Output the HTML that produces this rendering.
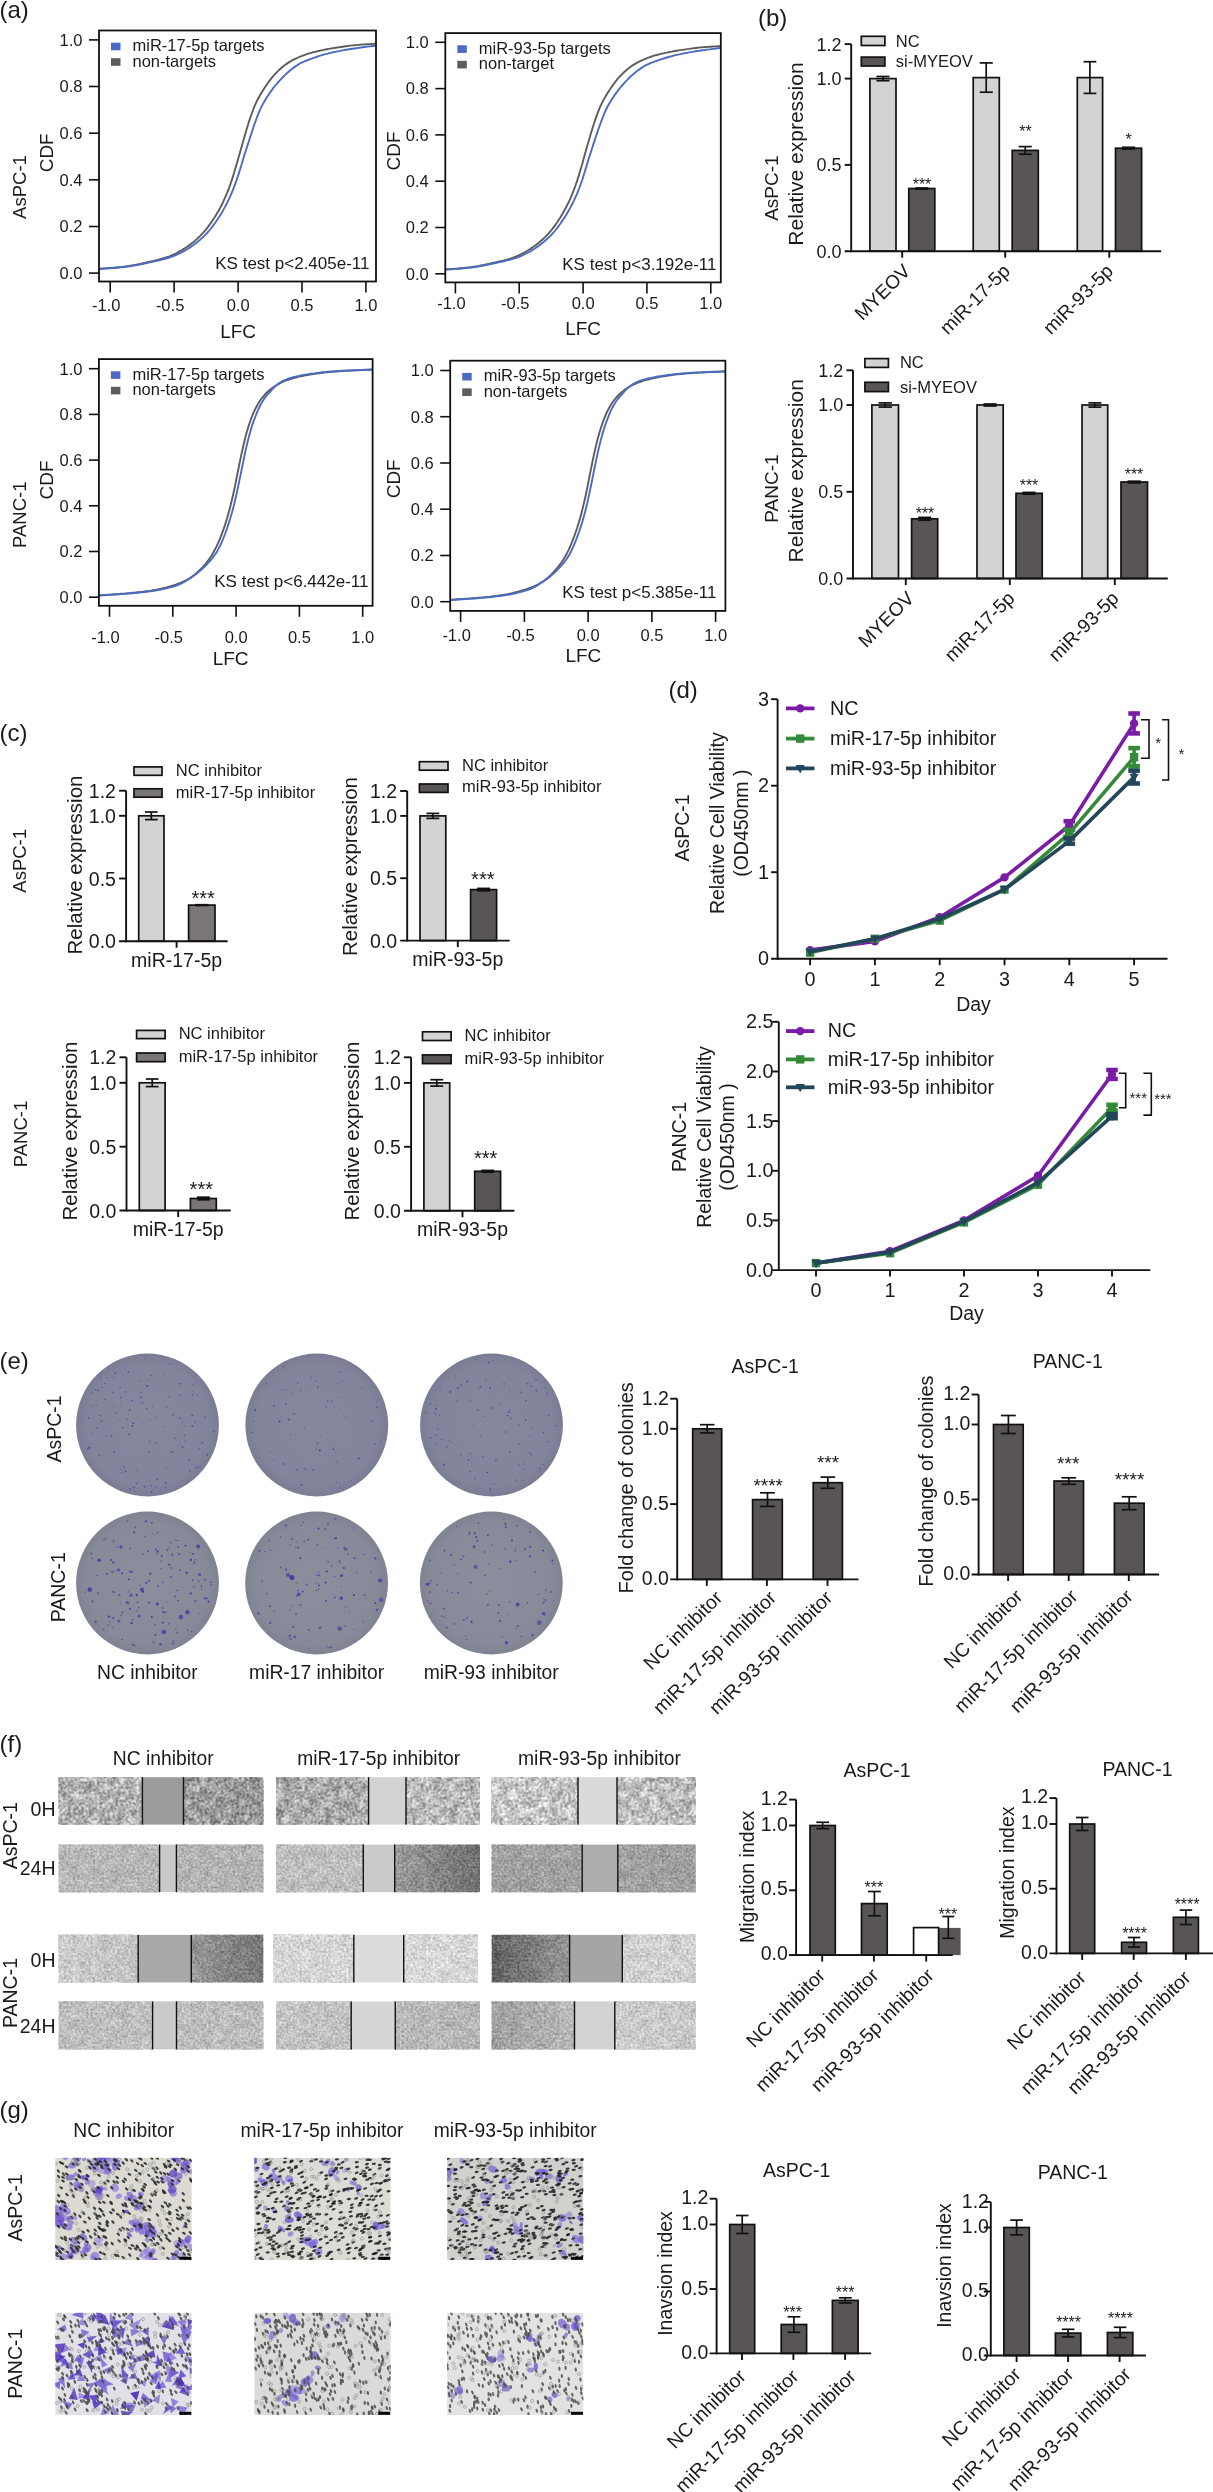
<!DOCTYPE html><html><head><meta charset="utf-8"><style>html,body{margin:0;padding:0;background:#fff;}svg{display:block;will-change:transform;}text{font-family:"Liberation Sans",sans-serif;}</style></head><body><svg width="1213" height="2492" viewBox="0 0 1213 2492" font-family='"Liberation Sans", sans-serif'><defs><clipPath id="clip0"><rect x="99" y="30.5" width="277" height="251"/></clipPath><clipPath id="clip1"><rect x="445.3" y="33.1" width="275.5" height="249.3"/></clipPath><clipPath id="clip2"><rect x="98.9" y="359.1" width="273.7" height="246.7"/></clipPath><clipPath id="clip3"><rect x="450.2" y="360.7" width="275.2" height="250.2"/></clipPath><filter id="nz1" x="0" y="0" width="1" height="1" color-interpolation-filters="sRGB"><feTurbulence type="fractalNoise" baseFrequency="0.12" numOctaves="2" seed="3" result="lo"/><feTurbulence type="fractalNoise" baseFrequency="0.38" numOctaves="1" seed="4" result="hi"/><feComposite in="lo" in2="hi" operator="arithmetic" k1="0" k2="0.4" k3="0.6" k4="0"/><feColorMatrix type="matrix" values="2.7 0 0 0 -0.8500000000000001 2.7 0 0 0 -0.8500000000000001 2.7 0 0 0 -0.8500000000000001 0 0 0 0 0.4"/></filter><filter id="nz2" x="0" y="0" width="1" height="1" color-interpolation-filters="sRGB"><feTurbulence type="fractalNoise" baseFrequency="0.12" numOctaves="2" seed="11" result="lo"/><feTurbulence type="fractalNoise" baseFrequency="0.38" numOctaves="1" seed="12" result="hi"/><feComposite in="lo" in2="hi" operator="arithmetic" k1="0" k2="0.4" k3="0.6" k4="0"/><feColorMatrix type="matrix" values="3.0 0 0 0 -1.0 3.0 0 0 0 -1.0 3.0 0 0 0 -1.0 0 0 0 0 0.4"/></filter><filter id="nz3" x="0" y="0" width="1" height="1" color-interpolation-filters="sRGB"><feTurbulence type="fractalNoise" baseFrequency="0.1" numOctaves="2" seed="5" result="lo"/><feTurbulence type="fractalNoise" baseFrequency="0.45" numOctaves="1" seed="6" result="hi"/><feComposite in="lo" in2="hi" operator="arithmetic" k1="0" k2="0.25" k3="0.75" k4="0"/><feColorMatrix type="matrix" values="2.2 0 0 0 -0.6000000000000001 2.2 0 0 0 -0.6000000000000001 2.2 0 0 0 -0.6000000000000001 0 0 0 0 0.26"/></filter><radialGradient id="plate" cx="0.5" cy="0.5" r="0.5"><stop offset="0" stop-color="#85889d"/><stop offset="0.85" stop-color="#81849a"/><stop offset="1" stop-color="#797c93"/></radialGradient><radialGradient id="plate2" cx="0.5" cy="0.5" r="0.5"><stop offset="0" stop-color="#8b8e9b"/><stop offset="0.85" stop-color="#878a98"/><stop offset="1" stop-color="#7f8291"/></radialGradient><linearGradient id="wg1"><stop offset="0" stop-color="#d0d0d0"/><stop offset="1" stop-color="#d3d3d3"/></linearGradient><linearGradient id="wg2"><stop offset="0" stop-color="#b2b2b2"/><stop offset="1" stop-color="#a8a8a8"/></linearGradient><linearGradient id="wg3"><stop offset="0" stop-color="#c6c6c6"/><stop offset="1" stop-color="#c9c9c9"/></linearGradient><linearGradient id="wg4"><stop offset="0" stop-color="#e4e4e4"/><stop offset="1" stop-color="#dddddd"/></linearGradient><linearGradient id="wg5"><stop offset="0" stop-color="#f8f8f8"/><stop offset="1" stop-color="#f1f1f1"/></linearGradient><linearGradient id="wg6"><stop offset="0" stop-color="#ebebeb"/><stop offset="1" stop-color="#e1e1e1"/></linearGradient><linearGradient id="wg7"><stop offset="0" stop-color="#cccccc"/><stop offset="1" stop-color="#c9c9c9"/></linearGradient><linearGradient id="wg8"><stop offset="0" stop-color="#c6c6c6"/><stop offset="1" stop-color="#c4c4c4"/></linearGradient><linearGradient id="wg9"><stop offset="0" stop-color="#d6d6d6"/><stop offset="1" stop-color="#d4d4d4"/></linearGradient><linearGradient id="wg10"><stop offset="0" stop-color="#a6a6a6"/><stop offset="1" stop-color="#6a6a6a"/></linearGradient><linearGradient id="wg11"><stop offset="0" stop-color="#ababab"/><stop offset="1" stop-color="#aeaeae"/></linearGradient><linearGradient id="wg12"><stop offset="0" stop-color="#aeaeae"/><stop offset="1" stop-color="#a9a9a9"/></linearGradient><linearGradient id="wg13"><stop offset="0" stop-color="#e7e7e7"/><stop offset="1" stop-color="#d9d9d9"/></linearGradient><linearGradient id="wg14"><stop offset="0" stop-color="#9e9e9e"/><stop offset="1" stop-color="#727272"/></linearGradient><linearGradient id="wg15"><stop offset="0" stop-color="#f4f4f4"/><stop offset="1" stop-color="#f2f2f2"/></linearGradient><linearGradient id="wg16"><stop offset="0" stop-color="#f7f7f7"/><stop offset="1" stop-color="#f4f4f4"/></linearGradient><linearGradient id="wg17"><stop offset="0" stop-color="#555555"/><stop offset="1" stop-color="#9e9e9e"/></linearGradient><linearGradient id="wg18"><stop offset="0" stop-color="#ececec"/><stop offset="1" stop-color="#ececec"/></linearGradient><linearGradient id="wg19"><stop offset="0" stop-color="#d4d4d4"/><stop offset="1" stop-color="#d4d4d4"/></linearGradient><linearGradient id="wg20"><stop offset="0" stop-color="#d4d4d4"/><stop offset="1" stop-color="#d1d1d1"/></linearGradient><linearGradient id="wg21"><stop offset="0" stop-color="#dcdcdc"/><stop offset="1" stop-color="#d6d6d6"/></linearGradient><linearGradient id="wg22"><stop offset="0" stop-color="#cecece"/><stop offset="1" stop-color="#c9c9c9"/></linearGradient><linearGradient id="wg23"><stop offset="0" stop-color="#ababab"/><stop offset="1" stop-color="#cccccc"/></linearGradient><linearGradient id="wg24"><stop offset="0" stop-color="#e7e7e7"/><stop offset="1" stop-color="#e1e1e1"/></linearGradient><filter id="soft" x="-20%" y="-20%" width="140%" height="140%"><feGaussianBlur stdDeviation="0.6"/></filter><clipPath id="gc25"><rect x="55.2" y="2157.7" width="136.6" height="102.3"/></clipPath><clipPath id="gc26"><rect x="254.2" y="2157.7" width="136.5" height="102.3"/></clipPath><clipPath id="gc27"><rect x="447.1" y="2157.7" width="136.3" height="102.3"/></clipPath><clipPath id="gc28"><rect x="55.2" y="2312.8" width="136.6" height="102.2"/></clipPath><clipPath id="gc29"><rect x="254.2" y="2312.8" width="136.5" height="102.2"/></clipPath><clipPath id="gc30"><rect x="447.1" y="2312.8" width="136.3" height="102.2"/></clipPath></defs><rect width="1213" height="2492" fill="#fff"/><text x="-0.5" y="17.8" font-size="24" text-anchor="start" fill="#1a1a1a">(a)</text>
<polyline points="94.9,269 96.6,269 98.2,268.9 99.9,268.7 101.6,268.6 103.3,268.5 105,268.4 106.7,268.2 108.4,268.1 110.1,268 111.8,267.9 113.5,267.7 115.2,267.6 116.9,267.4 118.6,267.3 120.3,267.1 122,266.9 123.7,266.7 125.4,266.5 127.1,266.2 128.7,266 130.4,265.7 132.1,265.4 133.8,265.1 135.5,264.8 137.2,264.4 138.9,264.1 140.6,263.7 142.3,263.4 144,263 145.7,262.6 147.4,262.2 149.1,261.9 150.8,261.5 152.5,261.1 154.2,260.7 155.9,260.3 157.6,259.9 159.3,259.5 160.9,259 162.6,258.5 164.3,258 166,257.5 167.7,256.9 169.4,256.3 171.1,255.6 172.8,254.9 174.5,254.1 176.2,253.3 177.9,252.4 179.6,251.4 181.3,250.5 183,249.4 184.7,248.4 186.4,247.3 188.1,246.1 189.8,244.9 191.4,243.6 193.1,242.3 194.8,240.9 196.5,239.4 198.2,237.8 199.9,236.2 201.6,234.4 203.3,232.6 205,230.6 206.7,228.6 208.4,226.4 210.1,224 211.8,221.6 213.5,219 215.2,216.4 216.9,213.6 218.6,210.7 220.3,207.6 222,204.3 223.6,200.9 225.3,197.1 227,193.1 228.7,188.8 230.4,184.2 232.1,179.1 233.8,173.8 235.5,168.1 237.2,162.2 238.9,156.2 240.6,150.2 242.3,144.2 244,138.2 245.7,132.4 247.4,126.8 249.1,121.3 250.8,116.2 252.5,111.5 254.1,107.2 255.8,103.3 257.5,99.8 259.2,96.7 260.9,93.7 262.6,91 264.3,88.3 266,85.8 267.7,83.3 269.4,80.9 271.1,78.7 272.8,76.6 274.5,74.7 276.2,72.8 277.9,71.1 279.6,69.5 281.3,68 283,66.6 284.7,65.3 286.3,64.1 288,62.9 289.7,61.8 291.4,60.9 293.1,59.9 294.8,59.1 296.5,58.3 298.2,57.5 299.9,56.7 301.6,56.1 303.3,55.4 305,54.8 306.7,54.2 308.4,53.6 310.1,53.1 311.8,52.7 313.5,52.2 315.2,51.8 316.8,51.4 318.5,51 320.2,50.6 321.9,50.2 323.6,49.9 325.3,49.5 327,49.2 328.7,48.9 330.4,48.6 332.1,48.3 333.8,48.1 335.5,47.8 337.2,47.5 338.9,47.3 340.6,47 342.3,46.8 344,46.5 345.7,46.3 347.4,46.1 349,45.8 350.7,45.6 352.4,45.4 354.1,45.3 355.8,45.1 357.5,44.9 359.2,44.8 360.9,44.6 362.6,44.5 364.3,44.4 366,44.3 367.7,44.2 369.4,44.1 371.1,44 372.8,43.9 374.5,43.8 376.2,43.7 377.9,43.6 379.5,43.5 381.2,43.5" fill="none" stroke="#5c5c5c" stroke-width="1.9" stroke-linejoin="round" clip-path="url(#clip0)"/>
<polyline points="94.9,269.1 96.6,269.1 98.2,269 99.9,268.9 101.6,268.8 103.3,268.7 105,268.6 106.7,268.5 108.4,268.3 110.1,268.2 111.8,268.1 113.5,267.9 115.2,267.8 116.9,267.7 118.6,267.5 120.3,267.4 122,267.2 123.7,267 125.4,266.8 127.1,266.6 128.7,266.4 130.4,266.2 132.1,265.9 133.8,265.6 135.5,265.3 137.2,265 138.9,264.7 140.6,264.4 142.3,264 144,263.7 145.7,263.3 147.4,262.9 149.1,262.6 150.8,262.2 152.5,261.8 154.2,261.4 155.9,261.1 157.6,260.7 159.3,260.3 160.9,259.9 162.6,259.4 164.3,259 166,258.5 167.7,258 169.4,257.5 171.1,256.9 172.8,256.3 174.5,255.7 176.2,255 177.9,254.2 179.6,253.4 181.3,252.5 183,251.6 184.7,250.7 186.4,249.7 188.1,248.7 189.8,247.6 191.4,246.4 193.1,245.3 194.8,244 196.5,242.7 198.2,241.3 199.9,239.9 201.6,238.4 203.3,236.8 205,235.1 206.7,233.3 208.4,231.5 210.1,229.5 211.8,227.4 213.5,225.1 215.2,222.8 216.9,220.3 218.6,217.8 220.3,215.1 222,212.4 223.6,209.4 225.3,206.4 227,203.1 228.7,199.6 230.4,195.9 232.1,192 233.8,187.7 235.5,183.2 237.2,178.3 238.9,173.1 240.6,167.7 242.3,162 244,156.3 245.7,151 247.4,145.7 249.1,140.5 250.8,135.3 252.5,130.2 254.1,125.3 255.8,120.5 257.5,115.9 259.2,111.6 260.9,107.9 262.6,104.6 264.3,101.5 266,98.7 267.7,96 269.4,93.5 271.1,91.1 272.8,88.7 274.5,86.5 276.2,84.5 277.9,82.5 279.6,80.6 281.3,78.8 283,77 284.7,75.4 286.3,73.8 288,72.3 289.7,70.8 291.4,69.5 293.1,68.1 294.8,66.9 296.5,65.7 298.2,64.6 299.9,63.5 301.6,62.6 303.3,61.9 305,61.2 306.7,60.5 308.4,59.8 310.1,59.2 311.8,58.6 313.5,57.9 315.2,57.4 316.8,56.8 318.5,56.2 320.2,55.7 321.9,55.2 323.6,54.7 325.3,54.2 327,53.8 328.7,53.3 330.4,52.9 332.1,52.5 333.8,52.1 335.5,51.8 337.2,51.4 338.9,51.1 340.6,50.7 342.3,50.4 344,50.1 345.7,49.8 347.4,49.5 349,49.3 350.7,49 352.4,48.7 354.1,48.5 355.8,48.2 357.5,48 359.2,47.7 360.9,47.5 362.6,47.2 364.3,47 366,46.8 367.7,46.6 369.4,46.4 371.1,46.2 372.8,46 374.5,45.8 376.2,45.6 377.9,45.4 379.5,45.2 381.2,45.1" fill="none" stroke="#4a6bc4" stroke-width="1.9" stroke-linejoin="round" clip-path="url(#clip0)"/>
<rect x="99" y="30.5" width="277" height="251" fill="none" stroke="#111" stroke-width="1.8"/>
<line x1="89" y1="273.1" x2="99" y2="273.1" stroke="#111" stroke-width="1.6"/>
<text x="82.5" y="278.9" font-size="16.5" text-anchor="end" fill="#1a1a1a">0.0</text>
<line x1="89" y1="226.5" x2="99" y2="226.5" stroke="#111" stroke-width="1.6"/>
<text x="82.5" y="232.3" font-size="16.5" text-anchor="end" fill="#1a1a1a">0.2</text>
<line x1="89" y1="179.8" x2="99" y2="179.8" stroke="#111" stroke-width="1.6"/>
<text x="82.5" y="185.6" font-size="16.5" text-anchor="end" fill="#1a1a1a">0.4</text>
<line x1="89" y1="133.2" x2="99" y2="133.2" stroke="#111" stroke-width="1.6"/>
<text x="82.5" y="139" font-size="16.5" text-anchor="end" fill="#1a1a1a">0.6</text>
<line x1="89" y1="86.5" x2="99" y2="86.5" stroke="#111" stroke-width="1.6"/>
<text x="82.5" y="92.3" font-size="16.5" text-anchor="end" fill="#1a1a1a">0.8</text>
<line x1="89" y1="39.9" x2="99" y2="39.9" stroke="#111" stroke-width="1.6"/>
<text x="82.5" y="45.7" font-size="16.5" text-anchor="end" fill="#1a1a1a">1.0</text>
<line x1="110.2" y1="281.5" x2="110.2" y2="292.5" stroke="#111" stroke-width="1.6"/>
<text x="106.2" y="311.4" font-size="16.5" text-anchor="middle" fill="#1a1a1a">-1.0</text>
<line x1="174.1" y1="281.5" x2="174.1" y2="292.5" stroke="#111" stroke-width="1.6"/>
<text x="170.1" y="311.4" font-size="16.5" text-anchor="middle" fill="#1a1a1a">-0.5</text>
<line x1="238.1" y1="281.5" x2="238.1" y2="292.5" stroke="#111" stroke-width="1.6"/>
<text x="238.1" y="311.4" font-size="16.5" text-anchor="middle" fill="#1a1a1a">0.0</text>
<line x1="302" y1="281.5" x2="302" y2="292.5" stroke="#111" stroke-width="1.6"/>
<text x="302" y="311.4" font-size="16.5" text-anchor="middle" fill="#1a1a1a">0.5</text>
<line x1="365.9" y1="281.5" x2="365.9" y2="292.5" stroke="#111" stroke-width="1.6"/>
<text x="365.9" y="311.4" font-size="16.5" text-anchor="middle" fill="#1a1a1a">1.0</text>
<text x="238.1" y="337.7" font-size="19" text-anchor="middle" fill="#1a1a1a">LFC</text>
<text transform="translate(53,152.8) rotate(-90)" font-size="19" text-anchor="middle" fill="#1a1a1a">CDF</text>
<text transform="translate(25.5,187) rotate(-90)" font-size="18.5" text-anchor="middle" fill="#1a1a1a">AsPC-1</text>
<rect x="111" y="42.7" width="9.5" height="7.6" fill="#4a6bc4" stroke="none" stroke-width="0"/>
<rect x="111" y="58.2" width="9.5" height="7.6" fill="#5c5c5c" stroke="none" stroke-width="0"/>
<text x="132.5" y="51" font-size="16.5" text-anchor="start" fill="#1a1a1a">miR-17-5p targets</text>
<text x="132.5" y="66.5" font-size="16.5" text-anchor="start" fill="#1a1a1a">non-targets</text>
<text x="369.5" y="268.8" font-size="17" text-anchor="end" fill="#1a1a1a">KS test p&lt;2.405e-11</text>
<polyline points="440.1,269.8 441.8,269.7 443.5,269.6 445.2,269.5 446.8,269.3 448.5,269.2 450.2,269.1 451.9,269 453.6,268.9 455.3,268.7 457,268.6 458.7,268.5 460.4,268.3 462.1,268.2 463.8,268 465.5,267.8 467.2,267.6 468.9,267.4 470.5,267.2 472.2,267 473.9,266.7 475.6,266.5 477.3,266.2 479,265.9 480.7,265.5 482.4,265.2 484.1,264.9 485.8,264.5 487.5,264.1 489.2,263.8 490.9,263.4 492.5,263 494.2,262.6 495.9,262.3 497.6,261.9 499.3,261.5 501,261.1 502.7,260.7 504.4,260.3 506.1,259.8 507.8,259.3 509.5,258.8 511.2,258.3 512.9,257.7 514.6,257.1 516.2,256.5 517.9,255.7 519.6,255 521.3,254.1 523,253.2 524.7,252.3 526.4,251.3 528.1,250.3 529.8,249.2 531.5,248.1 533.2,247 534.9,245.8 536.6,244.5 538.2,243.2 539.9,241.8 541.6,240.3 543.3,238.8 545,237.1 546.7,235.4 548.4,233.6 550.1,231.6 551.8,229.6 553.5,227.4 555.2,225.1 556.9,222.7 558.6,220.1 560.3,217.5 561.9,214.7 563.6,211.8 565.3,208.8 567,205.5 568.7,202.1 570.4,198.4 572.1,194.4 573.8,190.1 575.5,185.5 577.2,180.5 578.9,175.2 580.6,169.5 582.3,163.7 583.9,157.7 585.6,151.8 587.3,145.8 589,139.9 590.7,134.1 592.4,128.5 594.1,123.2 595.8,118.1 597.5,113.4 599.2,109.1 600.9,105.2 602.6,101.8 604.3,98.6 605.9,95.7 607.6,93 609.3,90.4 611,87.8 612.7,85.4 614.4,83 616.1,80.8 617.8,78.7 619.5,76.8 621.2,75 622.9,73.3 624.6,71.7 626.3,70.2 628,68.8 629.6,67.5 631.3,66.3 633,65.1 634.7,64.1 636.4,63.1 638.1,62.2 639.8,61.3 641.5,60.5 643.2,59.8 644.9,59 646.6,58.3 648.3,57.7 650,57.1 651.6,56.5 653.3,55.9 655,55.4 656.7,55 658.4,54.5 660.1,54.1 661.8,53.7 663.5,53.3 665.2,52.9 666.9,52.6 668.6,52.2 670.3,51.9 672,51.6 673.7,51.3 675.3,51 677,50.7 678.7,50.4 680.4,50.1 682.1,49.9 683.8,49.6 685.5,49.4 687.2,49.1 688.9,48.9 690.6,48.6 692.3,48.4 694,48.2 695.7,48 697.3,47.8 699,47.6 700.7,47.4 702.4,47.3 704.1,47.1 705.8,47 707.5,46.9 709.2,46.8 710.9,46.7 712.6,46.5 714.3,46.4 716,46.4 717.7,46.3 719.4,46.2 721,46.1 722.7,46 724.4,45.9 726.1,45.8" fill="none" stroke="#5c5c5c" stroke-width="1.9" stroke-linejoin="round" clip-path="url(#clip1)"/>
<polyline points="440.1,269.8 441.8,269.8 443.5,269.7 445.2,269.7 446.8,269.5 448.5,269.4 450.2,269.3 451.9,269.2 453.6,269.1 455.3,268.9 457,268.8 458.7,268.7 460.4,268.5 462.1,268.4 463.8,268.3 465.5,268.1 467.2,267.9 468.9,267.8 470.5,267.6 472.2,267.4 473.9,267.2 475.6,266.9 477.3,266.7 479,266.4 480.7,266.1 482.4,265.8 484.1,265.5 485.8,265.1 487.5,264.8 489.2,264.4 490.9,264.1 492.5,263.7 494.2,263.3 495.9,263 497.6,262.6 499.3,262.2 501,261.8 502.7,261.5 504.4,261.1 506.1,260.7 507.8,260.2 509.5,259.8 511.2,259.3 512.9,258.8 514.6,258.3 516.2,257.8 517.9,257.2 519.6,256.5 521.3,255.8 523,255.1 524.7,254.2 526.4,253.4 528.1,252.5 529.8,251.6 531.5,250.6 533.2,249.5 534.9,248.5 536.6,247.3 538.2,246.2 539.9,244.9 541.6,243.6 543.3,242.3 545,240.8 546.7,239.3 548.4,237.7 550.1,236.1 551.8,234.3 553.5,232.5 555.2,230.5 556.9,228.4 558.6,226.2 560.3,223.8 561.9,221.4 563.6,218.9 565.3,216.3 567,213.5 568.7,210.6 570.4,207.6 572.1,204.3 573.8,200.9 575.5,197.2 577.2,193.3 578.9,189.1 580.6,184.5 582.3,179.7 583.9,174.5 585.6,169.1 587.3,163.5 589,157.9 590.7,152.6 592.4,147.3 594.1,142.1 595.8,137 597.5,131.9 599.2,127 600.9,122.3 602.6,117.8 604.3,113.5 605.9,109.8 607.6,106.5 609.3,103.5 611,100.7 612.7,98 614.4,95.5 616.1,93.1 617.8,90.8 619.5,88.6 621.2,86.5 622.9,84.6 624.6,82.7 626.3,80.9 628,79.2 629.6,77.5 631.3,75.9 633,74.4 634.7,73 636.4,71.6 638.1,70.3 639.8,69.1 641.5,67.9 643.2,66.8 644.9,65.7 646.6,64.9 648.3,64.1 650,63.4 651.6,62.7 653.3,62.1 655,61.4 656.7,60.8 658.4,60.2 660.1,59.6 661.8,59.1 663.5,58.5 665.2,58 666.9,57.5 668.6,57 670.3,56.5 672,56.1 673.7,55.6 675.3,55.2 677,54.8 678.7,54.4 680.4,54.1 682.1,53.7 683.8,53.4 685.5,53.1 687.2,52.8 688.9,52.4 690.6,52.1 692.3,51.9 694,51.6 695.7,51.3 697.3,51 699,50.8 700.7,50.5 702.4,50.3 704.1,50.1 705.8,49.8 707.5,49.6 709.2,49.4 710.9,49.1 712.6,48.9 714.3,48.7 716,48.5 717.7,48.3 719.4,48.1 721,47.9 722.7,47.8 724.4,47.6 726.1,47.4" fill="none" stroke="#4a6bc4" stroke-width="1.9" stroke-linejoin="round" clip-path="url(#clip1)"/>
<rect x="445.3" y="33.1" width="275.5" height="249.3" fill="none" stroke="#111" stroke-width="1.8"/>
<line x1="435.3" y1="273.8" x2="445.3" y2="273.8" stroke="#111" stroke-width="1.6"/>
<text x="428.8" y="279.6" font-size="16.5" text-anchor="end" fill="#1a1a1a">0.0</text>
<line x1="435.3" y1="227.5" x2="445.3" y2="227.5" stroke="#111" stroke-width="1.6"/>
<text x="428.8" y="233.3" font-size="16.5" text-anchor="end" fill="#1a1a1a">0.2</text>
<line x1="435.3" y1="181.2" x2="445.3" y2="181.2" stroke="#111" stroke-width="1.6"/>
<text x="428.8" y="187" font-size="16.5" text-anchor="end" fill="#1a1a1a">0.4</text>
<line x1="435.3" y1="134.9" x2="445.3" y2="134.9" stroke="#111" stroke-width="1.6"/>
<text x="428.8" y="140.7" font-size="16.5" text-anchor="end" fill="#1a1a1a">0.6</text>
<line x1="435.3" y1="88.6" x2="445.3" y2="88.6" stroke="#111" stroke-width="1.6"/>
<text x="428.8" y="94.4" font-size="16.5" text-anchor="end" fill="#1a1a1a">0.8</text>
<line x1="435.3" y1="42.3" x2="445.3" y2="42.3" stroke="#111" stroke-width="1.6"/>
<text x="428.8" y="48.1" font-size="16.5" text-anchor="end" fill="#1a1a1a">1.0</text>
<line x1="455.4" y1="282.4" x2="455.4" y2="293.4" stroke="#111" stroke-width="1.6"/>
<text x="451.4" y="309.2" font-size="16.5" text-anchor="middle" fill="#1a1a1a">-1.0</text>
<line x1="519.2" y1="282.4" x2="519.2" y2="293.4" stroke="#111" stroke-width="1.6"/>
<text x="515.2" y="309.2" font-size="16.5" text-anchor="middle" fill="#1a1a1a">-0.5</text>
<line x1="583.1" y1="282.4" x2="583.1" y2="293.4" stroke="#111" stroke-width="1.6"/>
<text x="583.1" y="309.2" font-size="16.5" text-anchor="middle" fill="#1a1a1a">0.0</text>
<line x1="646.9" y1="282.4" x2="646.9" y2="293.4" stroke="#111" stroke-width="1.6"/>
<text x="646.9" y="309.2" font-size="16.5" text-anchor="middle" fill="#1a1a1a">0.5</text>
<line x1="710.8" y1="282.4" x2="710.8" y2="293.4" stroke="#111" stroke-width="1.6"/>
<text x="710.8" y="309.2" font-size="16.5" text-anchor="middle" fill="#1a1a1a">1.0</text>
<text x="583.1" y="334.8" font-size="19" text-anchor="middle" fill="#1a1a1a">LFC</text>
<text transform="translate(399.7,151) rotate(-90)" font-size="19" text-anchor="middle" fill="#1a1a1a">CDF</text>
<rect x="457.3" y="45.3" width="9.5" height="7.6" fill="#4a6bc4" stroke="none" stroke-width="0"/>
<rect x="457.3" y="60.8" width="9.5" height="7.6" fill="#5c5c5c" stroke="none" stroke-width="0"/>
<text x="478.8" y="53.6" font-size="16.5" text-anchor="start" fill="#1a1a1a">miR-93-5p targets</text>
<text x="478.8" y="69.1" font-size="16.5" text-anchor="start" fill="#1a1a1a">non-target</text>
<text x="716.5" y="269.5" font-size="17" text-anchor="end" fill="#1a1a1a">KS test p&lt;3.192e-11</text>
<polyline points="94.3,595.5 96,595.5 97.7,595.4 99.3,595.3 101,595.2 102.7,595.1 104.4,595 106.1,594.9 107.7,594.8 109.4,594.7 111.1,594.6 112.8,594.4 114.4,594.3 116.1,594.2 117.8,594.1 119.5,594 121.2,593.8 122.8,593.7 124.5,593.6 126.2,593.4 127.9,593.3 129.5,593.1 131.2,593 132.9,592.8 134.6,592.7 136.3,592.5 137.9,592.3 139.6,592.1 141.3,592 143,591.8 144.6,591.5 146.3,591.3 148,591.1 149.7,590.9 151.4,590.6 153,590.3 154.7,590 156.4,589.7 158.1,589.3 159.8,589 161.4,588.6 163.1,588.2 164.8,587.7 166.5,587.3 168.1,586.8 169.8,586.4 171.5,585.9 173.2,585.4 174.9,584.8 176.5,584.3 178.2,583.7 179.9,583.1 181.6,582.4 183.2,581.7 184.9,580.9 186.6,580.1 188.3,579.1 190,578.1 191.6,577 193.3,575.7 195,574.4 196.7,572.9 198.3,571.4 200,569.8 201.7,568.1 203.4,566.3 205.1,564.3 206.7,562.3 208.4,560.1 210.1,557.7 211.8,555.2 213.4,552.3 215.1,549.3 216.8,545.9 218.5,542.2 220.2,538.2 221.8,533.9 223.5,529.3 225.2,524.4 226.9,519 228.5,513.2 230.2,506.9 231.9,500 233.6,492.5 235.3,484.6 236.9,476.4 238.6,468 240.3,459.6 242,451.6 243.7,444.2 245.3,437.4 247,431.2 248.7,425.7 250.4,420.8 252,416.3 253.7,412.3 255.4,408.7 257.1,405.5 258.8,402.6 260.4,400.1 262.1,397.8 263.8,395.8 265.5,393.9 267.1,392.2 268.8,390.7 270.5,389.3 272.2,388 273.9,386.8 275.5,385.7 277.2,384.7 278.9,383.8 280.6,382.9 282.2,382.1 283.9,381.4 285.6,380.7 287.3,380.1 289,379.6 290.6,379 292.3,378.5 294,378 295.7,377.6 297.3,377.1 299,376.7 300.7,376.3 302.4,376 304.1,375.6 305.7,375.3 307.4,375 309.1,374.7 310.8,374.4 312.4,374.2 314.1,373.9 315.8,373.7 317.5,373.4 319.2,373.2 320.8,373 322.5,372.8 324.2,372.6 325.9,372.4 327.6,372.2 329.2,372 330.9,371.9 332.6,371.7 334.3,371.6 335.9,371.5 337.6,371.3 339.3,371.2 341,371.1 342.7,371 344.3,370.9 346,370.8 347.7,370.7 349.4,370.6 351,370.6 352.7,370.5 354.4,370.4 356.1,370.3 357.8,370.3 359.4,370.2 361.1,370.1 362.8,370 364.5,370 366.1,369.9 367.8,369.8 369.5,369.8 371.2,369.7 372.9,369.6 374.5,369.6 376.2,369.5 377.9,369.4" fill="none" stroke="#5c5c5c" stroke-width="1.9" stroke-linejoin="round" clip-path="url(#clip2)"/>
<polyline points="94.3,595.6 96,595.6 97.7,595.5 99.3,595.5 101,595.4 102.7,595.3 104.4,595.2 106.1,595.1 107.7,595 109.4,594.9 111.1,594.8 112.8,594.7 114.4,594.6 116.1,594.5 117.8,594.4 119.5,594.2 121.2,594.1 122.8,594 124.5,593.9 126.2,593.7 127.9,593.6 129.5,593.5 131.2,593.3 132.9,593.2 134.6,593 136.3,592.9 137.9,592.7 139.6,592.5 141.3,592.4 143,592.2 144.6,592 146.3,591.8 148,591.6 149.7,591.4 151.4,591.2 153,590.9 154.7,590.7 156.4,590.4 158.1,590.1 159.8,589.8 161.4,589.4 163.1,589.1 164.8,588.7 166.5,588.3 168.1,587.8 169.8,587.4 171.5,587 173.2,586.5 174.9,586 176.5,585.5 178.2,584.8 179.9,584.1 181.6,583.4 183.2,582.5 184.9,581.6 186.6,580.5 188.3,579.2 190,578.2 191.6,577.1 193.3,576 195,574.8 196.7,573.6 198.3,572.2 200,570.8 201.7,569.4 203.4,567.8 205.1,566.2 206.7,564.5 208.4,562.7 210.1,560.8 211.8,558.8 213.4,556.6 215.1,554.4 216.8,551.9 218.5,548.9 220.2,545.5 221.8,541.8 223.5,537.8 225.2,533.5 226.9,528.9 228.5,523.9 230.2,518.6 231.9,512.8 233.6,506.4 235.3,499.6 236.9,492.2 238.6,484.3 240.3,476.1 242,467.8 243.7,459.5 245.3,451.6 247,444.2 248.7,437.4 250.4,431.3 252,425.9 253.7,420.9 255.4,416.5 257.1,412.3 258.8,408.4 260.4,405 262.1,402 263.8,399.4 265.5,397 267.1,395 268.8,393.1 270.5,391.4 272.2,389.4 273.9,387.6 275.5,386.1 277.2,384.7 278.9,383.4 280.6,382.3 282.2,381.3 283.9,380.5 285.6,379.8 287.3,379.1 289,378.5 290.6,377.9 292.3,377.5 294,377 295.7,376.6 297.3,376.2 299,375.9 300.7,375.5 302.4,375.2 304.1,374.9 305.7,374.6 307.4,374.4 309.1,374.1 310.8,373.8 312.4,373.6 314.1,373.4 315.8,373.1 317.5,372.9 319.2,372.7 320.8,372.5 322.5,372.3 324.2,372.1 325.9,372 327.6,371.8 329.2,371.7 330.9,371.5 332.6,371.4 334.3,371.3 335.9,371.2 337.6,371.1 339.3,371 341,370.9 342.7,370.8 344.3,370.7 346,370.6 347.7,370.5 349.4,370.5 351,370.4 352.7,370.3 354.4,370.2 356.1,370.2 357.8,370.1 359.4,370 361.1,370 362.8,369.9 364.5,369.8 366.1,369.7 367.8,369.7 369.5,369.6 371.2,369.5 372.9,369.5 374.5,369.4 376.2,369.4 377.9,369.4" fill="none" stroke="#4a6bc4" stroke-width="1.9" stroke-linejoin="round" clip-path="url(#clip2)"/>
<rect x="98.9" y="359.1" width="273.7" height="246.7" fill="none" stroke="#111" stroke-width="1.8"/>
<line x1="88.9" y1="597.2" x2="98.9" y2="597.2" stroke="#111" stroke-width="1.6"/>
<text x="82.4" y="603" font-size="16.5" text-anchor="end" fill="#1a1a1a">0.0</text>
<line x1="88.9" y1="551.5" x2="98.9" y2="551.5" stroke="#111" stroke-width="1.6"/>
<text x="82.4" y="557.3" font-size="16.5" text-anchor="end" fill="#1a1a1a">0.2</text>
<line x1="88.9" y1="505.8" x2="98.9" y2="505.8" stroke="#111" stroke-width="1.6"/>
<text x="82.4" y="511.6" font-size="16.5" text-anchor="end" fill="#1a1a1a">0.4</text>
<line x1="88.9" y1="460.1" x2="98.9" y2="460.1" stroke="#111" stroke-width="1.6"/>
<text x="82.4" y="465.9" font-size="16.5" text-anchor="end" fill="#1a1a1a">0.6</text>
<line x1="88.9" y1="414.4" x2="98.9" y2="414.4" stroke="#111" stroke-width="1.6"/>
<text x="82.4" y="420.2" font-size="16.5" text-anchor="end" fill="#1a1a1a">0.8</text>
<line x1="88.9" y1="368.7" x2="98.9" y2="368.7" stroke="#111" stroke-width="1.6"/>
<text x="82.4" y="374.5" font-size="16.5" text-anchor="end" fill="#1a1a1a">1.0</text>
<line x1="109.5" y1="605.8" x2="109.5" y2="616.8" stroke="#111" stroke-width="1.6"/>
<text x="105.5" y="642.7" font-size="16.5" text-anchor="middle" fill="#1a1a1a">-1.0</text>
<line x1="172.8" y1="605.8" x2="172.8" y2="616.8" stroke="#111" stroke-width="1.6"/>
<text x="168.8" y="642.7" font-size="16.5" text-anchor="middle" fill="#1a1a1a">-0.5</text>
<line x1="236.1" y1="605.8" x2="236.1" y2="616.8" stroke="#111" stroke-width="1.6"/>
<text x="236.1" y="642.7" font-size="16.5" text-anchor="middle" fill="#1a1a1a">0.0</text>
<line x1="299.4" y1="605.8" x2="299.4" y2="616.8" stroke="#111" stroke-width="1.6"/>
<text x="299.4" y="642.7" font-size="16.5" text-anchor="middle" fill="#1a1a1a">0.5</text>
<line x1="362.7" y1="605.8" x2="362.7" y2="616.8" stroke="#111" stroke-width="1.6"/>
<text x="362.7" y="642.7" font-size="16.5" text-anchor="middle" fill="#1a1a1a">1.0</text>
<text x="230.6" y="664.8" font-size="19" text-anchor="middle" fill="#1a1a1a">LFC</text>
<text transform="translate(52.8,480) rotate(-90)" font-size="19" text-anchor="middle" fill="#1a1a1a">CDF</text>
<text transform="translate(25.5,514.8) rotate(-90)" font-size="18.5" text-anchor="middle" fill="#1a1a1a">PANC-1</text>
<rect x="110.9" y="371.3" width="9.5" height="7.6" fill="#4a6bc4" stroke="none" stroke-width="0"/>
<rect x="110.9" y="386.8" width="9.5" height="7.6" fill="#5c5c5c" stroke="none" stroke-width="0"/>
<text x="132.4" y="379.6" font-size="16.5" text-anchor="start" fill="#1a1a1a">miR-17-5p targets</text>
<text x="132.4" y="395.1" font-size="16.5" text-anchor="start" fill="#1a1a1a">non-targets</text>
<text x="368.5" y="586.7" font-size="17" text-anchor="end" fill="#1a1a1a">KS test p&lt;6.442e-11</text>
<polyline points="445.3,600 447,599.9 448.7,599.9 450.4,599.8 452.1,599.7 453.7,599.6 455.4,599.4 457.1,599.3 458.8,599.2 460.5,599.1 462.2,599 463.9,598.9 465.6,598.8 467.3,598.7 469,598.6 470.6,598.4 472.3,598.3 474,598.2 475.7,598 477.4,597.9 479.1,597.7 480.8,597.6 482.5,597.4 484.2,597.3 485.9,597.1 487.5,596.9 489.2,596.8 490.9,596.6 492.6,596.4 494.3,596.2 496,596 497.7,595.8 499.4,595.5 501.1,595.3 502.8,595 504.4,594.7 506.1,594.4 507.8,594.1 509.5,593.7 511.2,593.4 512.9,593 514.6,592.5 516.3,592.1 518,591.7 519.7,591.2 521.3,590.7 523,590.2 524.7,589.7 526.4,589.2 528.1,588.6 529.8,588 531.5,587.4 533.2,586.7 534.9,586 536.6,585.2 538.2,584.4 539.9,583.4 541.6,582.4 543.3,581.2 545,580 546.7,578.6 548.4,577.1 550.1,575.6 551.8,573.9 553.5,572.2 555.1,570.4 556.8,568.5 558.5,566.4 560.2,564.2 561.9,561.8 563.6,559.2 565.3,556.3 567,553.2 568.7,549.8 570.4,546 572,542 573.7,537.7 575.4,533 577.1,528 578.8,522.6 580.5,516.7 582.2,510.3 583.9,503.3 585.6,495.8 587.3,487.8 588.9,479.4 590.6,470.9 592.3,462.5 594,454.4 595.7,446.9 597.4,440 599.1,433.8 600.8,428.2 602.5,423.2 604.2,418.7 605.8,414.7 607.5,411 609.2,407.7 610.9,404.8 612.6,402.3 614.3,400 616,397.9 617.7,396 619.4,394.3 621.1,392.8 622.7,391.4 624.4,390.1 626.1,388.9 627.8,387.7 629.5,386.7 631.2,385.7 632.9,384.9 634.6,384.1 636.3,383.3 638,382.7 639.6,382.1 641.3,381.5 643,380.9 644.7,380.4 646.4,379.9 648.1,379.5 649.8,379 651.5,378.6 653.2,378.2 654.9,377.9 656.5,377.5 658.2,377.2 659.9,376.9 661.6,376.6 663.3,376.3 665,376 666.7,375.8 668.4,375.5 670.1,375.3 671.8,375 673.4,374.8 675.1,374.6 676.8,374.4 678.5,374.2 680.2,374 681.9,373.9 683.6,373.7 685.3,373.6 687,373.4 688.7,373.3 690.3,373.2 692,373 693.7,372.9 695.4,372.8 697.1,372.7 698.8,372.6 700.5,372.6 702.2,372.5 703.9,372.4 705.6,372.3 707.2,372.2 708.9,372.1 710.6,372.1 712.3,372 714,371.9 715.7,371.9 717.4,371.8 719.1,371.7 720.8,371.6 722.5,371.6 724.1,371.5 725.8,371.4 727.5,371.4 729.2,371.3 730.9,371.3" fill="none" stroke="#5c5c5c" stroke-width="1.9" stroke-linejoin="round" clip-path="url(#clip3)"/>
<polyline points="445.3,600.1 447,600.1 448.7,600 450.4,600 452.1,599.9 453.7,599.8 455.4,599.7 457.1,599.6 458.8,599.5 460.5,599.4 462.2,599.3 463.9,599.2 465.6,599.1 467.3,598.9 469,598.8 470.6,598.7 472.3,598.6 474,598.5 475.7,598.3 477.4,598.2 479.1,598.1 480.8,597.9 482.5,597.8 484.2,597.6 485.9,597.5 487.5,597.3 489.2,597.2 490.9,597 492.6,596.8 494.3,596.6 496,596.4 497.7,596.2 499.4,596 501.1,595.8 502.8,595.6 504.4,595.3 506.1,595.1 507.8,594.8 509.5,594.5 511.2,594.2 512.9,593.8 514.6,593.5 516.3,593.1 518,592.7 519.7,592.2 521.3,591.8 523,591.3 524.7,590.9 526.4,590.4 528.1,589.8 529.8,589.2 531.5,588.5 533.2,587.7 534.9,586.9 536.6,585.9 538.2,584.8 539.9,583.5 541.6,582.4 543.3,581.4 545,580.3 546.7,579.1 548.4,577.8 550.1,576.4 551.8,575 553.5,573.6 555.1,572 556.8,570.3 558.5,568.6 560.2,566.8 561.9,564.9 563.6,562.8 565.3,560.7 567,558.4 568.7,555.9 570.4,552.8 572,549.4 573.7,545.6 575.4,541.6 577.1,537.2 578.8,532.6 580.5,527.6 582.2,522.2 583.9,516.3 585.6,509.9 587.3,502.9 588.9,495.4 590.6,487.5 592.3,479.2 594,470.7 595.7,462.4 597.4,454.4 599.1,446.9 600.8,440.1 602.5,433.9 604.2,428.3 605.8,423.3 607.5,418.8 609.2,414.6 610.9,410.7 612.6,407.2 614.3,404.2 616,401.5 617.7,399.2 619.4,397.1 621.1,395.2 622.7,393.5 624.4,391.4 626.1,389.6 627.8,388.1 629.5,386.7 631.2,385.3 632.9,384.2 634.6,383.3 636.3,382.4 638,381.7 639.6,381 641.3,380.4 643,379.8 644.7,379.4 646.4,378.9 648.1,378.5 649.8,378.1 651.5,377.8 653.2,377.4 654.9,377.1 656.5,376.8 658.2,376.5 659.9,376.2 661.6,376 663.3,375.7 665,375.5 666.7,375.2 668.4,375 670.1,374.8 671.8,374.6 673.4,374.4 675.1,374.2 676.8,374 678.5,373.8 680.2,373.7 681.9,373.5 683.6,373.4 685.3,373.3 687,373.1 688.7,373 690.3,372.9 692,372.8 693.7,372.7 695.4,372.6 697.1,372.5 698.8,372.4 700.5,372.4 702.2,372.3 703.9,372.2 705.6,372.1 707.2,372.1 708.9,372 710.6,371.9 712.3,371.8 714,371.8 715.7,371.7 717.4,371.6 719.1,371.6 720.8,371.5 722.5,371.4 724.1,371.3 725.8,371.3 727.5,371.2 729.2,371.2 730.9,371.2" fill="none" stroke="#4a6bc4" stroke-width="1.9" stroke-linejoin="round" clip-path="url(#clip3)"/>
<rect x="450.2" y="360.7" width="275.2" height="250.2" fill="none" stroke="#111" stroke-width="1.8"/>
<line x1="440.2" y1="601.7" x2="450.2" y2="601.7" stroke="#111" stroke-width="1.6"/>
<text x="433.7" y="607.5" font-size="16.5" text-anchor="end" fill="#1a1a1a">0.0</text>
<line x1="440.2" y1="555.5" x2="450.2" y2="555.5" stroke="#111" stroke-width="1.6"/>
<text x="433.7" y="561.3" font-size="16.5" text-anchor="end" fill="#1a1a1a">0.2</text>
<line x1="440.2" y1="509.2" x2="450.2" y2="509.2" stroke="#111" stroke-width="1.6"/>
<text x="433.7" y="515" font-size="16.5" text-anchor="end" fill="#1a1a1a">0.4</text>
<line x1="440.2" y1="463" x2="450.2" y2="463" stroke="#111" stroke-width="1.6"/>
<text x="433.7" y="468.8" font-size="16.5" text-anchor="end" fill="#1a1a1a">0.6</text>
<line x1="440.2" y1="416.7" x2="450.2" y2="416.7" stroke="#111" stroke-width="1.6"/>
<text x="433.7" y="422.5" font-size="16.5" text-anchor="end" fill="#1a1a1a">0.8</text>
<line x1="440.2" y1="370.5" x2="450.2" y2="370.5" stroke="#111" stroke-width="1.6"/>
<text x="433.7" y="376.3" font-size="16.5" text-anchor="end" fill="#1a1a1a">1.0</text>
<line x1="460.6" y1="610.9" x2="460.6" y2="621.9" stroke="#111" stroke-width="1.6"/>
<text x="456.6" y="640.5" font-size="16.5" text-anchor="middle" fill="#1a1a1a">-1.0</text>
<line x1="524.4" y1="610.9" x2="524.4" y2="621.9" stroke="#111" stroke-width="1.6"/>
<text x="520.4" y="640.5" font-size="16.5" text-anchor="middle" fill="#1a1a1a">-0.5</text>
<line x1="588.1" y1="610.9" x2="588.1" y2="621.9" stroke="#111" stroke-width="1.6"/>
<text x="588.1" y="640.5" font-size="16.5" text-anchor="middle" fill="#1a1a1a">0.0</text>
<line x1="651.9" y1="610.9" x2="651.9" y2="621.9" stroke="#111" stroke-width="1.6"/>
<text x="651.9" y="640.5" font-size="16.5" text-anchor="middle" fill="#1a1a1a">0.5</text>
<line x1="715.6" y1="610.9" x2="715.6" y2="621.9" stroke="#111" stroke-width="1.6"/>
<text x="715.6" y="640.5" font-size="16.5" text-anchor="middle" fill="#1a1a1a">1.0</text>
<text x="583.4" y="661.8" font-size="19" text-anchor="middle" fill="#1a1a1a">LFC</text>
<text transform="translate(399.7,478.8) rotate(-90)" font-size="19" text-anchor="middle" fill="#1a1a1a">CDF</text>
<rect x="462.2" y="372.9" width="9.5" height="7.6" fill="#4a6bc4" stroke="none" stroke-width="0"/>
<rect x="462.2" y="388.4" width="9.5" height="7.6" fill="#5c5c5c" stroke="none" stroke-width="0"/>
<text x="483.7" y="381.2" font-size="16.5" text-anchor="start" fill="#1a1a1a">miR-93-5p targets</text>
<text x="483.7" y="396.7" font-size="16.5" text-anchor="start" fill="#1a1a1a">non-targets</text>
<text x="716.5" y="597.8" font-size="17" text-anchor="end" fill="#1a1a1a">KS test p&lt;5.385e-11</text>
<text x="758" y="26.3" font-size="24" text-anchor="start" fill="#1a1a1a">(b)</text>
<rect x="869.9" y="78.6" width="26.1" height="172.6" fill="#d3d3d3" stroke="#111" stroke-width="1.7"/>
<line x1="883" y1="76.5" x2="883" y2="80.7" stroke="#111" stroke-width="1.7"/>
<line x1="876.4" y1="76.5" x2="889.5" y2="76.5" stroke="#111" stroke-width="1.7"/>
<line x1="876.4" y1="80.7" x2="889.5" y2="80.7" stroke="#111" stroke-width="1.7"/>
<rect x="908.8" y="188.5" width="26" height="62.7" fill="#595556" stroke="#111" stroke-width="1.7"/>
<line x1="921.8" y1="188" x2="921.8" y2="189.1" stroke="#111" stroke-width="1.7"/>
<line x1="915.3" y1="188" x2="928.3" y2="188" stroke="#111" stroke-width="1.7"/>
<line x1="915.3" y1="189.1" x2="928.3" y2="189.1" stroke="#111" stroke-width="1.7"/>
<rect x="973.2" y="77.6" width="26.1" height="173.6" fill="#d3d3d3" stroke="#111" stroke-width="1.7"/>
<line x1="986.2" y1="62.9" x2="986.2" y2="92.2" stroke="#111" stroke-width="1.7"/>
<line x1="979.7" y1="62.9" x2="992.8" y2="62.9" stroke="#111" stroke-width="1.7"/>
<line x1="979.7" y1="92.2" x2="992.8" y2="92.2" stroke="#111" stroke-width="1.7"/>
<rect x="1012.2" y="150.4" width="26.1" height="100.8" fill="#595556" stroke="#111" stroke-width="1.7"/>
<line x1="1025.2" y1="146.6" x2="1025.2" y2="154.2" stroke="#111" stroke-width="1.7"/>
<line x1="1018.7" y1="146.6" x2="1031.8" y2="146.6" stroke="#111" stroke-width="1.7"/>
<line x1="1018.7" y1="154.2" x2="1031.8" y2="154.2" stroke="#111" stroke-width="1.7"/>
<rect x="1077.3" y="77.6" width="25.3" height="173.6" fill="#d3d3d3" stroke="#111" stroke-width="1.7"/>
<line x1="1089.9" y1="61.7" x2="1089.9" y2="93.4" stroke="#111" stroke-width="1.7"/>
<line x1="1083.6" y1="61.7" x2="1096.3" y2="61.7" stroke="#111" stroke-width="1.7"/>
<line x1="1083.6" y1="93.4" x2="1096.3" y2="93.4" stroke="#111" stroke-width="1.7"/>
<rect x="1115.5" y="148.2" width="26.1" height="103" fill="#595556" stroke="#111" stroke-width="1.7"/>
<line x1="1128.5" y1="147.3" x2="1128.5" y2="149" stroke="#111" stroke-width="1.7"/>
<line x1="1122" y1="147.3" x2="1135.1" y2="147.3" stroke="#111" stroke-width="1.7"/>
<line x1="1122" y1="149" x2="1135.1" y2="149" stroke="#111" stroke-width="1.7"/>
<line x1="851.2" y1="44.1" x2="851.2" y2="252.1" stroke="#111" stroke-width="1.9"/>
<line x1="844.7" y1="251.2" x2="1161.1" y2="251.2" stroke="#111" stroke-width="1.9"/>
<text x="841.5" y="257.6" font-size="18" text-anchor="end" fill="#1a1a1a">0.0</text>
<line x1="844.7" y1="164.9" x2="851.2" y2="164.9" stroke="#111" stroke-width="1.9"/>
<text x="841.5" y="171.3" font-size="18" text-anchor="end" fill="#1a1a1a">0.5</text>
<line x1="844.7" y1="78.6" x2="851.2" y2="78.6" stroke="#111" stroke-width="1.9"/>
<text x="841.5" y="85" font-size="18" text-anchor="end" fill="#1a1a1a">1.0</text>
<line x1="844.7" y1="44.1" x2="851.2" y2="44.1" stroke="#111" stroke-width="1.9"/>
<text x="841.5" y="50.5" font-size="18" text-anchor="end" fill="#1a1a1a">1.2</text>
<line x1="902.2" y1="251.2" x2="902.2" y2="257.7" stroke="#111" stroke-width="1.9"/>
<line x1="1005.2" y1="251.2" x2="1005.2" y2="257.7" stroke="#111" stroke-width="1.9"/>
<line x1="1109.3" y1="251.2" x2="1109.3" y2="257.7" stroke="#111" stroke-width="1.9"/>
<text transform="translate(911.6,272.2) rotate(-45)" font-size="19.2" text-anchor="end" fill="#1a1a1a">MYEOV</text>
<text transform="translate(1011.2,272.2) rotate(-45)" font-size="19.2" text-anchor="end" fill="#1a1a1a">miR-17-5p</text>
<text transform="translate(1114.3,272.2) rotate(-45)" font-size="19.2" text-anchor="end" fill="#1a1a1a">miR-93-5p</text>
<text x="922" y="190.4" font-size="16" text-anchor="middle" fill="#1a1a1a">***</text>
<text x="1025.5" y="136.9" font-size="16" text-anchor="middle" fill="#1a1a1a">**</text>
<text x="1128.5" y="144.7" font-size="16" text-anchor="middle" fill="#1a1a1a">*</text>
<rect x="861.3" y="36.3" width="23.6" height="9.2" fill="#d3d3d3" stroke="#111" stroke-width="1.7"/>
<text x="895.8" y="46.5" font-size="16.5" text-anchor="start" fill="#1a1a1a">NC</text>
<rect x="861.3" y="57.1" width="23.6" height="8.9" fill="#595556" stroke="#111" stroke-width="1.7"/>
<text x="895.8" y="67" font-size="16.5" text-anchor="start" fill="#1a1a1a">si-MYEOV</text>
<text transform="translate(802.8,154) rotate(-90)" font-size="21" text-anchor="middle" fill="#1a1a1a">Relative expression</text>
<text transform="translate(778.3,188.1) rotate(-90)" font-size="19" text-anchor="middle" fill="#1a1a1a">AsPC-1</text>
<rect x="871.9" y="405" width="26.6" height="173.5" fill="#d3d3d3" stroke="#111" stroke-width="1.7"/>
<line x1="885.2" y1="402.9" x2="885.2" y2="407.1" stroke="#111" stroke-width="1.7"/>
<line x1="878.6" y1="402.9" x2="891.9" y2="402.9" stroke="#111" stroke-width="1.7"/>
<line x1="878.6" y1="407.1" x2="891.9" y2="407.1" stroke="#111" stroke-width="1.7"/>
<rect x="911.6" y="518.8" width="26.1" height="59.7" fill="#595556" stroke="#111" stroke-width="1.7"/>
<line x1="924.7" y1="517.4" x2="924.7" y2="520.2" stroke="#111" stroke-width="1.7"/>
<line x1="918.1" y1="517.4" x2="931.2" y2="517.4" stroke="#111" stroke-width="1.7"/>
<line x1="918.1" y1="520.2" x2="931.2" y2="520.2" stroke="#111" stroke-width="1.7"/>
<rect x="977" y="405" width="26.2" height="173.5" fill="#d3d3d3" stroke="#111" stroke-width="1.7"/>
<line x1="990.1" y1="404" x2="990.1" y2="406" stroke="#111" stroke-width="1.7"/>
<line x1="983.5" y1="404" x2="996.7" y2="404" stroke="#111" stroke-width="1.7"/>
<line x1="983.5" y1="406" x2="996.7" y2="406" stroke="#111" stroke-width="1.7"/>
<rect x="1016" y="493.3" width="26.2" height="85.2" fill="#595556" stroke="#111" stroke-width="1.7"/>
<line x1="1029.1" y1="492.4" x2="1029.1" y2="494.2" stroke="#111" stroke-width="1.7"/>
<line x1="1022.5" y1="492.4" x2="1035.6" y2="492.4" stroke="#111" stroke-width="1.7"/>
<line x1="1022.5" y1="494.2" x2="1035.6" y2="494.2" stroke="#111" stroke-width="1.7"/>
<rect x="1082" y="405" width="25.7" height="173.5" fill="#d3d3d3" stroke="#111" stroke-width="1.7"/>
<line x1="1094.8" y1="402.9" x2="1094.8" y2="407.1" stroke="#111" stroke-width="1.7"/>
<line x1="1088.4" y1="402.9" x2="1101.3" y2="402.9" stroke="#111" stroke-width="1.7"/>
<line x1="1088.4" y1="407.1" x2="1101.3" y2="407.1" stroke="#111" stroke-width="1.7"/>
<rect x="1121" y="482" width="26.5" height="96.5" fill="#595556" stroke="#111" stroke-width="1.7"/>
<line x1="1134.2" y1="481.2" x2="1134.2" y2="482.9" stroke="#111" stroke-width="1.7"/>
<line x1="1127.6" y1="481.2" x2="1140.9" y2="481.2" stroke="#111" stroke-width="1.7"/>
<line x1="1127.6" y1="482.9" x2="1140.9" y2="482.9" stroke="#111" stroke-width="1.7"/>
<line x1="853" y1="370.3" x2="853" y2="579.5" stroke="#111" stroke-width="1.9"/>
<line x1="846.5" y1="578.5" x2="1167.8" y2="578.5" stroke="#111" stroke-width="1.9"/>
<text x="843.3" y="584.9" font-size="18" text-anchor="end" fill="#1a1a1a">0.0</text>
<line x1="846.5" y1="491.8" x2="853" y2="491.8" stroke="#111" stroke-width="1.9"/>
<text x="843.3" y="498.1" font-size="18" text-anchor="end" fill="#1a1a1a">0.5</text>
<line x1="846.5" y1="405" x2="853" y2="405" stroke="#111" stroke-width="1.9"/>
<text x="843.3" y="411.4" font-size="18" text-anchor="end" fill="#1a1a1a">1.0</text>
<line x1="846.5" y1="370.3" x2="853" y2="370.3" stroke="#111" stroke-width="1.9"/>
<text x="843.3" y="376.7" font-size="18" text-anchor="end" fill="#1a1a1a">1.2</text>
<line x1="905.8" y1="578.5" x2="905.8" y2="585" stroke="#111" stroke-width="1.9"/>
<line x1="1009.8" y1="578.5" x2="1009.8" y2="585" stroke="#111" stroke-width="1.9"/>
<line x1="1114.8" y1="578.5" x2="1114.8" y2="585" stroke="#111" stroke-width="1.9"/>
<text transform="translate(915.2,599.5) rotate(-45)" font-size="19.2" text-anchor="end" fill="#1a1a1a">MYEOV</text>
<text transform="translate(1015.8,599.5) rotate(-45)" font-size="19.2" text-anchor="end" fill="#1a1a1a">miR-17-5p</text>
<text transform="translate(1119.8,599.5) rotate(-45)" font-size="19.2" text-anchor="end" fill="#1a1a1a">miR-93-5p</text>
<text x="925" y="518.6" font-size="16" text-anchor="middle" fill="#1a1a1a">***</text>
<text x="1029" y="490.5" font-size="16" text-anchor="middle" fill="#1a1a1a">***</text>
<text x="1134" y="479.6" font-size="16" text-anchor="middle" fill="#1a1a1a">***</text>
<rect x="864.9" y="358.6" width="23.5" height="8.8" fill="#d3d3d3" stroke="#111" stroke-width="1.7"/>
<text x="899.9" y="368" font-size="16.5" text-anchor="start" fill="#1a1a1a">NC</text>
<rect x="864.9" y="382.3" width="23.5" height="9.3" fill="#595556" stroke="#111" stroke-width="1.7"/>
<text x="899.9" y="392.6" font-size="16.5" text-anchor="start" fill="#1a1a1a">si-MYEOV</text>
<text transform="translate(802.8,470.8) rotate(-90)" font-size="21" text-anchor="middle" fill="#1a1a1a">Relative expression</text>
<text transform="translate(778.3,488.6) rotate(-90)" font-size="19" text-anchor="middle" fill="#1a1a1a">PANC-1</text>
<text x="-0.5" y="741" font-size="24" text-anchor="start" fill="#1a1a1a">(c)</text>
<rect x="138.7" y="815.8" width="25.3" height="125.4" fill="#d3d3d3" stroke="#111" stroke-width="1.7"/>
<line x1="151.3" y1="812" x2="151.3" y2="819.6" stroke="#111" stroke-width="1.7"/>
<line x1="145" y1="812" x2="157.7" y2="812" stroke="#111" stroke-width="1.7"/>
<line x1="145" y1="819.6" x2="157.7" y2="819.6" stroke="#111" stroke-width="1.7"/>
<rect x="188.6" y="905.1" width="26.4" height="36.1" fill="#7a7579" stroke="#111" stroke-width="1.7"/>
<line x1="201.8" y1="904.7" x2="201.8" y2="905.5" stroke="#111" stroke-width="1.7"/>
<line x1="195.2" y1="904.7" x2="208.4" y2="904.7" stroke="#111" stroke-width="1.7"/>
<line x1="195.2" y1="905.5" x2="208.4" y2="905.5" stroke="#111" stroke-width="1.7"/>
<line x1="126.1" y1="790.7" x2="126.1" y2="942.2" stroke="#111" stroke-width="1.9"/>
<line x1="119.1" y1="941.2" x2="227.6" y2="941.2" stroke="#111" stroke-width="1.9"/>
<text x="115.9" y="948.2" font-size="19.5" text-anchor="end" fill="#1a1a1a">0.0</text>
<line x1="119.1" y1="878.5" x2="126.1" y2="878.5" stroke="#111" stroke-width="1.9"/>
<text x="115.9" y="885.5" font-size="19.5" text-anchor="end" fill="#1a1a1a">0.5</text>
<line x1="119.1" y1="815.8" x2="126.1" y2="815.8" stroke="#111" stroke-width="1.9"/>
<text x="115.9" y="822.8" font-size="19.5" text-anchor="end" fill="#1a1a1a">1.0</text>
<line x1="119.1" y1="790.7" x2="126.1" y2="790.7" stroke="#111" stroke-width="1.9"/>
<text x="115.9" y="797.7" font-size="19.5" text-anchor="end" fill="#1a1a1a">1.2</text>
<line x1="176.6" y1="941.2" x2="176.6" y2="947.7" stroke="#111" stroke-width="1.9"/>
<text x="203.2" y="904.7" font-size="20" text-anchor="middle" fill="#1a1a1a">***</text>
<rect x="134" y="766.9" width="28" height="8.4" fill="#d3d3d3" stroke="#111" stroke-width="1.7"/>
<text x="175.8" y="776.1" font-size="16.5" text-anchor="start" fill="#1a1a1a">NC inhibitor</text>
<rect x="134" y="788.8" width="28" height="8.4" fill="#7a7579" stroke="#111" stroke-width="1.7"/>
<text x="175.8" y="797.7" font-size="16.5" text-anchor="start" fill="#1a1a1a">miR-17-5p inhibitor</text>
<text transform="translate(81.6,865) rotate(-90)" font-size="20.5" text-anchor="middle" fill="#1a1a1a">Relative expression</text>
<text x="176.6" y="967.3" font-size="19.5" text-anchor="middle" fill="#1a1a1a">miR-17-5p</text>
<rect x="420" y="815.9" width="25.8" height="124.7" fill="#d3d3d3" stroke="#111" stroke-width="1.7"/>
<line x1="432.9" y1="813.4" x2="432.9" y2="818.4" stroke="#111" stroke-width="1.7"/>
<line x1="426.4" y1="813.4" x2="439.3" y2="813.4" stroke="#111" stroke-width="1.7"/>
<line x1="426.4" y1="818.4" x2="439.3" y2="818.4" stroke="#111" stroke-width="1.7"/>
<rect x="470.6" y="889.6" width="26" height="51" fill="#595556" stroke="#111" stroke-width="1.7"/>
<line x1="483.6" y1="888.4" x2="483.6" y2="890.8" stroke="#111" stroke-width="1.7"/>
<line x1="477.1" y1="888.4" x2="490.1" y2="888.4" stroke="#111" stroke-width="1.7"/>
<line x1="477.1" y1="890.8" x2="490.1" y2="890.8" stroke="#111" stroke-width="1.7"/>
<line x1="407.2" y1="791" x2="407.2" y2="941.6" stroke="#111" stroke-width="1.9"/>
<line x1="400.2" y1="940.6" x2="509.7" y2="940.6" stroke="#111" stroke-width="1.9"/>
<text x="397" y="947.6" font-size="19.5" text-anchor="end" fill="#1a1a1a">0.0</text>
<line x1="400.2" y1="878.2" x2="407.2" y2="878.2" stroke="#111" stroke-width="1.9"/>
<text x="397" y="885.2" font-size="19.5" text-anchor="end" fill="#1a1a1a">0.5</text>
<line x1="400.2" y1="815.9" x2="407.2" y2="815.9" stroke="#111" stroke-width="1.9"/>
<text x="397" y="822.9" font-size="19.5" text-anchor="end" fill="#1a1a1a">1.0</text>
<line x1="400.2" y1="791" x2="407.2" y2="791" stroke="#111" stroke-width="1.9"/>
<text x="397" y="798" font-size="19.5" text-anchor="end" fill="#1a1a1a">1.2</text>
<line x1="457.8" y1="940.6" x2="457.8" y2="947.1" stroke="#111" stroke-width="1.9"/>
<text x="482.8" y="885.7" font-size="20" text-anchor="middle" fill="#1a1a1a">***</text>
<rect x="419.4" y="761.7" width="28.6" height="8.5" fill="#d3d3d3" stroke="#111" stroke-width="1.7"/>
<text x="462" y="770.7" font-size="16.5" text-anchor="start" fill="#1a1a1a">NC inhibitor</text>
<rect x="419.4" y="784" width="28.6" height="8.4" fill="#595556" stroke="#111" stroke-width="1.7"/>
<text x="462" y="792.4" font-size="16.5" text-anchor="start" fill="#1a1a1a">miR-93-5p inhibitor</text>
<text transform="translate(356.5,866.5) rotate(-90)" font-size="20.5" text-anchor="middle" fill="#1a1a1a">Relative expression</text>
<text x="457.8" y="966.2" font-size="19.5" text-anchor="middle" fill="#1a1a1a">miR-93-5p</text>
<rect x="139.3" y="1082.8" width="25.8" height="127.7" fill="#d3d3d3" stroke="#111" stroke-width="1.7"/>
<line x1="152.2" y1="1079" x2="152.2" y2="1086.6" stroke="#111" stroke-width="1.7"/>
<line x1="145.8" y1="1079" x2="158.6" y2="1079" stroke="#111" stroke-width="1.7"/>
<line x1="145.8" y1="1086.6" x2="158.6" y2="1086.6" stroke="#111" stroke-width="1.7"/>
<rect x="190.4" y="1198.5" width="25.9" height="12" fill="#7a7579" stroke="#111" stroke-width="1.7"/>
<line x1="203.4" y1="1197.2" x2="203.4" y2="1199.8" stroke="#111" stroke-width="1.7"/>
<line x1="196.9" y1="1197.2" x2="209.8" y2="1197.2" stroke="#111" stroke-width="1.7"/>
<line x1="196.9" y1="1199.8" x2="209.8" y2="1199.8" stroke="#111" stroke-width="1.7"/>
<line x1="126.5" y1="1057.3" x2="126.5" y2="1211.5" stroke="#111" stroke-width="1.9"/>
<line x1="119.5" y1="1210.5" x2="230.7" y2="1210.5" stroke="#111" stroke-width="1.9"/>
<text x="116.3" y="1217.5" font-size="19.5" text-anchor="end" fill="#1a1a1a">0.0</text>
<line x1="119.5" y1="1146.7" x2="126.5" y2="1146.7" stroke="#111" stroke-width="1.9"/>
<text x="116.3" y="1153.7" font-size="19.5" text-anchor="end" fill="#1a1a1a">0.5</text>
<line x1="119.5" y1="1082.8" x2="126.5" y2="1082.8" stroke="#111" stroke-width="1.9"/>
<text x="116.3" y="1089.8" font-size="19.5" text-anchor="end" fill="#1a1a1a">1.0</text>
<line x1="119.5" y1="1057.3" x2="126.5" y2="1057.3" stroke="#111" stroke-width="1.9"/>
<text x="116.3" y="1064.3" font-size="19.5" text-anchor="end" fill="#1a1a1a">1.2</text>
<line x1="178.2" y1="1210.5" x2="178.2" y2="1217" stroke="#111" stroke-width="1.9"/>
<text x="201.3" y="1195.8" font-size="20" text-anchor="middle" fill="#1a1a1a">***</text>
<rect x="136.6" y="1030.4" width="28.5" height="8.2" fill="#d3d3d3" stroke="#111" stroke-width="1.7"/>
<text x="178.7" y="1039.4" font-size="16.5" text-anchor="start" fill="#1a1a1a">NC inhibitor</text>
<rect x="136.6" y="1053" width="28.5" height="8.7" fill="#7a7579" stroke="#111" stroke-width="1.7"/>
<text x="178.7" y="1062.2" font-size="16.5" text-anchor="start" fill="#1a1a1a">miR-17-5p inhibitor</text>
<text transform="translate(76.7,1131) rotate(-90)" font-size="20.5" text-anchor="middle" fill="#1a1a1a">Relative expression</text>
<text x="178.2" y="1236.3" font-size="19.5" text-anchor="middle" fill="#1a1a1a">miR-17-5p</text>
<rect x="423.9" y="1082.9" width="25.8" height="127.9" fill="#d3d3d3" stroke="#111" stroke-width="1.7"/>
<line x1="436.8" y1="1079.7" x2="436.8" y2="1086.1" stroke="#111" stroke-width="1.7"/>
<line x1="430.3" y1="1079.7" x2="443.2" y2="1079.7" stroke="#111" stroke-width="1.7"/>
<line x1="430.3" y1="1086.1" x2="443.2" y2="1086.1" stroke="#111" stroke-width="1.7"/>
<rect x="474.7" y="1171.3" width="25.9" height="39.5" fill="#595556" stroke="#111" stroke-width="1.7"/>
<line x1="487.6" y1="1170.4" x2="487.6" y2="1172.2" stroke="#111" stroke-width="1.7"/>
<line x1="481.2" y1="1170.4" x2="494.1" y2="1170.4" stroke="#111" stroke-width="1.7"/>
<line x1="481.2" y1="1172.2" x2="494.1" y2="1172.2" stroke="#111" stroke-width="1.7"/>
<line x1="411.1" y1="1057.3" x2="411.1" y2="1211.8" stroke="#111" stroke-width="1.9"/>
<line x1="404.1" y1="1210.8" x2="514.4" y2="1210.8" stroke="#111" stroke-width="1.9"/>
<text x="400.9" y="1217.8" font-size="19.5" text-anchor="end" fill="#1a1a1a">0.0</text>
<line x1="404.1" y1="1146.8" x2="411.1" y2="1146.8" stroke="#111" stroke-width="1.9"/>
<text x="400.9" y="1153.8" font-size="19.5" text-anchor="end" fill="#1a1a1a">0.5</text>
<line x1="404.1" y1="1082.9" x2="411.1" y2="1082.9" stroke="#111" stroke-width="1.9"/>
<text x="400.9" y="1089.9" font-size="19.5" text-anchor="end" fill="#1a1a1a">1.0</text>
<line x1="404.1" y1="1057.3" x2="411.1" y2="1057.3" stroke="#111" stroke-width="1.9"/>
<text x="400.9" y="1064.3" font-size="19.5" text-anchor="end" fill="#1a1a1a">1.2</text>
<line x1="462.5" y1="1210.8" x2="462.5" y2="1217.3" stroke="#111" stroke-width="1.9"/>
<text x="485.6" y="1164.5" font-size="20" text-anchor="middle" fill="#1a1a1a">***</text>
<rect x="422.5" y="1031.8" width="28.6" height="8.7" fill="#d3d3d3" stroke="#111" stroke-width="1.7"/>
<text x="464.6" y="1041.3" font-size="16.5" text-anchor="start" fill="#1a1a1a">NC inhibitor</text>
<rect x="422.5" y="1054.9" width="28.6" height="8.7" fill="#595556" stroke="#111" stroke-width="1.7"/>
<text x="464.6" y="1063.9" font-size="16.5" text-anchor="start" fill="#1a1a1a">miR-93-5p inhibitor</text>
<text transform="translate(359.1,1131) rotate(-90)" font-size="20.5" text-anchor="middle" fill="#1a1a1a">Relative expression</text>
<text x="462.5" y="1236.3" font-size="19.5" text-anchor="middle" fill="#1a1a1a">miR-93-5p</text>
<text transform="translate(26.3,860.8) rotate(-90)" font-size="18.5" text-anchor="middle" fill="#1a1a1a">AsPC-1</text>
<text transform="translate(26.8,1134) rotate(-90)" font-size="18.5" text-anchor="middle" fill="#1a1a1a">PANC-1</text>
<text x="668.5" y="697.5" font-size="24" text-anchor="start" fill="#1a1a1a">(d)</text>
<line x1="777.6" y1="699.2" x2="777.6" y2="959.7" stroke="#111" stroke-width="1.9"/>
<line x1="771.1" y1="958.7" x2="1167.5" y2="958.7" stroke="#111" stroke-width="1.9"/>
<text x="769.1" y="965.1" font-size="19.8" text-anchor="end" fill="#1a1a1a">0</text>
<line x1="771.1" y1="872.2" x2="777.6" y2="872.2" stroke="#111" stroke-width="1.9"/>
<text x="769.1" y="878.6" font-size="19.8" text-anchor="end" fill="#1a1a1a">1</text>
<line x1="771.1" y1="785.7" x2="777.6" y2="785.7" stroke="#111" stroke-width="1.9"/>
<text x="769.1" y="792.1" font-size="19.8" text-anchor="end" fill="#1a1a1a">2</text>
<line x1="771.1" y1="699.2" x2="777.6" y2="699.2" stroke="#111" stroke-width="1.9"/>
<text x="769.1" y="705.6" font-size="19.8" text-anchor="end" fill="#1a1a1a">3</text>
<line x1="810.1" y1="958.7" x2="810.1" y2="965.2" stroke="#111" stroke-width="1.9"/>
<text x="810.1" y="985.6" font-size="19.8" text-anchor="middle" fill="#1a1a1a">0</text>
<line x1="874.9" y1="958.7" x2="874.9" y2="965.2" stroke="#111" stroke-width="1.9"/>
<text x="874.9" y="985.6" font-size="19.8" text-anchor="middle" fill="#1a1a1a">1</text>
<line x1="939.7" y1="958.7" x2="939.7" y2="965.2" stroke="#111" stroke-width="1.9"/>
<text x="939.7" y="985.6" font-size="19.8" text-anchor="middle" fill="#1a1a1a">2</text>
<line x1="1004.5" y1="958.7" x2="1004.5" y2="965.2" stroke="#111" stroke-width="1.9"/>
<text x="1004.5" y="985.6" font-size="19.8" text-anchor="middle" fill="#1a1a1a">3</text>
<line x1="1069.3" y1="958.7" x2="1069.3" y2="965.2" stroke="#111" stroke-width="1.9"/>
<text x="1069.3" y="985.6" font-size="19.8" text-anchor="middle" fill="#1a1a1a">4</text>
<line x1="1134.1" y1="958.7" x2="1134.1" y2="965.2" stroke="#111" stroke-width="1.9"/>
<text x="1134.1" y="985.6" font-size="19.8" text-anchor="middle" fill="#1a1a1a">5</text>
<text x="973.5" y="1011.1" font-size="19.5" text-anchor="middle" fill="#1a1a1a">Day</text>
<polyline points="810.1,950.1 874.9,941.4 939.7,917.2 1004.5,877.4 1069.3,825.5 1134.1,723.4" fill="none" stroke="#7a1ca6" stroke-width="3.6" stroke-linejoin="round"/>
<circle cx="810.1" cy="950.1" r="4.2" fill="#7a1ca6"/>
<circle cx="874.9" cy="941.4" r="4.2" fill="#7a1ca6"/>
<circle cx="939.7" cy="917.2" r="4.2" fill="#7a1ca6"/>
<circle cx="1004.5" cy="877.4" r="4.2" fill="#7a1ca6"/>
<line x1="1069.3" y1="821.2" x2="1069.3" y2="829.8" stroke="#7a1ca6" stroke-width="3.6"/>
<line x1="1063.5" y1="821.2" x2="1075.1" y2="821.2" stroke="#7a1ca6" stroke-width="4.6"/>
<line x1="1063.5" y1="829.8" x2="1075.1" y2="829.8" stroke="#7a1ca6" stroke-width="4.6"/>
<circle cx="1069.3" cy="825.5" r="4.2" fill="#7a1ca6"/>
<line x1="1134.1" y1="713.5" x2="1134.1" y2="733.4" stroke="#7a1ca6" stroke-width="3.6"/>
<line x1="1128.3" y1="713.5" x2="1139.9" y2="713.5" stroke="#7a1ca6" stroke-width="4.6"/>
<line x1="1128.3" y1="733.4" x2="1139.9" y2="733.4" stroke="#7a1ca6" stroke-width="4.6"/>
<circle cx="1134.1" cy="723.4" r="4.2" fill="#7a1ca6"/>
<polyline points="810.1,952.6 874.9,938.8 939.7,920.6 1004.5,889.5 1069.3,833.3 1134.1,757.2" fill="none" stroke="#358a3a" stroke-width="3.6" stroke-linejoin="round"/>
<rect x="805.9" y="948.4" width="8.4" height="8.4" fill="#358a3a" stroke="none" stroke-width="0"/>
<rect x="870.7" y="934.6" width="8.4" height="8.4" fill="#358a3a" stroke="none" stroke-width="0"/>
<rect x="935.5" y="916.4" width="8.4" height="8.4" fill="#358a3a" stroke="none" stroke-width="0"/>
<rect x="1000.3" y="885.3" width="8.4" height="8.4" fill="#358a3a" stroke="none" stroke-width="0"/>
<line x1="1069.3" y1="829.8" x2="1069.3" y2="836.7" stroke="#358a3a" stroke-width="3.6"/>
<line x1="1063.5" y1="829.8" x2="1075.1" y2="829.8" stroke="#358a3a" stroke-width="4.6"/>
<line x1="1063.5" y1="836.7" x2="1075.1" y2="836.7" stroke="#358a3a" stroke-width="4.6"/>
<rect x="1065.1" y="829.1" width="8.4" height="8.4" fill="#358a3a" stroke="none" stroke-width="0"/>
<line x1="1134.1" y1="748.1" x2="1134.1" y2="766.2" stroke="#358a3a" stroke-width="3.6"/>
<line x1="1128.3" y1="748.1" x2="1139.9" y2="748.1" stroke="#358a3a" stroke-width="4.6"/>
<line x1="1128.3" y1="766.2" x2="1139.9" y2="766.2" stroke="#358a3a" stroke-width="4.6"/>
<rect x="1129.9" y="753" width="8.4" height="8.4" fill="#358a3a" stroke="none" stroke-width="0"/>
<polyline points="810.1,951.8 874.9,938.8 939.7,918.9 1004.5,889.5 1069.3,841.1 1134.1,777.1" fill="none" stroke="#24465a" stroke-width="3.6" stroke-linejoin="round"/>
<path d="M805.5,948.4 L814.7,948.4 L810.1,956.8 Z" fill="#24465a"/>
<path d="M870.3,935.4 L879.5,935.4 L874.9,943.8 Z" fill="#24465a"/>
<path d="M935.1,915.6 L944.3,915.6 L939.7,924 Z" fill="#24465a"/>
<path d="M999.9,886.1 L1009.1,886.1 L1004.5,894.5 Z" fill="#24465a"/>
<line x1="1069.3" y1="838.5" x2="1069.3" y2="843.7" stroke="#24465a" stroke-width="3.6"/>
<line x1="1063.5" y1="838.5" x2="1075.1" y2="838.5" stroke="#24465a" stroke-width="4.6"/>
<line x1="1063.5" y1="843.7" x2="1075.1" y2="843.7" stroke="#24465a" stroke-width="4.6"/>
<path d="M1064.7,837.7 L1073.9,837.7 L1069.3,846.1 Z" fill="#24465a"/>
<line x1="1134.1" y1="770.6" x2="1134.1" y2="783.5" stroke="#24465a" stroke-width="3.6"/>
<line x1="1128.3" y1="770.6" x2="1139.9" y2="770.6" stroke="#24465a" stroke-width="4.6"/>
<line x1="1128.3" y1="783.5" x2="1139.9" y2="783.5" stroke="#24465a" stroke-width="4.6"/>
<path d="M1129.5,773.7 L1138.7,773.7 L1134.1,782.1 Z" fill="#24465a"/>
<line x1="786" y1="768.4" x2="814.5" y2="768.4" stroke="#24465a" stroke-width="3.8"/>
<path d="M795.6,765 L804.8,765 L800.2,773.4 Z" fill="#24465a"/>
<text x="830" y="775.4" font-size="19.7" text-anchor="start" fill="#1a1a1a">miR-93-5p inhibitor</text>
<line x1="786" y1="738.6" x2="814.5" y2="738.6" stroke="#358a3a" stroke-width="3.8"/>
<rect x="796" y="734.4" width="8.4" height="8.4" fill="#358a3a" stroke="none" stroke-width="0"/>
<text x="830" y="745.4" font-size="19.7" text-anchor="start" fill="#1a1a1a">miR-17-5p inhibitor</text>
<line x1="786" y1="708.4" x2="814.5" y2="708.4" stroke="#7a1ca6" stroke-width="3.8"/>
<circle cx="800.2" cy="708.4" r="4.2" fill="#7a1ca6"/>
<text x="830" y="715.2" font-size="19.7" text-anchor="start" fill="#1a1a1a">NC</text>
<polyline points="1141,719.7 1149,719.7 1149,758.2 1141,758.2" fill="none" stroke="#111" stroke-width="1.6"/>
<text x="1158.2" y="748.2" font-size="15" text-anchor="middle" fill="#1a1a1a">*</text>
<polyline points="1162,719.7 1168.5,719.7 1168.5,780 1162,780" fill="none" stroke="#111" stroke-width="1.6"/>
<text x="1181.4" y="758.9" font-size="15" text-anchor="middle" fill="#1a1a1a">*</text>
<text transform="translate(689.3,828) rotate(-90)" font-size="19.5" text-anchor="middle" fill="#1a1a1a">AsPC-1</text>
<text transform="translate(723.7,823.2) rotate(-90)" font-size="19.5" text-anchor="middle" fill="#1a1a1a">Relative Cell Viability</text>
<text transform="translate(747.8,823.2) rotate(-90)" font-size="19.5" text-anchor="middle" fill="#1a1a1a">(OD450nm )</text>
<line x1="778.8" y1="1021.8" x2="778.8" y2="1271" stroke="#111" stroke-width="1.9"/>
<line x1="772.3" y1="1270.1" x2="1150.3" y2="1270.1" stroke="#111" stroke-width="1.9"/>
<text x="773.6" y="1276.5" font-size="19.8" text-anchor="end" fill="#1a1a1a">0.0</text>
<line x1="772.3" y1="1220.4" x2="778.8" y2="1220.4" stroke="#111" stroke-width="1.9"/>
<text x="773.6" y="1226.8" font-size="19.8" text-anchor="end" fill="#1a1a1a">0.5</text>
<line x1="772.3" y1="1170.8" x2="778.8" y2="1170.8" stroke="#111" stroke-width="1.9"/>
<text x="773.6" y="1177.2" font-size="19.8" text-anchor="end" fill="#1a1a1a">1.0</text>
<line x1="772.3" y1="1121.1" x2="778.8" y2="1121.1" stroke="#111" stroke-width="1.9"/>
<text x="773.6" y="1127.5" font-size="19.8" text-anchor="end" fill="#1a1a1a">1.5</text>
<line x1="772.3" y1="1071.5" x2="778.8" y2="1071.5" stroke="#111" stroke-width="1.9"/>
<text x="773.6" y="1077.9" font-size="19.8" text-anchor="end" fill="#1a1a1a">2.0</text>
<line x1="772.3" y1="1021.8" x2="778.8" y2="1021.8" stroke="#111" stroke-width="1.9"/>
<text x="773.6" y="1028.2" font-size="19.8" text-anchor="end" fill="#1a1a1a">2.5</text>
<line x1="816" y1="1270.1" x2="816" y2="1276.6" stroke="#111" stroke-width="1.9"/>
<text x="816" y="1297" font-size="19.8" text-anchor="middle" fill="#1a1a1a">0</text>
<line x1="890" y1="1270.1" x2="890" y2="1276.6" stroke="#111" stroke-width="1.9"/>
<text x="890" y="1297" font-size="19.8" text-anchor="middle" fill="#1a1a1a">1</text>
<line x1="964" y1="1270.1" x2="964" y2="1276.6" stroke="#111" stroke-width="1.9"/>
<text x="964" y="1297" font-size="19.8" text-anchor="middle" fill="#1a1a1a">2</text>
<line x1="1038" y1="1270.1" x2="1038" y2="1276.6" stroke="#111" stroke-width="1.9"/>
<text x="1038" y="1297" font-size="19.8" text-anchor="middle" fill="#1a1a1a">3</text>
<line x1="1112" y1="1270.1" x2="1112" y2="1276.6" stroke="#111" stroke-width="1.9"/>
<text x="1112" y="1297" font-size="19.8" text-anchor="middle" fill="#1a1a1a">4</text>
<text x="966.5" y="1320.3" font-size="19.5" text-anchor="middle" fill="#1a1a1a">Day</text>
<polyline points="816,1263.1 890,1251.2 964,1220.4 1038,1175.8 1112,1074.5" fill="none" stroke="#7a1ca6" stroke-width="3.6" stroke-linejoin="round"/>
<circle cx="816" cy="1263.1" r="4.2" fill="#7a1ca6"/>
<circle cx="890" cy="1251.2" r="4.2" fill="#7a1ca6"/>
<circle cx="964" cy="1220.4" r="4.2" fill="#7a1ca6"/>
<circle cx="1038" cy="1175.8" r="4.2" fill="#7a1ca6"/>
<line x1="1112" y1="1070" x2="1112" y2="1078.9" stroke="#7a1ca6" stroke-width="3.6"/>
<line x1="1106.2" y1="1070" x2="1117.8" y2="1070" stroke="#7a1ca6" stroke-width="4.6"/>
<line x1="1106.2" y1="1078.9" x2="1117.8" y2="1078.9" stroke="#7a1ca6" stroke-width="4.6"/>
<circle cx="1112" cy="1074.5" r="4.2" fill="#7a1ca6"/>
<polyline points="816,1263.1 890,1253.2 964,1222.4 1038,1184.7 1112,1107.7" fill="none" stroke="#358a3a" stroke-width="3.6" stroke-linejoin="round"/>
<rect x="811.8" y="1258.9" width="8.4" height="8.4" fill="#358a3a" stroke="none" stroke-width="0"/>
<rect x="885.8" y="1249" width="8.4" height="8.4" fill="#358a3a" stroke="none" stroke-width="0"/>
<rect x="959.8" y="1218.2" width="8.4" height="8.4" fill="#358a3a" stroke="none" stroke-width="0"/>
<rect x="1033.8" y="1180.5" width="8.4" height="8.4" fill="#358a3a" stroke="none" stroke-width="0"/>
<line x1="1112" y1="1104.8" x2="1112" y2="1110.7" stroke="#358a3a" stroke-width="3.6"/>
<line x1="1106.2" y1="1104.8" x2="1117.8" y2="1104.8" stroke="#358a3a" stroke-width="4.6"/>
<line x1="1106.2" y1="1110.7" x2="1117.8" y2="1110.7" stroke="#358a3a" stroke-width="4.6"/>
<rect x="1107.8" y="1103.5" width="8.4" height="8.4" fill="#358a3a" stroke="none" stroke-width="0"/>
<polyline points="816,1263.1 890,1252.2 964,1221.4 1038,1182.7 1112,1116.2" fill="none" stroke="#24465a" stroke-width="3.6" stroke-linejoin="round"/>
<path d="M811.4,1259.8 L820.6,1259.8 L816,1268.2 Z" fill="#24465a"/>
<path d="M885.4,1248.9 L894.6,1248.9 L890,1257.3 Z" fill="#24465a"/>
<path d="M959.4,1218.1 L968.6,1218.1 L964,1226.5 Z" fill="#24465a"/>
<path d="M1033.4,1179.4 L1042.6,1179.4 L1038,1187.8 Z" fill="#24465a"/>
<line x1="1112" y1="1114.2" x2="1112" y2="1118.2" stroke="#24465a" stroke-width="3.6"/>
<line x1="1106.2" y1="1114.2" x2="1117.8" y2="1114.2" stroke="#24465a" stroke-width="4.6"/>
<line x1="1106.2" y1="1118.2" x2="1117.8" y2="1118.2" stroke="#24465a" stroke-width="4.6"/>
<path d="M1107.4,1112.8 L1116.6,1112.8 L1112,1121.2 Z" fill="#24465a"/>
<line x1="786" y1="1087.3" x2="814.5" y2="1087.3" stroke="#24465a" stroke-width="3.8"/>
<path d="M795.6,1083.9 L804.8,1083.9 L800.2,1092.3 Z" fill="#24465a"/>
<text x="827.8" y="1094.2" font-size="19.7" text-anchor="start" fill="#1a1a1a">miR-93-5p inhibitor</text>
<line x1="786" y1="1059.4" x2="814.5" y2="1059.4" stroke="#358a3a" stroke-width="3.8"/>
<rect x="796" y="1055.2" width="8.4" height="8.4" fill="#358a3a" stroke="none" stroke-width="0"/>
<text x="827.8" y="1065.9" font-size="19.7" text-anchor="start" fill="#1a1a1a">miR-17-5p inhibitor</text>
<line x1="786" y1="1031.1" x2="814.5" y2="1031.1" stroke="#7a1ca6" stroke-width="3.8"/>
<circle cx="800.2" cy="1031.1" r="4.2" fill="#7a1ca6"/>
<text x="827.8" y="1037.1" font-size="19.7" text-anchor="start" fill="#1a1a1a">NC</text>
<polyline points="1118.8,1073.3 1125.7,1073.3 1125.7,1107.7 1118.8,1107.7" fill="none" stroke="#111" stroke-width="1.6"/>
<text x="1138.3" y="1102.8" font-size="15" text-anchor="middle" fill="#1a1a1a">***</text>
<polyline points="1143.4,1073.3 1151.3,1073.3 1151.3,1115.1 1143.4,1115.1" fill="none" stroke="#111" stroke-width="1.6"/>
<text x="1162.9" y="1103.7" font-size="15" text-anchor="middle" fill="#1a1a1a">***</text>
<text transform="translate(686.3,1137) rotate(-90)" font-size="19.5" text-anchor="middle" fill="#1a1a1a">PANC-1</text>
<text transform="translate(710.7,1137) rotate(-90)" font-size="19.5" text-anchor="middle" fill="#1a1a1a">Relative Cell Viability</text>
<text transform="translate(733.9,1137) rotate(-90)" font-size="19.5" text-anchor="middle" fill="#1a1a1a">(OD450nm )</text>
<rect x="692.7" y="1428.8" width="29" height="150.6" fill="#595556" stroke="#111" stroke-width="1.7"/>
<line x1="707.2" y1="1424.7" x2="707.2" y2="1432.9" stroke="#111" stroke-width="1.7"/>
<line x1="700" y1="1424.7" x2="714.5" y2="1424.7" stroke="#111" stroke-width="1.7"/>
<line x1="700" y1="1432.9" x2="714.5" y2="1432.9" stroke="#111" stroke-width="1.7"/>
<rect x="752.6" y="1499.6" width="29.7" height="79.8" fill="#595556" stroke="#111" stroke-width="1.7"/>
<line x1="767.5" y1="1492.8" x2="767.5" y2="1506.4" stroke="#111" stroke-width="1.7"/>
<line x1="760" y1="1492.8" x2="774.9" y2="1492.8" stroke="#111" stroke-width="1.7"/>
<line x1="760" y1="1506.4" x2="774.9" y2="1506.4" stroke="#111" stroke-width="1.7"/>
<rect x="813.2" y="1482.7" width="29.2" height="96.7" fill="#595556" stroke="#111" stroke-width="1.7"/>
<line x1="827.8" y1="1477.1" x2="827.8" y2="1488.3" stroke="#111" stroke-width="1.7"/>
<line x1="820.5" y1="1477.1" x2="835.1" y2="1477.1" stroke="#111" stroke-width="1.7"/>
<line x1="820.5" y1="1488.3" x2="835.1" y2="1488.3" stroke="#111" stroke-width="1.7"/>
<line x1="677.2" y1="1398.7" x2="677.2" y2="1580.4" stroke="#111" stroke-width="1.9"/>
<line x1="670.2" y1="1579.4" x2="858.5" y2="1579.4" stroke="#111" stroke-width="1.9"/>
<text x="668.9" y="1585.3" font-size="19.5" text-anchor="end" fill="#1a1a1a">0.0</text>
<line x1="670.2" y1="1504.1" x2="677.2" y2="1504.1" stroke="#111" stroke-width="1.9"/>
<text x="668.9" y="1510" font-size="19.5" text-anchor="end" fill="#1a1a1a">0.5</text>
<line x1="670.2" y1="1428.8" x2="677.2" y2="1428.8" stroke="#111" stroke-width="1.9"/>
<text x="668.9" y="1434.7" font-size="19.5" text-anchor="end" fill="#1a1a1a">1.0</text>
<line x1="670.2" y1="1398.7" x2="677.2" y2="1398.7" stroke="#111" stroke-width="1.9"/>
<text x="668.9" y="1404.6" font-size="19.5" text-anchor="end" fill="#1a1a1a">1.2</text>
<line x1="706.8" y1="1579.4" x2="706.8" y2="1585.9" stroke="#111" stroke-width="1.9"/>
<line x1="766.9" y1="1579.4" x2="766.9" y2="1585.9" stroke="#111" stroke-width="1.9"/>
<line x1="827.5" y1="1579.4" x2="827.5" y2="1585.9" stroke="#111" stroke-width="1.9"/>
<text transform="translate(723.5,1599) rotate(-45)" font-size="19.5" text-anchor="end" fill="#1a1a1a">NC inhibitor</text>
<text transform="translate(777.4,1599) rotate(-45)" font-size="19.5" text-anchor="end" fill="#1a1a1a">miR-17-5p inhibitor</text>
<text transform="translate(833.6,1599) rotate(-45)" font-size="19.5" text-anchor="end" fill="#1a1a1a">miR-93-5p inhibitor</text>
<text x="768.2" y="1492" font-size="19" text-anchor="middle" fill="#1a1a1a">****</text>
<text x="828" y="1469" font-size="19" text-anchor="middle" fill="#1a1a1a">***</text>
<text x="765.2" y="1372.6" font-size="19.5" text-anchor="middle" fill="#1a1a1a">AsPC-1</text>
<text transform="translate(632.5,1487.8) rotate(-90)" font-size="20" text-anchor="middle" fill="#1a1a1a">Fold change of colonies</text>
<rect x="993.5" y="1424.5" width="29.7" height="150" fill="#595556" stroke="#111" stroke-width="1.7"/>
<line x1="1008.4" y1="1415.5" x2="1008.4" y2="1433.5" stroke="#111" stroke-width="1.7"/>
<line x1="1000.9" y1="1415.5" x2="1015.8" y2="1415.5" stroke="#111" stroke-width="1.7"/>
<line x1="1000.9" y1="1433.5" x2="1015.8" y2="1433.5" stroke="#111" stroke-width="1.7"/>
<rect x="1054.1" y="1481" width="29.4" height="93.5" fill="#595556" stroke="#111" stroke-width="1.7"/>
<line x1="1068.8" y1="1477.8" x2="1068.8" y2="1484.3" stroke="#111" stroke-width="1.7"/>
<line x1="1061.4" y1="1477.8" x2="1076.2" y2="1477.8" stroke="#111" stroke-width="1.7"/>
<line x1="1061.4" y1="1484.3" x2="1076.2" y2="1484.3" stroke="#111" stroke-width="1.7"/>
<rect x="1114.4" y="1503.2" width="29.7" height="71.2" fill="#595556" stroke="#111" stroke-width="1.7"/>
<line x1="1129.2" y1="1496.8" x2="1129.2" y2="1509.7" stroke="#111" stroke-width="1.7"/>
<line x1="1121.8" y1="1496.8" x2="1136.7" y2="1496.8" stroke="#111" stroke-width="1.7"/>
<line x1="1121.8" y1="1509.7" x2="1136.7" y2="1509.7" stroke="#111" stroke-width="1.7"/>
<line x1="978.6" y1="1394.5" x2="978.6" y2="1575.5" stroke="#111" stroke-width="1.9"/>
<line x1="971.6" y1="1574.5" x2="1159.2" y2="1574.5" stroke="#111" stroke-width="1.9"/>
<text x="970.3" y="1580.4" font-size="19.5" text-anchor="end" fill="#1a1a1a">0.0</text>
<line x1="971.6" y1="1499.5" x2="978.6" y2="1499.5" stroke="#111" stroke-width="1.9"/>
<text x="970.3" y="1505.4" font-size="19.5" text-anchor="end" fill="#1a1a1a">0.5</text>
<line x1="971.6" y1="1424.5" x2="978.6" y2="1424.5" stroke="#111" stroke-width="1.9"/>
<text x="970.3" y="1430.4" font-size="19.5" text-anchor="end" fill="#1a1a1a">1.0</text>
<line x1="971.6" y1="1394.5" x2="978.6" y2="1394.5" stroke="#111" stroke-width="1.9"/>
<text x="970.3" y="1400.4" font-size="19.5" text-anchor="end" fill="#1a1a1a">1.2</text>
<line x1="1008.1" y1="1574.5" x2="1008.1" y2="1581" stroke="#111" stroke-width="1.9"/>
<line x1="1068.7" y1="1574.5" x2="1068.7" y2="1581" stroke="#111" stroke-width="1.9"/>
<line x1="1128.8" y1="1574.5" x2="1128.8" y2="1581" stroke="#111" stroke-width="1.9"/>
<text transform="translate(1023.8,1597.6) rotate(-45)" font-size="19.5" text-anchor="end" fill="#1a1a1a">NC inhibitor</text>
<text transform="translate(1078.8,1597.6) rotate(-45)" font-size="19.5" text-anchor="end" fill="#1a1a1a">miR-17-5p inhibitor</text>
<text transform="translate(1134.2,1597.6) rotate(-45)" font-size="19.5" text-anchor="end" fill="#1a1a1a">miR-93-5p inhibitor</text>
<text x="1068.2" y="1470.2" font-size="19" text-anchor="middle" fill="#1a1a1a">***</text>
<text x="1129.5" y="1485.8" font-size="19" text-anchor="middle" fill="#1a1a1a">****</text>
<text x="1067.7" y="1368.4" font-size="19.5" text-anchor="middle" fill="#1a1a1a">PANC-1</text>
<text transform="translate(933,1481) rotate(-90)" font-size="20" text-anchor="middle" fill="#1a1a1a">Fold change of colonies</text>
<rect x="810" y="1825.5" width="25.3" height="129.6" fill="#595556" stroke="#111" stroke-width="1.7"/>
<line x1="822.6" y1="1822.3" x2="822.6" y2="1828.7" stroke="#111" stroke-width="1.7"/>
<line x1="816.3" y1="1822.3" x2="829" y2="1822.3" stroke="#111" stroke-width="1.7"/>
<line x1="816.3" y1="1828.7" x2="829" y2="1828.7" stroke="#111" stroke-width="1.7"/>
<rect x="861.5" y="1903.6" width="25.7" height="51.5" fill="#595556" stroke="#111" stroke-width="1.7"/>
<line x1="874.4" y1="1891.5" x2="874.4" y2="1915.8" stroke="#111" stroke-width="1.7"/>
<line x1="867.9" y1="1891.5" x2="880.8" y2="1891.5" stroke="#111" stroke-width="1.7"/>
<line x1="867.9" y1="1915.8" x2="880.8" y2="1915.8" stroke="#111" stroke-width="1.7"/>
<line x1="796.1" y1="1799.6" x2="796.1" y2="1956" stroke="#111" stroke-width="1.9"/>
<line x1="789.1" y1="1955.1" x2="952.6" y2="1955.1" stroke="#111" stroke-width="1.9"/>
<text x="787.8" y="1960.2" font-size="19.5" text-anchor="end" fill="#1a1a1a">0.0</text>
<line x1="789.1" y1="1890.3" x2="796.1" y2="1890.3" stroke="#111" stroke-width="1.9"/>
<text x="787.8" y="1895.4" font-size="19.5" text-anchor="end" fill="#1a1a1a">0.5</text>
<line x1="789.1" y1="1825.5" x2="796.1" y2="1825.5" stroke="#111" stroke-width="1.9"/>
<text x="787.8" y="1830.6" font-size="19.5" text-anchor="end" fill="#1a1a1a">1.0</text>
<line x1="789.1" y1="1799.6" x2="796.1" y2="1799.6" stroke="#111" stroke-width="1.9"/>
<text x="787.8" y="1804.7" font-size="19.5" text-anchor="end" fill="#1a1a1a">1.2</text>
<line x1="822.2" y1="1955.1" x2="822.2" y2="1961.6" stroke="#111" stroke-width="1.9"/>
<line x1="873.9" y1="1955.1" x2="873.9" y2="1961.6" stroke="#111" stroke-width="1.9"/>
<line x1="926.2" y1="1955.1" x2="926.2" y2="1961.6" stroke="#111" stroke-width="1.9"/>
<text transform="translate(826.4,1976.6) rotate(-45)" font-size="19.5" text-anchor="end" fill="#1a1a1a">NC inhibitor</text>
<text transform="translate(879.8,1976.6) rotate(-45)" font-size="19.5" text-anchor="end" fill="#1a1a1a">miR-17-5p inhibitor</text>
<text transform="translate(935.2,1976.6) rotate(-45)" font-size="19.5" text-anchor="end" fill="#1a1a1a">miR-93-5p inhibitor</text>
<rect x="938.6" y="1927.9" width="22" height="27.2" fill="#595556" stroke="none" stroke-width="0"/>
<rect x="913.6" y="1927.6" width="25" height="27.5" fill="#fff" stroke="#111" stroke-width="1.7"/>
<line x1="948.3" y1="1916.5" x2="948.3" y2="1938.3" stroke="#111" stroke-width="1.7"/>
<line x1="942.3" y1="1916.5" x2="954.3" y2="1916.5" stroke="#111" stroke-width="1.7"/>
<line x1="942.3" y1="1938.3" x2="954.3" y2="1938.3" stroke="#111" stroke-width="1.7"/>
<line x1="789.1" y1="1955.1" x2="952.6" y2="1955.1" stroke="#111" stroke-width="1.9"/>
<text x="873.9" y="1893" font-size="16" text-anchor="middle" fill="#1a1a1a">***</text>
<text x="947.8" y="1920" font-size="16" text-anchor="middle" fill="#1a1a1a">***</text>
<text x="877.1" y="1776.7" font-size="19.5" text-anchor="middle" fill="#1a1a1a">AsPC-1</text>
<text transform="translate(754.1,1876.9) rotate(-90)" font-size="19.5" text-anchor="middle" fill="#1a1a1a">Migration index</text>
<rect x="1069.7" y="1824" width="25" height="129.4" fill="#595556" stroke="#111" stroke-width="1.7"/>
<line x1="1082.2" y1="1817.5" x2="1082.2" y2="1830.5" stroke="#111" stroke-width="1.7"/>
<line x1="1076" y1="1817.5" x2="1088.5" y2="1817.5" stroke="#111" stroke-width="1.7"/>
<line x1="1076" y1="1830.5" x2="1088.5" y2="1830.5" stroke="#111" stroke-width="1.7"/>
<rect x="1121.6" y="1942.3" width="24.9" height="11.1" fill="#595556" stroke="#111" stroke-width="1.7"/>
<line x1="1134" y1="1937.5" x2="1134" y2="1947.1" stroke="#111" stroke-width="1.7"/>
<line x1="1127.8" y1="1937.5" x2="1140.3" y2="1937.5" stroke="#111" stroke-width="1.7"/>
<line x1="1127.8" y1="1947.1" x2="1140.3" y2="1947.1" stroke="#111" stroke-width="1.7"/>
<rect x="1173.4" y="1917.3" width="25" height="36.1" fill="#595556" stroke="#111" stroke-width="1.7"/>
<line x1="1185.9" y1="1910.1" x2="1185.9" y2="1924.5" stroke="#111" stroke-width="1.7"/>
<line x1="1179.7" y1="1910.1" x2="1192.2" y2="1910.1" stroke="#111" stroke-width="1.7"/>
<line x1="1179.7" y1="1924.5" x2="1192.2" y2="1924.5" stroke="#111" stroke-width="1.7"/>
<line x1="1056.5" y1="1798.1" x2="1056.5" y2="1954.4" stroke="#111" stroke-width="1.9"/>
<line x1="1049.5" y1="1953.4" x2="1213" y2="1953.4" stroke="#111" stroke-width="1.9"/>
<text x="1048.2" y="1958.5" font-size="19.5" text-anchor="end" fill="#1a1a1a">0.0</text>
<line x1="1049.5" y1="1888.7" x2="1056.5" y2="1888.7" stroke="#111" stroke-width="1.9"/>
<text x="1048.2" y="1893.8" font-size="19.5" text-anchor="end" fill="#1a1a1a">0.5</text>
<line x1="1049.5" y1="1824" x2="1056.5" y2="1824" stroke="#111" stroke-width="1.9"/>
<text x="1048.2" y="1829.1" font-size="19.5" text-anchor="end" fill="#1a1a1a">1.0</text>
<line x1="1049.5" y1="1798.1" x2="1056.5" y2="1798.1" stroke="#111" stroke-width="1.9"/>
<text x="1048.2" y="1803.2" font-size="19.5" text-anchor="end" fill="#1a1a1a">1.2</text>
<line x1="1082.2" y1="1953.4" x2="1082.2" y2="1959.9" stroke="#111" stroke-width="1.9"/>
<line x1="1133.7" y1="1953.4" x2="1133.7" y2="1959.9" stroke="#111" stroke-width="1.9"/>
<line x1="1185.9" y1="1953.4" x2="1185.9" y2="1959.9" stroke="#111" stroke-width="1.9"/>
<text transform="translate(1087,1978.9) rotate(-45)" font-size="19.5" text-anchor="end" fill="#1a1a1a">NC inhibitor</text>
<text transform="translate(1144.9,1978.9) rotate(-45)" font-size="19.5" text-anchor="end" fill="#1a1a1a">miR-17-5p inhibitor</text>
<text transform="translate(1191.8,1978.9) rotate(-45)" font-size="19.5" text-anchor="end" fill="#1a1a1a">miR-93-5p inhibitor</text>
<text x="1134.6" y="1938.9" font-size="16" text-anchor="middle" fill="#1a1a1a">****</text>
<text x="1187.1" y="1909.5" font-size="16" text-anchor="middle" fill="#1a1a1a">****</text>
<text x="1137.5" y="1775.7" font-size="19.5" text-anchor="middle" fill="#1a1a1a">PANC-1</text>
<text transform="translate(1014.2,1872.6) rotate(-90)" font-size="19.5" text-anchor="middle" fill="#1a1a1a">Migration index</text>
<rect x="729.7" y="2224.5" width="25" height="128.9" fill="#595556" stroke="#111" stroke-width="1.7"/>
<line x1="742.2" y1="2215.5" x2="742.2" y2="2233.5" stroke="#111" stroke-width="1.7"/>
<line x1="736" y1="2215.5" x2="748.5" y2="2215.5" stroke="#111" stroke-width="1.7"/>
<line x1="736" y1="2233.5" x2="748.5" y2="2233.5" stroke="#111" stroke-width="1.7"/>
<rect x="781.2" y="2324.5" width="25.4" height="28.9" fill="#595556" stroke="#111" stroke-width="1.7"/>
<line x1="793.9" y1="2316.8" x2="793.9" y2="2332.3" stroke="#111" stroke-width="1.7"/>
<line x1="787.6" y1="2316.8" x2="800.3" y2="2316.8" stroke="#111" stroke-width="1.7"/>
<line x1="787.6" y1="2332.3" x2="800.3" y2="2332.3" stroke="#111" stroke-width="1.7"/>
<rect x="832.4" y="2300.4" width="25.7" height="53" fill="#595556" stroke="#111" stroke-width="1.7"/>
<line x1="845.2" y1="2297.8" x2="845.2" y2="2303" stroke="#111" stroke-width="1.7"/>
<line x1="838.8" y1="2297.8" x2="851.7" y2="2297.8" stroke="#111" stroke-width="1.7"/>
<line x1="838.8" y1="2303" x2="851.7" y2="2303" stroke="#111" stroke-width="1.7"/>
<line x1="716.6" y1="2198.7" x2="716.6" y2="2354.3" stroke="#111" stroke-width="1.9"/>
<line x1="709.6" y1="2353.4" x2="871.2" y2="2353.4" stroke="#111" stroke-width="1.9"/>
<text x="708.3" y="2359" font-size="19.5" text-anchor="end" fill="#1a1a1a">0.0</text>
<line x1="709.6" y1="2289" x2="716.6" y2="2289" stroke="#111" stroke-width="1.9"/>
<text x="708.3" y="2294.6" font-size="19.5" text-anchor="end" fill="#1a1a1a">0.5</text>
<line x1="709.6" y1="2224.5" x2="716.6" y2="2224.5" stroke="#111" stroke-width="1.9"/>
<text x="708.3" y="2230.1" font-size="19.5" text-anchor="end" fill="#1a1a1a">1.0</text>
<line x1="709.6" y1="2198.7" x2="716.6" y2="2198.7" stroke="#111" stroke-width="1.9"/>
<text x="708.3" y="2204.3" font-size="19.5" text-anchor="end" fill="#1a1a1a">1.2</text>
<line x1="742" y1="2353.4" x2="742" y2="2359.9" stroke="#111" stroke-width="1.9"/>
<line x1="793.4" y1="2353.4" x2="793.4" y2="2359.9" stroke="#111" stroke-width="1.9"/>
<line x1="845.1" y1="2353.4" x2="845.1" y2="2359.9" stroke="#111" stroke-width="1.9"/>
<text transform="translate(747,2377.6) rotate(-45)" font-size="19.5" text-anchor="end" fill="#1a1a1a">NC inhibitor</text>
<text transform="translate(799.8,2377.6) rotate(-45)" font-size="19.5" text-anchor="end" fill="#1a1a1a">miR-17-5p inhibitor</text>
<text transform="translate(857.2,2377.6) rotate(-45)" font-size="19.5" text-anchor="end" fill="#1a1a1a">miR-93-5p inhibitor</text>
<text x="792.7" y="2317.8" font-size="16" text-anchor="middle" fill="#1a1a1a">***</text>
<text x="845.1" y="2297.9" font-size="16" text-anchor="middle" fill="#1a1a1a">***</text>
<text x="796.7" y="2177.3" font-size="19.5" text-anchor="middle" fill="#1a1a1a">AsPC-1</text>
<text transform="translate(672.3,2273.5) rotate(-90)" font-size="19.5" text-anchor="middle" fill="#1a1a1a">Inavsion index</text>
<rect x="1003.9" y="2227.5" width="25.4" height="128" fill="#595556" stroke="#111" stroke-width="1.7"/>
<line x1="1016.6" y1="2220.1" x2="1016.6" y2="2234.9" stroke="#111" stroke-width="1.7"/>
<line x1="1010.2" y1="2220.1" x2="1022.9" y2="2220.1" stroke="#111" stroke-width="1.7"/>
<line x1="1010.2" y1="2234.9" x2="1022.9" y2="2234.9" stroke="#111" stroke-width="1.7"/>
<rect x="1055.4" y="2333.1" width="25.4" height="22.4" fill="#595556" stroke="#111" stroke-width="1.7"/>
<line x1="1068.1" y1="2329.3" x2="1068.1" y2="2336.9" stroke="#111" stroke-width="1.7"/>
<line x1="1061.8" y1="2329.3" x2="1074.4" y2="2329.3" stroke="#111" stroke-width="1.7"/>
<line x1="1061.8" y1="2336.9" x2="1074.4" y2="2336.9" stroke="#111" stroke-width="1.7"/>
<rect x="1107.4" y="2332.5" width="25.4" height="23" fill="#595556" stroke="#111" stroke-width="1.7"/>
<line x1="1120.1" y1="2327.3" x2="1120.1" y2="2337.6" stroke="#111" stroke-width="1.7"/>
<line x1="1113.8" y1="2327.3" x2="1126.4" y2="2327.3" stroke="#111" stroke-width="1.7"/>
<line x1="1113.8" y1="2337.6" x2="1126.4" y2="2337.6" stroke="#111" stroke-width="1.7"/>
<line x1="990.8" y1="2201.9" x2="990.8" y2="2356.4" stroke="#111" stroke-width="1.9"/>
<line x1="983.8" y1="2355.5" x2="1145.9" y2="2355.5" stroke="#111" stroke-width="1.9"/>
<text x="988.9" y="2361.1" font-size="19.5" text-anchor="end" fill="#1a1a1a">0.0</text>
<line x1="983.8" y1="2291.5" x2="990.8" y2="2291.5" stroke="#111" stroke-width="1.9"/>
<text x="988.9" y="2297.1" font-size="19.5" text-anchor="end" fill="#1a1a1a">0.5</text>
<line x1="983.8" y1="2227.5" x2="990.8" y2="2227.5" stroke="#111" stroke-width="1.9"/>
<text x="988.9" y="2233.1" font-size="19.5" text-anchor="end" fill="#1a1a1a">1.0</text>
<line x1="983.8" y1="2201.9" x2="990.8" y2="2201.9" stroke="#111" stroke-width="1.9"/>
<text x="988.9" y="2207.5" font-size="19.5" text-anchor="end" fill="#1a1a1a">1.2</text>
<line x1="1016.6" y1="2355.5" x2="1016.6" y2="2362" stroke="#111" stroke-width="1.9"/>
<line x1="1068.1" y1="2355.5" x2="1068.1" y2="2362" stroke="#111" stroke-width="1.9"/>
<line x1="1119.6" y1="2355.5" x2="1119.6" y2="2362" stroke="#111" stroke-width="1.9"/>
<text transform="translate(1022,2375.6) rotate(-45)" font-size="19.5" text-anchor="end" fill="#1a1a1a">NC inhibitor</text>
<text transform="translate(1074.8,2375.6) rotate(-45)" font-size="19.5" text-anchor="end" fill="#1a1a1a">miR-17-5p inhibitor</text>
<text transform="translate(1132.2,2375.6) rotate(-45)" font-size="19.5" text-anchor="end" fill="#1a1a1a">miR-93-5p inhibitor</text>
<text x="1068.6" y="2327.5" font-size="16" text-anchor="middle" fill="#1a1a1a">****</text>
<text x="1120.5" y="2324" font-size="16" text-anchor="middle" fill="#1a1a1a">****</text>
<text x="1072.7" y="2178.9" font-size="19.5" text-anchor="middle" fill="#1a1a1a">PANC-1</text>
<text transform="translate(950.5,2265.5) rotate(-90)" font-size="19.5" text-anchor="middle" fill="#1a1a1a">Inavsion index</text>
<text x="-0.5" y="1368.8" font-size="24" text-anchor="start" fill="#1a1a1a">(e)</text>
<circle cx="147.5" cy="1425" r="71.4" fill="url(#plate)"/>
<g fill="#4a2ea6"><circle cx="122.8" cy="1376.1" r="0.7" fill-opacity="0.58"/><circle cx="152.5" cy="1406.2" r="0.5" fill-opacity="0.75"/><circle cx="82.8" cy="1415.7" r="0.5" fill-opacity="0.59"/><circle cx="136.9" cy="1470.7" r="0.5" fill-opacity="0.64"/><circle cx="165.3" cy="1487.7" r="0.7" fill-opacity="0.71"/><circle cx="197.7" cy="1395.6" r="0.5" fill-opacity="0.60"/><circle cx="120.7" cy="1469.2" r="0.5" fill-opacity="0.78"/><circle cx="166.9" cy="1407.1" r="0.7" fill-opacity="0.58"/><circle cx="172.7" cy="1414.9" r="0.6" fill-opacity="0.78"/><circle cx="140.9" cy="1397" r="0.8" fill-opacity="0.83"/><circle cx="111.7" cy="1435.4" r="0.7" fill-opacity="0.90"/><circle cx="179.6" cy="1395.3" r="0.9" fill-opacity="0.60"/><circle cx="136" cy="1461" r="0.5" fill-opacity="0.75"/><circle cx="184.5" cy="1435.2" r="0.8" fill-opacity="0.68"/><circle cx="174.8" cy="1438.2" r="0.7" fill-opacity="0.73"/><circle cx="143.9" cy="1448" r="0.5" fill-opacity="0.83"/><circle cx="192.6" cy="1394.9" r="0.6" fill-opacity="0.82"/><circle cx="80.7" cy="1419.6" r="0.5" fill-opacity="0.60"/><circle cx="95.6" cy="1389.7" r="0.6" fill-opacity="0.90"/><circle cx="88.8" cy="1417.9" r="0.7" fill-opacity="0.90"/><circle cx="116.5" cy="1413.1" r="0.6" fill-opacity="0.90"/><circle cx="102.2" cy="1387.5" r="0.6" fill-opacity="0.74"/><circle cx="160" cy="1391.8" r="0.5" fill-opacity="0.72"/><circle cx="129.2" cy="1434.3" r="0.9" fill-opacity="0.83"/><circle cx="149.7" cy="1441.5" r="0.8" fill-opacity="0.57"/><circle cx="199.9" cy="1466.7" r="0.6" fill-opacity="0.71"/><circle cx="92" cy="1443.8" r="0.5" fill-opacity="0.58"/><circle cx="106.7" cy="1377.7" r="0.6" fill-opacity="0.57"/><circle cx="91.7" cy="1405.9" r="0.5" fill-opacity="0.90"/><circle cx="163.5" cy="1375.8" r="0.6" fill-opacity="0.69"/><circle cx="128.5" cy="1372.2" r="0.8" fill-opacity="0.95"/><circle cx="142.7" cy="1422.7" r="0.5" fill-opacity="0.59"/><circle cx="125.5" cy="1392.1" r="0.8" fill-opacity="0.61"/><circle cx="151.5" cy="1375.5" r="0.7" fill-opacity="0.56"/><circle cx="151.4" cy="1492" r="0.8" fill-opacity="0.83"/><circle cx="114.1" cy="1406.3" r="0.5" fill-opacity="0.86"/><circle cx="152.1" cy="1464.1" r="0.6" fill-opacity="0.64"/><circle cx="196.8" cy="1467.8" r="0.8" fill-opacity="0.85"/><circle cx="109.3" cy="1427.5" r="0.6" fill-opacity="0.56"/><circle cx="113.8" cy="1451.9" r="0.9" fill-opacity="0.73"/><circle cx="211.2" cy="1406.1" r="0.5" fill-opacity="0.64"/><circle cx="105.1" cy="1383.6" r="0.7" fill-opacity="0.91"/><circle cx="195.1" cy="1422.1" r="0.7" fill-opacity="0.87"/><circle cx="89.4" cy="1447.5" r="0.9" fill-opacity="0.86"/><circle cx="182.5" cy="1421.9" r="0.5" fill-opacity="0.87"/><circle cx="124.1" cy="1467.1" r="0.9" fill-opacity="0.71"/><circle cx="133.7" cy="1487.5" r="0.8" fill-opacity="0.62"/><circle cx="126.6" cy="1431.8" r="0.5" fill-opacity="0.56"/><circle cx="151.2" cy="1485.7" r="0.6" fill-opacity="0.90"/><circle cx="193.1" cy="1384.6" r="0.6" fill-opacity="0.67"/><circle cx="111.2" cy="1437.1" r="0.6" fill-opacity="0.72"/><circle cx="127" cy="1419.1" r="0.7" fill-opacity="0.91"/><circle cx="136.4" cy="1483.5" r="0.7" fill-opacity="0.76"/><circle cx="139.1" cy="1380.7" r="0.5" fill-opacity="0.87"/><circle cx="101.6" cy="1421.3" r="0.8" fill-opacity="0.77"/><circle cx="123.1" cy="1427.6" r="0.7" fill-opacity="0.86"/><circle cx="92.4" cy="1433.4" r="0.6" fill-opacity="0.66"/><circle cx="185.6" cy="1426.1" r="0.7" fill-opacity="0.85"/><circle cx="205.2" cy="1417.1" r="0.7" fill-opacity="0.75"/><circle cx="149.2" cy="1452" r="0.7" fill-opacity="0.76"/><circle cx="144.4" cy="1486.8" r="0.8" fill-opacity="0.90"/><circle cx="155.8" cy="1487" r="0.8" fill-opacity="0.60"/><circle cx="94.5" cy="1416.9" r="0.5" fill-opacity="0.65"/><circle cx="87.8" cy="1448.7" r="0.8" fill-opacity="0.91"/><circle cx="99.1" cy="1455.2" r="0.7" fill-opacity="0.61"/><circle cx="133.3" cy="1423.2" r="0.9" fill-opacity="0.88"/><circle cx="100.1" cy="1415.4" r="0.7" fill-opacity="0.69"/><circle cx="104.9" cy="1399.6" r="0.8" fill-opacity="0.56"/><circle cx="155.1" cy="1416.7" r="0.5" fill-opacity="0.68"/><circle cx="164.8" cy="1426.7" r="0.5" fill-opacity="0.94"/><circle cx="92.2" cy="1392.2" r="0.5" fill-opacity="0.86"/><circle cx="115.4" cy="1373.2" r="0.6" fill-opacity="0.91"/><circle cx="192.1" cy="1391.2" r="0.5" fill-opacity="0.92"/><circle cx="157.4" cy="1453" r="0.5" fill-opacity="0.57"/><circle cx="173.8" cy="1414.5" r="0.5" fill-opacity="0.93"/><circle cx="166.3" cy="1467.2" r="0.5" fill-opacity="0.89"/><circle cx="141" cy="1402.5" r="0.7" fill-opacity="0.92"/><circle cx="115" cy="1373.1" r="0.7" fill-opacity="0.65"/><circle cx="121.2" cy="1397.7" r="0.8" fill-opacity="0.67"/><circle cx="147.5" cy="1379.9" r="0.6" fill-opacity="0.56"/><circle cx="180.1" cy="1432.1" r="0.5" fill-opacity="0.74"/><circle cx="192.1" cy="1415.5" r="0.7" fill-opacity="0.88"/><circle cx="132.5" cy="1425.9" r="0.8" fill-opacity="0.94"/><circle cx="125.5" cy="1471.5" r="0.8" fill-opacity="0.80"/><circle cx="134.2" cy="1403.7" r="0.5" fill-opacity="0.60"/><circle cx="113.3" cy="1377.9" r="0.5" fill-opacity="0.89"/><circle cx="199.4" cy="1448.9" r="0.6" fill-opacity="0.65"/><circle cx="118.5" cy="1419.3" r="0.5" fill-opacity="0.73"/><circle cx="213.6" cy="1431.6" r="0.6" fill-opacity="0.94"/><circle cx="120.8" cy="1404.9" r="0.5" fill-opacity="0.70"/><circle cx="144" cy="1425.4" r="0.5" fill-opacity="0.75"/><circle cx="90.1" cy="1410.9" r="0.5" fill-opacity="0.56"/><circle cx="120.1" cy="1387.6" r="0.7" fill-opacity="0.76"/><circle cx="182.6" cy="1447" r="0.8" fill-opacity="0.90"/><circle cx="132" cy="1400.7" r="0.9" fill-opacity="0.61"/><circle cx="178.9" cy="1445" r="0.5" fill-opacity="0.88"/><circle cx="202.3" cy="1442.8" r="0.8" fill-opacity="0.87"/><circle cx="97" cy="1428.3" r="0.7" fill-opacity="0.88"/><circle cx="190.1" cy="1470.7" r="0.7" fill-opacity="0.91"/><circle cx="173.1" cy="1452.1" r="0.6" fill-opacity="0.56"/><circle cx="96.2" cy="1405.5" r="0.5" fill-opacity="0.88"/><circle cx="155.7" cy="1442.9" r="0.7" fill-opacity="0.82"/><circle cx="189.2" cy="1459.7" r="0.7" fill-opacity="0.76"/><circle cx="169.8" cy="1364.3" r="0.8" fill-opacity="0.65"/><circle cx="179.6" cy="1383.7" r="0.8" fill-opacity="0.94"/><circle cx="146.7" cy="1408.6" r="0.7" fill-opacity="0.82"/><circle cx="184.9" cy="1441.4" r="0.7" fill-opacity="0.58"/><circle cx="98.2" cy="1390.6" r="0.8" fill-opacity="0.67"/><circle cx="171.6" cy="1451.9" r="0.8" fill-opacity="0.67"/><circle cx="149.8" cy="1420.1" r="0.7" fill-opacity="0.60"/><circle cx="140.4" cy="1392.6" r="0.5" fill-opacity="0.93"/><circle cx="107" cy="1436.4" r="0.5" fill-opacity="0.76"/><circle cx="192.3" cy="1426.2" r="0.8" fill-opacity="0.83"/><circle cx="145.6" cy="1358.5" r="0.5" fill-opacity="0.75"/><circle cx="140.6" cy="1397.3" r="0.5" fill-opacity="0.69"/><circle cx="121.8" cy="1472.6" r="0.5" fill-opacity="0.85"/><circle cx="207.2" cy="1454.8" r="0.9" fill-opacity="0.67"/><circle cx="129.6" cy="1410" r="0.9" fill-opacity="0.79"/><circle cx="128" cy="1414.9" r="0.6" fill-opacity="0.57"/><circle cx="112.4" cy="1392.2" r="0.7" fill-opacity="0.63"/><circle cx="129.8" cy="1488.8" r="0.8" fill-opacity="0.87"/><circle cx="165.8" cy="1482.9" r="0.9" fill-opacity="0.77"/><circle cx="180" cy="1418.1" r="0.8" fill-opacity="0.81"/><circle cx="143.6" cy="1403.1" r="0.6" fill-opacity="0.85"/><circle cx="169.3" cy="1397.1" r="0.7" fill-opacity="0.71"/><circle cx="100.9" cy="1377.7" r="0.5" fill-opacity="0.91"/><circle cx="147.1" cy="1385.8" r="0.9" fill-opacity="0.95"/><circle cx="140.5" cy="1374.6" r="0.5" fill-opacity="0.59"/><circle cx="125.4" cy="1367.8" r="0.6" fill-opacity="0.65"/><circle cx="157.2" cy="1479.2" r="0.8" fill-opacity="0.72"/></g>
<circle cx="316.8" cy="1425" r="71.4" fill="url(#plate)"/>
<g fill="#4a2ea6"><circle cx="304.7" cy="1428.4" r="0.6" fill-opacity="0.69"/><circle cx="317.3" cy="1443.1" r="0.8" fill-opacity="0.64"/><circle cx="284.8" cy="1389.8" r="0.6" fill-opacity="0.73"/><circle cx="372.2" cy="1421.3" r="0.7" fill-opacity="0.55"/><circle cx="301.6" cy="1484.7" r="0.8" fill-opacity="0.89"/><circle cx="319.9" cy="1450.5" r="0.9" fill-opacity="0.84"/><circle cx="337.4" cy="1462.1" r="0.7" fill-opacity="0.77"/><circle cx="337.2" cy="1397.5" r="0.5" fill-opacity="0.65"/><circle cx="335.9" cy="1452.8" r="0.5" fill-opacity="0.58"/><circle cx="320.2" cy="1436.6" r="0.6" fill-opacity="0.64"/><circle cx="289" cy="1419.5" r="0.9" fill-opacity="0.81"/><circle cx="370.5" cy="1421.5" r="0.6" fill-opacity="0.65"/><circle cx="316.6" cy="1449.4" r="0.6" fill-opacity="0.65"/><circle cx="340.2" cy="1484.5" r="0.6" fill-opacity="0.56"/><circle cx="294.1" cy="1413.9" r="0.8" fill-opacity="0.63"/><circle cx="358.4" cy="1458.5" r="0.7" fill-opacity="0.63"/><circle cx="361.6" cy="1387.3" r="0.5" fill-opacity="0.85"/><circle cx="316.2" cy="1381.2" r="0.6" fill-opacity="0.72"/><circle cx="339.9" cy="1487.8" r="0.5" fill-opacity="0.71"/><circle cx="255.2" cy="1410.1" r="0.9" fill-opacity="0.90"/><circle cx="377.2" cy="1401.1" r="0.5" fill-opacity="0.92"/><circle cx="339.8" cy="1408" r="0.6" fill-opacity="0.68"/><circle cx="286" cy="1404.2" r="0.9" fill-opacity="0.60"/><circle cx="296.7" cy="1470" r="0.8" fill-opacity="0.72"/><circle cx="253.7" cy="1421.3" r="0.6" fill-opacity="0.92"/><circle cx="273.8" cy="1406" r="0.9" fill-opacity="0.56"/><circle cx="304.3" cy="1468.6" r="0.8" fill-opacity="0.57"/><circle cx="351.4" cy="1480.8" r="0.6" fill-opacity="0.66"/><circle cx="380.9" cy="1441.4" r="0.6" fill-opacity="0.84"/><circle cx="291.1" cy="1393.6" r="0.5" fill-opacity="0.85"/><circle cx="375.1" cy="1443.7" r="0.9" fill-opacity="0.56"/><circle cx="279.6" cy="1421.5" r="0.9" fill-opacity="0.93"/><circle cx="300.9" cy="1390.2" r="0.6" fill-opacity="0.75"/><circle cx="359.1" cy="1458.4" r="0.8" fill-opacity="0.86"/><circle cx="331.8" cy="1400.9" r="0.6" fill-opacity="0.69"/><circle cx="274.4" cy="1460.4" r="0.6" fill-opacity="0.58"/><circle cx="251.6" cy="1432.4" r="0.6" fill-opacity="0.94"/><circle cx="283.9" cy="1366.8" r="0.5" fill-opacity="0.75"/><circle cx="346.2" cy="1417.6" r="0.6" fill-opacity="0.72"/><circle cx="333.6" cy="1449.4" r="0.8" fill-opacity="0.89"/><circle cx="339.8" cy="1372" r="0.8" fill-opacity="0.67"/><circle cx="326.2" cy="1407.2" r="0.8" fill-opacity="0.63"/><circle cx="281.5" cy="1389.4" r="0.5" fill-opacity="0.90"/><circle cx="327.8" cy="1400.7" r="0.6" fill-opacity="0.95"/><circle cx="317.8" cy="1387.4" r="0.8" fill-opacity="0.81"/><circle cx="313.3" cy="1469.7" r="0.8" fill-opacity="0.92"/><circle cx="377" cy="1407.1" r="0.8" fill-opacity="0.73"/><circle cx="283.2" cy="1463.9" r="0.9" fill-opacity="0.59"/><circle cx="330.3" cy="1441.8" r="0.5" fill-opacity="0.70"/><circle cx="266.6" cy="1383.6" r="0.6" fill-opacity="0.79"/><circle cx="338" cy="1383.5" r="0.5" fill-opacity="0.68"/><circle cx="341.8" cy="1380.9" r="0.6" fill-opacity="0.63"/><circle cx="358.1" cy="1431.7" r="0.5" fill-opacity="0.59"/><circle cx="302.1" cy="1432" r="0.7" fill-opacity="0.59"/><circle cx="269.7" cy="1452.3" r="0.6" fill-opacity="0.66"/><circle cx="290.5" cy="1434.3" r="0.6" fill-opacity="0.72"/><circle cx="297.7" cy="1382.6" r="0.8" fill-opacity="0.63"/><circle cx="306.1" cy="1469.8" r="0.6" fill-opacity="0.90"/><circle cx="311.3" cy="1377.8" r="0.5" fill-opacity="0.77"/><circle cx="336.5" cy="1482.3" r="0.5" fill-opacity="0.80"/></g>
<circle cx="491.5" cy="1425" r="71.4" fill="url(#plate)"/>
<g fill="#4a2ea6"><circle cx="473.4" cy="1425.6" r="0.5" fill-opacity="0.66"/><circle cx="494.5" cy="1484.5" r="0.5" fill-opacity="0.75"/><circle cx="489.1" cy="1362.5" r="0.9" fill-opacity="0.71"/><circle cx="548.1" cy="1441.8" r="0.8" fill-opacity="0.61"/><circle cx="531.5" cy="1386.1" r="0.6" fill-opacity="0.89"/><circle cx="537.6" cy="1380.6" r="0.5" fill-opacity="0.71"/><circle cx="494" cy="1408.7" r="0.5" fill-opacity="0.65"/><circle cx="523" cy="1480.6" r="0.5" fill-opacity="0.77"/><circle cx="505.4" cy="1432" r="0.7" fill-opacity="0.67"/><circle cx="480.3" cy="1436.6" r="0.6" fill-opacity="0.81"/><circle cx="484.1" cy="1416.4" r="0.5" fill-opacity="0.80"/><circle cx="490" cy="1387.9" r="0.8" fill-opacity="0.86"/><circle cx="485.7" cy="1380.2" r="0.7" fill-opacity="0.59"/><circle cx="439.5" cy="1415.3" r="0.5" fill-opacity="0.73"/><circle cx="492.9" cy="1360.7" r="0.7" fill-opacity="0.58"/><circle cx="524.2" cy="1463.9" r="0.7" fill-opacity="0.57"/><circle cx="492" cy="1407.9" r="0.9" fill-opacity="0.60"/><circle cx="524" cy="1469.1" r="0.5" fill-opacity="0.94"/><circle cx="490.4" cy="1488.9" r="0.9" fill-opacity="0.62"/><circle cx="430.7" cy="1404.1" r="0.8" fill-opacity="0.61"/><circle cx="547" cy="1393.5" r="0.8" fill-opacity="0.61"/><circle cx="491.8" cy="1483.8" r="0.5" fill-opacity="0.66"/><circle cx="492.3" cy="1399.7" r="0.5" fill-opacity="0.62"/><circle cx="516.6" cy="1480.3" r="0.5" fill-opacity="0.86"/><circle cx="437.6" cy="1429.3" r="0.7" fill-opacity="0.69"/><circle cx="543.7" cy="1432.7" r="0.7" fill-opacity="0.90"/><circle cx="509.7" cy="1410.2" r="0.8" fill-opacity="0.66"/><circle cx="471.9" cy="1462" r="0.6" fill-opacity="0.62"/><circle cx="536.3" cy="1390.5" r="0.7" fill-opacity="0.94"/><circle cx="503.5" cy="1447.9" r="0.6" fill-opacity="0.55"/><circle cx="507.7" cy="1415.5" r="0.7" fill-opacity="0.91"/><circle cx="440" cy="1386.8" r="0.7" fill-opacity="0.56"/><circle cx="436.4" cy="1405" r="0.6" fill-opacity="0.78"/><circle cx="504" cy="1383.6" r="0.7" fill-opacity="0.74"/><circle cx="455.6" cy="1375.9" r="0.5" fill-opacity="0.81"/><circle cx="543.5" cy="1464.5" r="0.6" fill-opacity="0.66"/><circle cx="500.2" cy="1404.1" r="0.7" fill-opacity="0.73"/><circle cx="456.3" cy="1481.5" r="0.5" fill-opacity="0.76"/><circle cx="478.3" cy="1388.3" r="0.5" fill-opacity="0.86"/><circle cx="449.4" cy="1440.1" r="0.7" fill-opacity="0.81"/><circle cx="535.4" cy="1379.5" r="0.6" fill-opacity="0.67"/><circle cx="531.1" cy="1455.1" r="0.5" fill-opacity="0.89"/><circle cx="525.8" cy="1420.1" r="0.8" fill-opacity="0.73"/><circle cx="468.5" cy="1459.9" r="0.8" fill-opacity="0.89"/><circle cx="521.1" cy="1392.3" r="0.7" fill-opacity="0.72"/><circle cx="531.9" cy="1428.3" r="0.6" fill-opacity="0.81"/><circle cx="458" cy="1388.1" r="0.8" fill-opacity="0.93"/><circle cx="525.9" cy="1400.8" r="0.8" fill-opacity="0.68"/><circle cx="509.8" cy="1452" r="0.7" fill-opacity="0.94"/><circle cx="487.2" cy="1472.5" r="0.8" fill-opacity="0.89"/><circle cx="482.7" cy="1456.4" r="0.7" fill-opacity="0.67"/><circle cx="451.2" cy="1442.2" r="0.5" fill-opacity="0.91"/><circle cx="469.8" cy="1374.9" r="0.5" fill-opacity="0.57"/><circle cx="518.5" cy="1443.7" r="0.8" fill-opacity="0.84"/><circle cx="430.7" cy="1437.7" r="0.6" fill-opacity="0.88"/><circle cx="540.2" cy="1468.7" r="0.7" fill-opacity="0.88"/><circle cx="509.9" cy="1395.2" r="0.5" fill-opacity="0.59"/><circle cx="527.5" cy="1383.7" r="0.6" fill-opacity="0.72"/><circle cx="461.1" cy="1455.2" r="0.6" fill-opacity="0.68"/><circle cx="556.4" cy="1425.5" r="0.8" fill-opacity="0.80"/><circle cx="425.9" cy="1412.8" r="0.6" fill-opacity="0.86"/><circle cx="470.1" cy="1453.6" r="0.7" fill-opacity="0.64"/><circle cx="536.3" cy="1378.9" r="0.5" fill-opacity="0.63"/><circle cx="490.3" cy="1466.5" r="0.5" fill-opacity="0.75"/><circle cx="470.1" cy="1471.4" r="0.6" fill-opacity="0.93"/><circle cx="461.2" cy="1385.1" r="0.8" fill-opacity="0.75"/><circle cx="436.9" cy="1444.1" r="0.5" fill-opacity="0.87"/><circle cx="519.1" cy="1465.2" r="0.7" fill-opacity="0.69"/><circle cx="477.7" cy="1410.2" r="0.9" fill-opacity="0.58"/><circle cx="450.4" cy="1391.9" r="0.9" fill-opacity="0.75"/><circle cx="474.6" cy="1478.7" r="0.6" fill-opacity="0.73"/><circle cx="495.9" cy="1460.6" r="0.8" fill-opacity="0.81"/><circle cx="470.3" cy="1400.7" r="0.5" fill-opacity="0.89"/><circle cx="514.2" cy="1458.9" r="0.5" fill-opacity="0.73"/><circle cx="529.8" cy="1436.1" r="0.5" fill-opacity="0.73"/><circle cx="545.4" cy="1388.3" r="0.5" fill-opacity="0.67"/><circle cx="519.9" cy="1473.1" r="0.5" fill-opacity="0.61"/><circle cx="456.2" cy="1400.7" r="0.7" fill-opacity="0.61"/><circle cx="467.4" cy="1381.5" r="0.9" fill-opacity="0.84"/><circle cx="435.8" cy="1408.8" r="0.9" fill-opacity="0.87"/><circle cx="524.1" cy="1415.9" r="0.5" fill-opacity="0.81"/><circle cx="475.9" cy="1359.8" r="0.6" fill-opacity="0.87"/><circle cx="518.6" cy="1425.1" r="0.7" fill-opacity="0.74"/><circle cx="441.4" cy="1439.5" r="0.6" fill-opacity="0.85"/><circle cx="548.6" cy="1415.2" r="0.7" fill-opacity="0.85"/><circle cx="480.5" cy="1387" r="0.8" fill-opacity="0.90"/><circle cx="529.9" cy="1453" r="0.8" fill-opacity="0.82"/><circle cx="511.3" cy="1418.5" r="0.6" fill-opacity="0.80"/><circle cx="435.2" cy="1413.7" r="0.8" fill-opacity="0.84"/><circle cx="509.6" cy="1390" r="0.6" fill-opacity="0.73"/><circle cx="508.5" cy="1412.3" r="0.8" fill-opacity="0.92"/><circle cx="447.1" cy="1446.6" r="0.8" fill-opacity="0.71"/><circle cx="490.1" cy="1491.4" r="0.5" fill-opacity="0.77"/><circle cx="444" cy="1464.4" r="0.9" fill-opacity="0.76"/><circle cx="435.7" cy="1435.4" r="0.7" fill-opacity="0.84"/></g>
<circle cx="147.5" cy="1583" r="71.4" fill="url(#plate2)"/>
<g fill="#4a2ea6"><circle cx="149.2" cy="1602.5" r="1.1" fill-opacity="0.76"/><circle cx="135" cy="1645.7" r="0.7" fill-opacity="0.82"/><circle cx="132.5" cy="1619.8" r="0.7" fill-opacity="0.94"/><circle cx="127.3" cy="1521" r="0.8" fill-opacity="0.71"/><circle cx="136.4" cy="1610.7" r="0.8" fill-opacity="0.66"/><circle cx="108.9" cy="1616.8" r="1.2" fill-opacity="0.76"/><circle cx="108.2" cy="1625.2" r="0.8" fill-opacity="0.63"/><circle cx="95.6" cy="1621.7" r="1.1" fill-opacity="0.80"/><circle cx="143.2" cy="1591.7" r="0.7" fill-opacity="0.94"/><circle cx="126.9" cy="1602.4" r="1.1" fill-opacity="0.88"/><circle cx="143" cy="1554.2" r="0.9" fill-opacity="0.60"/><circle cx="194.2" cy="1562.7" r="1.1" fill-opacity="0.66"/><circle cx="130.2" cy="1548.5" r="0.9" fill-opacity="0.62"/><circle cx="116.9" cy="1547.3" r="0.8" fill-opacity="0.74"/><circle cx="137.5" cy="1602.2" r="1" fill-opacity="0.69"/><circle cx="169.3" cy="1548" r="0.7" fill-opacity="0.61"/><circle cx="110.2" cy="1621.7" r="0.8" fill-opacity="0.61"/><circle cx="162.7" cy="1622.4" r="1" fill-opacity="0.91"/><circle cx="187.8" cy="1630.4" r="0.7" fill-opacity="0.83"/><circle cx="151.8" cy="1616.9" r="0.9" fill-opacity="0.90"/><circle cx="155.2" cy="1550" r="0.7" fill-opacity="0.61"/><circle cx="146.5" cy="1521.2" r="0.9" fill-opacity="0.61"/><circle cx="146.3" cy="1582.7" r="0.9" fill-opacity="0.90"/><circle cx="143" cy="1591.8" r="1" fill-opacity="0.89"/><circle cx="130" cy="1571.6" r="1.2" fill-opacity="0.58"/><circle cx="166.7" cy="1602.1" r="0.6" fill-opacity="0.79"/><circle cx="173.1" cy="1643.4" r="0.8" fill-opacity="0.94"/><circle cx="149" cy="1580.9" r="1.1" fill-opacity="0.56"/><circle cx="178" cy="1600.5" r="0.8" fill-opacity="0.89"/><circle cx="128.8" cy="1579.4" r="0.9" fill-opacity="0.86"/><circle cx="107" cy="1573.9" r="0.9" fill-opacity="0.77"/><circle cx="193.2" cy="1554" r="1.1" fill-opacity="0.71"/><circle cx="148" cy="1551.1" r="0.9" fill-opacity="0.94"/><circle cx="169.1" cy="1623.9" r="0.8" fill-opacity="0.68"/><circle cx="119.4" cy="1595.1" r="1" fill-opacity="0.86"/><circle cx="201.5" cy="1589.4" r="0.6" fill-opacity="0.67"/><circle cx="206.5" cy="1598.2" r="1" fill-opacity="0.87"/><circle cx="204.9" cy="1598.6" r="1" fill-opacity="0.80"/><circle cx="175" cy="1596.5" r="1" fill-opacity="0.64"/><circle cx="170.9" cy="1577.1" r="1.1" fill-opacity="0.59"/><circle cx="169.3" cy="1564.6" r="1.1" fill-opacity="0.86"/><circle cx="156.2" cy="1549.1" r="0.8" fill-opacity="0.72"/><circle cx="122.1" cy="1573.3" r="1" fill-opacity="0.92"/><circle cx="85.2" cy="1592.4" r="0.6" fill-opacity="0.60"/><circle cx="190.9" cy="1593.5" r="1.2" fill-opacity="0.73"/><circle cx="160.4" cy="1644.3" r="1.2" fill-opacity="0.74"/><circle cx="135.2" cy="1527.3" r="1" fill-opacity="0.63"/><circle cx="178.2" cy="1546.9" r="1" fill-opacity="0.62"/><circle cx="177.4" cy="1632.7" r="1" fill-opacity="0.58"/><circle cx="165.5" cy="1612.3" r="0.9" fill-opacity="0.92"/><circle cx="121.1" cy="1615.1" r="0.7" fill-opacity="0.89"/><circle cx="145.6" cy="1521.4" r="0.8" fill-opacity="0.78"/><circle cx="138.9" cy="1607.8" r="0.7" fill-opacity="0.87"/><circle cx="128.4" cy="1603.3" r="1" fill-opacity="0.72"/><circle cx="131.5" cy="1623.1" r="1.2" fill-opacity="0.86"/><circle cx="156.9" cy="1553.9" r="0.6" fill-opacity="0.94"/><circle cx="175.9" cy="1628.8" r="0.8" fill-opacity="0.79"/><circle cx="161.7" cy="1556.2" r="0.9" fill-opacity="0.91"/><circle cx="130.2" cy="1608.9" r="1" fill-opacity="0.91"/><circle cx="190.5" cy="1552.7" r="0.6" fill-opacity="0.66"/><circle cx="136.7" cy="1595.1" r="1.1" fill-opacity="0.90"/><circle cx="157.6" cy="1551.4" r="1.1" fill-opacity="0.87"/><circle cx="173.3" cy="1640.9" r="0.8" fill-opacity="0.58"/><circle cx="155" cy="1624.6" r="0.7" fill-opacity="0.85"/><circle cx="162.5" cy="1607.9" r="0.9" fill-opacity="0.63"/><circle cx="113.2" cy="1618.1" r="1.1" fill-opacity="0.73"/><circle cx="185.6" cy="1545.6" r="0.9" fill-opacity="0.91"/><circle cx="201.4" cy="1586.1" r="0.9" fill-opacity="0.79"/><circle cx="104" cy="1539.9" r="0.7" fill-opacity="0.83"/><circle cx="128.3" cy="1592" r="0.8" fill-opacity="0.76"/><circle cx="92.4" cy="1601.6" r="1.1" fill-opacity="0.61"/><circle cx="161.1" cy="1561.3" r="0.9" fill-opacity="0.56"/><circle cx="198.7" cy="1581.1" r="0.9" fill-opacity="0.65"/><circle cx="186.6" cy="1572.6" r="1.2" fill-opacity="0.86"/><circle cx="105.7" cy="1538.3" r="0.7" fill-opacity="0.57"/><circle cx="155.5" cy="1634.9" r="0.9" fill-opacity="0.93"/><circle cx="161.2" cy="1568.6" r="0.7" fill-opacity="0.93"/><circle cx="113.5" cy="1592" r="1" fill-opacity="0.93"/><circle cx="171.3" cy="1568" r="0.9" fill-opacity="0.61"/><circle cx="113.3" cy="1562.3" r="1.1" fill-opacity="0.91"/><circle cx="187.6" cy="1612.3" r="1" fill-opacity="0.94"/><circle cx="172.3" cy="1554.8" r="1" fill-opacity="0.85"/><circle cx="92.3" cy="1558.4" r="0.8" fill-opacity="0.60"/><circle cx="144.9" cy="1536.6" r="0.7" fill-opacity="0.61"/><circle cx="177.9" cy="1540.3" r="0.6" fill-opacity="0.92"/><circle cx="97.1" cy="1575.6" r="0.7" fill-opacity="0.92"/><circle cx="195.4" cy="1601" r="0.9" fill-opacity="0.69"/><circle cx="192.7" cy="1579.9" r="1" fill-opacity="0.61"/><circle cx="177.4" cy="1590.5" r="0.7" fill-opacity="0.90"/><circle cx="114.8" cy="1570.7" r="0.7" fill-opacity="0.66"/><circle cx="195" cy="1559.8" r="0.7" fill-opacity="0.75"/><circle cx="122" cy="1639.4" r="0.7" fill-opacity="0.94"/><circle cx="171" cy="1542.6" r="0.9" fill-opacity="0.66"/><circle cx="113.6" cy="1541.2" r="0.8" fill-opacity="0.95"/><circle cx="91.2" cy="1553.5" r="1.1" fill-opacity="0.57"/><circle cx="179.2" cy="1554.1" r="1.2" fill-opacity="0.56"/><circle cx="190.5" cy="1560.7" r="0.7" fill-opacity="0.55"/><circle cx="194" cy="1586.7" r="0.7" fill-opacity="0.72"/><circle cx="157.5" cy="1532.4" r="0.7" fill-opacity="0.86"/><circle cx="177.1" cy="1540.6" r="0.6" fill-opacity="0.58"/><circle cx="162.7" cy="1582.4" r="0.8" fill-opacity="0.63"/><circle cx="163.2" cy="1612.1" r="1.1" fill-opacity="0.78"/><circle cx="180.1" cy="1570.1" r="1" fill-opacity="0.57"/><circle cx="191" cy="1559.9" r="1.1" fill-opacity="0.90"/><circle cx="204.9" cy="1579.7" r="1.1" fill-opacity="0.66"/><circle cx="103.6" cy="1629.4" r="0.8" fill-opacity="0.62"/><circle cx="129.5" cy="1596.3" r="0.6" fill-opacity="0.76"/><circle cx="139.9" cy="1585.2" r="0.7" fill-opacity="0.84"/><circle cx="122.4" cy="1612.6" r="0.8" fill-opacity="0.85"/><circle cx="211" cy="1582.3" r="0.9" fill-opacity="0.76"/><circle cx="112.6" cy="1627.4" r="0.6" fill-opacity="0.59"/><circle cx="175.3" cy="1540.3" r="0.6" fill-opacity="0.79"/><circle cx="158.2" cy="1586.2" r="1" fill-opacity="0.59"/><circle cx="199.2" cy="1613.4" r="0.6" fill-opacity="0.60"/><circle cx="146.6" cy="1583.1" r="0.8" fill-opacity="0.60"/><circle cx="134.3" cy="1532.2" r="1" fill-opacity="0.89"/><circle cx="98.1" cy="1593.2" r="1" fill-opacity="0.62"/><circle cx="131.9" cy="1571.9" r="1.1" fill-opacity="0.76"/><circle cx="132.9" cy="1644.8" r="1.1" fill-opacity="0.69"/><circle cx="111.2" cy="1559.9" r="0.9" fill-opacity="0.94"/><circle cx="191.6" cy="1631.6" r="0.6" fill-opacity="0.76"/><circle cx="112.4" cy="1572.1" r="1" fill-opacity="0.70"/><circle cx="151.8" cy="1522.7" r="0.9" fill-opacity="0.75"/><circle cx="208.6" cy="1601.6" r="1.1" fill-opacity="0.90"/><circle cx="167.3" cy="1550.2" r="1" fill-opacity="0.66"/><circle cx="153.4" cy="1642.4" r="1" fill-opacity="0.65"/><circle cx="150.3" cy="1573.7" r="1.2" fill-opacity="0.67"/><circle cx="120.3" cy="1603.6" r="0.7" fill-opacity="0.79"/><circle cx="211.3" cy="1584.9" r="0.8" fill-opacity="0.74"/><circle cx="152.2" cy="1533.8" r="0.7" fill-opacity="0.60"/><circle cx="118.6" cy="1569.9" r="1.7" fill-opacity="0.65"/><circle cx="89.8" cy="1589.5" r="2.3" fill-opacity="0.79"/><circle cx="157.3" cy="1604" r="1.6" fill-opacity="0.83"/><circle cx="142" cy="1589.7" r="2.1" fill-opacity="0.74"/><circle cx="121" cy="1546.9" r="1.6" fill-opacity="0.75"/><circle cx="131.2" cy="1595" r="1.4" fill-opacity="0.69"/><circle cx="198.1" cy="1546.4" r="2" fill-opacity="0.75"/><circle cx="118.9" cy="1621.1" r="1.6" fill-opacity="0.58"/><circle cx="199.5" cy="1574.6" r="1.5" fill-opacity="0.71"/><circle cx="139.1" cy="1615.9" r="1.5" fill-opacity="0.64"/><circle cx="99.2" cy="1560.2" r="1.8" fill-opacity="0.82"/><circle cx="163.8" cy="1632" r="2.3" fill-opacity="0.76"/><circle cx="180.9" cy="1617" r="2.2" fill-opacity="0.74"/><circle cx="187.4" cy="1612.2" r="2.4" fill-opacity="0.60"/></g>
<circle cx="316.6" cy="1583" r="71.4" fill="url(#plate2)"/>
<g fill="#4a2ea6"><circle cx="353.8" cy="1595" r="0.9" fill-opacity="0.94"/><circle cx="326.7" cy="1571.5" r="1" fill-opacity="0.90"/><circle cx="331.6" cy="1566.1" r="0.8" fill-opacity="0.73"/><circle cx="347.8" cy="1554" r="0.8" fill-opacity="0.77"/><circle cx="300.4" cy="1558.1" r="1" fill-opacity="0.89"/><circle cx="316.5" cy="1575.2" r="0.7" fill-opacity="0.67"/><circle cx="266.9" cy="1593.6" r="0.9" fill-opacity="0.59"/><circle cx="375.4" cy="1558.4" r="1.1" fill-opacity="0.89"/><circle cx="306.3" cy="1640.5" r="0.6" fill-opacity="0.57"/><circle cx="325.7" cy="1582.6" r="1.1" fill-opacity="0.86"/><circle cx="319" cy="1585.4" r="1" fill-opacity="0.71"/><circle cx="296.7" cy="1596.3" r="0.8" fill-opacity="0.93"/><circle cx="341.3" cy="1586.5" r="0.6" fill-opacity="0.70"/><circle cx="302.7" cy="1591.6" r="0.9" fill-opacity="0.90"/><circle cx="381.6" cy="1581.1" r="0.8" fill-opacity="0.80"/><circle cx="320.8" cy="1627.2" r="0.7" fill-opacity="0.68"/><circle cx="318.4" cy="1528.5" r="1.1" fill-opacity="0.83"/><circle cx="370.9" cy="1571.9" r="0.7" fill-opacity="0.67"/><circle cx="318.2" cy="1583.7" r="0.7" fill-opacity="0.62"/><circle cx="334.8" cy="1597.4" r="0.8" fill-opacity="0.95"/><circle cx="335.7" cy="1518.9" r="0.8" fill-opacity="0.87"/><circle cx="289.6" cy="1609.7" r="0.6" fill-opacity="0.67"/><circle cx="364.5" cy="1595.1" r="1" fill-opacity="0.63"/><circle cx="316.3" cy="1590.5" r="0.7" fill-opacity="0.81"/><circle cx="327" cy="1570.6" r="0.6" fill-opacity="0.61"/><circle cx="352.9" cy="1528" r="0.6" fill-opacity="0.62"/><circle cx="319.7" cy="1628.2" r="0.9" fill-opacity="0.87"/><circle cx="354.5" cy="1558.2" r="1" fill-opacity="0.69"/><circle cx="270.3" cy="1550.3" r="0.6" fill-opacity="0.91"/><circle cx="328.1" cy="1561.9" r="0.8" fill-opacity="0.70"/><circle cx="328.2" cy="1647.3" r="0.8" fill-opacity="0.80"/><circle cx="290.7" cy="1638.8" r="1" fill-opacity="0.67"/><circle cx="331" cy="1647.4" r="0.9" fill-opacity="0.93"/><circle cx="280.6" cy="1567.6" r="1" fill-opacity="0.64"/><circle cx="289.9" cy="1635.5" r="0.9" fill-opacity="0.87"/><circle cx="280.7" cy="1537.3" r="0.8" fill-opacity="0.62"/><circle cx="325.2" cy="1529.1" r="0.9" fill-opacity="0.70"/><circle cx="303.1" cy="1522.2" r="0.6" fill-opacity="0.88"/><circle cx="295.8" cy="1547.3" r="0.7" fill-opacity="0.66"/><circle cx="339.6" cy="1560.8" r="0.7" fill-opacity="0.83"/><circle cx="259.6" cy="1550.8" r="1.1" fill-opacity="0.60"/><circle cx="308.7" cy="1630.1" r="1" fill-opacity="0.61"/><circle cx="296" cy="1614.1" r="0.8" fill-opacity="0.93"/><circle cx="317.3" cy="1544.8" r="0.8" fill-opacity="0.60"/><circle cx="345.5" cy="1549.5" r="1.1" fill-opacity="0.79"/><circle cx="298.1" cy="1547.5" r="0.9" fill-opacity="0.64"/><circle cx="318.4" cy="1589" r="0.7" fill-opacity="0.86"/><circle cx="300.5" cy="1605" r="0.9" fill-opacity="0.67"/><circle cx="301.2" cy="1525.1" r="0.7" fill-opacity="0.89"/><circle cx="291.6" cy="1605.8" r="0.6" fill-opacity="0.77"/><circle cx="297.2" cy="1583.1" r="0.7" fill-opacity="0.58"/><circle cx="290.2" cy="1544.7" r="0.6" fill-opacity="0.84"/><circle cx="286.1" cy="1569.5" r="1.1" fill-opacity="0.86"/><circle cx="265.1" cy="1551.7" r="0.6" fill-opacity="0.82"/><circle cx="339.5" cy="1562.2" r="0.8" fill-opacity="0.81"/><circle cx="344.5" cy="1547.8" r="1.1" fill-opacity="0.69"/><circle cx="334.6" cy="1538.4" r="0.6" fill-opacity="0.92"/><circle cx="349.4" cy="1612.8" r="0.6" fill-opacity="0.57"/><circle cx="269.3" cy="1540.7" r="0.7" fill-opacity="0.70"/><circle cx="336" cy="1538.2" r="1.1" fill-opacity="0.78"/><circle cx="346.9" cy="1548.7" r="0.8" fill-opacity="0.82"/><circle cx="363.4" cy="1621.7" r="0.7" fill-opacity="0.57"/><circle cx="366.2" cy="1598" r="0.6" fill-opacity="0.65"/><circle cx="343.8" cy="1568.1" r="1" fill-opacity="0.88"/><circle cx="286" cy="1525.6" r="1.1" fill-opacity="0.72"/><circle cx="376.8" cy="1609.8" r="1" fill-opacity="0.88"/><circle cx="334.5" cy="1576.4" r="0.6" fill-opacity="0.83"/><circle cx="306.6" cy="1584.7" r="1.1" fill-opacity="0.60"/><circle cx="345" cy="1625.8" r="0.7" fill-opacity="0.77"/><circle cx="322.7" cy="1548" r="0.6" fill-opacity="0.69"/><circle cx="304.2" cy="1541.2" r="0.8" fill-opacity="0.60"/><circle cx="345.6" cy="1606.8" r="0.7" fill-opacity="0.65"/><circle cx="318.8" cy="1575.3" r="1.1" fill-opacity="0.69"/><circle cx="288.5" cy="1636.8" r="0.7" fill-opacity="0.78"/><circle cx="293.3" cy="1627.1" r="0.9" fill-opacity="0.85"/><circle cx="270.3" cy="1606.3" r="0.9" fill-opacity="0.73"/><circle cx="353.8" cy="1629.3" r="0.6" fill-opacity="0.67"/><circle cx="297.1" cy="1541.9" r="0.6" fill-opacity="0.66"/><circle cx="274.2" cy="1611.2" r="0.8" fill-opacity="0.60"/><circle cx="292" cy="1578.6" r="0.8" fill-opacity="0.62"/><circle cx="258.4" cy="1613.4" r="1.1" fill-opacity="0.78"/><circle cx="261.9" cy="1581.4" r="0.8" fill-opacity="0.63"/><circle cx="375.3" cy="1603.2" r="0.9" fill-opacity="0.92"/><circle cx="338" cy="1548.2" r="0.7" fill-opacity="0.61"/><circle cx="364.1" cy="1554.5" r="0.7" fill-opacity="0.81"/><circle cx="270.2" cy="1622.8" r="1.1" fill-opacity="0.85"/><circle cx="292.3" cy="1538.9" r="1" fill-opacity="0.68"/><circle cx="298.2" cy="1590.2" r="0.8" fill-opacity="0.88"/><circle cx="326" cy="1600.9" r="1" fill-opacity="0.83"/><circle cx="315.8" cy="1582.9" r="0.7" fill-opacity="0.67"/><circle cx="328" cy="1524.3" r="1" fill-opacity="0.62"/><circle cx="308.6" cy="1648.7" r="0.6" fill-opacity="0.57"/><circle cx="308.1" cy="1539.7" r="1" fill-opacity="0.55"/><circle cx="356.8" cy="1572.6" r="0.7" fill-opacity="0.81"/><circle cx="318.6" cy="1572" r="0.8" fill-opacity="0.73"/><circle cx="339.8" cy="1628.6" r="2.4" fill-opacity="0.62"/><circle cx="288" cy="1575" r="2" fill-opacity="0.69"/><circle cx="291.9" cy="1577.5" r="2.5" fill-opacity="0.91"/><circle cx="381.2" cy="1599.8" r="2.3" fill-opacity="0.57"/><circle cx="341.3" cy="1598.3" r="1.7" fill-opacity="0.78"/><circle cx="380" cy="1580.3" r="2.1" fill-opacity="0.67"/><circle cx="294.7" cy="1636.9" r="1.4" fill-opacity="0.63"/><circle cx="341.6" cy="1575.6" r="1.5" fill-opacity="0.81"/><circle cx="298.7" cy="1594.3" r="1.9" fill-opacity="0.76"/></g>
<circle cx="491.3" cy="1583" r="71.4" fill="url(#plate2)"/>
<g fill="#4a2ea6"><circle cx="500.4" cy="1568.5" r="0.6" fill-opacity="0.62"/><circle cx="545.9" cy="1589.7" r="0.6" fill-opacity="0.89"/><circle cx="456.8" cy="1526.3" r="0.8" fill-opacity="0.65"/><circle cx="489.8" cy="1590.6" r="0.7" fill-opacity="0.78"/><circle cx="437.1" cy="1584.8" r="0.9" fill-opacity="0.58"/><circle cx="478.4" cy="1523.3" r="0.8" fill-opacity="0.90"/><circle cx="498.4" cy="1613" r="1" fill-opacity="0.60"/><circle cx="476.2" cy="1537" r="1.1" fill-opacity="0.78"/><circle cx="529.8" cy="1532.2" r="1" fill-opacity="0.57"/><circle cx="454.5" cy="1565.1" r="0.6" fill-opacity="0.79"/><circle cx="451.2" cy="1555" r="0.9" fill-opacity="0.72"/><circle cx="545.7" cy="1600" r="1" fill-opacity="0.78"/><circle cx="444.8" cy="1617.3" r="0.7" fill-opacity="0.86"/><circle cx="516.6" cy="1628.6" r="0.6" fill-opacity="0.70"/><circle cx="505.8" cy="1527" r="0.9" fill-opacity="0.87"/><circle cx="515.8" cy="1548.7" r="0.7" fill-opacity="0.73"/><circle cx="538.6" cy="1594.4" r="0.6" fill-opacity="0.56"/><circle cx="447.3" cy="1590.6" r="0.7" fill-opacity="0.82"/><circle cx="474.6" cy="1533.2" r="1" fill-opacity="0.77"/><circle cx="517.8" cy="1626.1" r="1.1" fill-opacity="0.56"/><circle cx="469.2" cy="1534.2" r="0.8" fill-opacity="0.90"/><circle cx="446.8" cy="1627.5" r="0.9" fill-opacity="0.71"/><circle cx="487.9" cy="1535.2" r="1" fill-opacity="0.71"/><circle cx="543.5" cy="1598.5" r="0.6" fill-opacity="0.68"/><circle cx="503.8" cy="1519.1" r="0.6" fill-opacity="0.69"/><circle cx="486.8" cy="1593.8" r="0.8" fill-opacity="0.69"/><circle cx="515.2" cy="1551.2" r="0.7" fill-opacity="0.75"/><circle cx="458" cy="1592.7" r="0.8" fill-opacity="0.93"/><circle cx="499.8" cy="1620.9" r="1" fill-opacity="0.86"/><circle cx="509.9" cy="1601.8" r="0.7" fill-opacity="0.66"/><circle cx="532.6" cy="1635.2" r="1.1" fill-opacity="0.82"/><circle cx="463.9" cy="1619.9" r="1" fill-opacity="0.75"/><circle cx="510.2" cy="1562.1" r="0.9" fill-opacity="0.71"/><circle cx="429.8" cy="1560.2" r="0.7" fill-opacity="0.95"/><circle cx="488.7" cy="1564.4" r="0.7" fill-opacity="0.64"/><circle cx="470.2" cy="1532" r="0.6" fill-opacity="0.90"/><circle cx="484.7" cy="1575.4" r="0.9" fill-opacity="0.67"/><circle cx="463.5" cy="1556.2" r="0.9" fill-opacity="0.77"/><circle cx="552.5" cy="1560.7" r="1.1" fill-opacity="0.78"/><circle cx="471.3" cy="1621.4" r="0.8" fill-opacity="0.90"/><circle cx="430.8" cy="1580.8" r="1" fill-opacity="0.66"/><circle cx="444.4" cy="1550.5" r="0.9" fill-opacity="0.64"/><circle cx="477.2" cy="1541.1" r="0.9" fill-opacity="0.90"/><circle cx="512" cy="1540.6" r="1" fill-opacity="0.94"/><circle cx="505.4" cy="1524.1" r="1" fill-opacity="0.90"/><circle cx="469.1" cy="1532.2" r="0.7" fill-opacity="0.76"/><circle cx="543.8" cy="1602.6" r="1.1" fill-opacity="0.63"/><circle cx="467.1" cy="1617.9" r="0.9" fill-opacity="0.71"/><circle cx="516.3" cy="1560.3" r="0.6" fill-opacity="0.72"/><circle cx="427.7" cy="1600.7" r="0.7" fill-opacity="0.75"/><circle cx="505" cy="1549" r="0.8" fill-opacity="0.56"/><circle cx="550.8" cy="1592" r="1.1" fill-opacity="0.57"/><circle cx="507.2" cy="1614.4" r="0.7" fill-opacity="0.59"/><circle cx="535.2" cy="1572.3" r="0.8" fill-opacity="0.79"/><circle cx="499" cy="1605" r="0.9" fill-opacity="0.68"/><circle cx="525" cy="1549.1" r="0.9" fill-opacity="0.86"/><circle cx="529.9" cy="1556.3" r="1" fill-opacity="0.94"/><circle cx="484.7" cy="1552" r="0.8" fill-opacity="0.93"/><circle cx="487.9" cy="1604.7" r="1" fill-opacity="0.69"/><circle cx="429.7" cy="1583.3" r="0.9" fill-opacity="0.62"/><circle cx="552.8" cy="1564.2" r="0.6" fill-opacity="0.62"/><circle cx="530.2" cy="1547" r="1.1" fill-opacity="0.75"/><circle cx="510.3" cy="1561.2" r="1" fill-opacity="0.73"/><circle cx="466.6" cy="1639.5" r="0.6" fill-opacity="0.84"/><circle cx="430.5" cy="1603.4" r="0.8" fill-opacity="0.90"/><circle cx="429.7" cy="1592" r="0.8" fill-opacity="0.92"/><circle cx="553.6" cy="1600.8" r="0.7" fill-opacity="0.65"/><circle cx="458" cy="1573.7" r="0.7" fill-opacity="0.63"/><circle cx="527.6" cy="1603" r="0.7" fill-opacity="0.95"/><circle cx="451.6" cy="1592.7" r="0.6" fill-opacity="0.90"/><circle cx="543" cy="1550.4" r="1" fill-opacity="0.88"/><circle cx="460.9" cy="1559.4" r="0.8" fill-opacity="0.91"/><circle cx="443.9" cy="1608.6" r="0.9" fill-opacity="0.73"/><circle cx="502.4" cy="1636.6" r="0.7" fill-opacity="0.90"/><circle cx="471.8" cy="1622.2" r="1" fill-opacity="0.62"/><circle cx="442.4" cy="1616" r="0.6" fill-opacity="0.62"/><circle cx="516.9" cy="1525.7" r="0.7" fill-opacity="0.92"/><circle cx="521.6" cy="1636.5" r="1.1" fill-opacity="0.56"/><circle cx="454.2" cy="1623.9" r="0.9" fill-opacity="0.57"/><circle cx="492" cy="1545.4" r="0.8" fill-opacity="0.59"/><circle cx="465.6" cy="1636" r="0.6" fill-opacity="0.74"/><circle cx="440.3" cy="1573" r="0.6" fill-opacity="0.82"/><circle cx="442" cy="1616.3" r="0.8" fill-opacity="0.59"/><circle cx="470.8" cy="1582.5" r="1.1" fill-opacity="0.69"/><circle cx="544.9" cy="1615.4" r="0.7" fill-opacity="0.62"/><circle cx="427.4" cy="1584.2" r="1.8" fill-opacity="0.77"/><circle cx="517.6" cy="1604.4" r="2" fill-opacity="0.77"/><circle cx="543.6" cy="1613.5" r="1.8" fill-opacity="0.68"/><circle cx="475.5" cy="1567" r="1.9" fill-opacity="0.61"/><circle cx="506.4" cy="1642.7" r="1.7" fill-opacity="0.79"/><circle cx="474.1" cy="1546.7" r="1.6" fill-opacity="0.60"/><circle cx="539.3" cy="1622.7" r="2.4" fill-opacity="0.57"/></g>
<text transform="translate(61.4,1429) rotate(-90)" font-size="19.5" text-anchor="middle" fill="#1a1a1a">AsPC-1</text>
<text transform="translate(65.4,1587.3) rotate(-90)" font-size="19.5" text-anchor="middle" fill="#1a1a1a">PANC-1</text>
<text x="147.4" y="1678.8" font-size="19.3" text-anchor="middle" fill="#1a1a1a">NC inhibitor</text>
<text x="316.6" y="1678.8" font-size="19.3" text-anchor="middle" fill="#1a1a1a">miR-17 inhibitor</text>
<text x="491.2" y="1678.8" font-size="19.3" text-anchor="middle" fill="#1a1a1a">miR-93 inhibitor</text>
<text x="-0.5" y="1752" font-size="24" text-anchor="start" fill="#1a1a1a">(f)</text>
<text x="163.2" y="1764.5" font-size="19.3" text-anchor="middle" fill="#1a1a1a">NC inhibitor</text>
<text x="378.7" y="1764.5" font-size="19.3" text-anchor="middle" fill="#1a1a1a">miR-17-5p inhibitor</text>
<text x="599.5" y="1764.5" font-size="19.3" text-anchor="middle" fill="#1a1a1a">miR-93-5p inhibitor</text>
<rect x="58.9" y="1777.2" width="83.5" height="47.4" fill="url(#wg1)" stroke="none" stroke-width="0"/>
<rect x="58.9" y="1777.2" width="83.5" height="47.4" fill="#000" stroke="none" stroke-width="0" filter="url(#nz1)"/>
<rect x="183.5" y="1777.2" width="79.7" height="47.4" fill="url(#wg2)" stroke="none" stroke-width="0"/>
<rect x="183.5" y="1777.2" width="79.7" height="47.4" fill="#000" stroke="none" stroke-width="0" filter="url(#nz1)"/>
<rect x="142.4" y="1777.2" width="41.1" height="47.4" fill="#9b9b9b" stroke="none" stroke-width="0"/>
<line x1="142.4" y1="1777.2" x2="142.4" y2="1824.6" stroke="#111" stroke-width="1.4"/>
<line x1="183.5" y1="1777.2" x2="183.5" y2="1824.6" stroke="#111" stroke-width="1.4"/>
<rect x="276" y="1777.2" width="92.6" height="47.4" fill="url(#wg3)" stroke="none" stroke-width="0"/>
<rect x="276" y="1777.2" width="92.6" height="47.4" fill="#000" stroke="none" stroke-width="0" filter="url(#nz1)"/>
<rect x="406" y="1777.2" width="74" height="47.4" fill="url(#wg4)" stroke="none" stroke-width="0"/>
<rect x="406" y="1777.2" width="74" height="47.4" fill="#000" stroke="none" stroke-width="0" filter="url(#nz1)"/>
<rect x="368.6" y="1777.2" width="37.4" height="47.4" fill="#d2d2d2" stroke="none" stroke-width="0"/>
<line x1="368.6" y1="1777.2" x2="368.6" y2="1824.6" stroke="#111" stroke-width="1.4"/>
<line x1="406" y1="1777.2" x2="406" y2="1824.6" stroke="#111" stroke-width="1.4"/>
<rect x="491.8" y="1777.2" width="86.2" height="47.4" fill="url(#wg5)" stroke="none" stroke-width="0"/>
<rect x="491.8" y="1777.2" width="86.2" height="47.4" fill="#000" stroke="none" stroke-width="0" filter="url(#nz1)"/>
<rect x="617" y="1777.2" width="78.7" height="47.4" fill="url(#wg6)" stroke="none" stroke-width="0"/>
<rect x="617" y="1777.2" width="78.7" height="47.4" fill="#000" stroke="none" stroke-width="0" filter="url(#nz1)"/>
<rect x="578" y="1777.2" width="39" height="47.4" fill="#dadada" stroke="none" stroke-width="0"/>
<line x1="578" y1="1777.2" x2="578" y2="1824.6" stroke="#111" stroke-width="1.4"/>
<line x1="617" y1="1777.2" x2="617" y2="1824.6" stroke="#111" stroke-width="1.4"/>
<rect x="58.9" y="1844.6" width="100.7" height="47.5" fill="url(#wg7)" stroke="none" stroke-width="0"/>
<rect x="58.9" y="1844.6" width="100.7" height="47.5" fill="#000" stroke="none" stroke-width="0" filter="url(#nz3)"/>
<rect x="176.4" y="1844.6" width="86.8" height="47.5" fill="url(#wg8)" stroke="none" stroke-width="0"/>
<rect x="176.4" y="1844.6" width="86.8" height="47.5" fill="#000" stroke="none" stroke-width="0" filter="url(#nz3)"/>
<rect x="159.6" y="1844.6" width="16.8" height="47.5" fill="#cacaca" stroke="none" stroke-width="0"/>
<line x1="159.6" y1="1844.6" x2="159.6" y2="1892.1" stroke="#111" stroke-width="1.4"/>
<line x1="176.4" y1="1844.6" x2="176.4" y2="1892.1" stroke="#111" stroke-width="1.4"/>
<rect x="276" y="1844.6" width="87.3" height="47.5" fill="url(#wg9)" stroke="none" stroke-width="0"/>
<rect x="276" y="1844.6" width="87.3" height="47.5" fill="#000" stroke="none" stroke-width="0" filter="url(#nz3)"/>
<rect x="394.7" y="1844.6" width="85.3" height="47.5" fill="url(#wg10)" stroke="none" stroke-width="0"/>
<rect x="394.7" y="1844.6" width="85.3" height="47.5" fill="#000" stroke="none" stroke-width="0" filter="url(#nz3)"/>
<rect x="363.3" y="1844.6" width="31.4" height="47.5" fill="#cacaca" stroke="none" stroke-width="0"/>
<line x1="363.3" y1="1844.6" x2="363.3" y2="1892.1" stroke="#111" stroke-width="1.4"/>
<line x1="394.7" y1="1844.6" x2="394.7" y2="1892.1" stroke="#111" stroke-width="1.4"/>
<rect x="491.8" y="1844.6" width="90.4" height="47.5" fill="url(#wg11)" stroke="none" stroke-width="0"/>
<rect x="491.8" y="1844.6" width="90.4" height="47.5" fill="#000" stroke="none" stroke-width="0" filter="url(#nz3)"/>
<rect x="617.8" y="1844.6" width="77.9" height="47.5" fill="url(#wg12)" stroke="none" stroke-width="0"/>
<rect x="617.8" y="1844.6" width="77.9" height="47.5" fill="#000" stroke="none" stroke-width="0" filter="url(#nz3)"/>
<rect x="582.2" y="1844.6" width="35.6" height="47.5" fill="#acacac" stroke="none" stroke-width="0"/>
<line x1="582.2" y1="1844.6" x2="582.2" y2="1892.1" stroke="#111" stroke-width="1.4"/>
<line x1="617.8" y1="1844.6" x2="617.8" y2="1892.1" stroke="#111" stroke-width="1.4"/>
<rect x="58.9" y="1934.9" width="79.3" height="47.5" fill="url(#wg13)" stroke="none" stroke-width="0"/>
<rect x="58.9" y="1934.9" width="79.3" height="47.5" fill="#000" stroke="none" stroke-width="0" filter="url(#nz3)"/>
<rect x="191.3" y="1934.9" width="71.9" height="47.5" fill="url(#wg14)" stroke="none" stroke-width="0"/>
<rect x="191.3" y="1934.9" width="71.9" height="47.5" fill="#000" stroke="none" stroke-width="0" filter="url(#nz3)"/>
<rect x="138.2" y="1934.9" width="53.1" height="47.5" fill="#a8a8a8" stroke="none" stroke-width="0"/>
<line x1="138.2" y1="1934.9" x2="138.2" y2="1982.4" stroke="#111" stroke-width="1.4"/>
<line x1="191.3" y1="1934.9" x2="191.3" y2="1982.4" stroke="#111" stroke-width="1.4"/>
<rect x="273" y="1934.9" width="80.8" height="47.5" fill="url(#wg15)" stroke="none" stroke-width="0"/>
<rect x="273" y="1934.9" width="80.8" height="47.5" fill="#000" stroke="none" stroke-width="0" filter="url(#nz3)"/>
<rect x="403.7" y="1934.9" width="73.8" height="47.5" fill="url(#wg16)" stroke="none" stroke-width="0"/>
<rect x="403.7" y="1934.9" width="73.8" height="47.5" fill="#000" stroke="none" stroke-width="0" filter="url(#nz3)"/>
<rect x="353.8" y="1934.9" width="49.9" height="47.5" fill="#dcdcdc" stroke="none" stroke-width="0"/>
<line x1="353.8" y1="1934.9" x2="353.8" y2="1982.4" stroke="#111" stroke-width="1.4"/>
<line x1="403.7" y1="1934.9" x2="403.7" y2="1982.4" stroke="#111" stroke-width="1.4"/>
<rect x="491.8" y="1934.9" width="77.8" height="47.5" fill="url(#wg17)" stroke="none" stroke-width="0"/>
<rect x="491.8" y="1934.9" width="77.8" height="47.5" fill="#000" stroke="none" stroke-width="0" filter="url(#nz3)"/>
<rect x="622.3" y="1934.9" width="73.4" height="47.5" fill="url(#wg18)" stroke="none" stroke-width="0"/>
<rect x="622.3" y="1934.9" width="73.4" height="47.5" fill="#000" stroke="none" stroke-width="0" filter="url(#nz3)"/>
<rect x="569.6" y="1934.9" width="52.7" height="47.5" fill="#a5a5a5" stroke="none" stroke-width="0"/>
<line x1="569.6" y1="1934.9" x2="569.6" y2="1982.4" stroke="#111" stroke-width="1.4"/>
<line x1="622.3" y1="1934.9" x2="622.3" y2="1982.4" stroke="#111" stroke-width="1.4"/>
<rect x="58.9" y="2001.4" width="93.7" height="48" fill="url(#wg19)" stroke="none" stroke-width="0"/>
<rect x="58.9" y="2001.4" width="93.7" height="48" fill="#000" stroke="none" stroke-width="0" filter="url(#nz3)"/>
<rect x="176.5" y="2001.4" width="86.7" height="48" fill="url(#wg20)" stroke="none" stroke-width="0"/>
<rect x="176.5" y="2001.4" width="86.7" height="48" fill="#000" stroke="none" stroke-width="0" filter="url(#nz3)"/>
<rect x="152.6" y="2001.4" width="23.9" height="48" fill="#cacaca" stroke="none" stroke-width="0"/>
<line x1="152.6" y1="2001.4" x2="152.6" y2="2049.4" stroke="#111" stroke-width="1.4"/>
<line x1="176.5" y1="2001.4" x2="176.5" y2="2049.4" stroke="#111" stroke-width="1.4"/>
<rect x="276" y="2001.4" width="75.2" height="48" fill="url(#wg21)" stroke="none" stroke-width="0"/>
<rect x="276" y="2001.4" width="75.2" height="48" fill="#000" stroke="none" stroke-width="0" filter="url(#nz3)"/>
<rect x="395.3" y="2001.4" width="84.7" height="48" fill="url(#wg22)" stroke="none" stroke-width="0"/>
<rect x="395.3" y="2001.4" width="84.7" height="48" fill="#000" stroke="none" stroke-width="0" filter="url(#nz3)"/>
<rect x="351.2" y="2001.4" width="44.1" height="48" fill="#d6d6d6" stroke="none" stroke-width="0"/>
<line x1="351.2" y1="2001.4" x2="351.2" y2="2049.4" stroke="#111" stroke-width="1.4"/>
<line x1="395.3" y1="2001.4" x2="395.3" y2="2049.4" stroke="#111" stroke-width="1.4"/>
<rect x="491.8" y="2001.4" width="82.7" height="48" fill="url(#wg23)" stroke="none" stroke-width="0"/>
<rect x="491.8" y="2001.4" width="82.7" height="48" fill="#000" stroke="none" stroke-width="0" filter="url(#nz3)"/>
<rect x="614.8" y="2001.4" width="80.9" height="48" fill="url(#wg24)" stroke="none" stroke-width="0"/>
<rect x="614.8" y="2001.4" width="80.9" height="48" fill="#000" stroke="none" stroke-width="0" filter="url(#nz3)"/>
<rect x="574.5" y="2001.4" width="40.3" height="48" fill="#d2d2d2" stroke="none" stroke-width="0"/>
<line x1="574.5" y1="2001.4" x2="574.5" y2="2049.4" stroke="#111" stroke-width="1.4"/>
<line x1="614.8" y1="2001.4" x2="614.8" y2="2049.4" stroke="#111" stroke-width="1.4"/>
<text x="55.5" y="1815.8" font-size="19.5" text-anchor="end" fill="#1a1a1a">0H</text>
<text x="55.5" y="1875.2" font-size="19.5" text-anchor="end" fill="#1a1a1a">24H</text>
<text x="55.5" y="1967.2" font-size="19.5" text-anchor="end" fill="#1a1a1a">0H</text>
<text x="55.5" y="2032.5" font-size="19.5" text-anchor="end" fill="#1a1a1a">24H</text>
<text transform="translate(17,1835.7) rotate(-90)" font-size="19.5" text-anchor="middle" fill="#1a1a1a">AsPC-1</text>
<text transform="translate(17,1993) rotate(-90)" font-size="19.5" text-anchor="middle" fill="#1a1a1a">PANC-1</text>
<text x="-0.5" y="2118.4" font-size="24" text-anchor="start" fill="#1a1a1a">(g)</text>
<text x="123.7" y="2137.2" font-size="19.3" text-anchor="middle" fill="#1a1a1a">NC inhibitor</text>
<text x="322" y="2137.2" font-size="19.3" text-anchor="middle" fill="#1a1a1a">miR-17-5p inhibitor</text>
<text x="515.2" y="2137.2" font-size="19.3" text-anchor="middle" fill="#1a1a1a">miR-93-5p inhibitor</text>
<g clip-path="url(#gc25)"><rect x="55.2" y="2157.7" width="136.6" height="102.3" fill="#dcdad2"/><g filter="url(#soft)"><ellipse cx="98.8" cy="2189.6" rx="5.2" ry="2.6" transform="rotate(134 98.8 2189.6)" fill="#5a3cc8" fill-opacity="0.55"/><ellipse cx="87.5" cy="2182" rx="3" ry="2.3" transform="rotate(134 87.5 2182)" fill="#5a3cc8" fill-opacity="0.49"/><ellipse cx="118.8" cy="2196.2" rx="3.1" ry="2.5" transform="rotate(149 118.8 2196.2)" fill="#7a62d8" fill-opacity="0.60"/><ellipse cx="99.6" cy="2189.9" rx="4.1" ry="2.5" transform="rotate(164 99.6 2189.9)" fill="#5a3cc8" fill-opacity="0.69"/><ellipse cx="99.1" cy="2196.3" rx="4" ry="3.8" transform="rotate(12 99.1 2196.3)" fill="#8a74e0" fill-opacity="0.56"/><ellipse cx="92.9" cy="2189.3" rx="3" ry="1.7" transform="rotate(148 92.9 2189.3)" fill="#5a3cc8" fill-opacity="0.42"/><ellipse cx="114.9" cy="2187.7" rx="4.2" ry="3.8" transform="rotate(58 114.9 2187.7)" fill="#8a74e0" fill-opacity="0.68"/><ellipse cx="105" cy="2188.6" rx="2.8" ry="1.7" transform="rotate(19 105 2188.6)" fill="#8a74e0" fill-opacity="0.62"/><ellipse cx="98.7" cy="2190.3" rx="4.3" ry="2.7" transform="rotate(52 98.7 2190.3)" fill="#5a3cc8" fill-opacity="0.63"/><ellipse cx="97.3" cy="2192.7" rx="4.7" ry="3.9" transform="rotate(27 97.3 2192.7)" fill="#6a50d0" fill-opacity="0.50"/><ellipse cx="79.9" cy="2186.1" rx="2.4" ry="1.4" transform="rotate(103 79.9 2186.1)" fill="#7a62d8" fill-opacity="0.59"/><ellipse cx="80.4" cy="2187.9" rx="5" ry="3.1" transform="rotate(48 80.4 2187.9)" fill="#5a3cc8" fill-opacity="0.39"/><ellipse cx="75.3" cy="2174.5" rx="2.9" ry="2" transform="rotate(143 75.3 2174.5)" fill="#8a74e0" fill-opacity="0.72"/><ellipse cx="81.9" cy="2177.3" rx="2.4" ry="2" transform="rotate(175 81.9 2177.3)" fill="#5a3cc8" fill-opacity="0.61"/><ellipse cx="85.1" cy="2177.7" rx="3.4" ry="2.6" transform="rotate(166 85.1 2177.7)" fill="#6a50d0" fill-opacity="0.74"/><ellipse cx="87.8" cy="2176.7" rx="2.5" ry="1.5" transform="rotate(155 87.8 2176.7)" fill="#7a62d8" fill-opacity="0.65"/><ellipse cx="77.7" cy="2186.2" rx="3.8" ry="3.4" transform="rotate(136 77.7 2186.2)" fill="#7a62d8" fill-opacity="0.39"/><ellipse cx="70.1" cy="2177.5" rx="4.4" ry="3" transform="rotate(179 70.1 2177.5)" fill="#6a50d0" fill-opacity="0.71"/><ellipse cx="76.6" cy="2184.2" rx="3.8" ry="3.3" transform="rotate(121 76.6 2184.2)" fill="#6a50d0" fill-opacity="0.51"/><ellipse cx="91.8" cy="2183.9" rx="3.9" ry="3.3" transform="rotate(139 91.8 2183.9)" fill="#7a62d8" fill-opacity="0.39"/><ellipse cx="44.7" cy="2216.3" rx="2.9" ry="2.1" transform="rotate(148 44.7 2216.3)" fill="#6a50d0" fill-opacity="0.63"/><ellipse cx="54.4" cy="2216.3" rx="4.3" ry="3" transform="rotate(105 54.4 2216.3)" fill="#5a3cc8" fill-opacity="0.68"/><ellipse cx="58.7" cy="2214.1" rx="3.3" ry="2.4" transform="rotate(1 58.7 2214.1)" fill="#8a74e0" fill-opacity="0.56"/><ellipse cx="61.4" cy="2218.7" rx="4.3" ry="2.7" transform="rotate(71 61.4 2218.7)" fill="#5a3cc8" fill-opacity="0.62"/><ellipse cx="54.8" cy="2219.7" rx="3.4" ry="2.4" transform="rotate(97 54.8 2219.7)" fill="#8a74e0" fill-opacity="0.43"/><ellipse cx="63.4" cy="2218.1" rx="3.4" ry="2.4" transform="rotate(88 63.4 2218.1)" fill="#6a50d0" fill-opacity="0.50"/><ellipse cx="57.6" cy="2212.9" rx="5" ry="3.8" transform="rotate(9 57.6 2212.9)" fill="#8a74e0" fill-opacity="0.35"/><ellipse cx="69.8" cy="2221.2" rx="4.7" ry="2.4" transform="rotate(40 69.8 2221.2)" fill="#5a3cc8" fill-opacity="0.47"/><ellipse cx="53.7" cy="2207.4" rx="4.1" ry="2.9" transform="rotate(168 53.7 2207.4)" fill="#5a3cc8" fill-opacity="0.43"/><ellipse cx="57.5" cy="2219.1" rx="4.8" ry="2.7" transform="rotate(25 57.5 2219.1)" fill="#7a62d8" fill-opacity="0.68"/><ellipse cx="109.1" cy="2156.2" rx="3" ry="2.4" transform="rotate(135 109.1 2156.2)" fill="#6a50d0" fill-opacity="0.56"/><ellipse cx="115" cy="2166.4" rx="4.4" ry="3.2" transform="rotate(84 115 2166.4)" fill="#6a50d0" fill-opacity="0.66"/><ellipse cx="115.3" cy="2157.6" rx="4.2" ry="2.6" transform="rotate(163 115.3 2157.6)" fill="#5a3cc8" fill-opacity="0.41"/><ellipse cx="118.1" cy="2161.8" rx="2.4" ry="2.1" transform="rotate(53 118.1 2161.8)" fill="#6a50d0" fill-opacity="0.70"/><ellipse cx="112.1" cy="2151.7" rx="4.4" ry="2.8" transform="rotate(46 112.1 2151.7)" fill="#6a50d0" fill-opacity="0.41"/><ellipse cx="114.5" cy="2145.8" rx="3.5" ry="1.8" transform="rotate(68 114.5 2145.8)" fill="#8a74e0" fill-opacity="0.44"/><ellipse cx="106.8" cy="2158.5" rx="3.7" ry="3" transform="rotate(77 106.8 2158.5)" fill="#5a3cc8" fill-opacity="0.40"/><ellipse cx="110.8" cy="2156.9" rx="5" ry="4.8" transform="rotate(169 110.8 2156.9)" fill="#7a62d8" fill-opacity="0.47"/><ellipse cx="103.6" cy="2166" rx="3.8" ry="3.5" transform="rotate(17 103.6 2166)" fill="#5a3cc8" fill-opacity="0.46"/><ellipse cx="106.8" cy="2165.4" rx="4.5" ry="2.7" transform="rotate(85 106.8 2165.4)" fill="#6a50d0" fill-opacity="0.58"/><ellipse cx="66.7" cy="2217.1" rx="2.8" ry="1.8" transform="rotate(31 66.7 2217.1)" fill="#8a74e0" fill-opacity="0.53"/><ellipse cx="62.9" cy="2225.3" rx="2.8" ry="2.4" transform="rotate(54 62.9 2225.3)" fill="#7a62d8" fill-opacity="0.64"/><ellipse cx="53.2" cy="2219.4" rx="2.6" ry="1.5" transform="rotate(71 53.2 2219.4)" fill="#7a62d8" fill-opacity="0.36"/><ellipse cx="60.1" cy="2216.9" rx="4.2" ry="2.4" transform="rotate(104 60.1 2216.9)" fill="#8a74e0" fill-opacity="0.38"/><ellipse cx="61.4" cy="2209" rx="3.4" ry="2.7" transform="rotate(16 61.4 2209)" fill="#7a62d8" fill-opacity="0.69"/><ellipse cx="67.6" cy="2213" rx="2.7" ry="1.5" transform="rotate(158 67.6 2213)" fill="#7a62d8" fill-opacity="0.41"/><ellipse cx="61.8" cy="2223.2" rx="3.3" ry="2" transform="rotate(102 61.8 2223.2)" fill="#7a62d8" fill-opacity="0.55"/><ellipse cx="60.1" cy="2219.5" rx="3.5" ry="2.1" transform="rotate(23 60.1 2219.5)" fill="#6a50d0" fill-opacity="0.64"/><ellipse cx="58.4" cy="2216.2" rx="2.6" ry="1.4" transform="rotate(10 58.4 2216.2)" fill="#6a50d0" fill-opacity="0.63"/><ellipse cx="64.1" cy="2225.3" rx="2.8" ry="1.7" transform="rotate(6 64.1 2225.3)" fill="#5a3cc8" fill-opacity="0.60"/><ellipse cx="62.1" cy="2213" rx="3" ry="2.6" transform="rotate(92 62.1 2213)" fill="#7a62d8" fill-opacity="0.68"/><ellipse cx="69.2" cy="2218" rx="2.6" ry="1.6" transform="rotate(139 69.2 2218)" fill="#6a50d0" fill-opacity="0.68"/><ellipse cx="58.3" cy="2223.6" rx="3.7" ry="3.4" transform="rotate(2 58.3 2223.6)" fill="#5a3cc8" fill-opacity="0.66"/><ellipse cx="74.6" cy="2217.8" rx="2.7" ry="2" transform="rotate(30 74.6 2217.8)" fill="#8a74e0" fill-opacity="0.66"/><ellipse cx="68.2" cy="2226.9" rx="4.3" ry="3.5" transform="rotate(12 68.2 2226.9)" fill="#7a62d8" fill-opacity="0.67"/><ellipse cx="57.3" cy="2216.7" rx="4.6" ry="4.2" transform="rotate(135 57.3 2216.7)" fill="#7a62d8" fill-opacity="0.43"/><ellipse cx="56.1" cy="2209.1" rx="4.6" ry="2.5" transform="rotate(129 56.1 2209.1)" fill="#8a74e0" fill-opacity="0.58"/><ellipse cx="66.6" cy="2210.5" rx="4.6" ry="3.3" transform="rotate(47 66.6 2210.5)" fill="#8a74e0" fill-opacity="0.71"/><ellipse cx="63.9" cy="2206.5" rx="4.7" ry="3.6" transform="rotate(78 63.9 2206.5)" fill="#8a74e0" fill-opacity="0.65"/><ellipse cx="57" cy="2211.9" rx="4.2" ry="2.2" transform="rotate(141 57 2211.9)" fill="#8a74e0" fill-opacity="0.65"/><ellipse cx="164.4" cy="2178.9" rx="4.9" ry="3.7" transform="rotate(168 164.4 2178.9)" fill="#7a62d8" fill-opacity="0.51"/><ellipse cx="173.2" cy="2173.6" rx="4.3" ry="4" transform="rotate(149 173.2 2173.6)" fill="#5a3cc8" fill-opacity="0.73"/><ellipse cx="172.2" cy="2189.7" rx="4.6" ry="3.7" transform="rotate(163 172.2 2189.7)" fill="#5a3cc8" fill-opacity="0.67"/><ellipse cx="177.9" cy="2182.4" rx="2.4" ry="1.3" transform="rotate(146 177.9 2182.4)" fill="#5a3cc8" fill-opacity="0.51"/><ellipse cx="169.9" cy="2184.9" rx="3.9" ry="2.1" transform="rotate(71 169.9 2184.9)" fill="#5a3cc8" fill-opacity="0.60"/><ellipse cx="170.3" cy="2184.3" rx="3.1" ry="2.5" transform="rotate(80 170.3 2184.3)" fill="#6a50d0" fill-opacity="0.40"/><ellipse cx="170.3" cy="2180.9" rx="4.7" ry="2.8" transform="rotate(49 170.3 2180.9)" fill="#6a50d0" fill-opacity="0.49"/><ellipse cx="173" cy="2192.6" rx="4.1" ry="3.7" transform="rotate(71 173 2192.6)" fill="#5a3cc8" fill-opacity="0.48"/><ellipse cx="178.5" cy="2176.1" rx="4.1" ry="3.6" transform="rotate(174 178.5 2176.1)" fill="#5a3cc8" fill-opacity="0.56"/><ellipse cx="174.7" cy="2182.3" rx="5.1" ry="3.6" transform="rotate(146 174.7 2182.3)" fill="#8a74e0" fill-opacity="0.64"/><ellipse cx="146.6" cy="2250.1" rx="4.3" ry="2.4" transform="rotate(136 146.6 2250.1)" fill="#8a74e0" fill-opacity="0.62"/><ellipse cx="155" cy="2261.6" rx="3.6" ry="3.4" transform="rotate(65 155 2261.6)" fill="#5a3cc8" fill-opacity="0.73"/><ellipse cx="148.3" cy="2256.8" rx="4.2" ry="3.1" transform="rotate(124 148.3 2256.8)" fill="#7a62d8" fill-opacity="0.37"/><ellipse cx="152.2" cy="2251.9" rx="3.9" ry="2.8" transform="rotate(135 152.2 2251.9)" fill="#6a50d0" fill-opacity="0.64"/><ellipse cx="147.6" cy="2257.1" rx="3.3" ry="1.8" transform="rotate(172 147.6 2257.1)" fill="#8a74e0" fill-opacity="0.41"/><ellipse cx="140.9" cy="2255" rx="2.4" ry="1.7" transform="rotate(135 140.9 2255)" fill="#8a74e0" fill-opacity="0.60"/><ellipse cx="148.1" cy="2267" rx="2.4" ry="1.8" transform="rotate(73 148.1 2267)" fill="#7a62d8" fill-opacity="0.67"/><ellipse cx="145" cy="2254" rx="5.1" ry="4.2" transform="rotate(124 145 2254)" fill="#8a74e0" fill-opacity="0.48"/><ellipse cx="151.1" cy="2253.4" rx="2.5" ry="1.8" transform="rotate(161 151.1 2253.4)" fill="#6a50d0" fill-opacity="0.56"/><ellipse cx="150.1" cy="2256.3" rx="4.5" ry="2.6" transform="rotate(56 150.1 2256.3)" fill="#7a62d8" fill-opacity="0.58"/><ellipse cx="182" cy="2243.1" rx="3.1" ry="2.8" transform="rotate(85 182 2243.1)" fill="#8a74e0" fill-opacity="0.72"/><ellipse cx="180.5" cy="2241.5" rx="3.4" ry="2.2" transform="rotate(143 180.5 2241.5)" fill="#5a3cc8" fill-opacity="0.46"/><ellipse cx="191.6" cy="2247.7" rx="3.6" ry="3.2" transform="rotate(115 191.6 2247.7)" fill="#8a74e0" fill-opacity="0.37"/><ellipse cx="186.6" cy="2243.3" rx="4.3" ry="3.8" transform="rotate(74 186.6 2243.3)" fill="#7a62d8" fill-opacity="0.46"/><ellipse cx="179.2" cy="2245.7" rx="3.9" ry="2.4" transform="rotate(113 179.2 2245.7)" fill="#8a74e0" fill-opacity="0.53"/><ellipse cx="195.3" cy="2237.6" rx="4.4" ry="2.8" transform="rotate(108 195.3 2237.6)" fill="#8a74e0" fill-opacity="0.46"/><ellipse cx="188" cy="2239.1" rx="3.9" ry="3.3" transform="rotate(122 188 2239.1)" fill="#5a3cc8" fill-opacity="0.68"/><ellipse cx="184.6" cy="2226" rx="2.8" ry="1.6" transform="rotate(130 184.6 2226)" fill="#7a62d8" fill-opacity="0.66"/><ellipse cx="176.7" cy="2244.5" rx="4.5" ry="2.9" transform="rotate(71 176.7 2244.5)" fill="#8a74e0" fill-opacity="0.49"/><ellipse cx="192.7" cy="2246.5" rx="3.9" ry="2.8" transform="rotate(120 192.7 2246.5)" fill="#8a74e0" fill-opacity="0.40"/><ellipse cx="95.4" cy="2167.5" rx="4.8" ry="3.9" transform="rotate(104 95.4 2167.5)" fill="#5a3cc8" fill-opacity="0.44"/><ellipse cx="100.1" cy="2155.8" rx="4.3" ry="3.8" transform="rotate(24 100.1 2155.8)" fill="#6a50d0" fill-opacity="0.62"/><ellipse cx="101.7" cy="2158.6" rx="5" ry="4.5" transform="rotate(134 101.7 2158.6)" fill="#5a3cc8" fill-opacity="0.70"/><ellipse cx="107.8" cy="2170.2" rx="4.4" ry="3.4" transform="rotate(50 107.8 2170.2)" fill="#7a62d8" fill-opacity="0.66"/><ellipse cx="95.8" cy="2160.8" rx="4.1" ry="3.7" transform="rotate(56 95.8 2160.8)" fill="#8a74e0" fill-opacity="0.62"/><ellipse cx="112.1" cy="2163" rx="3.4" ry="2.7" transform="rotate(13 112.1 2163)" fill="#8a74e0" fill-opacity="0.44"/><ellipse cx="91.6" cy="2166.7" rx="3.6" ry="2.6" transform="rotate(176 91.6 2166.7)" fill="#7a62d8" fill-opacity="0.37"/><ellipse cx="102.8" cy="2162.3" rx="3" ry="2.3" transform="rotate(61 102.8 2162.3)" fill="#8a74e0" fill-opacity="0.56"/><ellipse cx="102.4" cy="2170.8" rx="4.7" ry="3" transform="rotate(175 102.4 2170.8)" fill="#7a62d8" fill-opacity="0.44"/><ellipse cx="106.6" cy="2172.5" rx="3.1" ry="2.1" transform="rotate(172 106.6 2172.5)" fill="#8a74e0" fill-opacity="0.64"/><ellipse cx="127.1" cy="2198.1" rx="3" ry="2.6" transform="rotate(179 127.1 2198.1)" fill="#8a74e0" fill-opacity="0.73"/><ellipse cx="126.7" cy="2211.5" rx="2.5" ry="1.8" transform="rotate(24 126.7 2211.5)" fill="#5a3cc8" fill-opacity="0.74"/><ellipse cx="141.2" cy="2193.9" rx="2.9" ry="2.2" transform="rotate(20 141.2 2193.9)" fill="#6a50d0" fill-opacity="0.46"/><ellipse cx="138.5" cy="2206.3" rx="3.8" ry="2.7" transform="rotate(36 138.5 2206.3)" fill="#6a50d0" fill-opacity="0.66"/><ellipse cx="138.1" cy="2206.6" rx="4.8" ry="3" transform="rotate(142 138.1 2206.6)" fill="#7a62d8" fill-opacity="0.72"/><ellipse cx="133.5" cy="2190.8" rx="2.5" ry="1.5" transform="rotate(2 133.5 2190.8)" fill="#8a74e0" fill-opacity="0.57"/><ellipse cx="129.7" cy="2194" rx="3.2" ry="2.1" transform="rotate(19 129.7 2194)" fill="#6a50d0" fill-opacity="0.63"/><ellipse cx="133.8" cy="2199.2" rx="4.4" ry="3.7" transform="rotate(62 133.8 2199.2)" fill="#6a50d0" fill-opacity="0.50"/><ellipse cx="140.3" cy="2194.8" rx="2.6" ry="1.7" transform="rotate(57 140.3 2194.8)" fill="#6a50d0" fill-opacity="0.69"/><ellipse cx="130.6" cy="2198" rx="3.5" ry="2.3" transform="rotate(118 130.6 2198)" fill="#6a50d0" fill-opacity="0.63"/><ellipse cx="175.3" cy="2261.2" rx="3.4" ry="3" transform="rotate(151 175.3 2261.2)" fill="#6a50d0" fill-opacity="0.41"/><ellipse cx="191.7" cy="2263.2" rx="3.9" ry="2" transform="rotate(146 191.7 2263.2)" fill="#7a62d8" fill-opacity="0.54"/><ellipse cx="196.4" cy="2260.8" rx="3.9" ry="2.1" transform="rotate(58 196.4 2260.8)" fill="#5a3cc8" fill-opacity="0.54"/><ellipse cx="181.7" cy="2255.4" rx="3" ry="2.7" transform="rotate(69 181.7 2255.4)" fill="#7a62d8" fill-opacity="0.39"/><ellipse cx="194.7" cy="2249.6" rx="3.6" ry="2.7" transform="rotate(166 194.7 2249.6)" fill="#5a3cc8" fill-opacity="0.65"/><ellipse cx="175.7" cy="2254.6" rx="4.8" ry="2.8" transform="rotate(117 175.7 2254.6)" fill="#6a50d0" fill-opacity="0.64"/><ellipse cx="172.2" cy="2260" rx="4.1" ry="2.3" transform="rotate(90 172.2 2260)" fill="#5a3cc8" fill-opacity="0.38"/><ellipse cx="185.6" cy="2272.7" rx="3" ry="2" transform="rotate(142 185.6 2272.7)" fill="#6a50d0" fill-opacity="0.60"/><ellipse cx="184.2" cy="2256.6" rx="2.6" ry="2.4" transform="rotate(144 184.2 2256.6)" fill="#7a62d8" fill-opacity="0.54"/><ellipse cx="172.7" cy="2264.9" rx="5.1" ry="4.4" transform="rotate(8 172.7 2264.9)" fill="#5a3cc8" fill-opacity="0.46"/><ellipse cx="76.3" cy="2157.2" rx="5.2" ry="4.2" transform="rotate(34 76.3 2157.2)" fill="#6a50d0" fill-opacity="0.60"/><ellipse cx="73" cy="2164.9" rx="5.1" ry="3.4" transform="rotate(158 73 2164.9)" fill="#7a62d8" fill-opacity="0.69"/><ellipse cx="65.7" cy="2156.4" rx="3.8" ry="3" transform="rotate(107 65.7 2156.4)" fill="#7a62d8" fill-opacity="0.63"/><ellipse cx="71.8" cy="2153.7" rx="3.7" ry="2.9" transform="rotate(101 71.8 2153.7)" fill="#6a50d0" fill-opacity="0.36"/><ellipse cx="81.4" cy="2151.5" rx="3.7" ry="2" transform="rotate(117 81.4 2151.5)" fill="#6a50d0" fill-opacity="0.62"/><ellipse cx="84.4" cy="2158.8" rx="2.6" ry="1.9" transform="rotate(122 84.4 2158.8)" fill="#7a62d8" fill-opacity="0.64"/><ellipse cx="83" cy="2151.7" rx="2.6" ry="1.7" transform="rotate(54 83 2151.7)" fill="#8a74e0" fill-opacity="0.41"/><ellipse cx="63.1" cy="2151" rx="4.6" ry="2.3" transform="rotate(13 63.1 2151)" fill="#7a62d8" fill-opacity="0.62"/><ellipse cx="76.6" cy="2156.1" rx="3.4" ry="3.2" transform="rotate(166 76.6 2156.1)" fill="#6a50d0" fill-opacity="0.72"/><ellipse cx="75" cy="2150.7" rx="5" ry="4.4" transform="rotate(129 75 2150.7)" fill="#7a62d8" fill-opacity="0.62"/><ellipse cx="74.3" cy="2249.3" rx="4.1" ry="2.6" transform="rotate(46 74.3 2249.3)" fill="#6a50d0" fill-opacity="0.45"/><ellipse cx="71.9" cy="2255.3" rx="3.3" ry="1.8" transform="rotate(80 71.9 2255.3)" fill="#5a3cc8" fill-opacity="0.65"/><ellipse cx="83.6" cy="2237.2" rx="4.5" ry="2.8" transform="rotate(45 83.6 2237.2)" fill="#5a3cc8" fill-opacity="0.57"/><ellipse cx="69.6" cy="2256.2" rx="3.4" ry="2.9" transform="rotate(0 69.6 2256.2)" fill="#6a50d0" fill-opacity="0.71"/><ellipse cx="75.7" cy="2245" rx="2.6" ry="2.3" transform="rotate(56 75.7 2245)" fill="#8a74e0" fill-opacity="0.50"/><ellipse cx="58.5" cy="2247.9" rx="2.8" ry="2.1" transform="rotate(117 58.5 2247.9)" fill="#6a50d0" fill-opacity="0.73"/><ellipse cx="62.5" cy="2257" rx="4.3" ry="4.1" transform="rotate(16 62.5 2257)" fill="#6a50d0" fill-opacity="0.44"/><ellipse cx="74" cy="2240.5" rx="4.4" ry="3.1" transform="rotate(21 74 2240.5)" fill="#6a50d0" fill-opacity="0.59"/><ellipse cx="70.9" cy="2248.9" rx="5.1" ry="3.2" transform="rotate(70 70.9 2248.9)" fill="#8a74e0" fill-opacity="0.45"/><ellipse cx="82.7" cy="2252.2" rx="2.9" ry="1.8" transform="rotate(174 82.7 2252.2)" fill="#6a50d0" fill-opacity="0.61"/><ellipse cx="136.1" cy="2230.5" rx="2.5" ry="1.3" transform="rotate(65 136.1 2230.5)" fill="#6a50d0" fill-opacity="0.57"/><ellipse cx="135.4" cy="2221.7" rx="3.8" ry="3.4" transform="rotate(166 135.4 2221.7)" fill="#5a3cc8" fill-opacity="0.42"/><ellipse cx="141" cy="2231.3" rx="3.5" ry="2.8" transform="rotate(80 141 2231.3)" fill="#7a62d8" fill-opacity="0.69"/><ellipse cx="131.7" cy="2229.9" rx="2.9" ry="2" transform="rotate(141 131.7 2229.9)" fill="#7a62d8" fill-opacity="0.69"/><ellipse cx="139.8" cy="2221.7" rx="3.1" ry="1.6" transform="rotate(34 139.8 2221.7)" fill="#7a62d8" fill-opacity="0.41"/><ellipse cx="132.6" cy="2223.2" rx="4.3" ry="2.5" transform="rotate(26 132.6 2223.2)" fill="#7a62d8" fill-opacity="0.68"/><ellipse cx="141.2" cy="2230.1" rx="2.6" ry="2" transform="rotate(11 141.2 2230.1)" fill="#8a74e0" fill-opacity="0.36"/><ellipse cx="138.8" cy="2226.7" rx="5.1" ry="3.4" transform="rotate(130 138.8 2226.7)" fill="#6a50d0" fill-opacity="0.50"/><ellipse cx="136.4" cy="2224" rx="2.8" ry="2.2" transform="rotate(157 136.4 2224)" fill="#6a50d0" fill-opacity="0.46"/><ellipse cx="129.4" cy="2234.6" rx="3" ry="1.7" transform="rotate(39 129.4 2234.6)" fill="#5a3cc8" fill-opacity="0.69"/><ellipse cx="88" cy="2249.7" rx="2.6" ry="1.7" transform="rotate(66 88 2249.7)" fill="#8a74e0" fill-opacity="0.36"/><ellipse cx="85.3" cy="2250" rx="3.7" ry="3" transform="rotate(17 85.3 2250)" fill="#7a62d8" fill-opacity="0.54"/><ellipse cx="99.8" cy="2243.9" rx="3.6" ry="1.9" transform="rotate(34 99.8 2243.9)" fill="#8a74e0" fill-opacity="0.49"/><ellipse cx="74.3" cy="2251.3" rx="3.9" ry="2.1" transform="rotate(40 74.3 2251.3)" fill="#6a50d0" fill-opacity="0.58"/><ellipse cx="98.6" cy="2239.7" rx="4.8" ry="2.7" transform="rotate(170 98.6 2239.7)" fill="#7a62d8" fill-opacity="0.45"/><ellipse cx="93.8" cy="2257.8" rx="2.9" ry="1.6" transform="rotate(48 93.8 2257.8)" fill="#5a3cc8" fill-opacity="0.66"/><ellipse cx="95.5" cy="2255.7" rx="4.2" ry="2.3" transform="rotate(51 95.5 2255.7)" fill="#8a74e0" fill-opacity="0.38"/><ellipse cx="86.1" cy="2243.6" rx="3.1" ry="2.2" transform="rotate(113 86.1 2243.6)" fill="#7a62d8" fill-opacity="0.61"/><ellipse cx="87.5" cy="2247.9" rx="4.2" ry="3.6" transform="rotate(120 87.5 2247.9)" fill="#6a50d0" fill-opacity="0.61"/><ellipse cx="94.7" cy="2256.2" rx="5.1" ry="4.2" transform="rotate(154 94.7 2256.2)" fill="#8a74e0" fill-opacity="0.61"/><ellipse cx="150.7" cy="2229.8" rx="4.4" ry="3.1" transform="rotate(153 150.7 2229.8)" fill="#8a74e0" fill-opacity="0.53"/><ellipse cx="146.6" cy="2231.8" rx="4.5" ry="3.4" transform="rotate(169 146.6 2231.8)" fill="#5a3cc8" fill-opacity="0.36"/><ellipse cx="147" cy="2233.4" rx="3.7" ry="2" transform="rotate(67 147 2233.4)" fill="#5a3cc8" fill-opacity="0.62"/><ellipse cx="147.2" cy="2239.9" rx="2.9" ry="2" transform="rotate(56 147.2 2239.9)" fill="#5a3cc8" fill-opacity="0.46"/><ellipse cx="154.1" cy="2228" rx="2.4" ry="1.4" transform="rotate(74 154.1 2228)" fill="#7a62d8" fill-opacity="0.58"/><ellipse cx="144.7" cy="2225.6" rx="4.8" ry="2.7" transform="rotate(146 144.7 2225.6)" fill="#5a3cc8" fill-opacity="0.54"/><ellipse cx="138.4" cy="2227.8" rx="3.1" ry="2.3" transform="rotate(49 138.4 2227.8)" fill="#5a3cc8" fill-opacity="0.41"/><ellipse cx="148.9" cy="2233.9" rx="4" ry="3.6" transform="rotate(10 148.9 2233.9)" fill="#6a50d0" fill-opacity="0.52"/><ellipse cx="153.8" cy="2233.8" rx="4.6" ry="2.8" transform="rotate(103 153.8 2233.8)" fill="#6a50d0" fill-opacity="0.69"/><ellipse cx="148.7" cy="2228.2" rx="5.1" ry="3.5" transform="rotate(9 148.7 2228.2)" fill="#7a62d8" fill-opacity="0.74"/><ellipse cx="178.8" cy="2161.8" rx="2.7" ry="1.4" transform="rotate(68 178.8 2161.8)" fill="#8a74e0" fill-opacity="0.67"/><ellipse cx="174.6" cy="2160" rx="2.7" ry="1.6" transform="rotate(118 174.6 2160)" fill="#8a74e0" fill-opacity="0.71"/><ellipse cx="182.5" cy="2164.1" rx="2.5" ry="2.3" transform="rotate(103 182.5 2164.1)" fill="#6a50d0" fill-opacity="0.69"/><ellipse cx="187" cy="2163" rx="3.5" ry="3.3" transform="rotate(46 187 2163)" fill="#7a62d8" fill-opacity="0.63"/><ellipse cx="187.2" cy="2167.6" rx="2.9" ry="1.9" transform="rotate(166 187.2 2167.6)" fill="#5a3cc8" fill-opacity="0.54"/><ellipse cx="174.6" cy="2157.8" rx="4.2" ry="2.4" transform="rotate(173 174.6 2157.8)" fill="#6a50d0" fill-opacity="0.74"/><ellipse cx="192.2" cy="2172" rx="3.9" ry="2.7" transform="rotate(24 192.2 2172)" fill="#6a50d0" fill-opacity="0.50"/><ellipse cx="177.2" cy="2160.2" rx="3.8" ry="2.5" transform="rotate(180 177.2 2160.2)" fill="#6a50d0" fill-opacity="0.70"/><ellipse cx="184.1" cy="2168.8" rx="4.9" ry="3.8" transform="rotate(116 184.1 2168.8)" fill="#5a3cc8" fill-opacity="0.58"/><ellipse cx="186" cy="2162.6" rx="3.4" ry="2.7" transform="rotate(79 186 2162.6)" fill="#6a50d0" fill-opacity="0.67"/></g><g fill="#2a2a2a" fill-opacity="0.88"><ellipse cx="149.9" cy="2226.9" rx="2.1" ry="1.15" transform="rotate(47 149.9 2226.9)"/><ellipse cx="109" cy="2169.7" rx="2.1" ry="1.15" transform="rotate(43 109 2169.7)"/><ellipse cx="95.1" cy="2214" rx="2.1" ry="1.15" transform="rotate(33 95.1 2214)"/><ellipse cx="89.2" cy="2218.3" rx="2.1" ry="1.15" transform="rotate(46 89.2 2218.3)"/><ellipse cx="105.6" cy="2244.7" rx="2.1" ry="1.15" transform="rotate(44 105.6 2244.7)"/><ellipse cx="77.5" cy="2164.3" rx="2.1" ry="1.15" transform="rotate(39 77.5 2164.3)"/><ellipse cx="146.2" cy="2236.1" rx="2.1" ry="1.15" transform="rotate(29 146.2 2236.1)"/><ellipse cx="177.7" cy="2218.6" rx="2.1" ry="1.15" transform="rotate(38 177.7 2218.6)"/><ellipse cx="131.8" cy="2160.7" rx="2.1" ry="1.15" transform="rotate(47 131.8 2160.7)"/><ellipse cx="169.5" cy="2166.5" rx="2.1" ry="1.15" transform="rotate(34 169.5 2166.5)"/><ellipse cx="78.9" cy="2175.6" rx="2.1" ry="1.15" transform="rotate(50 78.9 2175.6)"/><ellipse cx="162.5" cy="2181.9" rx="2.1" ry="1.15" transform="rotate(29 162.5 2181.9)"/><ellipse cx="66.5" cy="2166.8" rx="2.1" ry="1.15" transform="rotate(33 66.5 2166.8)"/><ellipse cx="119.4" cy="2165.2" rx="2.1" ry="1.15" transform="rotate(36 119.4 2165.2)"/><ellipse cx="95.1" cy="2234.2" rx="2.1" ry="1.15" transform="rotate(49 95.1 2234.2)"/><ellipse cx="100.7" cy="2252.6" rx="2.1" ry="1.15" transform="rotate(34 100.7 2252.6)"/><ellipse cx="91.5" cy="2164.2" rx="2.1" ry="1.15" transform="rotate(29 91.5 2164.2)"/><ellipse cx="188.2" cy="2171.2" rx="2.1" ry="1.15" transform="rotate(49 188.2 2171.2)"/><ellipse cx="100.1" cy="2209" rx="2.1" ry="1.15" transform="rotate(31 100.1 2209)"/><ellipse cx="137.9" cy="2258.9" rx="2.1" ry="1.15" transform="rotate(47 137.9 2258.9)"/><ellipse cx="157.8" cy="2243.5" rx="2.1" ry="1.15" transform="rotate(38 157.8 2243.5)"/><ellipse cx="95.5" cy="2159.4" rx="2.1" ry="1.15" transform="rotate(35 95.5 2159.4)"/><ellipse cx="65.1" cy="2206" rx="2.1" ry="1.15" transform="rotate(30 65.1 2206)"/><ellipse cx="76" cy="2238.9" rx="2.1" ry="1.15" transform="rotate(39 76 2238.9)"/><ellipse cx="119.2" cy="2241" rx="2.1" ry="1.15" transform="rotate(43 119.2 2241)"/><ellipse cx="167.9" cy="2206" rx="2.1" ry="1.15" transform="rotate(38 167.9 2206)"/><ellipse cx="57" cy="2253.2" rx="2.1" ry="1.15" transform="rotate(33 57 2253.2)"/><ellipse cx="169.9" cy="2204.5" rx="2.1" ry="1.15" transform="rotate(46 169.9 2204.5)"/><ellipse cx="123.7" cy="2211.1" rx="2.1" ry="1.15" transform="rotate(36 123.7 2211.1)"/><ellipse cx="63" cy="2181.1" rx="2.1" ry="1.15" transform="rotate(29 63 2181.1)"/><ellipse cx="125.2" cy="2179.3" rx="2.1" ry="1.15" transform="rotate(45 125.2 2179.3)"/><ellipse cx="117.2" cy="2177.4" rx="2.1" ry="1.15" transform="rotate(32 117.2 2177.4)"/><ellipse cx="189.9" cy="2259.5" rx="2.1" ry="1.15" transform="rotate(50 189.9 2259.5)"/><ellipse cx="73.1" cy="2164" rx="2.1" ry="1.15" transform="rotate(39 73.1 2164)"/><ellipse cx="101.5" cy="2229.7" rx="2.1" ry="1.15" transform="rotate(44 101.5 2229.7)"/><ellipse cx="151.1" cy="2240.1" rx="2.1" ry="1.15" transform="rotate(38 151.1 2240.1)"/><ellipse cx="126.6" cy="2189" rx="2.1" ry="1.15" transform="rotate(47 126.6 2189)"/><ellipse cx="98.3" cy="2187.7" rx="2.1" ry="1.15" transform="rotate(36 98.3 2187.7)"/><ellipse cx="87.5" cy="2175.6" rx="2.1" ry="1.15" transform="rotate(43 87.5 2175.6)"/><ellipse cx="88.7" cy="2160.8" rx="2.1" ry="1.15" transform="rotate(36 88.7 2160.8)"/><ellipse cx="162.4" cy="2231.2" rx="2.1" ry="1.15" transform="rotate(49 162.4 2231.2)"/><ellipse cx="148.9" cy="2206.4" rx="2.1" ry="1.15" transform="rotate(35 148.9 2206.4)"/><ellipse cx="65.4" cy="2225.1" rx="2.1" ry="1.15" transform="rotate(43 65.4 2225.1)"/><ellipse cx="114.9" cy="2164.5" rx="2.1" ry="1.15" transform="rotate(47 114.9 2164.5)"/><ellipse cx="125.4" cy="2203.7" rx="2.1" ry="1.15" transform="rotate(48 125.4 2203.7)"/><ellipse cx="183.3" cy="2200.5" rx="2.1" ry="1.15" transform="rotate(45 183.3 2200.5)"/><ellipse cx="128.3" cy="2237.5" rx="2.1" ry="1.15" transform="rotate(45 128.3 2237.5)"/><ellipse cx="98.2" cy="2162.9" rx="2.1" ry="1.15" transform="rotate(46 98.2 2162.9)"/><ellipse cx="67.2" cy="2252.1" rx="2.1" ry="1.15" transform="rotate(31 67.2 2252.1)"/><ellipse cx="172.4" cy="2254.2" rx="2.1" ry="1.15" transform="rotate(41 172.4 2254.2)"/><ellipse cx="63.8" cy="2227.7" rx="2.1" ry="1.15" transform="rotate(29 63.8 2227.7)"/><ellipse cx="145" cy="2244.9" rx="2.1" ry="1.15" transform="rotate(44 145 2244.9)"/><ellipse cx="101.8" cy="2210.9" rx="2.1" ry="1.15" transform="rotate(31 101.8 2210.9)"/><ellipse cx="150.5" cy="2230.9" rx="2.1" ry="1.15" transform="rotate(46 150.5 2230.9)"/><ellipse cx="59.6" cy="2250.8" rx="2.1" ry="1.15" transform="rotate(44 59.6 2250.8)"/><ellipse cx="127.6" cy="2229.3" rx="2.1" ry="1.15" transform="rotate(36 127.6 2229.3)"/><ellipse cx="167" cy="2219.5" rx="2.1" ry="1.15" transform="rotate(38 167 2219.5)"/><ellipse cx="87.9" cy="2197.3" rx="2.1" ry="1.15" transform="rotate(47 87.9 2197.3)"/><ellipse cx="151.9" cy="2194.8" rx="2.1" ry="1.15" transform="rotate(49 151.9 2194.8)"/><ellipse cx="117.8" cy="2214.2" rx="2.1" ry="1.15" transform="rotate(30 117.8 2214.2)"/><ellipse cx="184" cy="2253.8" rx="2.1" ry="1.15" transform="rotate(45 184 2253.8)"/><ellipse cx="108" cy="2180.9" rx="2.1" ry="1.15" transform="rotate(32 108 2180.9)"/><ellipse cx="166" cy="2235.3" rx="2.1" ry="1.15" transform="rotate(37 166 2235.3)"/><ellipse cx="82.8" cy="2238.3" rx="2.1" ry="1.15" transform="rotate(46 82.8 2238.3)"/><ellipse cx="180.3" cy="2207.9" rx="2.1" ry="1.15" transform="rotate(49 180.3 2207.9)"/><ellipse cx="125.3" cy="2239.8" rx="2.1" ry="1.15" transform="rotate(29 125.3 2239.8)"/><ellipse cx="125.3" cy="2241" rx="2.1" ry="1.15" transform="rotate(45 125.3 2241)"/><ellipse cx="188.6" cy="2220.7" rx="2.1" ry="1.15" transform="rotate(36 188.6 2220.7)"/><ellipse cx="154.8" cy="2244.5" rx="2.1" ry="1.15" transform="rotate(44 154.8 2244.5)"/><ellipse cx="145.3" cy="2163.5" rx="2.1" ry="1.15" transform="rotate(28 145.3 2163.5)"/><ellipse cx="86.9" cy="2192.9" rx="2.1" ry="1.15" transform="rotate(47 86.9 2192.9)"/><ellipse cx="89.9" cy="2161.7" rx="2.1" ry="1.15" transform="rotate(29 89.9 2161.7)"/><ellipse cx="191.5" cy="2181" rx="2.1" ry="1.15" transform="rotate(36 191.5 2181)"/><ellipse cx="175.6" cy="2254.8" rx="2.1" ry="1.15" transform="rotate(35 175.6 2254.8)"/><ellipse cx="139.6" cy="2198" rx="2.1" ry="1.15" transform="rotate(35 139.6 2198)"/><ellipse cx="184" cy="2159" rx="2.1" ry="1.15" transform="rotate(44 184 2159)"/><ellipse cx="158.5" cy="2236.4" rx="2.1" ry="1.15" transform="rotate(42 158.5 2236.4)"/><ellipse cx="179.8" cy="2241.3" rx="2.1" ry="1.15" transform="rotate(43 179.8 2241.3)"/><ellipse cx="62.3" cy="2248.7" rx="2.1" ry="1.15" transform="rotate(32 62.3 2248.7)"/><ellipse cx="75.8" cy="2189.1" rx="2.1" ry="1.15" transform="rotate(40 75.8 2189.1)"/><ellipse cx="99.7" cy="2202.4" rx="2.1" ry="1.15" transform="rotate(35 99.7 2202.4)"/><ellipse cx="88" cy="2230.7" rx="2.1" ry="1.15" transform="rotate(44 88 2230.7)"/><ellipse cx="62.7" cy="2249.3" rx="2.1" ry="1.15" transform="rotate(32 62.7 2249.3)"/><ellipse cx="98.9" cy="2236.9" rx="2.1" ry="1.15" transform="rotate(49 98.9 2236.9)"/><ellipse cx="185.6" cy="2247" rx="2.1" ry="1.15" transform="rotate(41 185.6 2247)"/><ellipse cx="179.7" cy="2238.9" rx="2.1" ry="1.15" transform="rotate(48 179.7 2238.9)"/><ellipse cx="189" cy="2254.5" rx="2.1" ry="1.15" transform="rotate(39 189 2254.5)"/><ellipse cx="118.3" cy="2234.3" rx="2.1" ry="1.15" transform="rotate(48 118.3 2234.3)"/><ellipse cx="154.8" cy="2194.6" rx="2.1" ry="1.15" transform="rotate(30 154.8 2194.6)"/><ellipse cx="71.4" cy="2248.4" rx="2.1" ry="1.15" transform="rotate(50 71.4 2248.4)"/><ellipse cx="58.7" cy="2195.6" rx="2.1" ry="1.15" transform="rotate(43 58.7 2195.6)"/><ellipse cx="123.2" cy="2163.1" rx="2.1" ry="1.15" transform="rotate(49 123.2 2163.1)"/><ellipse cx="142.6" cy="2189.5" rx="2.1" ry="1.15" transform="rotate(39 142.6 2189.5)"/><ellipse cx="106.9" cy="2223" rx="2.1" ry="1.15" transform="rotate(49 106.9 2223)"/><ellipse cx="134" cy="2190.3" rx="2.1" ry="1.15" transform="rotate(36 134 2190.3)"/><ellipse cx="169.8" cy="2233.3" rx="2.1" ry="1.15" transform="rotate(36 169.8 2233.3)"/><ellipse cx="180.1" cy="2219.1" rx="2.1" ry="1.15" transform="rotate(52 180.1 2219.1)"/><ellipse cx="177.6" cy="2164.7" rx="2.1" ry="1.15" transform="rotate(39 177.6 2164.7)"/><ellipse cx="56.8" cy="2255.5" rx="2.1" ry="1.15" transform="rotate(33 56.8 2255.5)"/><ellipse cx="83.7" cy="2213.2" rx="2.1" ry="1.15" transform="rotate(50 83.7 2213.2)"/><ellipse cx="145.2" cy="2246" rx="2.1" ry="1.15" transform="rotate(44 145.2 2246)"/><ellipse cx="132.8" cy="2204.9" rx="2.1" ry="1.15" transform="rotate(42 132.8 2204.9)"/><ellipse cx="58.4" cy="2171.1" rx="2.1" ry="1.15" transform="rotate(52 58.4 2171.1)"/><ellipse cx="80.3" cy="2187.5" rx="2.1" ry="1.15" transform="rotate(40 80.3 2187.5)"/><ellipse cx="157" cy="2168.1" rx="2.1" ry="1.15" transform="rotate(47 157 2168.1)"/><ellipse cx="137.7" cy="2163.6" rx="2.1" ry="1.15" transform="rotate(37 137.7 2163.6)"/><ellipse cx="183.9" cy="2233.2" rx="2.1" ry="1.15" transform="rotate(32 183.9 2233.2)"/><ellipse cx="142.2" cy="2165.6" rx="2.1" ry="1.15" transform="rotate(38 142.2 2165.6)"/><ellipse cx="99.9" cy="2259.1" rx="2.1" ry="1.15" transform="rotate(40 99.9 2259.1)"/><ellipse cx="188" cy="2208" rx="2.1" ry="1.15" transform="rotate(46 188 2208)"/><ellipse cx="56.7" cy="2246.8" rx="2.1" ry="1.15" transform="rotate(43 56.7 2246.8)"/><ellipse cx="106.8" cy="2242.8" rx="2.1" ry="1.15" transform="rotate(50 106.8 2242.8)"/><ellipse cx="77.6" cy="2159.5" rx="2.1" ry="1.15" transform="rotate(44 77.6 2159.5)"/><ellipse cx="175.3" cy="2169.2" rx="2.1" ry="1.15" transform="rotate(42 175.3 2169.2)"/><ellipse cx="62.5" cy="2163.4" rx="2.1" ry="1.15" transform="rotate(40 62.5 2163.4)"/><ellipse cx="178.3" cy="2244.8" rx="2.1" ry="1.15" transform="rotate(45 178.3 2244.8)"/><ellipse cx="152.5" cy="2179.7" rx="2.1" ry="1.15" transform="rotate(39 152.5 2179.7)"/><ellipse cx="76.3" cy="2179.5" rx="2.1" ry="1.15" transform="rotate(32 76.3 2179.5)"/><ellipse cx="115.1" cy="2160.8" rx="2.1" ry="1.15" transform="rotate(31 115.1 2160.8)"/><ellipse cx="149.1" cy="2219.5" rx="2.1" ry="1.15" transform="rotate(34 149.1 2219.5)"/><ellipse cx="84.8" cy="2222" rx="2.1" ry="1.15" transform="rotate(29 84.8 2222)"/><ellipse cx="160.9" cy="2239.8" rx="2.1" ry="1.15" transform="rotate(50 160.9 2239.8)"/><ellipse cx="77.8" cy="2237.8" rx="2.1" ry="1.15" transform="rotate(41 77.8 2237.8)"/><ellipse cx="86.9" cy="2241.8" rx="2.1" ry="1.15" transform="rotate(34 86.9 2241.8)"/><ellipse cx="79.1" cy="2246.9" rx="2.1" ry="1.15" transform="rotate(51 79.1 2246.9)"/><ellipse cx="153.8" cy="2168.9" rx="2.1" ry="1.15" transform="rotate(39 153.8 2168.9)"/><ellipse cx="136.4" cy="2179.8" rx="2.1" ry="1.15" transform="rotate(48 136.4 2179.8)"/><ellipse cx="113.2" cy="2210" rx="2.1" ry="1.15" transform="rotate(40 113.2 2210)"/><ellipse cx="55.4" cy="2246.6" rx="2.1" ry="1.15" transform="rotate(49 55.4 2246.6)"/><ellipse cx="177.8" cy="2214.9" rx="2.1" ry="1.15" transform="rotate(38 177.8 2214.9)"/><ellipse cx="98.9" cy="2175.3" rx="2.1" ry="1.15" transform="rotate(33 98.9 2175.3)"/><ellipse cx="129.4" cy="2199.5" rx="2.1" ry="1.15" transform="rotate(45 129.4 2199.5)"/><ellipse cx="191.3" cy="2181" rx="2.1" ry="1.15" transform="rotate(49 191.3 2181)"/><ellipse cx="103.9" cy="2202.3" rx="2.1" ry="1.15" transform="rotate(35 103.9 2202.3)"/><ellipse cx="141.9" cy="2203.3" rx="2.1" ry="1.15" transform="rotate(31 141.9 2203.3)"/><ellipse cx="135.8" cy="2170.4" rx="2.1" ry="1.15" transform="rotate(35 135.8 2170.4)"/><ellipse cx="112.2" cy="2243.6" rx="2.1" ry="1.15" transform="rotate(46 112.2 2243.6)"/><ellipse cx="136.1" cy="2206.1" rx="2.1" ry="1.15" transform="rotate(35 136.1 2206.1)"/><ellipse cx="126" cy="2206" rx="2.1" ry="1.15" transform="rotate(40 126 2206)"/><ellipse cx="123.5" cy="2181.5" rx="2.1" ry="1.15" transform="rotate(36 123.5 2181.5)"/><ellipse cx="107.6" cy="2164.8" rx="2.1" ry="1.15" transform="rotate(30 107.6 2164.8)"/><ellipse cx="155.5" cy="2192" rx="2.1" ry="1.15" transform="rotate(45 155.5 2192)"/><ellipse cx="170" cy="2223.7" rx="2.1" ry="1.15" transform="rotate(39 170 2223.7)"/><ellipse cx="169.2" cy="2213.8" rx="2.1" ry="1.15" transform="rotate(29 169.2 2213.8)"/><ellipse cx="162.4" cy="2206.5" rx="2.1" ry="1.15" transform="rotate(40 162.4 2206.5)"/><ellipse cx="152.5" cy="2227.1" rx="2.1" ry="1.15" transform="rotate(51 152.5 2227.1)"/><ellipse cx="139.9" cy="2173.7" rx="2.1" ry="1.15" transform="rotate(44 139.9 2173.7)"/><ellipse cx="157.2" cy="2158.1" rx="2.1" ry="1.15" transform="rotate(44 157.2 2158.1)"/><ellipse cx="140.8" cy="2227" rx="2.1" ry="1.15" transform="rotate(38 140.8 2227)"/><ellipse cx="99.8" cy="2216.2" rx="2.1" ry="1.15" transform="rotate(33 99.8 2216.2)"/><ellipse cx="164.6" cy="2173.7" rx="2.1" ry="1.15" transform="rotate(41 164.6 2173.7)"/><ellipse cx="144.1" cy="2186.9" rx="2.1" ry="1.15" transform="rotate(31 144.1 2186.9)"/><ellipse cx="178.7" cy="2257.5" rx="2.1" ry="1.15" transform="rotate(43 178.7 2257.5)"/><ellipse cx="165.4" cy="2202.8" rx="2.1" ry="1.15" transform="rotate(35 165.4 2202.8)"/><ellipse cx="126.4" cy="2159.7" rx="2.1" ry="1.15" transform="rotate(41 126.4 2159.7)"/><ellipse cx="163.4" cy="2191" rx="2.1" ry="1.15" transform="rotate(51 163.4 2191)"/><ellipse cx="71.1" cy="2183.7" rx="2.1" ry="1.15" transform="rotate(43 71.1 2183.7)"/><ellipse cx="132.4" cy="2245.4" rx="2.1" ry="1.15" transform="rotate(28 132.4 2245.4)"/><ellipse cx="164.5" cy="2164.6" rx="2.1" ry="1.15" transform="rotate(47 164.5 2164.6)"/><ellipse cx="141" cy="2158.9" rx="2.1" ry="1.15" transform="rotate(49 141 2158.9)"/><ellipse cx="94.5" cy="2208.3" rx="2.1" ry="1.15" transform="rotate(51 94.5 2208.3)"/><ellipse cx="106.7" cy="2165.4" rx="2.1" ry="1.15" transform="rotate(33 106.7 2165.4)"/><ellipse cx="155.8" cy="2172.1" rx="2.1" ry="1.15" transform="rotate(35 155.8 2172.1)"/><ellipse cx="85.2" cy="2202.4" rx="2.1" ry="1.15" transform="rotate(31 85.2 2202.4)"/><ellipse cx="187.9" cy="2250.5" rx="2.1" ry="1.15" transform="rotate(31 187.9 2250.5)"/><ellipse cx="74.9" cy="2214.1" rx="2.1" ry="1.15" transform="rotate(51 74.9 2214.1)"/><ellipse cx="160.8" cy="2172.9" rx="2.1" ry="1.15" transform="rotate(48 160.8 2172.9)"/><ellipse cx="60.6" cy="2208.5" rx="2.1" ry="1.15" transform="rotate(46 60.6 2208.5)"/><ellipse cx="112.9" cy="2222.1" rx="2.1" ry="1.15" transform="rotate(45 112.9 2222.1)"/><ellipse cx="79.7" cy="2170.6" rx="2.1" ry="1.15" transform="rotate(35 79.7 2170.6)"/><ellipse cx="66.7" cy="2174.1" rx="2.1" ry="1.15" transform="rotate(29 66.7 2174.1)"/><ellipse cx="100" cy="2228.7" rx="2.1" ry="1.15" transform="rotate(32 100 2228.7)"/><ellipse cx="118.5" cy="2168.7" rx="2.1" ry="1.15" transform="rotate(33 118.5 2168.7)"/><ellipse cx="104.1" cy="2254" rx="2.1" ry="1.15" transform="rotate(33 104.1 2254)"/><ellipse cx="71.7" cy="2245.4" rx="2.1" ry="1.15" transform="rotate(36 71.7 2245.4)"/><ellipse cx="111.1" cy="2203.3" rx="2.1" ry="1.15" transform="rotate(40 111.1 2203.3)"/><ellipse cx="58.5" cy="2226.6" rx="2.1" ry="1.15" transform="rotate(50 58.5 2226.6)"/><ellipse cx="77.8" cy="2249" rx="2.1" ry="1.15" transform="rotate(47 77.8 2249)"/><ellipse cx="140.7" cy="2224.7" rx="2.1" ry="1.15" transform="rotate(39 140.7 2224.7)"/><ellipse cx="140.2" cy="2250.3" rx="2.1" ry="1.15" transform="rotate(47 140.2 2250.3)"/><ellipse cx="130" cy="2248.2" rx="2.1" ry="1.15" transform="rotate(28 130 2248.2)"/><ellipse cx="115.2" cy="2160.1" rx="2.1" ry="1.15" transform="rotate(43 115.2 2160.1)"/><ellipse cx="145.4" cy="2210" rx="2.1" ry="1.15" transform="rotate(32 145.4 2210)"/><ellipse cx="61.8" cy="2238.2" rx="2.1" ry="1.15" transform="rotate(40 61.8 2238.2)"/><ellipse cx="123.1" cy="2228.1" rx="2.1" ry="1.15" transform="rotate(32 123.1 2228.1)"/><ellipse cx="143.5" cy="2208.9" rx="2.1" ry="1.15" transform="rotate(50 143.5 2208.9)"/><ellipse cx="151.1" cy="2253.7" rx="2.1" ry="1.15" transform="rotate(48 151.1 2253.7)"/><ellipse cx="104.6" cy="2229.9" rx="2.1" ry="1.15" transform="rotate(33 104.6 2229.9)"/><ellipse cx="107.2" cy="2225.5" rx="2.1" ry="1.15" transform="rotate(36 107.2 2225.5)"/><ellipse cx="120.7" cy="2217" rx="2.1" ry="1.15" transform="rotate(51 120.7 2217)"/><ellipse cx="77.2" cy="2249.3" rx="2.1" ry="1.15" transform="rotate(33 77.2 2249.3)"/><ellipse cx="190.9" cy="2179.3" rx="2.1" ry="1.15" transform="rotate(44 190.9 2179.3)"/><ellipse cx="139.2" cy="2158.1" rx="2.1" ry="1.15" transform="rotate(42 139.2 2158.1)"/><ellipse cx="99.8" cy="2223.4" rx="2.1" ry="1.15" transform="rotate(41 99.8 2223.4)"/><ellipse cx="164.6" cy="2192.2" rx="2.1" ry="1.15" transform="rotate(42 164.6 2192.2)"/><ellipse cx="129.8" cy="2255.1" rx="2.1" ry="1.15" transform="rotate(49 129.8 2255.1)"/><ellipse cx="190.3" cy="2208" rx="2.1" ry="1.15" transform="rotate(48 190.3 2208)"/><ellipse cx="61.5" cy="2201.5" rx="2.1" ry="1.15" transform="rotate(30 61.5 2201.5)"/><ellipse cx="111.8" cy="2187.8" rx="2.1" ry="1.15" transform="rotate(40 111.8 2187.8)"/><ellipse cx="151.5" cy="2158.1" rx="2.1" ry="1.15" transform="rotate(42 151.5 2158.1)"/><ellipse cx="73.5" cy="2196.2" rx="2.1" ry="1.15" transform="rotate(49 73.5 2196.2)"/><ellipse cx="138" cy="2202.2" rx="2.1" ry="1.15" transform="rotate(49 138 2202.2)"/><ellipse cx="165.8" cy="2166" rx="2.1" ry="1.15" transform="rotate(39 165.8 2166)"/><ellipse cx="105.5" cy="2161.4" rx="2.1" ry="1.15" transform="rotate(48 105.5 2161.4)"/><ellipse cx="96.1" cy="2164.4" rx="2.1" ry="1.15" transform="rotate(34 96.1 2164.4)"/><ellipse cx="162" cy="2178.7" rx="2.1" ry="1.15" transform="rotate(40 162 2178.7)"/><ellipse cx="123.6" cy="2211.6" rx="2.1" ry="1.15" transform="rotate(46 123.6 2211.6)"/><ellipse cx="149.8" cy="2223.9" rx="2.1" ry="1.15" transform="rotate(35 149.8 2223.9)"/><ellipse cx="143" cy="2190.2" rx="2.1" ry="1.15" transform="rotate(44 143 2190.2)"/><ellipse cx="150.5" cy="2255.7" rx="2.1" ry="1.15" transform="rotate(29 150.5 2255.7)"/><ellipse cx="169.4" cy="2240.7" rx="2.1" ry="1.15" transform="rotate(35 169.4 2240.7)"/><ellipse cx="137.4" cy="2246.2" rx="2.1" ry="1.15" transform="rotate(46 137.4 2246.2)"/><ellipse cx="183.3" cy="2193.7" rx="2.1" ry="1.15" transform="rotate(48 183.3 2193.7)"/><ellipse cx="172.4" cy="2184.3" rx="2.1" ry="1.15" transform="rotate(40 172.4 2184.3)"/><ellipse cx="116" cy="2160.3" rx="2.1" ry="1.15" transform="rotate(30 116 2160.3)"/><ellipse cx="163.3" cy="2248.1" rx="2.1" ry="1.15" transform="rotate(33 163.3 2248.1)"/><ellipse cx="137.3" cy="2247.3" rx="2.1" ry="1.15" transform="rotate(30 137.3 2247.3)"/><ellipse cx="95" cy="2243.6" rx="2.1" ry="1.15" transform="rotate(43 95 2243.6)"/><ellipse cx="185.9" cy="2223.7" rx="2.1" ry="1.15" transform="rotate(46 185.9 2223.7)"/><ellipse cx="143.3" cy="2243.5" rx="2.1" ry="1.15" transform="rotate(34 143.3 2243.5)"/><ellipse cx="77.6" cy="2250.4" rx="2.1" ry="1.15" transform="rotate(33 77.6 2250.4)"/><ellipse cx="172.3" cy="2180.6" rx="2.1" ry="1.15" transform="rotate(34 172.3 2180.6)"/><ellipse cx="63.5" cy="2174.2" rx="2.1" ry="1.15" transform="rotate(52 63.5 2174.2)"/><ellipse cx="96.4" cy="2259.3" rx="2.1" ry="1.15" transform="rotate(30 96.4 2259.3)"/><ellipse cx="107.5" cy="2221.6" rx="2.1" ry="1.15" transform="rotate(51 107.5 2221.6)"/><ellipse cx="84.2" cy="2200.3" rx="2.1" ry="1.15" transform="rotate(39 84.2 2200.3)"/><ellipse cx="97.9" cy="2163.9" rx="2.1" ry="1.15" transform="rotate(37 97.9 2163.9)"/><ellipse cx="144.3" cy="2206.9" rx="2.1" ry="1.15" transform="rotate(41 144.3 2206.9)"/><ellipse cx="82" cy="2184.2" rx="2.1" ry="1.15" transform="rotate(40 82 2184.2)"/><ellipse cx="71.6" cy="2190.3" rx="2.1" ry="1.15" transform="rotate(49 71.6 2190.3)"/><ellipse cx="180.2" cy="2249.7" rx="2.1" ry="1.15" transform="rotate(39 180.2 2249.7)"/><ellipse cx="182.7" cy="2215.3" rx="2.1" ry="1.15" transform="rotate(30 182.7 2215.3)"/><ellipse cx="123.2" cy="2257.4" rx="2.1" ry="1.15" transform="rotate(36 123.2 2257.4)"/><ellipse cx="102" cy="2167.5" rx="2.1" ry="1.15" transform="rotate(37 102 2167.5)"/><ellipse cx="70.5" cy="2256.9" rx="2.1" ry="1.15" transform="rotate(40 70.5 2256.9)"/><ellipse cx="93.8" cy="2191.5" rx="2.1" ry="1.15" transform="rotate(42 93.8 2191.5)"/><ellipse cx="79.5" cy="2236.5" rx="2.1" ry="1.15" transform="rotate(36 79.5 2236.5)"/><ellipse cx="117.8" cy="2255.6" rx="2.1" ry="1.15" transform="rotate(39 117.8 2255.6)"/><ellipse cx="105.7" cy="2237.3" rx="2.1" ry="1.15" transform="rotate(51 105.7 2237.3)"/><ellipse cx="150.2" cy="2206.9" rx="2.1" ry="1.15" transform="rotate(50 150.2 2206.9)"/><ellipse cx="82.2" cy="2255.7" rx="2.1" ry="1.15" transform="rotate(44 82.2 2255.7)"/><ellipse cx="79.1" cy="2177" rx="2.1" ry="1.15" transform="rotate(33 79.1 2177)"/><ellipse cx="95.2" cy="2230.3" rx="2.1" ry="1.15" transform="rotate(45 95.2 2230.3)"/><ellipse cx="135.3" cy="2200.7" rx="2.1" ry="1.15" transform="rotate(33 135.3 2200.7)"/><ellipse cx="64.9" cy="2210.4" rx="2.1" ry="1.15" transform="rotate(44 64.9 2210.4)"/><ellipse cx="158.1" cy="2182" rx="2.1" ry="1.15" transform="rotate(31 158.1 2182)"/><ellipse cx="94.4" cy="2168" rx="2.1" ry="1.15" transform="rotate(33 94.4 2168)"/><ellipse cx="134.5" cy="2226" rx="2.1" ry="1.15" transform="rotate(34 134.5 2226)"/><ellipse cx="188.4" cy="2166.7" rx="2.1" ry="1.15" transform="rotate(35 188.4 2166.7)"/><ellipse cx="177.5" cy="2228.6" rx="2.1" ry="1.15" transform="rotate(40 177.5 2228.6)"/><ellipse cx="103" cy="2230.3" rx="2.1" ry="1.15" transform="rotate(41 103 2230.3)"/><ellipse cx="79.9" cy="2216.3" rx="2.1" ry="1.15" transform="rotate(52 79.9 2216.3)"/><ellipse cx="179" cy="2180.6" rx="2.1" ry="1.15" transform="rotate(33 179 2180.6)"/><ellipse cx="71.8" cy="2217.6" rx="2.1" ry="1.15" transform="rotate(46 71.8 2217.6)"/><ellipse cx="185.8" cy="2226.7" rx="2.1" ry="1.15" transform="rotate(37 185.8 2226.7)"/><ellipse cx="190.8" cy="2160.5" rx="2.1" ry="1.15" transform="rotate(42 190.8 2160.5)"/><ellipse cx="150.5" cy="2201.1" rx="2.1" ry="1.15" transform="rotate(48 150.5 2201.1)"/><ellipse cx="177.1" cy="2210.3" rx="2.1" ry="1.15" transform="rotate(38 177.1 2210.3)"/><ellipse cx="174.2" cy="2160" rx="2.1" ry="1.15" transform="rotate(29 174.2 2160)"/><ellipse cx="62.6" cy="2201.4" rx="2.1" ry="1.15" transform="rotate(41 62.6 2201.4)"/><ellipse cx="107.8" cy="2195.7" rx="2.1" ry="1.15" transform="rotate(37 107.8 2195.7)"/><ellipse cx="73.4" cy="2251.7" rx="2.1" ry="1.15" transform="rotate(37 73.4 2251.7)"/><ellipse cx="129.4" cy="2174.3" rx="2.1" ry="1.15" transform="rotate(32 129.4 2174.3)"/><ellipse cx="70.3" cy="2239.2" rx="2.1" ry="1.15" transform="rotate(31 70.3 2239.2)"/><ellipse cx="97.4" cy="2215.7" rx="2.1" ry="1.15" transform="rotate(30 97.4 2215.7)"/><ellipse cx="123" cy="2205.1" rx="2.1" ry="1.15" transform="rotate(46 123 2205.1)"/><ellipse cx="154.6" cy="2181.9" rx="2.1" ry="1.15" transform="rotate(31 154.6 2181.9)"/><ellipse cx="181.7" cy="2158.3" rx="2.1" ry="1.15" transform="rotate(49 181.7 2158.3)"/><ellipse cx="104" cy="2236.8" rx="2.1" ry="1.15" transform="rotate(48 104 2236.8)"/><ellipse cx="135.7" cy="2201.6" rx="2.1" ry="1.15" transform="rotate(39 135.7 2201.6)"/><ellipse cx="60.9" cy="2257.5" rx="2.1" ry="1.15" transform="rotate(52 60.9 2257.5)"/><ellipse cx="61.9" cy="2258.8" rx="2.1" ry="1.15" transform="rotate(34 61.9 2258.8)"/><ellipse cx="60.3" cy="2252.3" rx="2.1" ry="1.15" transform="rotate(33 60.3 2252.3)"/><ellipse cx="90.7" cy="2236.9" rx="2.1" ry="1.15" transform="rotate(46 90.7 2236.9)"/><ellipse cx="101.5" cy="2165.8" rx="2.1" ry="1.15" transform="rotate(46 101.5 2165.8)"/><ellipse cx="65.3" cy="2237.4" rx="2.1" ry="1.15" transform="rotate(39 65.3 2237.4)"/><ellipse cx="148.9" cy="2175.3" rx="2.1" ry="1.15" transform="rotate(38 148.9 2175.3)"/><ellipse cx="182.4" cy="2168.6" rx="2.1" ry="1.15" transform="rotate(40 182.4 2168.6)"/><ellipse cx="182" cy="2217.8" rx="2.1" ry="1.15" transform="rotate(40 182 2217.8)"/><ellipse cx="190.4" cy="2232.9" rx="2.1" ry="1.15" transform="rotate(46 190.4 2232.9)"/><ellipse cx="167" cy="2238.5" rx="2.1" ry="1.15" transform="rotate(35 167 2238.5)"/><ellipse cx="60.6" cy="2162.6" rx="2.1" ry="1.15" transform="rotate(41 60.6 2162.6)"/><ellipse cx="157.4" cy="2177.3" rx="2.1" ry="1.15" transform="rotate(38 157.4 2177.3)"/><ellipse cx="86.5" cy="2179.1" rx="2.1" ry="1.15" transform="rotate(34 86.5 2179.1)"/><ellipse cx="117.2" cy="2182.3" rx="2.1" ry="1.15" transform="rotate(39 117.2 2182.3)"/><ellipse cx="151" cy="2225.4" rx="2.1" ry="1.15" transform="rotate(30 151 2225.4)"/><ellipse cx="110.9" cy="2212.6" rx="2.1" ry="1.15" transform="rotate(35 110.9 2212.6)"/><ellipse cx="105" cy="2183.1" rx="2.1" ry="1.15" transform="rotate(44 105 2183.1)"/><ellipse cx="100.3" cy="2161.6" rx="2.1" ry="1.15" transform="rotate(38 100.3 2161.6)"/><ellipse cx="170.6" cy="2164.8" rx="2.1" ry="1.15" transform="rotate(30 170.6 2164.8)"/><ellipse cx="63" cy="2177.3" rx="2.1" ry="1.15" transform="rotate(34 63 2177.3)"/><ellipse cx="141" cy="2196.8" rx="2.1" ry="1.15" transform="rotate(44 141 2196.8)"/><ellipse cx="89.8" cy="2167.8" rx="2.1" ry="1.15" transform="rotate(50 89.8 2167.8)"/><ellipse cx="132.1" cy="2203.5" rx="2.1" ry="1.15" transform="rotate(30 132.1 2203.5)"/><ellipse cx="135.7" cy="2248.9" rx="2.1" ry="1.15" transform="rotate(31 135.7 2248.9)"/><ellipse cx="64.4" cy="2202.4" rx="2.1" ry="1.15" transform="rotate(44 64.4 2202.4)"/><ellipse cx="58.6" cy="2176.6" rx="2.1" ry="1.15" transform="rotate(52 58.6 2176.6)"/><ellipse cx="153.5" cy="2238.5" rx="2.1" ry="1.15" transform="rotate(47 153.5 2238.5)"/><ellipse cx="65.4" cy="2239.7" rx="2.1" ry="1.15" transform="rotate(34 65.4 2239.7)"/><ellipse cx="85.4" cy="2254.7" rx="2.1" ry="1.15" transform="rotate(34 85.4 2254.7)"/><ellipse cx="78.5" cy="2242.6" rx="2.1" ry="1.15" transform="rotate(38 78.5 2242.6)"/><ellipse cx="168.2" cy="2174.3" rx="2.1" ry="1.15" transform="rotate(39 168.2 2174.3)"/><ellipse cx="79.7" cy="2171.2" rx="2.1" ry="1.15" transform="rotate(41 79.7 2171.2)"/><ellipse cx="114" cy="2181.8" rx="2.1" ry="1.15" transform="rotate(50 114 2181.8)"/><ellipse cx="145.2" cy="2184.4" rx="2.1" ry="1.15" transform="rotate(31 145.2 2184.4)"/><ellipse cx="165.5" cy="2167.1" rx="2.1" ry="1.15" transform="rotate(33 165.5 2167.1)"/><ellipse cx="76.1" cy="2247.1" rx="2.1" ry="1.15" transform="rotate(30 76.1 2247.1)"/><ellipse cx="97" cy="2218.1" rx="2.1" ry="1.15" transform="rotate(48 97 2218.1)"/><ellipse cx="157.5" cy="2214.9" rx="2.1" ry="1.15" transform="rotate(50 157.5 2214.9)"/><ellipse cx="115.6" cy="2255.3" rx="2.1" ry="1.15" transform="rotate(47 115.6 2255.3)"/><ellipse cx="169.9" cy="2212.2" rx="2.1" ry="1.15" transform="rotate(35 169.9 2212.2)"/><ellipse cx="83.1" cy="2232.1" rx="2.1" ry="1.15" transform="rotate(31 83.1 2232.1)"/><ellipse cx="103.7" cy="2214.9" rx="2.1" ry="1.15" transform="rotate(52 103.7 2214.9)"/><ellipse cx="139.8" cy="2225.2" rx="2.1" ry="1.15" transform="rotate(31 139.8 2225.2)"/><ellipse cx="58.3" cy="2201.7" rx="2.1" ry="1.15" transform="rotate(42 58.3 2201.7)"/><ellipse cx="61.2" cy="2187.7" rx="2.1" ry="1.15" transform="rotate(31 61.2 2187.7)"/><ellipse cx="141" cy="2203.3" rx="2.1" ry="1.15" transform="rotate(37 141 2203.3)"/><ellipse cx="120.3" cy="2229.8" rx="2.1" ry="1.15" transform="rotate(49 120.3 2229.8)"/><ellipse cx="129.3" cy="2213.4" rx="2.1" ry="1.15" transform="rotate(35 129.3 2213.4)"/><ellipse cx="168.6" cy="2161" rx="2.1" ry="1.15" transform="rotate(34 168.6 2161)"/><ellipse cx="99" cy="2227.4" rx="2.1" ry="1.15" transform="rotate(46 99 2227.4)"/><ellipse cx="173" cy="2230.3" rx="2.1" ry="1.15" transform="rotate(39 173 2230.3)"/><ellipse cx="67" cy="2194.6" rx="2.1" ry="1.15" transform="rotate(44 67 2194.6)"/><ellipse cx="168" cy="2258.3" rx="2.1" ry="1.15" transform="rotate(38 168 2258.3)"/><ellipse cx="155.6" cy="2183.9" rx="2.1" ry="1.15" transform="rotate(37 155.6 2183.9)"/><ellipse cx="57.5" cy="2213.8" rx="2.1" ry="1.15" transform="rotate(36 57.5 2213.8)"/><ellipse cx="111.2" cy="2202.5" rx="2.1" ry="1.15" transform="rotate(43 111.2 2202.5)"/><ellipse cx="176.8" cy="2246.5" rx="2.1" ry="1.15" transform="rotate(35 176.8 2246.5)"/><ellipse cx="163.8" cy="2192.5" rx="2.1" ry="1.15" transform="rotate(39 163.8 2192.5)"/><ellipse cx="153.5" cy="2233.1" rx="2.1" ry="1.15" transform="rotate(32 153.5 2233.1)"/></g><g fill="none" stroke="#8a8a8a" stroke-width="0.6"><circle cx="69.1" cy="2177.9" r="1.5"/><circle cx="177.6" cy="2162.1" r="1.5"/><circle cx="73.1" cy="2192.4" r="1.5"/><circle cx="112.6" cy="2255.7" r="1.5"/><circle cx="94.6" cy="2173.6" r="1.5"/><circle cx="76.2" cy="2223.3" r="1.5"/><circle cx="152.6" cy="2193.7" r="1.5"/><circle cx="63.5" cy="2226.7" r="1.5"/><circle cx="88.7" cy="2161.5" r="1.5"/><circle cx="78.8" cy="2163.2" r="1.5"/><circle cx="113.1" cy="2173.3" r="1.5"/><circle cx="162.3" cy="2209.8" r="1.5"/><circle cx="70.4" cy="2185.5" r="1.5"/><circle cx="124.9" cy="2259.5" r="1.5"/><circle cx="190.2" cy="2258.6" r="1.5"/><circle cx="108.7" cy="2176.7" r="1.5"/><circle cx="162" cy="2233" r="1.5"/><circle cx="70.8" cy="2190.5" r="1.5"/><circle cx="72.5" cy="2161.3" r="1.5"/><circle cx="153.1" cy="2178.9" r="1.5"/><circle cx="134.3" cy="2216.3" r="1.5"/><circle cx="86.9" cy="2167.8" r="1.5"/><circle cx="151.9" cy="2244.5" r="1.5"/><circle cx="88.1" cy="2205.9" r="1.5"/><circle cx="160.7" cy="2247.9" r="1.5"/><circle cx="71.8" cy="2216.2" r="1.5"/><circle cx="125.7" cy="2244.7" r="1.5"/><circle cx="67.5" cy="2204.8" r="1.5"/><circle cx="87.6" cy="2202.8" r="1.5"/><circle cx="190.9" cy="2251.3" r="1.5"/><circle cx="57.3" cy="2181" r="1.5"/><circle cx="100.5" cy="2198.6" r="1.5"/><circle cx="144.5" cy="2200.9" r="1.5"/><circle cx="100.8" cy="2182.3" r="1.5"/><circle cx="141.8" cy="2210.9" r="1.5"/><circle cx="130.3" cy="2188.8" r="1.5"/><circle cx="119.3" cy="2230.7" r="1.5"/><circle cx="119.1" cy="2159.1" r="1.5"/><circle cx="145.8" cy="2205" r="1.5"/><circle cx="137" cy="2175.6" r="1.5"/><circle cx="137" cy="2205.7" r="1.5"/><circle cx="185.8" cy="2174" r="1.5"/><circle cx="185.8" cy="2257.8" r="1.5"/><circle cx="158.8" cy="2234.2" r="1.5"/><circle cx="183.4" cy="2247.5" r="1.5"/><circle cx="97.6" cy="2246.8" r="1.5"/><circle cx="149.9" cy="2164.6" r="1.5"/><circle cx="178.8" cy="2176.5" r="1.5"/><circle cx="55.9" cy="2199.7" r="1.5"/><circle cx="117.4" cy="2251.7" r="1.5"/><circle cx="102.7" cy="2195.4" r="1.5"/><circle cx="152.6" cy="2168" r="1.5"/><circle cx="127.3" cy="2169.4" r="1.5"/><circle cx="94.8" cy="2213.1" r="1.5"/><circle cx="85.3" cy="2197.3" r="1.5"/><circle cx="171" cy="2219.3" r="1.5"/><circle cx="131.6" cy="2185.7" r="1.5"/><circle cx="159.2" cy="2220.9" r="1.5"/><circle cx="153.1" cy="2244" r="1.5"/><circle cx="105.2" cy="2258.4" r="1.5"/><circle cx="142.9" cy="2171.8" r="1.5"/><circle cx="147.3" cy="2169.4" r="1.5"/><circle cx="77.2" cy="2160" r="1.5"/><circle cx="177.9" cy="2180.4" r="1.5"/><circle cx="55.7" cy="2259.8" r="1.5"/><circle cx="82.2" cy="2212.1" r="1.5"/><circle cx="104.5" cy="2184.1" r="1.5"/><circle cx="78.7" cy="2229.8" r="1.5"/><circle cx="77.7" cy="2251.5" r="1.5"/><circle cx="166.5" cy="2163.7" r="1.5"/><circle cx="106.6" cy="2248.5" r="1.5"/><circle cx="99" cy="2198.8" r="1.5"/><circle cx="61" cy="2213.5" r="1.5"/><circle cx="164.6" cy="2213.1" r="1.5"/><circle cx="64.4" cy="2175.6" r="1.5"/><circle cx="80.6" cy="2240.7" r="1.5"/><circle cx="123.7" cy="2229.5" r="1.5"/><circle cx="160.4" cy="2225.1" r="1.5"/><circle cx="174" cy="2187.4" r="1.5"/><circle cx="128.2" cy="2231" r="1.5"/><circle cx="155.3" cy="2169.1" r="1.5"/><circle cx="92.6" cy="2188.5" r="1.5"/><circle cx="82.7" cy="2257.3" r="1.5"/><circle cx="162.8" cy="2253.9" r="1.5"/><circle cx="169.1" cy="2226.4" r="1.5"/><circle cx="156.7" cy="2190.4" r="1.5"/><circle cx="72.4" cy="2244.9" r="1.5"/><circle cx="122.6" cy="2213.9" r="1.5"/><circle cx="77.6" cy="2163.8" r="1.5"/><circle cx="183" cy="2166" r="1.5"/><circle cx="140.5" cy="2218.3" r="1.5"/><circle cx="149.3" cy="2210.1" r="1.5"/><circle cx="75.4" cy="2240.2" r="1.5"/><circle cx="64.8" cy="2250.4" r="1.5"/><circle cx="184.9" cy="2160.1" r="1.5"/><circle cx="139.7" cy="2181.2" r="1.5"/><circle cx="67.1" cy="2242.2" r="1.5"/><circle cx="117.2" cy="2182.1" r="1.5"/><circle cx="80.1" cy="2189.8" r="1.5"/><circle cx="141.8" cy="2219.4" r="1.5"/><circle cx="73.2" cy="2195.8" r="1.5"/><circle cx="179.5" cy="2160" r="1.5"/><circle cx="153.5" cy="2162.9" r="1.5"/><circle cx="151" cy="2226.4" r="1.5"/><circle cx="96.3" cy="2232.8" r="1.5"/><circle cx="67.1" cy="2178.7" r="1.5"/><circle cx="186.6" cy="2219.4" r="1.5"/><circle cx="187.8" cy="2214.3" r="1.5"/><circle cx="56" cy="2163.7" r="1.5"/><circle cx="94.3" cy="2189.2" r="1.5"/></g></g>
<rect x="179.3" y="2256.8" width="12" height="3" fill="#000" stroke="none" stroke-width="0"/>
<g clip-path="url(#gc26)"><rect x="254.2" y="2157.7" width="136.5" height="102.3" fill="#dadcd6"/><g filter="url(#soft)"><ellipse cx="375.6" cy="2226" rx="4.4" ry="3" transform="rotate(98 375.6 2226)" fill="#5a3cc8" fill-opacity="0.71"/><ellipse cx="379.9" cy="2226.3" rx="4.6" ry="2.9" transform="rotate(134 379.9 2226.3)" fill="#6a50d0" fill-opacity="0.45"/><ellipse cx="383.1" cy="2226.8" rx="2.3" ry="1.6" transform="rotate(142 383.1 2226.8)" fill="#5a3cc8" fill-opacity="0.60"/><ellipse cx="382.3" cy="2225.3" rx="4.1" ry="3.4" transform="rotate(158 382.3 2225.3)" fill="#8a74e0" fill-opacity="0.56"/><ellipse cx="287.9" cy="2202.4" rx="2.5" ry="2.1" transform="rotate(77 287.9 2202.4)" fill="#6a50d0" fill-opacity="0.59"/><ellipse cx="265.5" cy="2208.1" rx="2.6" ry="2.2" transform="rotate(64 265.5 2208.1)" fill="#7a62d8" fill-opacity="0.51"/><ellipse cx="274.3" cy="2210.5" rx="2.8" ry="2.2" transform="rotate(152 274.3 2210.5)" fill="#8a74e0" fill-opacity="0.57"/><ellipse cx="286.8" cy="2208.6" rx="2.8" ry="2.4" transform="rotate(99 286.8 2208.6)" fill="#6a50d0" fill-opacity="0.68"/><ellipse cx="290.6" cy="2234" rx="3.2" ry="2.3" transform="rotate(150 290.6 2234)" fill="#5a3cc8" fill-opacity="0.48"/><ellipse cx="282.4" cy="2229.5" rx="3.4" ry="2" transform="rotate(40 282.4 2229.5)" fill="#5a3cc8" fill-opacity="0.56"/><ellipse cx="279.7" cy="2229" rx="3.6" ry="2.1" transform="rotate(86 279.7 2229)" fill="#6a50d0" fill-opacity="0.58"/><ellipse cx="266" cy="2226.2" rx="2.1" ry="2" transform="rotate(36 266 2226.2)" fill="#7a62d8" fill-opacity="0.76"/><ellipse cx="331.6" cy="2172" rx="4.7" ry="3.7" transform="rotate(107 331.6 2172)" fill="#6a50d0" fill-opacity="0.66"/><ellipse cx="337.6" cy="2172.3" rx="2.3" ry="1.8" transform="rotate(124 337.6 2172.3)" fill="#6a50d0" fill-opacity="0.50"/><ellipse cx="346.5" cy="2159.8" rx="2.2" ry="1.7" transform="rotate(162 346.5 2159.8)" fill="#6a50d0" fill-opacity="0.50"/><ellipse cx="346.3" cy="2170" rx="2.3" ry="1.7" transform="rotate(45 346.3 2170)" fill="#8a74e0" fill-opacity="0.77"/><ellipse cx="289.1" cy="2178.9" rx="4.1" ry="3.6" transform="rotate(21 289.1 2178.9)" fill="#7a62d8" fill-opacity="0.58"/><ellipse cx="283.4" cy="2182.6" rx="2.7" ry="1.8" transform="rotate(56 283.4 2182.6)" fill="#5a3cc8" fill-opacity="0.56"/><ellipse cx="290.1" cy="2180.4" rx="2.9" ry="1.6" transform="rotate(171 290.1 2180.4)" fill="#5a3cc8" fill-opacity="0.67"/><ellipse cx="278.3" cy="2179.4" rx="4.1" ry="2.6" transform="rotate(149 278.3 2179.4)" fill="#5a3cc8" fill-opacity="0.48"/><ellipse cx="273.3" cy="2176.6" rx="4.7" ry="3.5" transform="rotate(21 273.3 2176.6)" fill="#8a74e0" fill-opacity="0.76"/><ellipse cx="260.2" cy="2180" rx="2.8" ry="2" transform="rotate(28 260.2 2180)" fill="#6a50d0" fill-opacity="0.59"/><ellipse cx="264.4" cy="2182.9" rx="4" ry="3.3" transform="rotate(37 264.4 2182.9)" fill="#5a3cc8" fill-opacity="0.66"/><ellipse cx="260.2" cy="2178.9" rx="3.3" ry="2.1" transform="rotate(107 260.2 2178.9)" fill="#8a74e0" fill-opacity="0.43"/><ellipse cx="265.7" cy="2166.9" rx="4.2" ry="3.4" transform="rotate(29 265.7 2166.9)" fill="#7a62d8" fill-opacity="0.69"/><ellipse cx="273.6" cy="2170.7" rx="2.2" ry="1.8" transform="rotate(66 273.6 2170.7)" fill="#6a50d0" fill-opacity="0.65"/><ellipse cx="254.4" cy="2159.6" rx="4.5" ry="2.5" transform="rotate(84 254.4 2159.6)" fill="#5a3cc8" fill-opacity="0.79"/><ellipse cx="256.1" cy="2169.4" rx="2.7" ry="2.5" transform="rotate(58 256.1 2169.4)" fill="#5a3cc8" fill-opacity="0.56"/><ellipse cx="358.7" cy="2187.2" rx="3.3" ry="2.9" transform="rotate(37 358.7 2187.2)" fill="#5a3cc8" fill-opacity="0.56"/><ellipse cx="352.9" cy="2183.2" rx="3.7" ry="2.1" transform="rotate(27 352.9 2183.2)" fill="#8a74e0" fill-opacity="0.76"/><ellipse cx="357.9" cy="2192.6" rx="3.2" ry="1.6" transform="rotate(80 357.9 2192.6)" fill="#8a74e0" fill-opacity="0.76"/><ellipse cx="347.8" cy="2189.3" rx="2.4" ry="2" transform="rotate(73 347.8 2189.3)" fill="#7a62d8" fill-opacity="0.72"/><ellipse cx="305.1" cy="2240" rx="3.4" ry="2.7" transform="rotate(147 305.1 2240)" fill="#6a50d0" fill-opacity="0.64"/><ellipse cx="308.4" cy="2241.2" rx="4.7" ry="3.3" transform="rotate(105 308.4 2241.2)" fill="#8a74e0" fill-opacity="0.74"/><ellipse cx="313.4" cy="2241.8" rx="2.3" ry="2.2" transform="rotate(73 313.4 2241.8)" fill="#7a62d8" fill-opacity="0.75"/><ellipse cx="305.7" cy="2240.5" rx="3.9" ry="3" transform="rotate(130 305.7 2240.5)" fill="#8a74e0" fill-opacity="0.67"/><ellipse cx="300.3" cy="2217.2" rx="3" ry="2.2" transform="rotate(115 300.3 2217.2)" fill="#7a62d8" fill-opacity="0.44"/><ellipse cx="288.3" cy="2216" rx="3.1" ry="2" transform="rotate(150 288.3 2216)" fill="#8a74e0" fill-opacity="0.69"/><ellipse cx="289.4" cy="2220.1" rx="4.5" ry="2.8" transform="rotate(177 289.4 2220.1)" fill="#6a50d0" fill-opacity="0.80"/><ellipse cx="298" cy="2215.1" rx="4.3" ry="3.3" transform="rotate(37 298 2215.1)" fill="#6a50d0" fill-opacity="0.72"/><ellipse cx="332.8" cy="2163.5" rx="2.8" ry="2.2" transform="rotate(35 332.8 2163.5)" fill="#5a3cc8" fill-opacity="0.47"/><ellipse cx="327.4" cy="2162.4" rx="4.2" ry="2.5" transform="rotate(116 327.4 2162.4)" fill="#5a3cc8" fill-opacity="0.42"/><ellipse cx="335.9" cy="2177.7" rx="3.1" ry="2.2" transform="rotate(67 335.9 2177.7)" fill="#8a74e0" fill-opacity="0.56"/><ellipse cx="323.8" cy="2163.3" rx="2.6" ry="2.4" transform="rotate(174 323.8 2163.3)" fill="#8a74e0" fill-opacity="0.80"/><ellipse cx="318.3" cy="2251.8" rx="4" ry="3.7" transform="rotate(150 318.3 2251.8)" fill="#8a74e0" fill-opacity="0.76"/><ellipse cx="312.5" cy="2244.7" rx="3.7" ry="3.5" transform="rotate(160 312.5 2244.7)" fill="#6a50d0" fill-opacity="0.74"/><ellipse cx="316" cy="2240.9" rx="2.5" ry="1.9" transform="rotate(38 316 2240.9)" fill="#8a74e0" fill-opacity="0.75"/><ellipse cx="314.5" cy="2243.1" rx="3.6" ry="3.3" transform="rotate(146 314.5 2243.1)" fill="#8a74e0" fill-opacity="0.52"/></g><g fill="#222222" fill-opacity="0.88"><ellipse cx="290.7" cy="2198.1" rx="2.1" ry="1.15" transform="rotate(-27 290.7 2198.1)"/><ellipse cx="313.7" cy="2196.6" rx="2.1" ry="1.15" transform="rotate(-27 313.7 2196.6)"/><ellipse cx="371.8" cy="2196.1" rx="2.1" ry="1.15" transform="rotate(-27 371.8 2196.1)"/><ellipse cx="385.3" cy="2181.1" rx="2.1" ry="1.15" transform="rotate(-21 385.3 2181.1)"/><ellipse cx="257.5" cy="2167.9" rx="2.1" ry="1.15" transform="rotate(-10 257.5 2167.9)"/><ellipse cx="333.6" cy="2209.3" rx="2.1" ry="1.15" transform="rotate(-21 333.6 2209.3)"/><ellipse cx="293.3" cy="2256.9" rx="2.1" ry="1.15" transform="rotate(-18 293.3 2256.9)"/><ellipse cx="389.3" cy="2248.4" rx="2.1" ry="1.15" transform="rotate(-24 389.3 2248.4)"/><ellipse cx="370" cy="2159.9" rx="2.1" ry="1.15" transform="rotate(-10 370 2159.9)"/><ellipse cx="364.7" cy="2228.8" rx="2.1" ry="1.15" transform="rotate(-14 364.7 2228.8)"/><ellipse cx="365.2" cy="2173.5" rx="2.1" ry="1.15" transform="rotate(-14 365.2 2173.5)"/><ellipse cx="290.5" cy="2198.5" rx="2.1" ry="1.15" transform="rotate(-22 290.5 2198.5)"/><ellipse cx="350.9" cy="2216.3" rx="2.1" ry="1.15" transform="rotate(-8 350.9 2216.3)"/><ellipse cx="340" cy="2219" rx="2.1" ry="1.15" transform="rotate(-5 340 2219)"/><ellipse cx="365.1" cy="2215.7" rx="2.1" ry="1.15" transform="rotate(-19 365.1 2215.7)"/><ellipse cx="380.9" cy="2195.7" rx="2.1" ry="1.15" transform="rotate(-25 380.9 2195.7)"/><ellipse cx="299.7" cy="2230" rx="2.1" ry="1.15" transform="rotate(-5 299.7 2230)"/><ellipse cx="342.3" cy="2225.5" rx="2.1" ry="1.15" transform="rotate(-5 342.3 2225.5)"/><ellipse cx="360.4" cy="2203.3" rx="2.1" ry="1.15" transform="rotate(-16 360.4 2203.3)"/><ellipse cx="357.9" cy="2190.2" rx="2.1" ry="1.15" transform="rotate(-24 357.9 2190.2)"/><ellipse cx="338.8" cy="2240.5" rx="2.1" ry="1.15" transform="rotate(-21 338.8 2240.5)"/><ellipse cx="347.5" cy="2249" rx="2.1" ry="1.15" transform="rotate(-24 347.5 2249)"/><ellipse cx="272.7" cy="2208.1" rx="2.1" ry="1.15" transform="rotate(-19 272.7 2208.1)"/><ellipse cx="383.8" cy="2259.7" rx="2.1" ry="1.15" transform="rotate(-16 383.8 2259.7)"/><ellipse cx="362.5" cy="2222.3" rx="2.1" ry="1.15" transform="rotate(-23 362.5 2222.3)"/><ellipse cx="386.9" cy="2175.6" rx="2.1" ry="1.15" transform="rotate(-25 386.9 2175.6)"/><ellipse cx="316" cy="2159.5" rx="2.1" ry="1.15" transform="rotate(-15 316 2159.5)"/><ellipse cx="310.4" cy="2255.3" rx="2.1" ry="1.15" transform="rotate(-17 310.4 2255.3)"/><ellipse cx="370.2" cy="2237.5" rx="2.1" ry="1.15" transform="rotate(-13 370.2 2237.5)"/><ellipse cx="286.7" cy="2188.9" rx="2.1" ry="1.15" transform="rotate(-15 286.7 2188.9)"/><ellipse cx="308.1" cy="2223.7" rx="2.1" ry="1.15" transform="rotate(-15 308.1 2223.7)"/><ellipse cx="298.3" cy="2219.8" rx="2.1" ry="1.15" transform="rotate(-3 298.3 2219.8)"/><ellipse cx="281.9" cy="2192" rx="2.1" ry="1.15" transform="rotate(-27 281.9 2192)"/><ellipse cx="267" cy="2163.4" rx="2.1" ry="1.15" transform="rotate(-17 267 2163.4)"/><ellipse cx="368.4" cy="2229.1" rx="2.1" ry="1.15" transform="rotate(-4 368.4 2229.1)"/><ellipse cx="368.4" cy="2217.6" rx="2.1" ry="1.15" transform="rotate(-13 368.4 2217.6)"/><ellipse cx="255.9" cy="2196.9" rx="2.1" ry="1.15" transform="rotate(-21 255.9 2196.9)"/><ellipse cx="338.9" cy="2164.4" rx="2.1" ry="1.15" transform="rotate(-14 338.9 2164.4)"/><ellipse cx="305.5" cy="2208" rx="2.1" ry="1.15" transform="rotate(-17 305.5 2208)"/><ellipse cx="268.1" cy="2232.5" rx="2.1" ry="1.15" transform="rotate(-8 268.1 2232.5)"/><ellipse cx="335.9" cy="2169.5" rx="2.1" ry="1.15" transform="rotate(-13 335.9 2169.5)"/><ellipse cx="373.1" cy="2258.6" rx="2.1" ry="1.15" transform="rotate(-9 373.1 2258.6)"/><ellipse cx="260.4" cy="2247.6" rx="2.1" ry="1.15" transform="rotate(-11 260.4 2247.6)"/><ellipse cx="291.9" cy="2251.8" rx="2.1" ry="1.15" transform="rotate(-7 291.9 2251.8)"/><ellipse cx="376.4" cy="2183" rx="2.1" ry="1.15" transform="rotate(-13 376.4 2183)"/><ellipse cx="305.9" cy="2188" rx="2.1" ry="1.15" transform="rotate(-9 305.9 2188)"/><ellipse cx="338.4" cy="2191.6" rx="2.1" ry="1.15" transform="rotate(-14 338.4 2191.6)"/><ellipse cx="380.9" cy="2215.7" rx="2.1" ry="1.15" transform="rotate(-5 380.9 2215.7)"/><ellipse cx="331.5" cy="2259.2" rx="2.1" ry="1.15" transform="rotate(-26 331.5 2259.2)"/><ellipse cx="317" cy="2214.2" rx="2.1" ry="1.15" transform="rotate(-10 317 2214.2)"/><ellipse cx="386.4" cy="2221.5" rx="2.1" ry="1.15" transform="rotate(-16 386.4 2221.5)"/><ellipse cx="340.8" cy="2212.3" rx="2.1" ry="1.15" transform="rotate(-10 340.8 2212.3)"/><ellipse cx="383.5" cy="2159.1" rx="2.1" ry="1.15" transform="rotate(-19 383.5 2159.1)"/><ellipse cx="373.8" cy="2163.8" rx="2.1" ry="1.15" transform="rotate(-8 373.8 2163.8)"/><ellipse cx="258.4" cy="2224" rx="2.1" ry="1.15" transform="rotate(-8 258.4 2224)"/><ellipse cx="286.7" cy="2196.7" rx="2.1" ry="1.15" transform="rotate(-22 286.7 2196.7)"/><ellipse cx="350.4" cy="2211.8" rx="2.1" ry="1.15" transform="rotate(-12 350.4 2211.8)"/><ellipse cx="298.6" cy="2217.7" rx="2.1" ry="1.15" transform="rotate(-4 298.6 2217.7)"/><ellipse cx="360.6" cy="2255.1" rx="2.1" ry="1.15" transform="rotate(-21 360.6 2255.1)"/><ellipse cx="324.6" cy="2197.2" rx="2.1" ry="1.15" transform="rotate(-19 324.6 2197.2)"/><ellipse cx="363.9" cy="2175.6" rx="2.1" ry="1.15" transform="rotate(-14 363.9 2175.6)"/><ellipse cx="359.9" cy="2253.4" rx="2.1" ry="1.15" transform="rotate(-27 359.9 2253.4)"/><ellipse cx="291.2" cy="2208.1" rx="2.1" ry="1.15" transform="rotate(-5 291.2 2208.1)"/><ellipse cx="276.5" cy="2243.7" rx="2.1" ry="1.15" transform="rotate(-17 276.5 2243.7)"/><ellipse cx="329" cy="2252.6" rx="2.1" ry="1.15" transform="rotate(-25 329 2252.6)"/><ellipse cx="299.2" cy="2173.6" rx="2.1" ry="1.15" transform="rotate(-24 299.2 2173.6)"/><ellipse cx="295.6" cy="2229.4" rx="2.1" ry="1.15" transform="rotate(-13 295.6 2229.4)"/><ellipse cx="270.8" cy="2239.7" rx="2.1" ry="1.15" transform="rotate(-15 270.8 2239.7)"/><ellipse cx="273.7" cy="2241.6" rx="2.1" ry="1.15" transform="rotate(-7 273.7 2241.6)"/><ellipse cx="283.8" cy="2253.8" rx="2.1" ry="1.15" transform="rotate(-8 283.8 2253.8)"/><ellipse cx="285.5" cy="2157.8" rx="2.1" ry="1.15" transform="rotate(-6 285.5 2157.8)"/><ellipse cx="367" cy="2167.7" rx="2.1" ry="1.15" transform="rotate(-9 367 2167.7)"/><ellipse cx="359.7" cy="2222.5" rx="2.1" ry="1.15" transform="rotate(-7 359.7 2222.5)"/><ellipse cx="388.6" cy="2191.2" rx="2.1" ry="1.15" transform="rotate(-7 388.6 2191.2)"/><ellipse cx="379.9" cy="2189.8" rx="2.1" ry="1.15" transform="rotate(-11 379.9 2189.8)"/><ellipse cx="347.6" cy="2244.5" rx="2.1" ry="1.15" transform="rotate(-13 347.6 2244.5)"/><ellipse cx="291.8" cy="2183.4" rx="2.1" ry="1.15" transform="rotate(-14 291.8 2183.4)"/><ellipse cx="272.7" cy="2245.6" rx="2.1" ry="1.15" transform="rotate(-6 272.7 2245.6)"/><ellipse cx="287.3" cy="2229" rx="2.1" ry="1.15" transform="rotate(-11 287.3 2229)"/><ellipse cx="270.8" cy="2237.3" rx="2.1" ry="1.15" transform="rotate(-9 270.8 2237.3)"/><ellipse cx="296" cy="2167.7" rx="2.1" ry="1.15" transform="rotate(-20 296 2167.7)"/><ellipse cx="359.5" cy="2205.4" rx="2.1" ry="1.15" transform="rotate(-7 359.5 2205.4)"/><ellipse cx="276" cy="2168.6" rx="2.1" ry="1.15" transform="rotate(-19 276 2168.6)"/><ellipse cx="374.3" cy="2174.3" rx="2.1" ry="1.15" transform="rotate(-25 374.3 2174.3)"/><ellipse cx="357" cy="2167" rx="2.1" ry="1.15" transform="rotate(-11 357 2167)"/><ellipse cx="265.6" cy="2183" rx="2.1" ry="1.15" transform="rotate(-11 265.6 2183)"/><ellipse cx="373.4" cy="2199.6" rx="2.1" ry="1.15" transform="rotate(-16 373.4 2199.6)"/><ellipse cx="258.4" cy="2192.5" rx="2.1" ry="1.15" transform="rotate(-21 258.4 2192.5)"/><ellipse cx="361.9" cy="2230.8" rx="2.1" ry="1.15" transform="rotate(-8 361.9 2230.8)"/><ellipse cx="326.8" cy="2229.2" rx="2.1" ry="1.15" transform="rotate(-24 326.8 2229.2)"/><ellipse cx="306.8" cy="2187.7" rx="2.1" ry="1.15" transform="rotate(-20 306.8 2187.7)"/><ellipse cx="355.1" cy="2179.6" rx="2.1" ry="1.15" transform="rotate(-19 355.1 2179.6)"/><ellipse cx="292.7" cy="2246.1" rx="2.1" ry="1.15" transform="rotate(-12 292.7 2246.1)"/><ellipse cx="319.8" cy="2196.6" rx="2.1" ry="1.15" transform="rotate(-5 319.8 2196.6)"/><ellipse cx="382.4" cy="2203.7" rx="2.1" ry="1.15" transform="rotate(-13 382.4 2203.7)"/><ellipse cx="371.9" cy="2183.9" rx="2.1" ry="1.15" transform="rotate(-21 371.9 2183.9)"/><ellipse cx="268.3" cy="2209.1" rx="2.1" ry="1.15" transform="rotate(-9 268.3 2209.1)"/><ellipse cx="275.6" cy="2201.9" rx="2.1" ry="1.15" transform="rotate(-3 275.6 2201.9)"/><ellipse cx="319.9" cy="2196.8" rx="2.1" ry="1.15" transform="rotate(-7 319.9 2196.8)"/><ellipse cx="376" cy="2196.2" rx="2.1" ry="1.15" transform="rotate(-24 376 2196.2)"/><ellipse cx="341.1" cy="2233.4" rx="2.1" ry="1.15" transform="rotate(-5 341.1 2233.4)"/><ellipse cx="344.3" cy="2189.2" rx="2.1" ry="1.15" transform="rotate(-15 344.3 2189.2)"/><ellipse cx="293.5" cy="2203.3" rx="2.1" ry="1.15" transform="rotate(-16 293.5 2203.3)"/><ellipse cx="378.7" cy="2250.4" rx="2.1" ry="1.15" transform="rotate(-5 378.7 2250.4)"/><ellipse cx="319.5" cy="2256.4" rx="2.1" ry="1.15" transform="rotate(-24 319.5 2256.4)"/><ellipse cx="379.9" cy="2223.2" rx="2.1" ry="1.15" transform="rotate(-6 379.9 2223.2)"/><ellipse cx="310.6" cy="2259.1" rx="2.1" ry="1.15" transform="rotate(-26 310.6 2259.1)"/><ellipse cx="369.9" cy="2241.5" rx="2.1" ry="1.15" transform="rotate(-18 369.9 2241.5)"/><ellipse cx="367.3" cy="2179.6" rx="2.1" ry="1.15" transform="rotate(-9 367.3 2179.6)"/><ellipse cx="318.1" cy="2199.8" rx="2.1" ry="1.15" transform="rotate(-22 318.1 2199.8)"/><ellipse cx="363.4" cy="2232.5" rx="2.1" ry="1.15" transform="rotate(-25 363.4 2232.5)"/><ellipse cx="387.7" cy="2180.3" rx="2.1" ry="1.15" transform="rotate(-18 387.7 2180.3)"/><ellipse cx="310.8" cy="2216.7" rx="2.1" ry="1.15" transform="rotate(-6 310.8 2216.7)"/><ellipse cx="383.2" cy="2222.5" rx="2.1" ry="1.15" transform="rotate(-18 383.2 2222.5)"/><ellipse cx="268.9" cy="2164.7" rx="2.1" ry="1.15" transform="rotate(-15 268.9 2164.7)"/><ellipse cx="333.8" cy="2203.5" rx="2.1" ry="1.15" transform="rotate(-3 333.8 2203.5)"/><ellipse cx="310.7" cy="2193.6" rx="2.1" ry="1.15" transform="rotate(-17 310.7 2193.6)"/><ellipse cx="277.6" cy="2253.8" rx="2.1" ry="1.15" transform="rotate(-13 277.6 2253.8)"/><ellipse cx="328.3" cy="2201.3" rx="2.1" ry="1.15" transform="rotate(-21 328.3 2201.3)"/><ellipse cx="297.3" cy="2208.2" rx="2.1" ry="1.15" transform="rotate(-16 297.3 2208.2)"/><ellipse cx="387.9" cy="2215.3" rx="2.1" ry="1.15" transform="rotate(-22 387.9 2215.3)"/><ellipse cx="261.5" cy="2174" rx="2.1" ry="1.15" transform="rotate(-19 261.5 2174)"/><ellipse cx="361" cy="2248.7" rx="2.1" ry="1.15" transform="rotate(-21 361 2248.7)"/><ellipse cx="360.7" cy="2202.9" rx="2.1" ry="1.15" transform="rotate(-14 360.7 2202.9)"/><ellipse cx="326.9" cy="2162.1" rx="2.1" ry="1.15" transform="rotate(-25 326.9 2162.1)"/><ellipse cx="345.3" cy="2228.2" rx="2.1" ry="1.15" transform="rotate(-18 345.3 2228.2)"/><ellipse cx="379.7" cy="2241.6" rx="2.1" ry="1.15" transform="rotate(-20 379.7 2241.6)"/><ellipse cx="263.3" cy="2214.3" rx="2.1" ry="1.15" transform="rotate(-11 263.3 2214.3)"/><ellipse cx="284.8" cy="2162.2" rx="2.1" ry="1.15" transform="rotate(-15 284.8 2162.2)"/><ellipse cx="258.9" cy="2233.1" rx="2.1" ry="1.15" transform="rotate(-12 258.9 2233.1)"/><ellipse cx="292.3" cy="2203.3" rx="2.1" ry="1.15" transform="rotate(-21 292.3 2203.3)"/><ellipse cx="279.6" cy="2176.3" rx="2.1" ry="1.15" transform="rotate(-7 279.6 2176.3)"/><ellipse cx="316.1" cy="2230.9" rx="2.1" ry="1.15" transform="rotate(-19 316.1 2230.9)"/><ellipse cx="364.3" cy="2218.7" rx="2.1" ry="1.15" transform="rotate(-11 364.3 2218.7)"/><ellipse cx="307.8" cy="2215.2" rx="2.1" ry="1.15" transform="rotate(-22 307.8 2215.2)"/><ellipse cx="387.1" cy="2226.5" rx="2.1" ry="1.15" transform="rotate(-14 387.1 2226.5)"/><ellipse cx="341.4" cy="2167.9" rx="2.1" ry="1.15" transform="rotate(-19 341.4 2167.9)"/><ellipse cx="285.7" cy="2243.9" rx="2.1" ry="1.15" transform="rotate(-27 285.7 2243.9)"/><ellipse cx="314.9" cy="2246.6" rx="2.1" ry="1.15" transform="rotate(-8 314.9 2246.6)"/><ellipse cx="352.3" cy="2188.5" rx="2.1" ry="1.15" transform="rotate(-21 352.3 2188.5)"/><ellipse cx="350.3" cy="2188.3" rx="2.1" ry="1.15" transform="rotate(-10 350.3 2188.3)"/><ellipse cx="302" cy="2235.5" rx="2.1" ry="1.15" transform="rotate(-13 302 2235.5)"/><ellipse cx="365.5" cy="2258.5" rx="2.1" ry="1.15" transform="rotate(-18 365.5 2258.5)"/><ellipse cx="388.9" cy="2158.7" rx="2.1" ry="1.15" transform="rotate(-6 388.9 2158.7)"/><ellipse cx="258.3" cy="2213.5" rx="2.1" ry="1.15" transform="rotate(-18 258.3 2213.5)"/><ellipse cx="359.3" cy="2189.9" rx="2.1" ry="1.15" transform="rotate(-22 359.3 2189.9)"/><ellipse cx="361.2" cy="2214" rx="2.1" ry="1.15" transform="rotate(-9 361.2 2214)"/><ellipse cx="321" cy="2161.4" rx="2.1" ry="1.15" transform="rotate(-8 321 2161.4)"/><ellipse cx="284" cy="2206" rx="2.1" ry="1.15" transform="rotate(-27 284 2206)"/><ellipse cx="289.6" cy="2225.8" rx="2.1" ry="1.15" transform="rotate(-9 289.6 2225.8)"/><ellipse cx="341.1" cy="2203" rx="2.1" ry="1.15" transform="rotate(-9 341.1 2203)"/><ellipse cx="345.5" cy="2178.8" rx="2.1" ry="1.15" transform="rotate(-14 345.5 2178.8)"/><ellipse cx="335.8" cy="2232.3" rx="2.1" ry="1.15" transform="rotate(-22 335.8 2232.3)"/><ellipse cx="296.6" cy="2192.8" rx="2.1" ry="1.15" transform="rotate(-25 296.6 2192.8)"/><ellipse cx="301.8" cy="2232.3" rx="2.1" ry="1.15" transform="rotate(-13 301.8 2232.3)"/><ellipse cx="277.8" cy="2232.5" rx="2.1" ry="1.15" transform="rotate(-24 277.8 2232.5)"/><ellipse cx="356.7" cy="2172.8" rx="2.1" ry="1.15" transform="rotate(-25 356.7 2172.8)"/><ellipse cx="288.6" cy="2210.4" rx="2.1" ry="1.15" transform="rotate(-21 288.6 2210.4)"/><ellipse cx="374.9" cy="2253.7" rx="2.1" ry="1.15" transform="rotate(-20 374.9 2253.7)"/><ellipse cx="356.6" cy="2228.9" rx="2.1" ry="1.15" transform="rotate(-14 356.6 2228.9)"/><ellipse cx="289" cy="2254.8" rx="2.1" ry="1.15" transform="rotate(-4 289 2254.8)"/><ellipse cx="256" cy="2191.5" rx="2.1" ry="1.15" transform="rotate(-19 256 2191.5)"/><ellipse cx="281.3" cy="2201.7" rx="2.1" ry="1.15" transform="rotate(-5 281.3 2201.7)"/><ellipse cx="257.5" cy="2243.2" rx="2.1" ry="1.15" transform="rotate(-20 257.5 2243.2)"/><ellipse cx="256.1" cy="2249.7" rx="2.1" ry="1.15" transform="rotate(-20 256.1 2249.7)"/><ellipse cx="283.2" cy="2169.6" rx="2.1" ry="1.15" transform="rotate(-18 283.2 2169.6)"/><ellipse cx="270.5" cy="2176.1" rx="2.1" ry="1.15" transform="rotate(-21 270.5 2176.1)"/><ellipse cx="333.1" cy="2203.3" rx="2.1" ry="1.15" transform="rotate(-20 333.1 2203.3)"/><ellipse cx="326" cy="2236.9" rx="2.1" ry="1.15" transform="rotate(-10 326 2236.9)"/><ellipse cx="301.1" cy="2251.6" rx="2.1" ry="1.15" transform="rotate(-8 301.1 2251.6)"/><ellipse cx="330.9" cy="2206.3" rx="2.1" ry="1.15" transform="rotate(-19 330.9 2206.3)"/><ellipse cx="272.5" cy="2248.3" rx="2.1" ry="1.15" transform="rotate(-12 272.5 2248.3)"/><ellipse cx="267.7" cy="2252.4" rx="2.1" ry="1.15" transform="rotate(-6 267.7 2252.4)"/><ellipse cx="258.8" cy="2229.4" rx="2.1" ry="1.15" transform="rotate(-21 258.8 2229.4)"/><ellipse cx="327.3" cy="2243" rx="2.1" ry="1.15" transform="rotate(-19 327.3 2243)"/><ellipse cx="322.2" cy="2225.8" rx="2.1" ry="1.15" transform="rotate(-22 322.2 2225.8)"/><ellipse cx="339.7" cy="2201.2" rx="2.1" ry="1.15" transform="rotate(-3 339.7 2201.2)"/><ellipse cx="279.8" cy="2230.4" rx="2.1" ry="1.15" transform="rotate(-26 279.8 2230.4)"/><ellipse cx="291.6" cy="2169.7" rx="2.1" ry="1.15" transform="rotate(-23 291.6 2169.7)"/><ellipse cx="326.3" cy="2175.5" rx="2.1" ry="1.15" transform="rotate(-8 326.3 2175.5)"/><ellipse cx="267.3" cy="2221.4" rx="2.1" ry="1.15" transform="rotate(-6 267.3 2221.4)"/><ellipse cx="271.5" cy="2179.9" rx="2.1" ry="1.15" transform="rotate(-9 271.5 2179.9)"/><ellipse cx="318.4" cy="2253.1" rx="2.1" ry="1.15" transform="rotate(-19 318.4 2253.1)"/><ellipse cx="308.5" cy="2255.7" rx="2.1" ry="1.15" transform="rotate(-19 308.5 2255.7)"/><ellipse cx="386.1" cy="2248.9" rx="2.1" ry="1.15" transform="rotate(-22 386.1 2248.9)"/><ellipse cx="328.7" cy="2254" rx="2.1" ry="1.15" transform="rotate(-24 328.7 2254)"/><ellipse cx="370.1" cy="2236.9" rx="2.1" ry="1.15" transform="rotate(-9 370.1 2236.9)"/><ellipse cx="336.2" cy="2167.9" rx="2.1" ry="1.15" transform="rotate(-4 336.2 2167.9)"/><ellipse cx="268.2" cy="2237.9" rx="2.1" ry="1.15" transform="rotate(-10 268.2 2237.9)"/><ellipse cx="297.5" cy="2227.7" rx="2.1" ry="1.15" transform="rotate(-17 297.5 2227.7)"/><ellipse cx="356.7" cy="2162.1" rx="2.1" ry="1.15" transform="rotate(-5 356.7 2162.1)"/><ellipse cx="306.7" cy="2239.9" rx="2.1" ry="1.15" transform="rotate(-16 306.7 2239.9)"/><ellipse cx="365.1" cy="2188.5" rx="2.1" ry="1.15" transform="rotate(-14 365.1 2188.5)"/><ellipse cx="257.6" cy="2207.8" rx="2.1" ry="1.15" transform="rotate(-25 257.6 2207.8)"/><ellipse cx="371.5" cy="2227" rx="2.1" ry="1.15" transform="rotate(-17 371.5 2227)"/><ellipse cx="387.2" cy="2254.6" rx="2.1" ry="1.15" transform="rotate(-4 387.2 2254.6)"/><ellipse cx="265.5" cy="2229.7" rx="2.1" ry="1.15" transform="rotate(-10 265.5 2229.7)"/><ellipse cx="336.9" cy="2159.3" rx="2.1" ry="1.15" transform="rotate(-5 336.9 2159.3)"/><ellipse cx="314.1" cy="2218.6" rx="2.1" ry="1.15" transform="rotate(-7 314.1 2218.6)"/><ellipse cx="291.8" cy="2160.7" rx="2.1" ry="1.15" transform="rotate(-5 291.8 2160.7)"/><ellipse cx="291.1" cy="2161.9" rx="2.1" ry="1.15" transform="rotate(-24 291.1 2161.9)"/><ellipse cx="390" cy="2233.4" rx="2.1" ry="1.15" transform="rotate(-22 390 2233.4)"/><ellipse cx="274.2" cy="2249.5" rx="2.1" ry="1.15" transform="rotate(-11 274.2 2249.5)"/><ellipse cx="333.8" cy="2171.1" rx="2.1" ry="1.15" transform="rotate(-17 333.8 2171.1)"/><ellipse cx="383.4" cy="2158" rx="2.1" ry="1.15" transform="rotate(-17 383.4 2158)"/><ellipse cx="262" cy="2259.8" rx="2.1" ry="1.15" transform="rotate(-24 262 2259.8)"/><ellipse cx="384.4" cy="2243.8" rx="2.1" ry="1.15" transform="rotate(-9 384.4 2243.8)"/><ellipse cx="260" cy="2228.8" rx="2.1" ry="1.15" transform="rotate(-15 260 2228.8)"/><ellipse cx="321.3" cy="2172.6" rx="2.1" ry="1.15" transform="rotate(-15 321.3 2172.6)"/><ellipse cx="363.7" cy="2171.1" rx="2.1" ry="1.15" transform="rotate(-6 363.7 2171.1)"/><ellipse cx="311.5" cy="2184.9" rx="2.1" ry="1.15" transform="rotate(-21 311.5 2184.9)"/><ellipse cx="317" cy="2223.9" rx="2.1" ry="1.15" transform="rotate(-13 317 2223.9)"/><ellipse cx="375.7" cy="2210" rx="2.1" ry="1.15" transform="rotate(-15 375.7 2210)"/><ellipse cx="389.2" cy="2179.7" rx="2.1" ry="1.15" transform="rotate(-27 389.2 2179.7)"/><ellipse cx="299" cy="2189.7" rx="2.1" ry="1.15" transform="rotate(-24 299 2189.7)"/><ellipse cx="311.3" cy="2161.2" rx="2.1" ry="1.15" transform="rotate(-5 311.3 2161.2)"/><ellipse cx="320.3" cy="2247.6" rx="2.1" ry="1.15" transform="rotate(-10 320.3 2247.6)"/><ellipse cx="353.8" cy="2235.3" rx="2.1" ry="1.15" transform="rotate(-20 353.8 2235.3)"/><ellipse cx="353.7" cy="2178.8" rx="2.1" ry="1.15" transform="rotate(-14 353.7 2178.8)"/><ellipse cx="335.5" cy="2237" rx="2.1" ry="1.15" transform="rotate(-23 335.5 2237)"/><ellipse cx="301.2" cy="2242" rx="2.1" ry="1.15" transform="rotate(-8 301.2 2242)"/><ellipse cx="387.7" cy="2169.8" rx="2.1" ry="1.15" transform="rotate(-22 387.7 2169.8)"/><ellipse cx="268.8" cy="2231.7" rx="2.1" ry="1.15" transform="rotate(-9 268.8 2231.7)"/><ellipse cx="342.7" cy="2237.4" rx="2.1" ry="1.15" transform="rotate(-15 342.7 2237.4)"/><ellipse cx="331" cy="2251.9" rx="2.1" ry="1.15" transform="rotate(-11 331 2251.9)"/><ellipse cx="343.7" cy="2217.9" rx="2.1" ry="1.15" transform="rotate(-15 343.7 2217.9)"/><ellipse cx="357.5" cy="2216.3" rx="2.1" ry="1.15" transform="rotate(-24 357.5 2216.3)"/><ellipse cx="312.3" cy="2200.8" rx="2.1" ry="1.15" transform="rotate(-17 312.3 2200.8)"/><ellipse cx="330.8" cy="2194.7" rx="2.1" ry="1.15" transform="rotate(-18 330.8 2194.7)"/><ellipse cx="312.5" cy="2195.7" rx="2.1" ry="1.15" transform="rotate(-4 312.5 2195.7)"/><ellipse cx="266.5" cy="2159.4" rx="2.1" ry="1.15" transform="rotate(-10 266.5 2159.4)"/><ellipse cx="308.1" cy="2203.6" rx="2.1" ry="1.15" transform="rotate(-13 308.1 2203.6)"/><ellipse cx="304.3" cy="2182.2" rx="2.1" ry="1.15" transform="rotate(-27 304.3 2182.2)"/><ellipse cx="373.5" cy="2253.8" rx="2.1" ry="1.15" transform="rotate(-20 373.5 2253.8)"/><ellipse cx="317.7" cy="2190.8" rx="2.1" ry="1.15" transform="rotate(-26 317.7 2190.8)"/><ellipse cx="376" cy="2243.3" rx="2.1" ry="1.15" transform="rotate(-21 376 2243.3)"/><ellipse cx="289" cy="2229.1" rx="2.1" ry="1.15" transform="rotate(-8 289 2229.1)"/><ellipse cx="318.3" cy="2197.3" rx="2.1" ry="1.15" transform="rotate(-21 318.3 2197.3)"/><ellipse cx="363.2" cy="2246" rx="2.1" ry="1.15" transform="rotate(-6 363.2 2246)"/><ellipse cx="269.8" cy="2218.4" rx="2.1" ry="1.15" transform="rotate(-3 269.8 2218.4)"/><ellipse cx="351.8" cy="2204.7" rx="2.1" ry="1.15" transform="rotate(-24 351.8 2204.7)"/><ellipse cx="262.5" cy="2232.6" rx="2.1" ry="1.15" transform="rotate(-25 262.5 2232.6)"/><ellipse cx="364.6" cy="2225.8" rx="2.1" ry="1.15" transform="rotate(-16 364.6 2225.8)"/><ellipse cx="375.9" cy="2253.1" rx="2.1" ry="1.15" transform="rotate(-12 375.9 2253.1)"/><ellipse cx="267.8" cy="2217.9" rx="2.1" ry="1.15" transform="rotate(-17 267.8 2217.9)"/><ellipse cx="288.3" cy="2252.7" rx="2.1" ry="1.15" transform="rotate(-9 288.3 2252.7)"/><ellipse cx="270.8" cy="2181.1" rx="2.1" ry="1.15" transform="rotate(-19 270.8 2181.1)"/><ellipse cx="332.4" cy="2190.9" rx="2.1" ry="1.15" transform="rotate(-16 332.4 2190.9)"/><ellipse cx="365.2" cy="2176.3" rx="2.1" ry="1.15" transform="rotate(-10 365.2 2176.3)"/><ellipse cx="299.3" cy="2254.3" rx="2.1" ry="1.15" transform="rotate(-4 299.3 2254.3)"/><ellipse cx="298.9" cy="2219.7" rx="2.1" ry="1.15" transform="rotate(-24 298.9 2219.7)"/><ellipse cx="310.2" cy="2221.5" rx="2.1" ry="1.15" transform="rotate(-12 310.2 2221.5)"/><ellipse cx="301" cy="2161.2" rx="2.1" ry="1.15" transform="rotate(-24 301 2161.2)"/><ellipse cx="330.7" cy="2175.2" rx="2.1" ry="1.15" transform="rotate(-20 330.7 2175.2)"/><ellipse cx="338.6" cy="2249.8" rx="2.1" ry="1.15" transform="rotate(-15 338.6 2249.8)"/><ellipse cx="289" cy="2217.6" rx="2.1" ry="1.15" transform="rotate(-20 289 2217.6)"/><ellipse cx="361" cy="2173.7" rx="2.1" ry="1.15" transform="rotate(-21 361 2173.7)"/><ellipse cx="314.1" cy="2250.6" rx="2.1" ry="1.15" transform="rotate(-23 314.1 2250.6)"/><ellipse cx="280.5" cy="2171.2" rx="2.1" ry="1.15" transform="rotate(-22 280.5 2171.2)"/><ellipse cx="299.6" cy="2198.1" rx="2.1" ry="1.15" transform="rotate(-9 299.6 2198.1)"/><ellipse cx="309.3" cy="2206.3" rx="2.1" ry="1.15" transform="rotate(-17 309.3 2206.3)"/><ellipse cx="359.9" cy="2250.1" rx="2.1" ry="1.15" transform="rotate(-17 359.9 2250.1)"/><ellipse cx="380" cy="2183.3" rx="2.1" ry="1.15" transform="rotate(-4 380 2183.3)"/><ellipse cx="325.9" cy="2227.5" rx="2.1" ry="1.15" transform="rotate(-18 325.9 2227.5)"/><ellipse cx="291.3" cy="2171.5" rx="2.1" ry="1.15" transform="rotate(-6 291.3 2171.5)"/><ellipse cx="303.3" cy="2229.2" rx="2.1" ry="1.15" transform="rotate(-16 303.3 2229.2)"/><ellipse cx="326.1" cy="2178.9" rx="2.1" ry="1.15" transform="rotate(-23 326.1 2178.9)"/><ellipse cx="300.1" cy="2227.4" rx="2.1" ry="1.15" transform="rotate(-14 300.1 2227.4)"/><ellipse cx="254.5" cy="2230.4" rx="2.1" ry="1.15" transform="rotate(-17 254.5 2230.4)"/><ellipse cx="263.6" cy="2184.3" rx="2.1" ry="1.15" transform="rotate(-22 263.6 2184.3)"/><ellipse cx="366.5" cy="2214" rx="2.1" ry="1.15" transform="rotate(-19 366.5 2214)"/><ellipse cx="288.1" cy="2187.5" rx="2.1" ry="1.15" transform="rotate(-20 288.1 2187.5)"/><ellipse cx="301.5" cy="2238.6" rx="2.1" ry="1.15" transform="rotate(-8 301.5 2238.6)"/><ellipse cx="349.5" cy="2248.2" rx="2.1" ry="1.15" transform="rotate(-11 349.5 2248.2)"/><ellipse cx="269.7" cy="2162.3" rx="2.1" ry="1.15" transform="rotate(-23 269.7 2162.3)"/><ellipse cx="289.4" cy="2211.7" rx="2.1" ry="1.15" transform="rotate(-7 289.4 2211.7)"/><ellipse cx="334.2" cy="2201.7" rx="2.1" ry="1.15" transform="rotate(-21 334.2 2201.7)"/><ellipse cx="388.2" cy="2234.8" rx="2.1" ry="1.15" transform="rotate(-19 388.2 2234.8)"/><ellipse cx="260.5" cy="2258.1" rx="2.1" ry="1.15" transform="rotate(-21 260.5 2258.1)"/><ellipse cx="369.9" cy="2169.7" rx="2.1" ry="1.15" transform="rotate(-11 369.9 2169.7)"/><ellipse cx="302.9" cy="2248.6" rx="2.1" ry="1.15" transform="rotate(-20 302.9 2248.6)"/><ellipse cx="268" cy="2178" rx="2.1" ry="1.15" transform="rotate(-8 268 2178)"/><ellipse cx="387.8" cy="2223.5" rx="2.1" ry="1.15" transform="rotate(-11 387.8 2223.5)"/><ellipse cx="292.7" cy="2185.6" rx="2.1" ry="1.15" transform="rotate(-25 292.7 2185.6)"/><ellipse cx="388.6" cy="2162.1" rx="2.1" ry="1.15" transform="rotate(-12 388.6 2162.1)"/><ellipse cx="302" cy="2176.8" rx="2.1" ry="1.15" transform="rotate(-17 302 2176.8)"/><ellipse cx="381.2" cy="2183" rx="2.1" ry="1.15" transform="rotate(-23 381.2 2183)"/><ellipse cx="340.1" cy="2224.9" rx="2.1" ry="1.15" transform="rotate(-15 340.1 2224.9)"/><ellipse cx="278.7" cy="2247.1" rx="2.1" ry="1.15" transform="rotate(-24 278.7 2247.1)"/><ellipse cx="278" cy="2182.4" rx="2.1" ry="1.15" transform="rotate(-15 278 2182.4)"/><ellipse cx="319.2" cy="2214.3" rx="2.1" ry="1.15" transform="rotate(-10 319.2 2214.3)"/><ellipse cx="376.2" cy="2205.6" rx="2.1" ry="1.15" transform="rotate(-26 376.2 2205.6)"/><ellipse cx="367.6" cy="2159.6" rx="2.1" ry="1.15" transform="rotate(-19 367.6 2159.6)"/><ellipse cx="273.7" cy="2219.3" rx="2.1" ry="1.15" transform="rotate(-8 273.7 2219.3)"/><ellipse cx="271.8" cy="2187.8" rx="2.1" ry="1.15" transform="rotate(-7 271.8 2187.8)"/><ellipse cx="348.3" cy="2168.8" rx="2.1" ry="1.15" transform="rotate(-11 348.3 2168.8)"/><ellipse cx="362.6" cy="2199.5" rx="2.1" ry="1.15" transform="rotate(-23 362.6 2199.5)"/><ellipse cx="344.2" cy="2190.4" rx="2.1" ry="1.15" transform="rotate(-24 344.2 2190.4)"/><ellipse cx="276.7" cy="2198.9" rx="2.1" ry="1.15" transform="rotate(-24 276.7 2198.9)"/><ellipse cx="306.8" cy="2214.1" rx="2.1" ry="1.15" transform="rotate(-14 306.8 2214.1)"/><ellipse cx="309.3" cy="2239.6" rx="2.1" ry="1.15" transform="rotate(-25 309.3 2239.6)"/><ellipse cx="299.2" cy="2253.2" rx="2.1" ry="1.15" transform="rotate(-6 299.2 2253.2)"/><ellipse cx="379.9" cy="2236" rx="2.1" ry="1.15" transform="rotate(-14 379.9 2236)"/><ellipse cx="361.7" cy="2216.3" rx="2.1" ry="1.15" transform="rotate(-24 361.7 2216.3)"/><ellipse cx="289.1" cy="2167.7" rx="2.1" ry="1.15" transform="rotate(-6 289.1 2167.7)"/><ellipse cx="298.2" cy="2199.4" rx="2.1" ry="1.15" transform="rotate(-14 298.2 2199.4)"/><ellipse cx="268" cy="2229.9" rx="2.1" ry="1.15" transform="rotate(-8 268 2229.9)"/><ellipse cx="362.9" cy="2247.8" rx="2.1" ry="1.15" transform="rotate(-19 362.9 2247.8)"/><ellipse cx="274.1" cy="2235.6" rx="2.1" ry="1.15" transform="rotate(-10 274.1 2235.6)"/><ellipse cx="304.9" cy="2192.8" rx="2.1" ry="1.15" transform="rotate(-23 304.9 2192.8)"/><ellipse cx="367.8" cy="2204.8" rx="2.1" ry="1.15" transform="rotate(-8 367.8 2204.8)"/><ellipse cx="300.6" cy="2190.6" rx="2.1" ry="1.15" transform="rotate(-15 300.6 2190.6)"/><ellipse cx="356" cy="2248" rx="2.1" ry="1.15" transform="rotate(-19 356 2248)"/><ellipse cx="348.9" cy="2199" rx="2.1" ry="1.15" transform="rotate(-6 348.9 2199)"/><ellipse cx="358" cy="2214.5" rx="2.1" ry="1.15" transform="rotate(-18 358 2214.5)"/><ellipse cx="291.6" cy="2248.2" rx="2.1" ry="1.15" transform="rotate(-8 291.6 2248.2)"/><ellipse cx="295.9" cy="2166.4" rx="2.1" ry="1.15" transform="rotate(-22 295.9 2166.4)"/><ellipse cx="385.8" cy="2161.7" rx="2.1" ry="1.15" transform="rotate(-8 385.8 2161.7)"/><ellipse cx="326.4" cy="2214.4" rx="2.1" ry="1.15" transform="rotate(-14 326.4 2214.4)"/><ellipse cx="310.2" cy="2214.7" rx="2.1" ry="1.15" transform="rotate(-25 310.2 2214.7)"/><ellipse cx="379.8" cy="2168.2" rx="2.1" ry="1.15" transform="rotate(-24 379.8 2168.2)"/><ellipse cx="346" cy="2223.3" rx="2.1" ry="1.15" transform="rotate(-8 346 2223.3)"/><ellipse cx="348.7" cy="2252.9" rx="2.1" ry="1.15" transform="rotate(-26 348.7 2252.9)"/><ellipse cx="255.7" cy="2181.9" rx="2.1" ry="1.15" transform="rotate(-8 255.7 2181.9)"/><ellipse cx="275" cy="2212" rx="2.1" ry="1.15" transform="rotate(-9 275 2212)"/><ellipse cx="275.5" cy="2211.7" rx="2.1" ry="1.15" transform="rotate(-5 275.5 2211.7)"/><ellipse cx="356.2" cy="2198.4" rx="2.1" ry="1.15" transform="rotate(-16 356.2 2198.4)"/><ellipse cx="292.1" cy="2256" rx="2.1" ry="1.15" transform="rotate(-8 292.1 2256)"/><ellipse cx="347.1" cy="2188.8" rx="2.1" ry="1.15" transform="rotate(-9 347.1 2188.8)"/><ellipse cx="320.6" cy="2239.4" rx="2.1" ry="1.15" transform="rotate(-18 320.6 2239.4)"/><ellipse cx="374.5" cy="2227.7" rx="2.1" ry="1.15" transform="rotate(-16 374.5 2227.7)"/><ellipse cx="331" cy="2240" rx="2.1" ry="1.15" transform="rotate(-14 331 2240)"/><ellipse cx="385.3" cy="2158.4" rx="2.1" ry="1.15" transform="rotate(-5 385.3 2158.4)"/><ellipse cx="351.7" cy="2207.8" rx="2.1" ry="1.15" transform="rotate(-7 351.7 2207.8)"/><ellipse cx="274.5" cy="2192.2" rx="2.1" ry="1.15" transform="rotate(-10 274.5 2192.2)"/><ellipse cx="366.6" cy="2195.8" rx="2.1" ry="1.15" transform="rotate(-3 366.6 2195.8)"/><ellipse cx="342.7" cy="2162.3" rx="2.1" ry="1.15" transform="rotate(-24 342.7 2162.3)"/><ellipse cx="264.6" cy="2216" rx="2.1" ry="1.15" transform="rotate(-19 264.6 2216)"/><ellipse cx="289.8" cy="2203.5" rx="2.1" ry="1.15" transform="rotate(-25 289.8 2203.5)"/><ellipse cx="378.3" cy="2243.5" rx="2.1" ry="1.15" transform="rotate(-14 378.3 2243.5)"/><ellipse cx="314.9" cy="2189.3" rx="2.1" ry="1.15" transform="rotate(-13 314.9 2189.3)"/><ellipse cx="301.5" cy="2257.5" rx="2.1" ry="1.15" transform="rotate(-4 301.5 2257.5)"/><ellipse cx="353.4" cy="2242.2" rx="2.1" ry="1.15" transform="rotate(-25 353.4 2242.2)"/><ellipse cx="271.1" cy="2193.1" rx="2.1" ry="1.15" transform="rotate(-24 271.1 2193.1)"/><ellipse cx="311.9" cy="2258.6" rx="2.1" ry="1.15" transform="rotate(-7 311.9 2258.6)"/><ellipse cx="385.1" cy="2180.4" rx="2.1" ry="1.15" transform="rotate(-22 385.1 2180.4)"/><ellipse cx="257.4" cy="2185.7" rx="2.1" ry="1.15" transform="rotate(-26 257.4 2185.7)"/><ellipse cx="326.3" cy="2188.5" rx="2.1" ry="1.15" transform="rotate(-11 326.3 2188.5)"/><ellipse cx="330.8" cy="2218.8" rx="2.1" ry="1.15" transform="rotate(-20 330.8 2218.8)"/><ellipse cx="354.5" cy="2228.2" rx="2.1" ry="1.15" transform="rotate(-10 354.5 2228.2)"/><ellipse cx="318.5" cy="2205.2" rx="2.1" ry="1.15" transform="rotate(-20 318.5 2205.2)"/><ellipse cx="259.7" cy="2205.4" rx="2.1" ry="1.15" transform="rotate(-12 259.7 2205.4)"/><ellipse cx="279.6" cy="2245.7" rx="2.1" ry="1.15" transform="rotate(-6 279.6 2245.7)"/><ellipse cx="370.7" cy="2241.2" rx="2.1" ry="1.15" transform="rotate(-15 370.7 2241.2)"/><ellipse cx="278.2" cy="2185.4" rx="2.1" ry="1.15" transform="rotate(-9 278.2 2185.4)"/><ellipse cx="388.6" cy="2169.1" rx="2.1" ry="1.15" transform="rotate(-27 388.6 2169.1)"/><ellipse cx="302.4" cy="2193.4" rx="2.1" ry="1.15" transform="rotate(-13 302.4 2193.4)"/><ellipse cx="269.5" cy="2244" rx="2.1" ry="1.15" transform="rotate(-19 269.5 2244)"/><ellipse cx="378.2" cy="2191.4" rx="2.1" ry="1.15" transform="rotate(-20 378.2 2191.4)"/><ellipse cx="278.2" cy="2256.5" rx="2.1" ry="1.15" transform="rotate(-13 278.2 2256.5)"/><ellipse cx="366.9" cy="2164.1" rx="2.1" ry="1.15" transform="rotate(-14 366.9 2164.1)"/><ellipse cx="354.3" cy="2258.3" rx="2.1" ry="1.15" transform="rotate(-5 354.3 2258.3)"/><ellipse cx="268.4" cy="2195.9" rx="2.1" ry="1.15" transform="rotate(-3 268.4 2195.9)"/><ellipse cx="327.2" cy="2255.6" rx="2.1" ry="1.15" transform="rotate(-21 327.2 2255.6)"/><ellipse cx="257.7" cy="2254.5" rx="2.1" ry="1.15" transform="rotate(-21 257.7 2254.5)"/><ellipse cx="330.7" cy="2194.6" rx="2.1" ry="1.15" transform="rotate(-13 330.7 2194.6)"/><ellipse cx="381.7" cy="2254.6" rx="2.1" ry="1.15" transform="rotate(-6 381.7 2254.6)"/><ellipse cx="289.2" cy="2241.7" rx="2.1" ry="1.15" transform="rotate(-27 289.2 2241.7)"/><ellipse cx="311" cy="2254.3" rx="2.1" ry="1.15" transform="rotate(-21 311 2254.3)"/><ellipse cx="304.3" cy="2217.2" rx="2.1" ry="1.15" transform="rotate(-21 304.3 2217.2)"/><ellipse cx="350.9" cy="2224.5" rx="2.1" ry="1.15" transform="rotate(-25 350.9 2224.5)"/><ellipse cx="379.8" cy="2165" rx="2.1" ry="1.15" transform="rotate(-10 379.8 2165)"/><ellipse cx="301.8" cy="2172.4" rx="2.1" ry="1.15" transform="rotate(-25 301.8 2172.4)"/><ellipse cx="390.4" cy="2239.5" rx="2.1" ry="1.15" transform="rotate(-16 390.4 2239.5)"/><ellipse cx="362.7" cy="2256.9" rx="2.1" ry="1.15" transform="rotate(-5 362.7 2256.9)"/><ellipse cx="326.9" cy="2185.8" rx="2.1" ry="1.15" transform="rotate(-15 326.9 2185.8)"/><ellipse cx="388.2" cy="2232.4" rx="2.1" ry="1.15" transform="rotate(-11 388.2 2232.4)"/><ellipse cx="369.3" cy="2199.5" rx="2.1" ry="1.15" transform="rotate(-14 369.3 2199.5)"/><ellipse cx="370.1" cy="2178.1" rx="2.1" ry="1.15" transform="rotate(-6 370.1 2178.1)"/><ellipse cx="257.6" cy="2212.6" rx="2.1" ry="1.15" transform="rotate(-13 257.6 2212.6)"/></g><g fill="none" stroke="#8a8a8a" stroke-width="0.6"><circle cx="274.2" cy="2252" r="1.5"/><circle cx="314.2" cy="2176.6" r="1.5"/><circle cx="310.4" cy="2218.2" r="1.5"/><circle cx="312.8" cy="2158" r="1.5"/><circle cx="266.8" cy="2230.7" r="1.5"/><circle cx="272.2" cy="2183.8" r="1.5"/><circle cx="364.4" cy="2245.8" r="1.5"/><circle cx="374.5" cy="2175.6" r="1.5"/><circle cx="254.9" cy="2234.9" r="1.5"/><circle cx="336" cy="2195" r="1.5"/><circle cx="256.7" cy="2201.8" r="1.5"/><circle cx="286.6" cy="2217.8" r="1.5"/><circle cx="388.1" cy="2179.1" r="1.5"/><circle cx="264.4" cy="2228.8" r="1.5"/><circle cx="268.9" cy="2180.5" r="1.5"/><circle cx="314.1" cy="2258.6" r="1.5"/><circle cx="298.5" cy="2190" r="1.5"/><circle cx="319.1" cy="2174.3" r="1.5"/><circle cx="309.1" cy="2229.3" r="1.5"/><circle cx="298.4" cy="2239.2" r="1.5"/><circle cx="279.4" cy="2168.1" r="1.5"/><circle cx="339.8" cy="2204" r="1.5"/><circle cx="379.5" cy="2168.5" r="1.5"/><circle cx="356.1" cy="2226.2" r="1.5"/><circle cx="304.8" cy="2170.8" r="1.5"/><circle cx="337.7" cy="2235.3" r="1.5"/><circle cx="318.7" cy="2206" r="1.5"/><circle cx="347.8" cy="2220" r="1.5"/><circle cx="312" cy="2176.7" r="1.5"/><circle cx="317.5" cy="2213.9" r="1.5"/><circle cx="376.6" cy="2259.5" r="1.5"/><circle cx="330.2" cy="2191.3" r="1.5"/><circle cx="284.6" cy="2222.2" r="1.5"/><circle cx="355" cy="2183" r="1.5"/><circle cx="348.4" cy="2259.9" r="1.5"/><circle cx="307.6" cy="2253.7" r="1.5"/><circle cx="313.8" cy="2224.4" r="1.5"/><circle cx="372.5" cy="2178.5" r="1.5"/><circle cx="301.4" cy="2258.4" r="1.5"/><circle cx="263.1" cy="2189" r="1.5"/><circle cx="319.2" cy="2233.9" r="1.5"/><circle cx="340.3" cy="2252.8" r="1.5"/><circle cx="345.6" cy="2157.9" r="1.5"/><circle cx="263.9" cy="2161.4" r="1.5"/><circle cx="313.1" cy="2160.5" r="1.5"/><circle cx="326" cy="2222.4" r="1.5"/><circle cx="281.8" cy="2245.3" r="1.5"/><circle cx="310.7" cy="2255.9" r="1.5"/><circle cx="303" cy="2221.1" r="1.5"/><circle cx="328.2" cy="2184.6" r="1.5"/><circle cx="360.6" cy="2158.1" r="1.5"/><circle cx="288.3" cy="2190.5" r="1.5"/><circle cx="374.6" cy="2208.9" r="1.5"/><circle cx="259.2" cy="2188.3" r="1.5"/><circle cx="337.4" cy="2240.4" r="1.5"/><circle cx="269.1" cy="2237.4" r="1.5"/><circle cx="307.5" cy="2211.3" r="1.5"/><circle cx="311.7" cy="2202.5" r="1.5"/><circle cx="389.4" cy="2251.7" r="1.5"/><circle cx="379.5" cy="2233" r="1.5"/><circle cx="349.8" cy="2172.2" r="1.5"/><circle cx="259" cy="2242.7" r="1.5"/><circle cx="346.1" cy="2222.2" r="1.5"/><circle cx="296.9" cy="2185" r="1.5"/><circle cx="379.9" cy="2212.1" r="1.5"/><circle cx="256.9" cy="2192.5" r="1.5"/><circle cx="301.8" cy="2164.6" r="1.5"/><circle cx="387.7" cy="2250.1" r="1.5"/><circle cx="365.4" cy="2158.1" r="1.5"/><circle cx="311.2" cy="2169.1" r="1.5"/><circle cx="353.3" cy="2240.5" r="1.5"/><circle cx="361.9" cy="2238.7" r="1.5"/><circle cx="270.7" cy="2159.1" r="1.5"/><circle cx="266.9" cy="2243.9" r="1.5"/><circle cx="367.4" cy="2210.5" r="1.5"/><circle cx="286.2" cy="2245.4" r="1.5"/><circle cx="270.6" cy="2190.9" r="1.5"/><circle cx="254.5" cy="2258.2" r="1.5"/><circle cx="310.8" cy="2236.6" r="1.5"/><circle cx="363.6" cy="2217.1" r="1.5"/><circle cx="388.9" cy="2236.9" r="1.5"/><circle cx="380.7" cy="2256.3" r="1.5"/><circle cx="265.4" cy="2234.5" r="1.5"/><circle cx="285.1" cy="2190.9" r="1.5"/><circle cx="300.8" cy="2258.8" r="1.5"/><circle cx="262.4" cy="2202.2" r="1.5"/><circle cx="271.7" cy="2259.7" r="1.5"/><circle cx="321.9" cy="2229.5" r="1.5"/><circle cx="325.2" cy="2236.2" r="1.5"/><circle cx="300.1" cy="2200" r="1.5"/><circle cx="355.8" cy="2229.6" r="1.5"/><circle cx="375.4" cy="2189.3" r="1.5"/><circle cx="370" cy="2233.1" r="1.5"/><circle cx="332.4" cy="2199.5" r="1.5"/><circle cx="331.6" cy="2165.6" r="1.5"/><circle cx="267.5" cy="2189.5" r="1.5"/><circle cx="271" cy="2162.7" r="1.5"/><circle cx="352" cy="2232.5" r="1.5"/><circle cx="338.3" cy="2178.8" r="1.5"/><circle cx="352.8" cy="2242.2" r="1.5"/><circle cx="338.7" cy="2181" r="1.5"/><circle cx="331.3" cy="2198.1" r="1.5"/><circle cx="290.9" cy="2172.9" r="1.5"/><circle cx="372.2" cy="2222.4" r="1.5"/><circle cx="381.5" cy="2175.3" r="1.5"/><circle cx="290.3" cy="2209.8" r="1.5"/><circle cx="262.3" cy="2188.6" r="1.5"/><circle cx="327.9" cy="2207" r="1.5"/><circle cx="378.4" cy="2216.8" r="1.5"/><circle cx="341.2" cy="2217.6" r="1.5"/><circle cx="361.4" cy="2195.2" r="1.5"/><circle cx="254.3" cy="2258" r="1.5"/><circle cx="362.4" cy="2170.7" r="1.5"/><circle cx="269.5" cy="2180.4" r="1.5"/><circle cx="344" cy="2171.1" r="1.5"/><circle cx="256.9" cy="2208.3" r="1.5"/><circle cx="255" cy="2184.2" r="1.5"/><circle cx="306.4" cy="2178.7" r="1.5"/><circle cx="254.5" cy="2184.3" r="1.5"/><circle cx="287.5" cy="2190.9" r="1.5"/><circle cx="310.8" cy="2194.5" r="1.5"/><circle cx="298.4" cy="2159.7" r="1.5"/><circle cx="368.5" cy="2233.2" r="1.5"/><circle cx="321.5" cy="2158" r="1.5"/><circle cx="286" cy="2249.8" r="1.5"/><circle cx="316.6" cy="2178.7" r="1.5"/></g></g>
<rect x="378.2" y="2256.8" width="12" height="3" fill="#000" stroke="none" stroke-width="0"/>
<g clip-path="url(#gc27)"><rect x="447.1" y="2157.7" width="136.3" height="102.3" fill="#cfd1cd"/><g filter="url(#soft)"><ellipse cx="563.9" cy="2253" rx="3.6" ry="2" transform="rotate(57 563.9 2253)" fill="#6a50d0" fill-opacity="0.65"/><ellipse cx="554.6" cy="2245.6" rx="2.3" ry="1.2" transform="rotate(151 554.6 2245.6)" fill="#8a74e0" fill-opacity="0.43"/><ellipse cx="559.3" cy="2245.8" rx="3" ry="1.8" transform="rotate(155 559.3 2245.8)" fill="#5a3cc8" fill-opacity="0.51"/><ellipse cx="560.8" cy="2253.7" rx="2.4" ry="1.6" transform="rotate(46 560.8 2253.7)" fill="#5a3cc8" fill-opacity="0.44"/><ellipse cx="558.9" cy="2179.6" rx="3.8" ry="3" transform="rotate(94 558.9 2179.6)" fill="#6a50d0" fill-opacity="0.60"/><ellipse cx="559.6" cy="2175.6" rx="2.6" ry="1.7" transform="rotate(84 559.6 2175.6)" fill="#8a74e0" fill-opacity="0.66"/><ellipse cx="559.3" cy="2178.4" rx="3.7" ry="2.7" transform="rotate(5 559.3 2178.4)" fill="#7a62d8" fill-opacity="0.63"/><ellipse cx="565.4" cy="2174.4" rx="2.4" ry="1.6" transform="rotate(168 565.4 2174.4)" fill="#5a3cc8" fill-opacity="0.61"/><ellipse cx="488.5" cy="2257.7" rx="3.5" ry="3.1" transform="rotate(178 488.5 2257.7)" fill="#7a62d8" fill-opacity="0.79"/><ellipse cx="493.7" cy="2251" rx="3.6" ry="2.5" transform="rotate(42 493.7 2251)" fill="#5a3cc8" fill-opacity="0.49"/><ellipse cx="491.7" cy="2248.9" rx="3.2" ry="2.6" transform="rotate(130 491.7 2248.9)" fill="#5a3cc8" fill-opacity="0.72"/><ellipse cx="492.7" cy="2261.9" rx="3.4" ry="3.1" transform="rotate(80 492.7 2261.9)" fill="#8a74e0" fill-opacity="0.60"/><ellipse cx="538.7" cy="2170.8" rx="3.4" ry="1.8" transform="rotate(159 538.7 2170.8)" fill="#5a3cc8" fill-opacity="0.58"/><ellipse cx="532.1" cy="2179.3" rx="3.5" ry="2.4" transform="rotate(24 532.1 2179.3)" fill="#7a62d8" fill-opacity="0.65"/><ellipse cx="541.1" cy="2176.9" rx="2.5" ry="2.1" transform="rotate(58 541.1 2176.9)" fill="#5a3cc8" fill-opacity="0.60"/><ellipse cx="536.4" cy="2174" rx="2.4" ry="1.4" transform="rotate(66 536.4 2174)" fill="#5a3cc8" fill-opacity="0.53"/><ellipse cx="458.6" cy="2212.4" rx="2.2" ry="1.7" transform="rotate(150 458.6 2212.4)" fill="#6a50d0" fill-opacity="0.53"/><ellipse cx="479.6" cy="2218.2" rx="3.5" ry="2.7" transform="rotate(12 479.6 2218.2)" fill="#8a74e0" fill-opacity="0.55"/><ellipse cx="461.9" cy="2212.2" rx="4.5" ry="3" transform="rotate(50 461.9 2212.2)" fill="#6a50d0" fill-opacity="0.49"/><ellipse cx="464" cy="2221.1" rx="4.7" ry="2.6" transform="rotate(38 464 2221.1)" fill="#7a62d8" fill-opacity="0.80"/><ellipse cx="515.9" cy="2230.2" rx="4.1" ry="2.3" transform="rotate(89 515.9 2230.2)" fill="#6a50d0" fill-opacity="0.59"/><ellipse cx="521.3" cy="2224.7" rx="2.8" ry="1.6" transform="rotate(89 521.3 2224.7)" fill="#7a62d8" fill-opacity="0.73"/><ellipse cx="514.7" cy="2225.1" rx="3.4" ry="2.6" transform="rotate(40 514.7 2225.1)" fill="#8a74e0" fill-opacity="0.59"/><ellipse cx="519.7" cy="2230.7" rx="4.5" ry="3.7" transform="rotate(92 519.7 2230.7)" fill="#8a74e0" fill-opacity="0.74"/><ellipse cx="588.7" cy="2221.7" rx="2.5" ry="1.5" transform="rotate(25 588.7 2221.7)" fill="#5a3cc8" fill-opacity="0.45"/><ellipse cx="581.2" cy="2218.7" rx="4.2" ry="2.7" transform="rotate(51 581.2 2218.7)" fill="#7a62d8" fill-opacity="0.77"/><ellipse cx="579.4" cy="2218.3" rx="3.1" ry="2.2" transform="rotate(46 579.4 2218.3)" fill="#7a62d8" fill-opacity="0.46"/><ellipse cx="561.4" cy="2218" rx="4.5" ry="3.1" transform="rotate(19 561.4 2218)" fill="#5a3cc8" fill-opacity="0.53"/><ellipse cx="507.3" cy="2186.5" rx="3.2" ry="2.7" transform="rotate(87 507.3 2186.5)" fill="#7a62d8" fill-opacity="0.70"/><ellipse cx="486.6" cy="2181.5" rx="2.7" ry="2.4" transform="rotate(41 486.6 2181.5)" fill="#7a62d8" fill-opacity="0.53"/><ellipse cx="492.8" cy="2169.2" rx="4.7" ry="3.4" transform="rotate(18 492.8 2169.2)" fill="#7a62d8" fill-opacity="0.73"/><ellipse cx="503.8" cy="2180.5" rx="3.4" ry="2.8" transform="rotate(151 503.8 2180.5)" fill="#7a62d8" fill-opacity="0.73"/><ellipse cx="542.9" cy="2171" rx="2.8" ry="2.2" transform="rotate(174 542.9 2171)" fill="#8a74e0" fill-opacity="0.75"/><ellipse cx="548.9" cy="2176.3" rx="4.1" ry="2.9" transform="rotate(179 548.9 2176.3)" fill="#5a3cc8" fill-opacity="0.45"/><ellipse cx="542" cy="2172.6" rx="3.7" ry="2.9" transform="rotate(154 542 2172.6)" fill="#7a62d8" fill-opacity="0.78"/><ellipse cx="544.6" cy="2171.5" rx="3.6" ry="2.1" transform="rotate(165 544.6 2171.5)" fill="#7a62d8" fill-opacity="0.72"/><ellipse cx="568.8" cy="2214.9" rx="3.7" ry="2.9" transform="rotate(139 568.8 2214.9)" fill="#7a62d8" fill-opacity="0.45"/><ellipse cx="570.8" cy="2222.4" rx="2.3" ry="1.3" transform="rotate(45 570.8 2222.4)" fill="#5a3cc8" fill-opacity="0.62"/><ellipse cx="559.7" cy="2225.3" rx="3.6" ry="2.2" transform="rotate(102 559.7 2225.3)" fill="#7a62d8" fill-opacity="0.55"/><ellipse cx="562.1" cy="2217.8" rx="4.7" ry="3.7" transform="rotate(33 562.1 2217.8)" fill="#8a74e0" fill-opacity="0.63"/><ellipse cx="452" cy="2170.2" rx="3.5" ry="2.5" transform="rotate(156 452 2170.2)" fill="#7a62d8" fill-opacity="0.52"/><ellipse cx="448.5" cy="2179.1" rx="3.5" ry="2.1" transform="rotate(138 448.5 2179.1)" fill="#5a3cc8" fill-opacity="0.50"/><ellipse cx="447.3" cy="2175.5" rx="2.9" ry="2.3" transform="rotate(67 447.3 2175.5)" fill="#8a74e0" fill-opacity="0.43"/><ellipse cx="447.9" cy="2172.3" rx="4.4" ry="3.5" transform="rotate(61 447.9 2172.3)" fill="#5a3cc8" fill-opacity="0.51"/><ellipse cx="488.1" cy="2198.5" rx="3.3" ry="2.8" transform="rotate(21 488.1 2198.5)" fill="#8a74e0" fill-opacity="0.74"/><ellipse cx="484.9" cy="2203.2" rx="3.4" ry="2.4" transform="rotate(126 484.9 2203.2)" fill="#5a3cc8" fill-opacity="0.59"/><ellipse cx="482.9" cy="2195.9" rx="3.3" ry="3.1" transform="rotate(88 482.9 2195.9)" fill="#7a62d8" fill-opacity="0.53"/><ellipse cx="490.2" cy="2195.8" rx="2.1" ry="1.6" transform="rotate(64 490.2 2195.8)" fill="#6a50d0" fill-opacity="0.70"/><ellipse cx="456.5" cy="2154.4" rx="3.8" ry="2.8" transform="rotate(6 456.5 2154.4)" fill="#5a3cc8" fill-opacity="0.61"/><ellipse cx="462.4" cy="2161.2" rx="3" ry="2.4" transform="rotate(16 462.4 2161.2)" fill="#6a50d0" fill-opacity="0.48"/><ellipse cx="471.3" cy="2144.6" rx="4.5" ry="4.2" transform="rotate(175 471.3 2144.6)" fill="#8a74e0" fill-opacity="0.59"/><ellipse cx="461" cy="2156.6" rx="2.5" ry="2.2" transform="rotate(127 461 2156.6)" fill="#7a62d8" fill-opacity="0.45"/><ellipse cx="575.7" cy="2239" rx="4.6" ry="3.6" transform="rotate(59 575.7 2239)" fill="#8a74e0" fill-opacity="0.77"/><ellipse cx="582.3" cy="2239.6" rx="4.5" ry="3.9" transform="rotate(39 582.3 2239.6)" fill="#6a50d0" fill-opacity="0.71"/><ellipse cx="585.4" cy="2248.9" rx="3.5" ry="3.3" transform="rotate(89 585.4 2248.9)" fill="#7a62d8" fill-opacity="0.53"/><ellipse cx="583.4" cy="2239.4" rx="4.3" ry="3.6" transform="rotate(26 583.4 2239.4)" fill="#8a74e0" fill-opacity="0.50"/></g><g fill="#222222" fill-opacity="0.88"><ellipse cx="487.9" cy="2180.4" rx="2.1" ry="1.15" transform="rotate(-10 487.9 2180.4)"/><ellipse cx="572.3" cy="2189.1" rx="2.1" ry="1.15" transform="rotate(-11 572.3 2189.1)"/><ellipse cx="468.9" cy="2188" rx="2.1" ry="1.15" transform="rotate(-15 468.9 2188)"/><ellipse cx="498.7" cy="2235.7" rx="2.1" ry="1.15" transform="rotate(-13 498.7 2235.7)"/><ellipse cx="455.2" cy="2247.2" rx="2.1" ry="1.15" transform="rotate(-9 455.2 2247.2)"/><ellipse cx="461.6" cy="2167.4" rx="2.1" ry="1.15" transform="rotate(-20 461.6 2167.4)"/><ellipse cx="583.1" cy="2190.5" rx="2.1" ry="1.15" transform="rotate(-0 583.1 2190.5)"/><ellipse cx="576.6" cy="2201.5" rx="2.1" ry="1.15" transform="rotate(-5 576.6 2201.5)"/><ellipse cx="475.5" cy="2217.4" rx="2.1" ry="1.15" transform="rotate(-22 475.5 2217.4)"/><ellipse cx="511.3" cy="2225.5" rx="2.1" ry="1.15" transform="rotate(-17 511.3 2225.5)"/><ellipse cx="462.7" cy="2241.4" rx="2.1" ry="1.15" transform="rotate(-4 462.7 2241.4)"/><ellipse cx="510.5" cy="2170.8" rx="2.1" ry="1.15" transform="rotate(-1 510.5 2170.8)"/><ellipse cx="536.5" cy="2226.8" rx="2.1" ry="1.15" transform="rotate(-15 536.5 2226.8)"/><ellipse cx="482.1" cy="2209.8" rx="2.1" ry="1.15" transform="rotate(-22 482.1 2209.8)"/><ellipse cx="497.5" cy="2207.7" rx="2.1" ry="1.15" transform="rotate(-18 497.5 2207.7)"/><ellipse cx="506.9" cy="2169.3" rx="2.1" ry="1.15" transform="rotate(-20 506.9 2169.3)"/><ellipse cx="581.3" cy="2224.6" rx="2.1" ry="1.15" transform="rotate(-17 581.3 2224.6)"/><ellipse cx="557.8" cy="2243" rx="2.1" ry="1.15" transform="rotate(-4 557.8 2243)"/><ellipse cx="477.5" cy="2158.9" rx="2.1" ry="1.15" transform="rotate(-15 477.5 2158.9)"/><ellipse cx="522.7" cy="2235.8" rx="2.1" ry="1.15" transform="rotate(-10 522.7 2235.8)"/><ellipse cx="483.4" cy="2202.2" rx="2.1" ry="1.15" transform="rotate(-12 483.4 2202.2)"/><ellipse cx="508.3" cy="2163.1" rx="2.1" ry="1.15" transform="rotate(-22 508.3 2163.1)"/><ellipse cx="467" cy="2164" rx="2.1" ry="1.15" transform="rotate(-8 467 2164)"/><ellipse cx="561.7" cy="2239.8" rx="2.1" ry="1.15" transform="rotate(-23 561.7 2239.8)"/><ellipse cx="450.2" cy="2221.6" rx="2.1" ry="1.15" transform="rotate(-7 450.2 2221.6)"/><ellipse cx="493.4" cy="2219.5" rx="2.1" ry="1.15" transform="rotate(-19 493.4 2219.5)"/><ellipse cx="460.6" cy="2187.4" rx="2.1" ry="1.15" transform="rotate(-11 460.6 2187.4)"/><ellipse cx="463.7" cy="2205.1" rx="2.1" ry="1.15" transform="rotate(-18 463.7 2205.1)"/><ellipse cx="577.2" cy="2245.1" rx="2.1" ry="1.15" transform="rotate(-3 577.2 2245.1)"/><ellipse cx="545.2" cy="2219.2" rx="2.1" ry="1.15" transform="rotate(-18 545.2 2219.2)"/><ellipse cx="540" cy="2228.5" rx="2.1" ry="1.15" transform="rotate(-19 540 2228.5)"/><ellipse cx="581.6" cy="2189.5" rx="2.1" ry="1.15" transform="rotate(-15 581.6 2189.5)"/><ellipse cx="554.4" cy="2195" rx="2.1" ry="1.15" transform="rotate(-11 554.4 2195)"/><ellipse cx="475.9" cy="2238.2" rx="2.1" ry="1.15" transform="rotate(-11 475.9 2238.2)"/><ellipse cx="546.4" cy="2217.2" rx="2.1" ry="1.15" transform="rotate(-12 546.4 2217.2)"/><ellipse cx="472.8" cy="2231.4" rx="2.1" ry="1.15" transform="rotate(-12 472.8 2231.4)"/><ellipse cx="583" cy="2159.1" rx="2.1" ry="1.15" transform="rotate(-10 583 2159.1)"/><ellipse cx="475.4" cy="2190.3" rx="2.1" ry="1.15" transform="rotate(-12 475.4 2190.3)"/><ellipse cx="517.8" cy="2171.1" rx="2.1" ry="1.15" transform="rotate(-3 517.8 2171.1)"/><ellipse cx="497.5" cy="2252.6" rx="2.1" ry="1.15" transform="rotate(-21 497.5 2252.6)"/><ellipse cx="495.3" cy="2176.9" rx="2.1" ry="1.15" transform="rotate(-13 495.3 2176.9)"/><ellipse cx="566" cy="2256.8" rx="2.1" ry="1.15" transform="rotate(-5 566 2256.8)"/><ellipse cx="523.1" cy="2246.4" rx="2.1" ry="1.15" transform="rotate(-22 523.1 2246.4)"/><ellipse cx="512.7" cy="2233.7" rx="2.1" ry="1.15" transform="rotate(-19 512.7 2233.7)"/><ellipse cx="512.7" cy="2212.8" rx="2.1" ry="1.15" transform="rotate(-23 512.7 2212.8)"/><ellipse cx="510.2" cy="2232.2" rx="2.1" ry="1.15" transform="rotate(-10 510.2 2232.2)"/><ellipse cx="471" cy="2259.2" rx="2.1" ry="1.15" transform="rotate(-15 471 2259.2)"/><ellipse cx="456.5" cy="2179.2" rx="2.1" ry="1.15" transform="rotate(-3 456.5 2179.2)"/><ellipse cx="521.7" cy="2241.5" rx="2.1" ry="1.15" transform="rotate(-11 521.7 2241.5)"/><ellipse cx="536.2" cy="2228.3" rx="2.1" ry="1.15" transform="rotate(-0 536.2 2228.3)"/><ellipse cx="475.2" cy="2211.9" rx="2.1" ry="1.15" transform="rotate(-22 475.2 2211.9)"/><ellipse cx="502.5" cy="2162.1" rx="2.1" ry="1.15" transform="rotate(-14 502.5 2162.1)"/><ellipse cx="570.5" cy="2245.4" rx="2.1" ry="1.15" transform="rotate(-7 570.5 2245.4)"/><ellipse cx="580.3" cy="2214" rx="2.1" ry="1.15" transform="rotate(-3 580.3 2214)"/><ellipse cx="515.6" cy="2168.8" rx="2.1" ry="1.15" transform="rotate(-13 515.6 2168.8)"/><ellipse cx="544.2" cy="2191.1" rx="2.1" ry="1.15" transform="rotate(-5 544.2 2191.1)"/><ellipse cx="563.4" cy="2164" rx="2.1" ry="1.15" transform="rotate(-12 563.4 2164)"/><ellipse cx="543" cy="2237.6" rx="2.1" ry="1.15" transform="rotate(-2 543 2237.6)"/><ellipse cx="473.5" cy="2193.2" rx="2.1" ry="1.15" transform="rotate(-16 473.5 2193.2)"/><ellipse cx="559.8" cy="2176.3" rx="2.1" ry="1.15" transform="rotate(-1 559.8 2176.3)"/><ellipse cx="572.3" cy="2179.7" rx="2.1" ry="1.15" transform="rotate(-11 572.3 2179.7)"/><ellipse cx="463.5" cy="2249.3" rx="2.1" ry="1.15" transform="rotate(-12 463.5 2249.3)"/><ellipse cx="533.7" cy="2191.5" rx="2.1" ry="1.15" transform="rotate(-19 533.7 2191.5)"/><ellipse cx="526.7" cy="2193.9" rx="2.1" ry="1.15" transform="rotate(-9 526.7 2193.9)"/><ellipse cx="579.9" cy="2200.9" rx="2.1" ry="1.15" transform="rotate(-17 579.9 2200.9)"/><ellipse cx="512.8" cy="2193.4" rx="2.1" ry="1.15" transform="rotate(-9 512.8 2193.4)"/><ellipse cx="567.9" cy="2234.8" rx="2.1" ry="1.15" transform="rotate(-18 567.9 2234.8)"/><ellipse cx="561.8" cy="2239.5" rx="2.1" ry="1.15" transform="rotate(-4 561.8 2239.5)"/><ellipse cx="510.2" cy="2229.4" rx="2.1" ry="1.15" transform="rotate(-6 510.2 2229.4)"/><ellipse cx="550.1" cy="2166.3" rx="2.1" ry="1.15" transform="rotate(-22 550.1 2166.3)"/><ellipse cx="514.3" cy="2246.4" rx="2.1" ry="1.15" transform="rotate(-6 514.3 2246.4)"/><ellipse cx="521.2" cy="2233.4" rx="2.1" ry="1.15" transform="rotate(-4 521.2 2233.4)"/><ellipse cx="511.9" cy="2253.2" rx="2.1" ry="1.15" transform="rotate(-21 511.9 2253.2)"/><ellipse cx="457.2" cy="2198.6" rx="2.1" ry="1.15" transform="rotate(-22 457.2 2198.6)"/><ellipse cx="570.4" cy="2189.5" rx="2.1" ry="1.15" transform="rotate(-0 570.4 2189.5)"/><ellipse cx="582.1" cy="2159.8" rx="2.1" ry="1.15" transform="rotate(-3 582.1 2159.8)"/><ellipse cx="455.9" cy="2248.1" rx="2.1" ry="1.15" transform="rotate(-18 455.9 2248.1)"/><ellipse cx="498.2" cy="2256.7" rx="2.1" ry="1.15" transform="rotate(-13 498.2 2256.7)"/><ellipse cx="469.8" cy="2202" rx="2.1" ry="1.15" transform="rotate(-3 469.8 2202)"/><ellipse cx="473.3" cy="2196" rx="2.1" ry="1.15" transform="rotate(-17 473.3 2196)"/><ellipse cx="483.8" cy="2189.8" rx="2.1" ry="1.15" transform="rotate(-21 483.8 2189.8)"/><ellipse cx="526.3" cy="2226" rx="2.1" ry="1.15" transform="rotate(-12 526.3 2226)"/><ellipse cx="474.7" cy="2186.5" rx="2.1" ry="1.15" transform="rotate(-14 474.7 2186.5)"/><ellipse cx="526.4" cy="2236.2" rx="2.1" ry="1.15" transform="rotate(-4 526.4 2236.2)"/><ellipse cx="535.9" cy="2162" rx="2.1" ry="1.15" transform="rotate(-22 535.9 2162)"/><ellipse cx="560.7" cy="2173.7" rx="2.1" ry="1.15" transform="rotate(-6 560.7 2173.7)"/><ellipse cx="454.8" cy="2173.7" rx="2.1" ry="1.15" transform="rotate(-2 454.8 2173.7)"/><ellipse cx="550.5" cy="2224.4" rx="2.1" ry="1.15" transform="rotate(-15 550.5 2224.4)"/><ellipse cx="517" cy="2177.5" rx="2.1" ry="1.15" transform="rotate(-23 517 2177.5)"/><ellipse cx="476.7" cy="2171.9" rx="2.1" ry="1.15" transform="rotate(-12 476.7 2171.9)"/><ellipse cx="580.7" cy="2213.2" rx="2.1" ry="1.15" transform="rotate(-15 580.7 2213.2)"/><ellipse cx="517.2" cy="2190.4" rx="2.1" ry="1.15" transform="rotate(-0 517.2 2190.4)"/><ellipse cx="543" cy="2161.5" rx="2.1" ry="1.15" transform="rotate(-7 543 2161.5)"/><ellipse cx="522.2" cy="2197.2" rx="2.1" ry="1.15" transform="rotate(-7 522.2 2197.2)"/><ellipse cx="566.5" cy="2162.3" rx="2.1" ry="1.15" transform="rotate(-1 566.5 2162.3)"/><ellipse cx="552.4" cy="2225" rx="2.1" ry="1.15" transform="rotate(-6 552.4 2225)"/><ellipse cx="573.9" cy="2163.2" rx="2.1" ry="1.15" transform="rotate(-8 573.9 2163.2)"/><ellipse cx="520.7" cy="2171.4" rx="2.1" ry="1.15" transform="rotate(-3 520.7 2171.4)"/><ellipse cx="581.9" cy="2209.4" rx="2.1" ry="1.15" transform="rotate(-15 581.9 2209.4)"/><ellipse cx="560.7" cy="2180.5" rx="2.1" ry="1.15" transform="rotate(-1 560.7 2180.5)"/><ellipse cx="462.4" cy="2215" rx="2.1" ry="1.15" transform="rotate(-14 462.4 2215)"/><ellipse cx="471.2" cy="2199.6" rx="2.1" ry="1.15" transform="rotate(-5 471.2 2199.6)"/><ellipse cx="565.6" cy="2258.2" rx="2.1" ry="1.15" transform="rotate(-19 565.6 2258.2)"/><ellipse cx="576.1" cy="2166.2" rx="2.1" ry="1.15" transform="rotate(-21 576.1 2166.2)"/><ellipse cx="555.2" cy="2217.7" rx="2.1" ry="1.15" transform="rotate(-13 555.2 2217.7)"/><ellipse cx="452.9" cy="2204.3" rx="2.1" ry="1.15" transform="rotate(-15 452.9 2204.3)"/><ellipse cx="512.7" cy="2166.2" rx="2.1" ry="1.15" transform="rotate(-14 512.7 2166.2)"/><ellipse cx="525.5" cy="2205.6" rx="2.1" ry="1.15" transform="rotate(-23 525.5 2205.6)"/><ellipse cx="497.4" cy="2208.9" rx="2.1" ry="1.15" transform="rotate(-10 497.4 2208.9)"/><ellipse cx="522.8" cy="2182.1" rx="2.1" ry="1.15" transform="rotate(-12 522.8 2182.1)"/><ellipse cx="455.6" cy="2169.7" rx="2.1" ry="1.15" transform="rotate(-20 455.6 2169.7)"/><ellipse cx="519.5" cy="2159.3" rx="2.1" ry="1.15" transform="rotate(-12 519.5 2159.3)"/><ellipse cx="531.9" cy="2217.4" rx="2.1" ry="1.15" transform="rotate(-2 531.9 2217.4)"/><ellipse cx="486.8" cy="2201.9" rx="2.1" ry="1.15" transform="rotate(-4 486.8 2201.9)"/><ellipse cx="531.8" cy="2179.8" rx="2.1" ry="1.15" transform="rotate(-1 531.8 2179.8)"/><ellipse cx="479.9" cy="2219.6" rx="2.1" ry="1.15" transform="rotate(-11 479.9 2219.6)"/><ellipse cx="464.5" cy="2161.5" rx="2.1" ry="1.15" transform="rotate(-10 464.5 2161.5)"/><ellipse cx="459.7" cy="2196" rx="2.1" ry="1.15" transform="rotate(-6 459.7 2196)"/><ellipse cx="573.3" cy="2238.5" rx="2.1" ry="1.15" transform="rotate(-23 573.3 2238.5)"/><ellipse cx="496.2" cy="2232.8" rx="2.1" ry="1.15" transform="rotate(-21 496.2 2232.8)"/><ellipse cx="503.9" cy="2176.8" rx="2.1" ry="1.15" transform="rotate(-20 503.9 2176.8)"/><ellipse cx="544.1" cy="2237.4" rx="2.1" ry="1.15" transform="rotate(-13 544.1 2237.4)"/><ellipse cx="532.6" cy="2167.3" rx="2.1" ry="1.15" transform="rotate(-12 532.6 2167.3)"/><ellipse cx="497.9" cy="2220.1" rx="2.1" ry="1.15" transform="rotate(-11 497.9 2220.1)"/><ellipse cx="549.9" cy="2228.6" rx="2.1" ry="1.15" transform="rotate(-10 549.9 2228.6)"/><ellipse cx="496.5" cy="2205.5" rx="2.1" ry="1.15" transform="rotate(-19 496.5 2205.5)"/><ellipse cx="466.8" cy="2205.7" rx="2.1" ry="1.15" transform="rotate(-19 466.8 2205.7)"/><ellipse cx="530.3" cy="2257.9" rx="2.1" ry="1.15" transform="rotate(-18 530.3 2257.9)"/><ellipse cx="503.7" cy="2242.5" rx="2.1" ry="1.15" transform="rotate(-12 503.7 2242.5)"/><ellipse cx="449" cy="2198.5" rx="2.1" ry="1.15" transform="rotate(-3 449 2198.5)"/><ellipse cx="506.4" cy="2205.8" rx="2.1" ry="1.15" transform="rotate(-3 506.4 2205.8)"/><ellipse cx="549.2" cy="2236.6" rx="2.1" ry="1.15" transform="rotate(-19 549.2 2236.6)"/><ellipse cx="494.6" cy="2238.2" rx="2.1" ry="1.15" transform="rotate(-17 494.6 2238.2)"/><ellipse cx="469.7" cy="2252.9" rx="2.1" ry="1.15" transform="rotate(-22 469.7 2252.9)"/><ellipse cx="495.6" cy="2252.4" rx="2.1" ry="1.15" transform="rotate(-22 495.6 2252.4)"/><ellipse cx="466.7" cy="2225.8" rx="2.1" ry="1.15" transform="rotate(-2 466.7 2225.8)"/><ellipse cx="491.3" cy="2225.6" rx="2.1" ry="1.15" transform="rotate(-19 491.3 2225.6)"/><ellipse cx="583.2" cy="2214.9" rx="2.1" ry="1.15" transform="rotate(-4 583.2 2214.9)"/><ellipse cx="462.2" cy="2225.3" rx="2.1" ry="1.15" transform="rotate(-24 462.2 2225.3)"/><ellipse cx="528.7" cy="2240" rx="2.1" ry="1.15" transform="rotate(-13 528.7 2240)"/><ellipse cx="522.1" cy="2248.9" rx="2.1" ry="1.15" transform="rotate(-20 522.1 2248.9)"/><ellipse cx="553.1" cy="2211.8" rx="2.1" ry="1.15" transform="rotate(-14 553.1 2211.8)"/><ellipse cx="458.7" cy="2233.8" rx="2.1" ry="1.15" transform="rotate(-20 458.7 2233.8)"/><ellipse cx="519.3" cy="2161.6" rx="2.1" ry="1.15" transform="rotate(-1 519.3 2161.6)"/><ellipse cx="551.3" cy="2210" rx="2.1" ry="1.15" transform="rotate(-2 551.3 2210)"/><ellipse cx="450" cy="2211.7" rx="2.1" ry="1.15" transform="rotate(-22 450 2211.7)"/><ellipse cx="557.1" cy="2184.7" rx="2.1" ry="1.15" transform="rotate(-22 557.1 2184.7)"/><ellipse cx="543.6" cy="2173.2" rx="2.1" ry="1.15" transform="rotate(-13 543.6 2173.2)"/><ellipse cx="556.2" cy="2158.8" rx="2.1" ry="1.15" transform="rotate(-6 556.2 2158.8)"/><ellipse cx="545.6" cy="2222.6" rx="2.1" ry="1.15" transform="rotate(-2 545.6 2222.6)"/><ellipse cx="523.5" cy="2240.2" rx="2.1" ry="1.15" transform="rotate(-21 523.5 2240.2)"/><ellipse cx="457.1" cy="2229" rx="2.1" ry="1.15" transform="rotate(-23 457.1 2229)"/><ellipse cx="473.5" cy="2184.7" rx="2.1" ry="1.15" transform="rotate(-7 473.5 2184.7)"/><ellipse cx="476.1" cy="2189.8" rx="2.1" ry="1.15" transform="rotate(-12 476.1 2189.8)"/><ellipse cx="464.8" cy="2203.1" rx="2.1" ry="1.15" transform="rotate(-21 464.8 2203.1)"/><ellipse cx="553.4" cy="2210" rx="2.1" ry="1.15" transform="rotate(-22 553.4 2210)"/><ellipse cx="514.5" cy="2164.3" rx="2.1" ry="1.15" transform="rotate(-18 514.5 2164.3)"/><ellipse cx="537.9" cy="2173.8" rx="2.1" ry="1.15" transform="rotate(-19 537.9 2173.8)"/><ellipse cx="463.9" cy="2231.5" rx="2.1" ry="1.15" transform="rotate(-16 463.9 2231.5)"/><ellipse cx="450.4" cy="2164.6" rx="2.1" ry="1.15" transform="rotate(-15 450.4 2164.6)"/><ellipse cx="574.7" cy="2194.7" rx="2.1" ry="1.15" transform="rotate(-15 574.7 2194.7)"/><ellipse cx="486.1" cy="2193.7" rx="2.1" ry="1.15" transform="rotate(-0 486.1 2193.7)"/><ellipse cx="573" cy="2253.9" rx="2.1" ry="1.15" transform="rotate(-10 573 2253.9)"/><ellipse cx="577.4" cy="2184.5" rx="2.1" ry="1.15" transform="rotate(-19 577.4 2184.5)"/><ellipse cx="558.2" cy="2242.6" rx="2.1" ry="1.15" transform="rotate(-20 558.2 2242.6)"/><ellipse cx="558.2" cy="2185" rx="2.1" ry="1.15" transform="rotate(-22 558.2 2185)"/><ellipse cx="448" cy="2210.3" rx="2.1" ry="1.15" transform="rotate(-11 448 2210.3)"/><ellipse cx="552.6" cy="2259.5" rx="2.1" ry="1.15" transform="rotate(-20 552.6 2259.5)"/><ellipse cx="571.2" cy="2229.3" rx="2.1" ry="1.15" transform="rotate(-12 571.2 2229.3)"/><ellipse cx="469.1" cy="2205.4" rx="2.1" ry="1.15" transform="rotate(-9 469.1 2205.4)"/><ellipse cx="549" cy="2158.1" rx="2.1" ry="1.15" transform="rotate(-1 549 2158.1)"/><ellipse cx="483.4" cy="2234.8" rx="2.1" ry="1.15" transform="rotate(-1 483.4 2234.8)"/><ellipse cx="546.6" cy="2243.4" rx="2.1" ry="1.15" transform="rotate(-7 546.6 2243.4)"/><ellipse cx="578.1" cy="2205.8" rx="2.1" ry="1.15" transform="rotate(-6 578.1 2205.8)"/><ellipse cx="516.4" cy="2214.6" rx="2.1" ry="1.15" transform="rotate(-13 516.4 2214.6)"/><ellipse cx="470.3" cy="2208.6" rx="2.1" ry="1.15" transform="rotate(-21 470.3 2208.6)"/><ellipse cx="483.1" cy="2169.1" rx="2.1" ry="1.15" transform="rotate(-14 483.1 2169.1)"/><ellipse cx="450" cy="2240" rx="2.1" ry="1.15" transform="rotate(-18 450 2240)"/><ellipse cx="451.4" cy="2212.9" rx="2.1" ry="1.15" transform="rotate(-19 451.4 2212.9)"/><ellipse cx="500.9" cy="2254.4" rx="2.1" ry="1.15" transform="rotate(-2 500.9 2254.4)"/><ellipse cx="578.2" cy="2190.8" rx="2.1" ry="1.15" transform="rotate(-20 578.2 2190.8)"/><ellipse cx="518.8" cy="2256.7" rx="2.1" ry="1.15" transform="rotate(-9 518.8 2256.7)"/><ellipse cx="517.7" cy="2212.8" rx="2.1" ry="1.15" transform="rotate(-1 517.7 2212.8)"/><ellipse cx="514.6" cy="2173.9" rx="2.1" ry="1.15" transform="rotate(-16 514.6 2173.9)"/><ellipse cx="484.7" cy="2165.6" rx="2.1" ry="1.15" transform="rotate(-9 484.7 2165.6)"/><ellipse cx="471.7" cy="2210.7" rx="2.1" ry="1.15" transform="rotate(-2 471.7 2210.7)"/><ellipse cx="487.5" cy="2202.4" rx="2.1" ry="1.15" transform="rotate(-16 487.5 2202.4)"/><ellipse cx="455.4" cy="2186.9" rx="2.1" ry="1.15" transform="rotate(-13 455.4 2186.9)"/><ellipse cx="467.5" cy="2188.2" rx="2.1" ry="1.15" transform="rotate(-10 467.5 2188.2)"/><ellipse cx="503.2" cy="2170.8" rx="2.1" ry="1.15" transform="rotate(-12 503.2 2170.8)"/><ellipse cx="506.4" cy="2211.9" rx="2.1" ry="1.15" transform="rotate(-8 506.4 2211.9)"/><ellipse cx="581" cy="2193.1" rx="2.1" ry="1.15" transform="rotate(-24 581 2193.1)"/><ellipse cx="459" cy="2231.8" rx="2.1" ry="1.15" transform="rotate(-14 459 2231.8)"/><ellipse cx="457.7" cy="2240.4" rx="2.1" ry="1.15" transform="rotate(-11 457.7 2240.4)"/><ellipse cx="534.5" cy="2238.2" rx="2.1" ry="1.15" transform="rotate(-6 534.5 2238.2)"/><ellipse cx="544.1" cy="2243.1" rx="2.1" ry="1.15" transform="rotate(-2 544.1 2243.1)"/><ellipse cx="546.1" cy="2162" rx="2.1" ry="1.15" transform="rotate(-22 546.1 2162)"/><ellipse cx="480.4" cy="2245.3" rx="2.1" ry="1.15" transform="rotate(-19 480.4 2245.3)"/><ellipse cx="564.9" cy="2240" rx="2.1" ry="1.15" transform="rotate(-13 564.9 2240)"/><ellipse cx="471.3" cy="2167.1" rx="2.1" ry="1.15" transform="rotate(-2 471.3 2167.1)"/><ellipse cx="458" cy="2214.7" rx="2.1" ry="1.15" transform="rotate(-21 458 2214.7)"/><ellipse cx="538" cy="2184.9" rx="2.1" ry="1.15" transform="rotate(-6 538 2184.9)"/><ellipse cx="494" cy="2233.6" rx="2.1" ry="1.15" transform="rotate(-3 494 2233.6)"/><ellipse cx="549.6" cy="2216.6" rx="2.1" ry="1.15" transform="rotate(-23 549.6 2216.6)"/><ellipse cx="520.1" cy="2210" rx="2.1" ry="1.15" transform="rotate(-10 520.1 2210)"/><ellipse cx="487" cy="2259.9" rx="2.1" ry="1.15" transform="rotate(-8 487 2259.9)"/><ellipse cx="563.4" cy="2257.1" rx="2.1" ry="1.15" transform="rotate(-3 563.4 2257.1)"/><ellipse cx="550.6" cy="2170" rx="2.1" ry="1.15" transform="rotate(-8 550.6 2170)"/><ellipse cx="573.3" cy="2218" rx="2.1" ry="1.15" transform="rotate(-1 573.3 2218)"/><ellipse cx="563.6" cy="2187.2" rx="2.1" ry="1.15" transform="rotate(-15 563.6 2187.2)"/><ellipse cx="545.9" cy="2194.2" rx="2.1" ry="1.15" transform="rotate(-6 545.9 2194.2)"/><ellipse cx="461.5" cy="2247.7" rx="2.1" ry="1.15" transform="rotate(-10 461.5 2247.7)"/><ellipse cx="577.6" cy="2191.1" rx="2.1" ry="1.15" transform="rotate(-21 577.6 2191.1)"/><ellipse cx="557.7" cy="2227.7" rx="2.1" ry="1.15" transform="rotate(-13 557.7 2227.7)"/><ellipse cx="485.6" cy="2249.7" rx="2.1" ry="1.15" transform="rotate(-9 485.6 2249.7)"/><ellipse cx="520.6" cy="2160.5" rx="2.1" ry="1.15" transform="rotate(-18 520.6 2160.5)"/><ellipse cx="543.1" cy="2159.4" rx="2.1" ry="1.15" transform="rotate(-4 543.1 2159.4)"/><ellipse cx="520.1" cy="2190.4" rx="2.1" ry="1.15" transform="rotate(-17 520.1 2190.4)"/><ellipse cx="515.2" cy="2244" rx="2.1" ry="1.15" transform="rotate(-19 515.2 2244)"/><ellipse cx="581.7" cy="2219.1" rx="2.1" ry="1.15" transform="rotate(-4 581.7 2219.1)"/><ellipse cx="524" cy="2235.7" rx="2.1" ry="1.15" transform="rotate(-4 524 2235.7)"/><ellipse cx="516.4" cy="2252.1" rx="2.1" ry="1.15" transform="rotate(-21 516.4 2252.1)"/><ellipse cx="542.4" cy="2246.8" rx="2.1" ry="1.15" transform="rotate(-3 542.4 2246.8)"/><ellipse cx="528.3" cy="2218.8" rx="2.1" ry="1.15" transform="rotate(-12 528.3 2218.8)"/><ellipse cx="479.4" cy="2220.2" rx="2.1" ry="1.15" transform="rotate(-21 479.4 2220.2)"/><ellipse cx="501.8" cy="2206" rx="2.1" ry="1.15" transform="rotate(-21 501.8 2206)"/><ellipse cx="496.8" cy="2170.6" rx="2.1" ry="1.15" transform="rotate(-5 496.8 2170.6)"/><ellipse cx="542.9" cy="2217.5" rx="2.1" ry="1.15" transform="rotate(-14 542.9 2217.5)"/><ellipse cx="555.3" cy="2234.5" rx="2.1" ry="1.15" transform="rotate(-17 555.3 2234.5)"/><ellipse cx="513.2" cy="2198.6" rx="2.1" ry="1.15" transform="rotate(-1 513.2 2198.6)"/><ellipse cx="499.8" cy="2259" rx="2.1" ry="1.15" transform="rotate(-8 499.8 2259)"/><ellipse cx="558.6" cy="2175.3" rx="2.1" ry="1.15" transform="rotate(-16 558.6 2175.3)"/><ellipse cx="531.6" cy="2257.3" rx="2.1" ry="1.15" transform="rotate(-19 531.6 2257.3)"/><ellipse cx="528.3" cy="2233.6" rx="2.1" ry="1.15" transform="rotate(-11 528.3 2233.6)"/><ellipse cx="483.2" cy="2179.9" rx="2.1" ry="1.15" transform="rotate(-5 483.2 2179.9)"/><ellipse cx="509.5" cy="2197.7" rx="2.1" ry="1.15" transform="rotate(-8 509.5 2197.7)"/><ellipse cx="558.8" cy="2173.1" rx="2.1" ry="1.15" transform="rotate(-11 558.8 2173.1)"/><ellipse cx="543" cy="2230.2" rx="2.1" ry="1.15" transform="rotate(-23 543 2230.2)"/><ellipse cx="570.4" cy="2255.5" rx="2.1" ry="1.15" transform="rotate(-13 570.4 2255.5)"/><ellipse cx="448" cy="2158.6" rx="2.1" ry="1.15" transform="rotate(-23 448 2158.6)"/><ellipse cx="505.5" cy="2233.8" rx="2.1" ry="1.15" transform="rotate(-14 505.5 2233.8)"/><ellipse cx="486.1" cy="2179.7" rx="2.1" ry="1.15" transform="rotate(-1 486.1 2179.7)"/><ellipse cx="510.3" cy="2182.8" rx="2.1" ry="1.15" transform="rotate(-17 510.3 2182.8)"/><ellipse cx="520" cy="2208.9" rx="2.1" ry="1.15" transform="rotate(-16 520 2208.9)"/><ellipse cx="552.1" cy="2187.6" rx="2.1" ry="1.15" transform="rotate(-4 552.1 2187.6)"/><ellipse cx="518.3" cy="2168.9" rx="2.1" ry="1.15" transform="rotate(-4 518.3 2168.9)"/><ellipse cx="541.8" cy="2206.2" rx="2.1" ry="1.15" transform="rotate(-10 541.8 2206.2)"/><ellipse cx="506.9" cy="2194.8" rx="2.1" ry="1.15" transform="rotate(-6 506.9 2194.8)"/><ellipse cx="503.6" cy="2197.7" rx="2.1" ry="1.15" transform="rotate(-12 503.6 2197.7)"/><ellipse cx="496.2" cy="2249.7" rx="2.1" ry="1.15" transform="rotate(-21 496.2 2249.7)"/><ellipse cx="454.8" cy="2190.1" rx="2.1" ry="1.15" transform="rotate(-2 454.8 2190.1)"/><ellipse cx="537.8" cy="2208.1" rx="2.1" ry="1.15" transform="rotate(-7 537.8 2208.1)"/><ellipse cx="536.8" cy="2180.8" rx="2.1" ry="1.15" transform="rotate(-16 536.8 2180.8)"/><ellipse cx="448.1" cy="2186" rx="2.1" ry="1.15" transform="rotate(-4 448.1 2186)"/><ellipse cx="475.6" cy="2231" rx="2.1" ry="1.15" transform="rotate(-6 475.6 2231)"/><ellipse cx="569.7" cy="2183.3" rx="2.1" ry="1.15" transform="rotate(-14 569.7 2183.3)"/><ellipse cx="447.3" cy="2248.4" rx="2.1" ry="1.15" transform="rotate(-24 447.3 2248.4)"/><ellipse cx="478.4" cy="2166" rx="2.1" ry="1.15" transform="rotate(-3 478.4 2166)"/><ellipse cx="533.4" cy="2233" rx="2.1" ry="1.15" transform="rotate(-9 533.4 2233)"/><ellipse cx="534.9" cy="2236.5" rx="2.1" ry="1.15" transform="rotate(-19 534.9 2236.5)"/><ellipse cx="554.4" cy="2258.5" rx="2.1" ry="1.15" transform="rotate(-20 554.4 2258.5)"/><ellipse cx="481.1" cy="2165.3" rx="2.1" ry="1.15" transform="rotate(-4 481.1 2165.3)"/><ellipse cx="545.8" cy="2179.4" rx="2.1" ry="1.15" transform="rotate(-4 545.8 2179.4)"/><ellipse cx="452.3" cy="2259.1" rx="2.1" ry="1.15" transform="rotate(-22 452.3 2259.1)"/><ellipse cx="467.9" cy="2164.6" rx="2.1" ry="1.15" transform="rotate(-8 467.9 2164.6)"/><ellipse cx="458.9" cy="2221.3" rx="2.1" ry="1.15" transform="rotate(-17 458.9 2221.3)"/><ellipse cx="562.3" cy="2157.9" rx="2.1" ry="1.15" transform="rotate(-17 562.3 2157.9)"/><ellipse cx="568.2" cy="2234.3" rx="2.1" ry="1.15" transform="rotate(-23 568.2 2234.3)"/><ellipse cx="522.1" cy="2170.6" rx="2.1" ry="1.15" transform="rotate(-6 522.1 2170.6)"/><ellipse cx="579.3" cy="2196.2" rx="2.1" ry="1.15" transform="rotate(-7 579.3 2196.2)"/><ellipse cx="556.5" cy="2229.6" rx="2.1" ry="1.15" transform="rotate(-21 556.5 2229.6)"/><ellipse cx="464.2" cy="2237" rx="2.1" ry="1.15" transform="rotate(-10 464.2 2237)"/><ellipse cx="546.6" cy="2173.9" rx="2.1" ry="1.15" transform="rotate(-11 546.6 2173.9)"/><ellipse cx="573.5" cy="2160.2" rx="2.1" ry="1.15" transform="rotate(-18 573.5 2160.2)"/><ellipse cx="511.8" cy="2194.7" rx="2.1" ry="1.15" transform="rotate(-13 511.8 2194.7)"/><ellipse cx="469.4" cy="2239.4" rx="2.1" ry="1.15" transform="rotate(-10 469.4 2239.4)"/><ellipse cx="567" cy="2170.9" rx="2.1" ry="1.15" transform="rotate(-14 567 2170.9)"/><ellipse cx="580.7" cy="2233.7" rx="2.1" ry="1.15" transform="rotate(-13 580.7 2233.7)"/><ellipse cx="582.4" cy="2256.3" rx="2.1" ry="1.15" transform="rotate(-19 582.4 2256.3)"/><ellipse cx="514.7" cy="2178.9" rx="2.1" ry="1.15" transform="rotate(-5 514.7 2178.9)"/><ellipse cx="451.1" cy="2245.5" rx="2.1" ry="1.15" transform="rotate(-5 451.1 2245.5)"/><ellipse cx="476.5" cy="2227.1" rx="2.1" ry="1.15" transform="rotate(-19 476.5 2227.1)"/><ellipse cx="517.1" cy="2166.5" rx="2.1" ry="1.15" transform="rotate(-19 517.1 2166.5)"/><ellipse cx="460.5" cy="2249.8" rx="2.1" ry="1.15" transform="rotate(-13 460.5 2249.8)"/><ellipse cx="572.1" cy="2229.8" rx="2.1" ry="1.15" transform="rotate(-12 572.1 2229.8)"/><ellipse cx="459.7" cy="2244" rx="2.1" ry="1.15" transform="rotate(-23 459.7 2244)"/><ellipse cx="472" cy="2244.2" rx="2.1" ry="1.15" transform="rotate(-17 472 2244.2)"/><ellipse cx="467" cy="2214.2" rx="2.1" ry="1.15" transform="rotate(-10 467 2214.2)"/><ellipse cx="528.5" cy="2240.7" rx="2.1" ry="1.15" transform="rotate(-21 528.5 2240.7)"/><ellipse cx="525" cy="2171.3" rx="2.1" ry="1.15" transform="rotate(-2 525 2171.3)"/><ellipse cx="483.3" cy="2237.2" rx="2.1" ry="1.15" transform="rotate(-6 483.3 2237.2)"/><ellipse cx="528.7" cy="2253.1" rx="2.1" ry="1.15" transform="rotate(-0 528.7 2253.1)"/><ellipse cx="488.6" cy="2198.7" rx="2.1" ry="1.15" transform="rotate(-1 488.6 2198.7)"/><ellipse cx="487.8" cy="2163.4" rx="2.1" ry="1.15" transform="rotate(-1 487.8 2163.4)"/><ellipse cx="490.3" cy="2250.1" rx="2.1" ry="1.15" transform="rotate(-17 490.3 2250.1)"/><ellipse cx="545.6" cy="2166.2" rx="2.1" ry="1.15" transform="rotate(-4 545.6 2166.2)"/><ellipse cx="569.5" cy="2218.3" rx="2.1" ry="1.15" transform="rotate(-2 569.5 2218.3)"/><ellipse cx="533.7" cy="2234.9" rx="2.1" ry="1.15" transform="rotate(-11 533.7 2234.9)"/><ellipse cx="518.9" cy="2240.1" rx="2.1" ry="1.15" transform="rotate(-20 518.9 2240.1)"/><ellipse cx="566.1" cy="2172.3" rx="2.1" ry="1.15" transform="rotate(-16 566.1 2172.3)"/><ellipse cx="580.4" cy="2176.2" rx="2.1" ry="1.15" transform="rotate(-15 580.4 2176.2)"/><ellipse cx="547.4" cy="2237.9" rx="2.1" ry="1.15" transform="rotate(-22 547.4 2237.9)"/><ellipse cx="455.4" cy="2169.5" rx="2.1" ry="1.15" transform="rotate(-2 455.4 2169.5)"/><ellipse cx="472.6" cy="2259.1" rx="2.1" ry="1.15" transform="rotate(-10 472.6 2259.1)"/><ellipse cx="491.2" cy="2182.2" rx="2.1" ry="1.15" transform="rotate(-12 491.2 2182.2)"/><ellipse cx="473.2" cy="2177.5" rx="2.1" ry="1.15" transform="rotate(-23 473.2 2177.5)"/><ellipse cx="526" cy="2230.7" rx="2.1" ry="1.15" transform="rotate(-5 526 2230.7)"/><ellipse cx="555.3" cy="2219.4" rx="2.1" ry="1.15" transform="rotate(-22 555.3 2219.4)"/><ellipse cx="527.4" cy="2214.1" rx="2.1" ry="1.15" transform="rotate(-23 527.4 2214.1)"/><ellipse cx="500.6" cy="2182.3" rx="2.1" ry="1.15" transform="rotate(-12 500.6 2182.3)"/><ellipse cx="574.3" cy="2183.5" rx="2.1" ry="1.15" transform="rotate(-23 574.3 2183.5)"/><ellipse cx="510.9" cy="2230" rx="2.1" ry="1.15" transform="rotate(-17 510.9 2230)"/><ellipse cx="522.4" cy="2163.4" rx="2.1" ry="1.15" transform="rotate(-15 522.4 2163.4)"/><ellipse cx="559.7" cy="2171.1" rx="2.1" ry="1.15" transform="rotate(-21 559.7 2171.1)"/><ellipse cx="558.6" cy="2216.6" rx="2.1" ry="1.15" transform="rotate(-17 558.6 2216.6)"/><ellipse cx="501.2" cy="2158.9" rx="2.1" ry="1.15" transform="rotate(-23 501.2 2158.9)"/><ellipse cx="546.7" cy="2182.6" rx="2.1" ry="1.15" transform="rotate(-18 546.7 2182.6)"/><ellipse cx="524.4" cy="2256.1" rx="2.1" ry="1.15" transform="rotate(-17 524.4 2256.1)"/><ellipse cx="573.7" cy="2169.9" rx="2.1" ry="1.15" transform="rotate(-3 573.7 2169.9)"/><ellipse cx="580" cy="2167.9" rx="2.1" ry="1.15" transform="rotate(-16 580 2167.9)"/><ellipse cx="576.9" cy="2257" rx="2.1" ry="1.15" transform="rotate(-22 576.9 2257)"/><ellipse cx="529.6" cy="2243.8" rx="2.1" ry="1.15" transform="rotate(-23 529.6 2243.8)"/><ellipse cx="472.8" cy="2224.3" rx="2.1" ry="1.15" transform="rotate(-16 472.8 2224.3)"/><ellipse cx="490.6" cy="2158.7" rx="2.1" ry="1.15" transform="rotate(-24 490.6 2158.7)"/><ellipse cx="501.1" cy="2211.3" rx="2.1" ry="1.15" transform="rotate(-14 501.1 2211.3)"/><ellipse cx="581.1" cy="2193.4" rx="2.1" ry="1.15" transform="rotate(-19 581.1 2193.4)"/><ellipse cx="472.5" cy="2191.8" rx="2.1" ry="1.15" transform="rotate(-6 472.5 2191.8)"/><ellipse cx="569.9" cy="2254.6" rx="2.1" ry="1.15" transform="rotate(-1 569.9 2254.6)"/><ellipse cx="532" cy="2181.7" rx="2.1" ry="1.15" transform="rotate(-10 532 2181.7)"/><ellipse cx="553.6" cy="2252.5" rx="2.1" ry="1.15" transform="rotate(-13 553.6 2252.5)"/><ellipse cx="522" cy="2207.2" rx="2.1" ry="1.15" transform="rotate(-7 522 2207.2)"/><ellipse cx="560.2" cy="2250.9" rx="2.1" ry="1.15" transform="rotate(-3 560.2 2250.9)"/><ellipse cx="514.2" cy="2158.2" rx="2.1" ry="1.15" transform="rotate(-3 514.2 2158.2)"/><ellipse cx="475.1" cy="2245.3" rx="2.1" ry="1.15" transform="rotate(-14 475.1 2245.3)"/><ellipse cx="576.8" cy="2184.5" rx="2.1" ry="1.15" transform="rotate(-6 576.8 2184.5)"/><ellipse cx="467.2" cy="2246.9" rx="2.1" ry="1.15" transform="rotate(-11 467.2 2246.9)"/><ellipse cx="504.3" cy="2211.8" rx="2.1" ry="1.15" transform="rotate(-20 504.3 2211.8)"/><ellipse cx="561.5" cy="2194.4" rx="2.1" ry="1.15" transform="rotate(-1 561.5 2194.4)"/><ellipse cx="553.8" cy="2191.9" rx="2.1" ry="1.15" transform="rotate(-6 553.8 2191.9)"/><ellipse cx="503.4" cy="2192.4" rx="2.1" ry="1.15" transform="rotate(-23 503.4 2192.4)"/><ellipse cx="476" cy="2217.9" rx="2.1" ry="1.15" transform="rotate(-8 476 2217.9)"/><ellipse cx="459.5" cy="2252.5" rx="2.1" ry="1.15" transform="rotate(-2 459.5 2252.5)"/><ellipse cx="544.5" cy="2245" rx="2.1" ry="1.15" transform="rotate(-15 544.5 2245)"/><ellipse cx="558.9" cy="2184" rx="2.1" ry="1.15" transform="rotate(-10 558.9 2184)"/><ellipse cx="479.1" cy="2190.9" rx="2.1" ry="1.15" transform="rotate(-5 479.1 2190.9)"/><ellipse cx="521.4" cy="2239.5" rx="2.1" ry="1.15" transform="rotate(-21 521.4 2239.5)"/><ellipse cx="550.5" cy="2191.8" rx="2.1" ry="1.15" transform="rotate(-7 550.5 2191.8)"/><ellipse cx="502.6" cy="2207.8" rx="2.1" ry="1.15" transform="rotate(-19 502.6 2207.8)"/><ellipse cx="566.9" cy="2228.5" rx="2.1" ry="1.15" transform="rotate(-20 566.9 2228.5)"/><ellipse cx="478.4" cy="2190.5" rx="2.1" ry="1.15" transform="rotate(-15 478.4 2190.5)"/><ellipse cx="580.2" cy="2249.2" rx="2.1" ry="1.15" transform="rotate(-14 580.2 2249.2)"/><ellipse cx="559" cy="2227.2" rx="2.1" ry="1.15" transform="rotate(-21 559 2227.2)"/><ellipse cx="533.9" cy="2218.9" rx="2.1" ry="1.15" transform="rotate(-6 533.9 2218.9)"/><ellipse cx="522.9" cy="2165.1" rx="2.1" ry="1.15" transform="rotate(-7 522.9 2165.1)"/><ellipse cx="495.8" cy="2220" rx="2.1" ry="1.15" transform="rotate(-9 495.8 2220)"/><ellipse cx="574.4" cy="2202.3" rx="2.1" ry="1.15" transform="rotate(-17 574.4 2202.3)"/><ellipse cx="497.1" cy="2175.8" rx="2.1" ry="1.15" transform="rotate(-5 497.1 2175.8)"/><ellipse cx="553.5" cy="2190.1" rx="2.1" ry="1.15" transform="rotate(-10 553.5 2190.1)"/><ellipse cx="491.9" cy="2258.4" rx="2.1" ry="1.15" transform="rotate(-22 491.9 2258.4)"/><ellipse cx="539.6" cy="2191.1" rx="2.1" ry="1.15" transform="rotate(-19 539.6 2191.1)"/><ellipse cx="525.1" cy="2236.2" rx="2.1" ry="1.15" transform="rotate(-18 525.1 2236.2)"/><ellipse cx="556.4" cy="2235.5" rx="2.1" ry="1.15" transform="rotate(-14 556.4 2235.5)"/><ellipse cx="471.8" cy="2203.1" rx="2.1" ry="1.15" transform="rotate(-14 471.8 2203.1)"/><ellipse cx="562.6" cy="2217.4" rx="2.1" ry="1.15" transform="rotate(-22 562.6 2217.4)"/><ellipse cx="465.4" cy="2231.6" rx="2.1" ry="1.15" transform="rotate(-1 465.4 2231.6)"/><ellipse cx="557.2" cy="2160.2" rx="2.1" ry="1.15" transform="rotate(-20 557.2 2160.2)"/><ellipse cx="508.2" cy="2228.9" rx="2.1" ry="1.15" transform="rotate(-1 508.2 2228.9)"/><ellipse cx="488.4" cy="2205.4" rx="2.1" ry="1.15" transform="rotate(-1 488.4 2205.4)"/><ellipse cx="563.1" cy="2178" rx="2.1" ry="1.15" transform="rotate(-23 563.1 2178)"/><ellipse cx="574.7" cy="2254.5" rx="2.1" ry="1.15" transform="rotate(-24 574.7 2254.5)"/><ellipse cx="567.6" cy="2168.6" rx="2.1" ry="1.15" transform="rotate(-9 567.6 2168.6)"/><ellipse cx="471.3" cy="2160.2" rx="2.1" ry="1.15" transform="rotate(-23 471.3 2160.2)"/><ellipse cx="481.5" cy="2177.7" rx="2.1" ry="1.15" transform="rotate(-2 481.5 2177.7)"/><ellipse cx="514.4" cy="2259.9" rx="2.1" ry="1.15" transform="rotate(-2 514.4 2259.9)"/><ellipse cx="494.2" cy="2185.8" rx="2.1" ry="1.15" transform="rotate(-16 494.2 2185.8)"/><ellipse cx="520.4" cy="2230.2" rx="2.1" ry="1.15" transform="rotate(-23 520.4 2230.2)"/><ellipse cx="543.6" cy="2210.1" rx="2.1" ry="1.15" transform="rotate(-18 543.6 2210.1)"/><ellipse cx="455.3" cy="2194.3" rx="2.1" ry="1.15" transform="rotate(-20 455.3 2194.3)"/><ellipse cx="524.2" cy="2187.4" rx="2.1" ry="1.15" transform="rotate(-13 524.2 2187.4)"/><ellipse cx="448.4" cy="2169.2" rx="2.1" ry="1.15" transform="rotate(-13 448.4 2169.2)"/><ellipse cx="493.5" cy="2194.3" rx="2.1" ry="1.15" transform="rotate(-8 493.5 2194.3)"/><ellipse cx="549.9" cy="2213.9" rx="2.1" ry="1.15" transform="rotate(-18 549.9 2213.9)"/><ellipse cx="543.9" cy="2181.2" rx="2.1" ry="1.15" transform="rotate(-16 543.9 2181.2)"/><ellipse cx="455.5" cy="2197.3" rx="2.1" ry="1.15" transform="rotate(-6 455.5 2197.3)"/><ellipse cx="538.3" cy="2178.3" rx="2.1" ry="1.15" transform="rotate(-20 538.3 2178.3)"/><ellipse cx="484.6" cy="2173.5" rx="2.1" ry="1.15" transform="rotate(-13 484.6 2173.5)"/><ellipse cx="455.6" cy="2230.1" rx="2.1" ry="1.15" transform="rotate(-8 455.6 2230.1)"/><ellipse cx="545.5" cy="2255.4" rx="2.1" ry="1.15" transform="rotate(-12 545.5 2255.4)"/><ellipse cx="464.8" cy="2257.8" rx="2.1" ry="1.15" transform="rotate(-8 464.8 2257.8)"/><ellipse cx="536.7" cy="2173.2" rx="2.1" ry="1.15" transform="rotate(-12 536.7 2173.2)"/></g><g fill="none" stroke="#8a8a8a" stroke-width="0.6"><circle cx="461" cy="2235.4" r="1.5"/><circle cx="523.2" cy="2251.2" r="1.5"/><circle cx="459.8" cy="2248.4" r="1.5"/><circle cx="508.2" cy="2172.1" r="1.5"/><circle cx="575.8" cy="2183.3" r="1.5"/><circle cx="484" cy="2175" r="1.5"/><circle cx="579.1" cy="2206.2" r="1.5"/><circle cx="513.5" cy="2207.4" r="1.5"/><circle cx="530" cy="2238.2" r="1.5"/><circle cx="501.6" cy="2214.4" r="1.5"/><circle cx="492.6" cy="2181.3" r="1.5"/><circle cx="556" cy="2238.2" r="1.5"/><circle cx="466.7" cy="2238.4" r="1.5"/><circle cx="506.1" cy="2173.4" r="1.5"/><circle cx="463.2" cy="2185.1" r="1.5"/><circle cx="503.7" cy="2258.5" r="1.5"/><circle cx="542.1" cy="2231.7" r="1.5"/><circle cx="454.6" cy="2180.4" r="1.5"/><circle cx="533.4" cy="2190.5" r="1.5"/><circle cx="546.3" cy="2161.1" r="1.5"/><circle cx="564.4" cy="2216.2" r="1.5"/><circle cx="543.3" cy="2190.2" r="1.5"/><circle cx="488" cy="2228.2" r="1.5"/><circle cx="449.2" cy="2174.4" r="1.5"/><circle cx="534.1" cy="2196.7" r="1.5"/><circle cx="552.1" cy="2234.7" r="1.5"/><circle cx="500.9" cy="2220.8" r="1.5"/><circle cx="511.3" cy="2192.8" r="1.5"/><circle cx="478.5" cy="2167.3" r="1.5"/><circle cx="467.8" cy="2253.9" r="1.5"/><circle cx="483.5" cy="2222.8" r="1.5"/><circle cx="558.6" cy="2187.5" r="1.5"/><circle cx="475.1" cy="2247.6" r="1.5"/><circle cx="490.3" cy="2164.8" r="1.5"/><circle cx="540.9" cy="2254.1" r="1.5"/><circle cx="467.3" cy="2181" r="1.5"/><circle cx="465.7" cy="2251.7" r="1.5"/><circle cx="491" cy="2190.4" r="1.5"/><circle cx="466.3" cy="2186" r="1.5"/><circle cx="538.4" cy="2200.4" r="1.5"/><circle cx="543.4" cy="2212.7" r="1.5"/><circle cx="489.4" cy="2197.1" r="1.5"/><circle cx="534.7" cy="2159.8" r="1.5"/><circle cx="514.1" cy="2220.5" r="1.5"/><circle cx="514.7" cy="2174.5" r="1.5"/><circle cx="527.2" cy="2231.6" r="1.5"/><circle cx="582.4" cy="2169" r="1.5"/><circle cx="510.2" cy="2179.5" r="1.5"/><circle cx="492.2" cy="2187.7" r="1.5"/><circle cx="500.4" cy="2221.2" r="1.5"/><circle cx="511.8" cy="2164.9" r="1.5"/><circle cx="453.3" cy="2218" r="1.5"/><circle cx="468.6" cy="2198.1" r="1.5"/><circle cx="496.9" cy="2196.4" r="1.5"/><circle cx="515.7" cy="2243.6" r="1.5"/><circle cx="526.8" cy="2211.7" r="1.5"/><circle cx="582.8" cy="2227" r="1.5"/><circle cx="449.7" cy="2202.3" r="1.5"/><circle cx="513" cy="2172.2" r="1.5"/><circle cx="478.7" cy="2205.1" r="1.5"/><circle cx="543.6" cy="2227.5" r="1.5"/><circle cx="456.7" cy="2229.3" r="1.5"/><circle cx="574.8" cy="2206" r="1.5"/><circle cx="467.8" cy="2159.8" r="1.5"/><circle cx="485.4" cy="2251.5" r="1.5"/><circle cx="467.8" cy="2259.8" r="1.5"/><circle cx="452.8" cy="2246" r="1.5"/><circle cx="548" cy="2187.9" r="1.5"/><circle cx="461.8" cy="2188.4" r="1.5"/><circle cx="580" cy="2190.1" r="1.5"/><circle cx="487" cy="2167.3" r="1.5"/><circle cx="542.6" cy="2187.9" r="1.5"/><circle cx="527.2" cy="2180.5" r="1.5"/><circle cx="557.3" cy="2197.9" r="1.5"/><circle cx="555" cy="2178.1" r="1.5"/><circle cx="544.7" cy="2218.3" r="1.5"/><circle cx="511.2" cy="2240.3" r="1.5"/><circle cx="467.6" cy="2243.6" r="1.5"/><circle cx="477.2" cy="2167.4" r="1.5"/><circle cx="483" cy="2231.3" r="1.5"/><circle cx="561.3" cy="2194.5" r="1.5"/><circle cx="498.1" cy="2242.6" r="1.5"/><circle cx="466.4" cy="2256.3" r="1.5"/><circle cx="546.4" cy="2255.8" r="1.5"/><circle cx="471.7" cy="2192.7" r="1.5"/><circle cx="489.4" cy="2237.2" r="1.5"/><circle cx="468.3" cy="2161.5" r="1.5"/><circle cx="509.4" cy="2187.4" r="1.5"/><circle cx="543.4" cy="2238.6" r="1.5"/><circle cx="448.3" cy="2238.9" r="1.5"/><circle cx="493.4" cy="2239.8" r="1.5"/><circle cx="468.3" cy="2215.8" r="1.5"/><circle cx="541" cy="2234.9" r="1.5"/><circle cx="469" cy="2201.1" r="1.5"/><circle cx="489.9" cy="2216" r="1.5"/><circle cx="539.7" cy="2249.2" r="1.5"/><circle cx="512.3" cy="2217.5" r="1.5"/><circle cx="475.8" cy="2227.4" r="1.5"/><circle cx="559.6" cy="2158.3" r="1.5"/><circle cx="541.9" cy="2233.8" r="1.5"/><circle cx="461.7" cy="2255" r="1.5"/><circle cx="564.2" cy="2249.1" r="1.5"/><circle cx="524.9" cy="2235" r="1.5"/><circle cx="485.8" cy="2210.7" r="1.5"/><circle cx="573.3" cy="2239" r="1.5"/><circle cx="476.3" cy="2194.7" r="1.5"/><circle cx="502.2" cy="2162.2" r="1.5"/><circle cx="508.2" cy="2221" r="1.5"/><circle cx="473.6" cy="2213.4" r="1.5"/><circle cx="468.3" cy="2246.2" r="1.5"/><circle cx="529.9" cy="2205" r="1.5"/><circle cx="580" cy="2238.3" r="1.5"/><circle cx="556.8" cy="2201.6" r="1.5"/><circle cx="513.4" cy="2182" r="1.5"/><circle cx="545.2" cy="2246.4" r="1.5"/><circle cx="479.6" cy="2161.9" r="1.5"/><circle cx="531" cy="2235.9" r="1.5"/><circle cx="535.7" cy="2191.1" r="1.5"/><circle cx="528.7" cy="2177.7" r="1.5"/><circle cx="561.2" cy="2244.2" r="1.5"/><circle cx="526.9" cy="2233.8" r="1.5"/><circle cx="461.4" cy="2181.2" r="1.5"/><circle cx="489.4" cy="2159.9" r="1.5"/><circle cx="457.5" cy="2180.5" r="1.5"/><circle cx="551.6" cy="2225.6" r="1.5"/><circle cx="513.6" cy="2197.6" r="1.5"/><circle cx="508" cy="2253.8" r="1.5"/><circle cx="480.5" cy="2240.2" r="1.5"/><circle cx="486.5" cy="2252" r="1.5"/><circle cx="468.1" cy="2178.6" r="1.5"/></g></g>
<rect x="570.9" y="2256.8" width="12" height="3" fill="#000" stroke="none" stroke-width="0"/>
<g clip-path="url(#gc28)"><rect x="55.2" y="2312.8" width="136.6" height="102.2" fill="#e0e0e6"/><g filter="url(#soft)"><path d="M141.5,2331.2L148.9,2327.1L148.5,2336.1Z" fill="#6a50d0" fill-opacity="0.88"/><path d="M74.3,2387.4L77.8,2399.9L68.7,2399.1Z" fill="#5a3cc8" fill-opacity="0.85"/><path d="M150,2358.7L139.3,2361.6L139.5,2355.2Z" fill="#6a50d0" fill-opacity="0.80"/><path d="M89.8,2314.9L98.1,2315.6L92.9,2322.6Z" fill="#6a50d0" fill-opacity="0.88"/><path d="M85.9,2381L76.9,2381L80.7,2373.7Z" fill="#7a62d8" fill-opacity="0.79"/><path d="M126.8,2402.5L135.1,2403.3L128.5,2410.7Z" fill="#7a62d8" fill-opacity="0.67"/><path d="M90.4,2358.9L82.3,2354.8L90,2349.9Z" fill="#4a2cb8" fill-opacity="0.72"/><path d="M82.8,2337.4L80.9,2328.9L89.5,2331.9Z" fill="#6a50d0" fill-opacity="0.74"/><path d="M180,2326L188.2,2330.2L182.6,2334.9Z" fill="#6a50d0" fill-opacity="0.83"/><path d="M133.2,2346.4L123.4,2343.7L128.2,2337.6Z" fill="#5a3cc8" fill-opacity="0.66"/><path d="M96.8,2343.8L101.4,2336.9L104.9,2341.8Z" fill="#5a3cc8" fill-opacity="0.88"/><path d="M178.6,2401.6L172.6,2407.7L170.9,2398.1Z" fill="#7a62d8" fill-opacity="0.75"/><path d="M128.4,2374.3L126.4,2384.5L120.2,2380.7Z" fill="#6a50d0" fill-opacity="0.86"/><path d="M136.2,2363.2L132.7,2372L127.5,2367.2Z" fill="#4a2cb8" fill-opacity="0.58"/><path d="M185.7,2391.4L175.4,2387.2L179.6,2382.1Z" fill="#4a2cb8" fill-opacity="0.59"/><path d="M122.9,2338.9L116.8,2329.3L125.2,2327.7Z" fill="#4a2cb8" fill-opacity="0.75"/><path d="M180.7,2418.3L178.1,2405.8L187.7,2407.6Z" fill="#7a62d8" fill-opacity="0.80"/><path d="M148.3,2375.6L158.6,2372.8L157,2381.7Z" fill="#6a50d0" fill-opacity="0.73"/><path d="M141.3,2331.1L131.3,2336.2L130.3,2328.9Z" fill="#7a62d8" fill-opacity="0.81"/><path d="M97.4,2335.8L89,2342.5L86.8,2337.1Z" fill="#4a2cb8" fill-opacity="0.72"/><path d="M109.5,2325.2L99,2321.8L105.1,2315.1Z" fill="#5a3cc8" fill-opacity="0.89"/><path d="M190.8,2393.4L180.2,2391.7L186.1,2383.7Z" fill="#6a50d0" fill-opacity="0.62"/><path d="M179.1,2326.6L166.6,2323.3L172.4,2315.5Z" fill="#6a50d0" fill-opacity="0.71"/><path d="M65.3,2388.7L57.8,2378.9L63.9,2376.4Z" fill="#4a2cb8" fill-opacity="0.58"/><path d="M71.2,2369.4L75.9,2376L69.5,2377.4Z" fill="#5a3cc8" fill-opacity="0.58"/><path d="M185.6,2386.5L175.7,2384.8L181,2377.6Z" fill="#4a2cb8" fill-opacity="0.89"/><path d="M98.5,2341.1L102.9,2351L93.5,2350.7Z" fill="#6a50d0" fill-opacity="0.58"/><path d="M57,2329.6L65.2,2324.4L66.6,2330.6Z" fill="#4a2cb8" fill-opacity="0.59"/><path d="M132.2,2412.3L123.5,2420L120.8,2410.7Z" fill="#4a2cb8" fill-opacity="0.78"/><path d="M157.1,2354.2L162.4,2365.5L156.2,2366.7Z" fill="#5a3cc8" fill-opacity="0.86"/><path d="M166.4,2361.9L170.4,2351.8L176.8,2358.6Z" fill="#6a50d0" fill-opacity="0.58"/><path d="M92.2,2373.3L86,2362.1L92.1,2360.5Z" fill="#4a2cb8" fill-opacity="0.79"/><path d="M120.1,2321.7L112.7,2327.8L110.6,2321.3Z" fill="#7a62d8" fill-opacity="0.87"/><path d="M121.3,2367.2L128.5,2375.6L122.1,2378.3Z" fill="#4a2cb8" fill-opacity="0.76"/><path d="M88.2,2395.8L98.6,2394.5L95.1,2403.8Z" fill="#5a3cc8" fill-opacity="0.88"/><path d="M113.9,2384.5L102.3,2387.1L103.5,2378.7Z" fill="#7a62d8" fill-opacity="0.82"/><path d="M85.4,2325.5L77.3,2324.2L82.3,2317.9Z" fill="#7a62d8" fill-opacity="0.70"/><path d="M185.6,2390.6L192.5,2383.6L195.4,2389.3Z" fill="#6a50d0" fill-opacity="0.86"/><path d="M95.2,2309.5L105.1,2315.5L98.2,2320.6Z" fill="#4a2cb8" fill-opacity="0.77"/><path d="M174.3,2330.2L161.6,2326.8L166.4,2319.7Z" fill="#4a2cb8" fill-opacity="0.85"/><path d="M61.9,2400.8L72.6,2403.6L68.5,2409.8Z" fill="#7a62d8" fill-opacity="0.88"/><path d="M103.7,2401.5L94.6,2409L91.9,2401.4Z" fill="#4a2cb8" fill-opacity="0.81"/><path d="M133.7,2320.9L124.9,2318.6L130.6,2312.3Z" fill="#6a50d0" fill-opacity="0.61"/><path d="M49.1,2353.3L61,2350.7L60.8,2356.7Z" fill="#5a3cc8" fill-opacity="0.89"/><path d="M186.3,2376.3L178,2378.8L180.7,2369.6Z" fill="#5a3cc8" fill-opacity="0.80"/><path d="M108.6,2394.8L100.2,2389.4L104.9,2385.5Z" fill="#6a50d0" fill-opacity="0.72"/><path d="M162.8,2413.9L168.2,2404L172.5,2408.2Z" fill="#4a2cb8" fill-opacity="0.68"/><path d="M82.1,2362.4L73.7,2361.1L78.1,2354.8Z" fill="#5a3cc8" fill-opacity="0.62"/><path d="M185.2,2330.4L177.9,2321.8L185.9,2319.1Z" fill="#7a62d8" fill-opacity="0.77"/><path d="M80.8,2369.4L76.2,2357.8L84.5,2357.4Z" fill="#6a50d0" fill-opacity="0.69"/><path d="M179.4,2372.6L169.8,2378L169.2,2368.5Z" fill="#5a3cc8" fill-opacity="0.77"/><path d="M156.4,2388.5L162.7,2380.8L166.3,2387.7Z" fill="#7a62d8" fill-opacity="0.82"/><path d="M77.3,2344.6L85,2342.1L84,2349Z" fill="#4a2cb8" fill-opacity="0.85"/><path d="M189.4,2366.7L195.4,2371.4L189.9,2374.3Z" fill="#4a2cb8" fill-opacity="0.69"/><path d="M161.2,2382L153.7,2372.9L160,2370.3Z" fill="#6a50d0" fill-opacity="0.59"/><path d="M98.5,2343.5L106.6,2352.5L98.1,2355.5Z" fill="#4a2cb8" fill-opacity="0.87"/><path d="M168.2,2336.5L164,2344.5L159.2,2335.9Z" fill="#5a3cc8" fill-opacity="0.68"/><path d="M141.1,2319.3L136.1,2331.6L129,2324.7Z" fill="#7a62d8" fill-opacity="0.66"/><path d="M159,2379.7L161.2,2389.2L155,2388.6Z" fill="#4a2cb8" fill-opacity="0.81"/><path d="M184.1,2345L180.6,2333.7L189.7,2334.6Z" fill="#6a50d0" fill-opacity="0.79"/><path d="M168.7,2315.2L177.9,2322.7L170.7,2326.9Z" fill="#6a50d0" fill-opacity="0.71"/><path d="M136.7,2401.1L130.1,2393.1L139.4,2391.1Z" fill="#4a2cb8" fill-opacity="0.90"/><path d="M71.6,2314.9L82.7,2309.2L83.5,2318.5Z" fill="#5a3cc8" fill-opacity="0.72"/><path d="M189,2396.1L178.9,2392.6L183.4,2387Z" fill="#4a2cb8" fill-opacity="0.68"/><path d="M154.7,2400.2L144.3,2407.5L142.2,2397.9Z" fill="#7a62d8" fill-opacity="0.67"/><path d="M114.4,2349.7L126.6,2347.6L124.3,2357.2Z" fill="#6a50d0" fill-opacity="0.58"/><path d="M171.9,2386L177,2376.3L182,2381.7Z" fill="#7a62d8" fill-opacity="0.89"/><path d="M123.4,2320.5L113.5,2328L111,2320.2Z" fill="#6a50d0" fill-opacity="0.88"/><path d="M87.7,2396.5L78.3,2399.1L78.8,2392.5Z" fill="#7a62d8" fill-opacity="0.63"/><path d="M195,2324.2L188.7,2332.8L184.8,2327.6Z" fill="#6a50d0" fill-opacity="0.71"/><path d="M74,2375L79.6,2368.1L82.8,2375.9Z" fill="#4a2cb8" fill-opacity="0.82"/><path d="M95.6,2382.5L90.5,2389.2L87.3,2383.7Z" fill="#5a3cc8" fill-opacity="0.63"/><path d="M112.4,2365.8L108.3,2374.4L103.8,2369.8Z" fill="#5a3cc8" fill-opacity="0.64"/><path d="M90.4,2387.6L88.6,2400.4L82.6,2397.9Z" fill="#4a2cb8" fill-opacity="0.86"/><path d="M94.5,2315.9L103.7,2316.6L98.2,2324.3Z" fill="#6a50d0" fill-opacity="0.69"/><path d="M103,2389.1L93.6,2383L101.7,2377.9Z" fill="#6a50d0" fill-opacity="0.79"/><path d="M157.5,2374L156.4,2384.4L149.7,2380.9Z" fill="#6a50d0" fill-opacity="0.72"/><path d="M59.9,2366.7L65,2358.1L69.7,2364.5Z" fill="#7a62d8" fill-opacity="0.87"/><path d="M110.2,2311.9L115.8,2322.6L109.2,2323.9Z" fill="#7a62d8" fill-opacity="0.71"/><path d="M170.8,2413.2L169.9,2405.5L176.7,2408.2Z" fill="#5a3cc8" fill-opacity="0.66"/><path d="M136.4,2360.5L129,2358.7L132.8,2353.8Z" fill="#6a50d0" fill-opacity="0.73"/><path d="M160.2,2393.9L159,2403.9L152.4,2400.3Z" fill="#5a3cc8" fill-opacity="0.55"/><path d="M112.8,2404.3L115.9,2411L110.3,2411.3Z" fill="#6a50d0" fill-opacity="0.59"/><path d="M128.4,2378.5L135,2372.3L137.5,2379Z" fill="#5a3cc8" fill-opacity="0.72"/><path d="M58.6,2354.3L65.2,2344L70,2349.8Z" fill="#5a3cc8" fill-opacity="0.56"/><path d="M146.8,2379L145.1,2387.1L139.3,2382.5Z" fill="#6a50d0" fill-opacity="0.56"/><path d="M102.9,2388.2L98.4,2379.4L105.6,2378.7Z" fill="#7a62d8" fill-opacity="0.67"/><path d="M115.5,2342.9L123.9,2352.2L117.4,2355.3Z" fill="#4a2cb8" fill-opacity="0.70"/><path d="M119.9,2420.9L110.7,2413.1L117.5,2409.1Z" fill="#7a62d8" fill-opacity="0.67"/><path d="M123.8,2405L135.7,2405.2L131.9,2413.6Z" fill="#4a2cb8" fill-opacity="0.60"/><path d="M169.4,2371.2L172,2382L165.1,2381.5Z" fill="#6a50d0" fill-opacity="0.68"/><path d="M128.9,2407.3L120.4,2409.3L123.1,2400.7Z" fill="#6a50d0" fill-opacity="0.88"/><path d="M184.9,2383.2L174.8,2384.3L177,2376.8Z" fill="#4a2cb8" fill-opacity="0.84"/><path d="M130.2,2364.9L137.9,2355.9L141.2,2360.5Z" fill="#6a50d0" fill-opacity="0.70"/><path d="M146.7,2343.2L135.9,2346.7L136,2339.4Z" fill="#4a2cb8" fill-opacity="0.55"/><path d="M174.3,2364.5L165.1,2361.1L168.5,2356.5Z" fill="#5a3cc8" fill-opacity="0.72"/><path d="M151.4,2362.1L162.6,2360.3L162,2366.2Z" fill="#6a50d0" fill-opacity="0.77"/><path d="M188.3,2327.9L187.5,2318.9L193.4,2320.4Z" fill="#4a2cb8" fill-opacity="0.84"/><path d="M151.6,2348.9L142,2339.7L148.7,2335.9Z" fill="#5a3cc8" fill-opacity="0.78"/><path d="M69,2365.3L56.9,2360.7L61.8,2354.5Z" fill="#5a3cc8" fill-opacity="0.74"/><path d="M100.3,2357.8L107.6,2364.8L101.9,2367.8Z" fill="#7a62d8" fill-opacity="0.78"/><path d="M49.1,2353.9L60.5,2351.2L60.3,2357.4Z" fill="#7a62d8" fill-opacity="0.67"/><path d="M52.4,2384L60.7,2381.1L59.4,2389.2Z" fill="#5a3cc8" fill-opacity="0.73"/><path d="M52,2344.5L65.4,2343.3L62.8,2352.4Z" fill="#4a2cb8" fill-opacity="0.80"/><path d="M142.5,2356.3L153.9,2350L155.4,2357.4Z" fill="#4a2cb8" fill-opacity="0.81"/><path d="M105.7,2380.9L107.4,2389.5L100.8,2388.1Z" fill="#7a62d8" fill-opacity="0.63"/><path d="M112.4,2326.5L120.8,2334.9L112.7,2338.4Z" fill="#4a2cb8" fill-opacity="0.63"/><path d="M67.3,2379.5L72.7,2373.2L75.6,2379.3Z" fill="#5a3cc8" fill-opacity="0.84"/><path d="M150.8,2399.8L140.4,2399.3L143,2392.9Z" fill="#5a3cc8" fill-opacity="0.71"/><path d="M181.1,2346.2L185.5,2354.1L175.7,2353.4Z" fill="#6a50d0" fill-opacity="0.89"/><path d="M109.9,2332.9L114.8,2323.6L119.8,2329.5Z" fill="#6a50d0" fill-opacity="0.64"/><path d="M188.3,2340.1L182.9,2332.1L192.1,2331.2Z" fill="#6a50d0" fill-opacity="0.73"/><path d="M100.1,2416.3L103,2407L109.3,2413Z" fill="#6a50d0" fill-opacity="0.61"/><path d="M66,2356L56.1,2362.6L54.1,2354.8Z" fill="#4a2cb8" fill-opacity="0.79"/><path d="M90.9,2349.1L94.5,2356.3L87.2,2356.2Z" fill="#6a50d0" fill-opacity="0.87"/><path d="M184.4,2355.5L197.3,2359.3L191.2,2367.1Z" fill="#6a50d0" fill-opacity="0.63"/><path d="M164.3,2361.6L162.5,2351.2L171.6,2353.9Z" fill="#7a62d8" fill-opacity="0.89"/><path d="M72.9,2369.6L64.9,2367.4L71.6,2361.5Z" fill="#6a50d0" fill-opacity="0.70"/><path d="M166.3,2362.7L173.8,2371.9L166.1,2374.5Z" fill="#7a62d8" fill-opacity="0.62"/><path d="M91.2,2360.1L101,2353.9L102.7,2361.4Z" fill="#7a62d8" fill-opacity="0.62"/></g><g fill="#4a4a4a" fill-opacity="0.88"><ellipse cx="58" cy="2369.5" rx="2.1" ry="1.15" transform="rotate(64 58 2369.5)"/><ellipse cx="128.3" cy="2387.6" rx="2.1" ry="1.15" transform="rotate(61 128.3 2387.6)"/><ellipse cx="113.8" cy="2345.2" rx="2.1" ry="1.15" transform="rotate(55 113.8 2345.2)"/><ellipse cx="112.7" cy="2366.9" rx="2.1" ry="1.15" transform="rotate(59 112.7 2366.9)"/><ellipse cx="84.8" cy="2376.9" rx="2.1" ry="1.15" transform="rotate(62 84.8 2376.9)"/><ellipse cx="58.4" cy="2349.9" rx="2.1" ry="1.15" transform="rotate(59 58.4 2349.9)"/><ellipse cx="128.6" cy="2409.6" rx="2.1" ry="1.15" transform="rotate(56 128.6 2409.6)"/><ellipse cx="117.4" cy="2410" rx="2.1" ry="1.15" transform="rotate(70 117.4 2410)"/><ellipse cx="144.9" cy="2366.2" rx="2.1" ry="1.15" transform="rotate(67 144.9 2366.2)"/><ellipse cx="147.6" cy="2403" rx="2.1" ry="1.15" transform="rotate(68 147.6 2403)"/><ellipse cx="87.2" cy="2379.9" rx="2.1" ry="1.15" transform="rotate(71 87.2 2379.9)"/><ellipse cx="93.4" cy="2366.9" rx="2.1" ry="1.15" transform="rotate(68 93.4 2366.9)"/><ellipse cx="58.3" cy="2337.6" rx="2.1" ry="1.15" transform="rotate(64 58.3 2337.6)"/><ellipse cx="97.6" cy="2396.9" rx="2.1" ry="1.15" transform="rotate(54 97.6 2396.9)"/><ellipse cx="124.4" cy="2354.8" rx="2.1" ry="1.15" transform="rotate(54 124.4 2354.8)"/><ellipse cx="170" cy="2348.4" rx="2.1" ry="1.15" transform="rotate(52 170 2348.4)"/><ellipse cx="95.5" cy="2389.6" rx="2.1" ry="1.15" transform="rotate(67 95.5 2389.6)"/><ellipse cx="80.4" cy="2356.4" rx="2.1" ry="1.15" transform="rotate(56 80.4 2356.4)"/><ellipse cx="96.3" cy="2391.4" rx="2.1" ry="1.15" transform="rotate(56 96.3 2391.4)"/><ellipse cx="57.1" cy="2369.4" rx="2.1" ry="1.15" transform="rotate(54 57.1 2369.4)"/><ellipse cx="123.7" cy="2362" rx="2.1" ry="1.15" transform="rotate(56 123.7 2362)"/><ellipse cx="84" cy="2401" rx="2.1" ry="1.15" transform="rotate(52 84 2401)"/><ellipse cx="174.1" cy="2369.6" rx="2.1" ry="1.15" transform="rotate(66 174.1 2369.6)"/><ellipse cx="152.9" cy="2393.3" rx="2.1" ry="1.15" transform="rotate(58 152.9 2393.3)"/><ellipse cx="69.8" cy="2336.3" rx="2.1" ry="1.15" transform="rotate(63 69.8 2336.3)"/><ellipse cx="122.4" cy="2367.1" rx="2.1" ry="1.15" transform="rotate(54 122.4 2367.1)"/><ellipse cx="115.6" cy="2342.2" rx="2.1" ry="1.15" transform="rotate(51 115.6 2342.2)"/><ellipse cx="150.8" cy="2356.9" rx="2.1" ry="1.15" transform="rotate(55 150.8 2356.9)"/><ellipse cx="190" cy="2354.1" rx="2.1" ry="1.15" transform="rotate(60 190 2354.1)"/><ellipse cx="121.1" cy="2327.4" rx="2.1" ry="1.15" transform="rotate(52 121.1 2327.4)"/><ellipse cx="99.4" cy="2391" rx="2.1" ry="1.15" transform="rotate(73 99.4 2391)"/><ellipse cx="113.6" cy="2353.6" rx="2.1" ry="1.15" transform="rotate(55 113.6 2353.6)"/><ellipse cx="64.9" cy="2394.9" rx="2.1" ry="1.15" transform="rotate(67 64.9 2394.9)"/><ellipse cx="92.8" cy="2355.4" rx="2.1" ry="1.15" transform="rotate(72 92.8 2355.4)"/><ellipse cx="81.5" cy="2335.9" rx="2.1" ry="1.15" transform="rotate(60 81.5 2335.9)"/><ellipse cx="156.9" cy="2367" rx="2.1" ry="1.15" transform="rotate(55 156.9 2367)"/><ellipse cx="58.9" cy="2367.6" rx="2.1" ry="1.15" transform="rotate(61 58.9 2367.6)"/><ellipse cx="62.7" cy="2378" rx="2.1" ry="1.15" transform="rotate(54 62.7 2378)"/><ellipse cx="145" cy="2330.3" rx="2.1" ry="1.15" transform="rotate(63 145 2330.3)"/><ellipse cx="181.1" cy="2318.8" rx="2.1" ry="1.15" transform="rotate(64 181.1 2318.8)"/><ellipse cx="98.9" cy="2359.5" rx="2.1" ry="1.15" transform="rotate(51 98.9 2359.5)"/><ellipse cx="61.1" cy="2399.8" rx="2.1" ry="1.15" transform="rotate(60 61.1 2399.8)"/><ellipse cx="71.6" cy="2355.5" rx="2.1" ry="1.15" transform="rotate(66 71.6 2355.5)"/><ellipse cx="59.4" cy="2398.2" rx="2.1" ry="1.15" transform="rotate(58 59.4 2398.2)"/><ellipse cx="88.8" cy="2399.1" rx="2.1" ry="1.15" transform="rotate(61 88.8 2399.1)"/><ellipse cx="72.4" cy="2331.8" rx="2.1" ry="1.15" transform="rotate(67 72.4 2331.8)"/><ellipse cx="130.1" cy="2357.4" rx="2.1" ry="1.15" transform="rotate(68 130.1 2357.4)"/><ellipse cx="100.6" cy="2330.1" rx="2.1" ry="1.15" transform="rotate(65 100.6 2330.1)"/><ellipse cx="84.7" cy="2341.2" rx="2.1" ry="1.15" transform="rotate(51 84.7 2341.2)"/><ellipse cx="141.9" cy="2382" rx="2.1" ry="1.15" transform="rotate(71 141.9 2382)"/><ellipse cx="79.6" cy="2390.3" rx="2.1" ry="1.15" transform="rotate(56 79.6 2390.3)"/><ellipse cx="123.5" cy="2365.4" rx="2.1" ry="1.15" transform="rotate(67 123.5 2365.4)"/><ellipse cx="69.4" cy="2355.4" rx="2.1" ry="1.15" transform="rotate(69 69.4 2355.4)"/><ellipse cx="89.7" cy="2318.5" rx="2.1" ry="1.15" transform="rotate(61 89.7 2318.5)"/><ellipse cx="100.8" cy="2393.3" rx="2.1" ry="1.15" transform="rotate(62 100.8 2393.3)"/><ellipse cx="151.2" cy="2383.5" rx="2.1" ry="1.15" transform="rotate(52 151.2 2383.5)"/><ellipse cx="146.3" cy="2353.3" rx="2.1" ry="1.15" transform="rotate(61 146.3 2353.3)"/><ellipse cx="143.7" cy="2355.3" rx="2.1" ry="1.15" transform="rotate(52 143.7 2355.3)"/><ellipse cx="138.5" cy="2379.8" rx="2.1" ry="1.15" transform="rotate(73 138.5 2379.8)"/><ellipse cx="185.6" cy="2316.9" rx="2.1" ry="1.15" transform="rotate(66 185.6 2316.9)"/><ellipse cx="68.1" cy="2386.1" rx="2.1" ry="1.15" transform="rotate(74 68.1 2386.1)"/><ellipse cx="107.1" cy="2399.6" rx="2.1" ry="1.15" transform="rotate(67 107.1 2399.6)"/><ellipse cx="122.9" cy="2405.8" rx="2.1" ry="1.15" transform="rotate(57 122.9 2405.8)"/><ellipse cx="99.3" cy="2394.2" rx="2.1" ry="1.15" transform="rotate(60 99.3 2394.2)"/><ellipse cx="71.2" cy="2372" rx="2.1" ry="1.15" transform="rotate(64 71.2 2372)"/><ellipse cx="109" cy="2339.6" rx="2.1" ry="1.15" transform="rotate(57 109 2339.6)"/><ellipse cx="161.9" cy="2374.4" rx="2.1" ry="1.15" transform="rotate(53 161.9 2374.4)"/><ellipse cx="181.8" cy="2355.7" rx="2.1" ry="1.15" transform="rotate(64 181.8 2355.7)"/><ellipse cx="188.1" cy="2348.5" rx="2.1" ry="1.15" transform="rotate(67 188.1 2348.5)"/><ellipse cx="132.5" cy="2375.9" rx="2.1" ry="1.15" transform="rotate(60 132.5 2375.9)"/><ellipse cx="165.8" cy="2364.3" rx="2.1" ry="1.15" transform="rotate(60 165.8 2364.3)"/><ellipse cx="139" cy="2382.6" rx="2.1" ry="1.15" transform="rotate(54 139 2382.6)"/><ellipse cx="99.9" cy="2345.2" rx="2.1" ry="1.15" transform="rotate(63 99.9 2345.2)"/><ellipse cx="191.4" cy="2403.1" rx="2.1" ry="1.15" transform="rotate(60 191.4 2403.1)"/><ellipse cx="112.4" cy="2338" rx="2.1" ry="1.15" transform="rotate(68 112.4 2338)"/><ellipse cx="107" cy="2331.1" rx="2.1" ry="1.15" transform="rotate(69 107 2331.1)"/><ellipse cx="153.2" cy="2348" rx="2.1" ry="1.15" transform="rotate(69 153.2 2348)"/><ellipse cx="143.4" cy="2373.1" rx="2.1" ry="1.15" transform="rotate(73 143.4 2373.1)"/><ellipse cx="104" cy="2372" rx="2.1" ry="1.15" transform="rotate(64 104 2372)"/><ellipse cx="104.3" cy="2406.3" rx="2.1" ry="1.15" transform="rotate(62 104.3 2406.3)"/><ellipse cx="119.4" cy="2315.9" rx="2.1" ry="1.15" transform="rotate(61 119.4 2315.9)"/><ellipse cx="179.6" cy="2314.4" rx="2.1" ry="1.15" transform="rotate(65 179.6 2314.4)"/><ellipse cx="67.9" cy="2366.8" rx="2.1" ry="1.15" transform="rotate(68 67.9 2366.8)"/><ellipse cx="62.5" cy="2388.5" rx="2.1" ry="1.15" transform="rotate(53 62.5 2388.5)"/><ellipse cx="101.1" cy="2341.1" rx="2.1" ry="1.15" transform="rotate(62 101.1 2341.1)"/><ellipse cx="152.4" cy="2377.6" rx="2.1" ry="1.15" transform="rotate(61 152.4 2377.6)"/><ellipse cx="64.6" cy="2400" rx="2.1" ry="1.15" transform="rotate(61 64.6 2400)"/><ellipse cx="178.6" cy="2313.4" rx="2.1" ry="1.15" transform="rotate(72 178.6 2313.4)"/><ellipse cx="147.7" cy="2358.6" rx="2.1" ry="1.15" transform="rotate(63 147.7 2358.6)"/><ellipse cx="106.3" cy="2338.3" rx="2.1" ry="1.15" transform="rotate(64 106.3 2338.3)"/><ellipse cx="71.1" cy="2326.4" rx="2.1" ry="1.15" transform="rotate(65 71.1 2326.4)"/><ellipse cx="185" cy="2414" rx="2.1" ry="1.15" transform="rotate(61 185 2414)"/><ellipse cx="163.2" cy="2347.8" rx="2.1" ry="1.15" transform="rotate(74 163.2 2347.8)"/><ellipse cx="101.7" cy="2340.4" rx="2.1" ry="1.15" transform="rotate(59 101.7 2340.4)"/><ellipse cx="136.2" cy="2341.1" rx="2.1" ry="1.15" transform="rotate(54 136.2 2341.1)"/><ellipse cx="170.2" cy="2320.2" rx="2.1" ry="1.15" transform="rotate(60 170.2 2320.2)"/><ellipse cx="98.9" cy="2367.9" rx="2.1" ry="1.15" transform="rotate(64 98.9 2367.9)"/><ellipse cx="116.7" cy="2342.3" rx="2.1" ry="1.15" transform="rotate(50 116.7 2342.3)"/><ellipse cx="134.6" cy="2402.6" rx="2.1" ry="1.15" transform="rotate(63 134.6 2402.6)"/><ellipse cx="147.5" cy="2342.7" rx="2.1" ry="1.15" transform="rotate(68 147.5 2342.7)"/><ellipse cx="95.8" cy="2385.1" rx="2.1" ry="1.15" transform="rotate(58 95.8 2385.1)"/><ellipse cx="69.1" cy="2384.8" rx="2.1" ry="1.15" transform="rotate(73 69.1 2384.8)"/><ellipse cx="110.1" cy="2408" rx="2.1" ry="1.15" transform="rotate(72 110.1 2408)"/><ellipse cx="171.9" cy="2368.3" rx="2.1" ry="1.15" transform="rotate(69 171.9 2368.3)"/><ellipse cx="139" cy="2403.5" rx="2.1" ry="1.15" transform="rotate(54 139 2403.5)"/><ellipse cx="112.5" cy="2332.5" rx="2.1" ry="1.15" transform="rotate(58 112.5 2332.5)"/><ellipse cx="57.3" cy="2361.1" rx="2.1" ry="1.15" transform="rotate(62 57.3 2361.1)"/><ellipse cx="117.7" cy="2329.5" rx="2.1" ry="1.15" transform="rotate(51 117.7 2329.5)"/><ellipse cx="190.4" cy="2360.9" rx="2.1" ry="1.15" transform="rotate(52 190.4 2360.9)"/><ellipse cx="85.5" cy="2390.2" rx="2.1" ry="1.15" transform="rotate(52 85.5 2390.2)"/><ellipse cx="148.5" cy="2345.3" rx="2.1" ry="1.15" transform="rotate(72 148.5 2345.3)"/><ellipse cx="81.3" cy="2401.2" rx="2.1" ry="1.15" transform="rotate(58 81.3 2401.2)"/><ellipse cx="187.7" cy="2393.9" rx="2.1" ry="1.15" transform="rotate(67 187.7 2393.9)"/><ellipse cx="160.8" cy="2334.5" rx="2.1" ry="1.15" transform="rotate(72 160.8 2334.5)"/><ellipse cx="91.7" cy="2367.3" rx="2.1" ry="1.15" transform="rotate(59 91.7 2367.3)"/><ellipse cx="75.1" cy="2409.5" rx="2.1" ry="1.15" transform="rotate(60 75.1 2409.5)"/><ellipse cx="164.7" cy="2345.4" rx="2.1" ry="1.15" transform="rotate(59 164.7 2345.4)"/><ellipse cx="113.5" cy="2332.3" rx="2.1" ry="1.15" transform="rotate(52 113.5 2332.3)"/><ellipse cx="112.9" cy="2350.7" rx="2.1" ry="1.15" transform="rotate(62 112.9 2350.7)"/><ellipse cx="65" cy="2316.9" rx="2.1" ry="1.15" transform="rotate(58 65 2316.9)"/><ellipse cx="93.1" cy="2319.3" rx="2.1" ry="1.15" transform="rotate(63 93.1 2319.3)"/><ellipse cx="160.9" cy="2363.8" rx="2.1" ry="1.15" transform="rotate(74 160.9 2363.8)"/><ellipse cx="132.2" cy="2314" rx="2.1" ry="1.15" transform="rotate(62 132.2 2314)"/><ellipse cx="145.4" cy="2379.4" rx="2.1" ry="1.15" transform="rotate(65 145.4 2379.4)"/><ellipse cx="68.3" cy="2383.9" rx="2.1" ry="1.15" transform="rotate(53 68.3 2383.9)"/><ellipse cx="64.6" cy="2316.2" rx="2.1" ry="1.15" transform="rotate(63 64.6 2316.2)"/><ellipse cx="67" cy="2407.1" rx="2.1" ry="1.15" transform="rotate(56 67 2407.1)"/><ellipse cx="123.9" cy="2342.5" rx="2.1" ry="1.15" transform="rotate(51 123.9 2342.5)"/><ellipse cx="184.9" cy="2344" rx="2.1" ry="1.15" transform="rotate(65 184.9 2344)"/><ellipse cx="175.9" cy="2392.1" rx="2.1" ry="1.15" transform="rotate(53 175.9 2392.1)"/><ellipse cx="108.1" cy="2405" rx="2.1" ry="1.15" transform="rotate(59 108.1 2405)"/><ellipse cx="146" cy="2358.6" rx="2.1" ry="1.15" transform="rotate(68 146 2358.6)"/><ellipse cx="146.1" cy="2352.3" rx="2.1" ry="1.15" transform="rotate(70 146.1 2352.3)"/><ellipse cx="96.8" cy="2345.2" rx="2.1" ry="1.15" transform="rotate(67 96.8 2345.2)"/><ellipse cx="89.3" cy="2362.2" rx="2.1" ry="1.15" transform="rotate(68 89.3 2362.2)"/><ellipse cx="86" cy="2346.3" rx="2.1" ry="1.15" transform="rotate(63 86 2346.3)"/><ellipse cx="140.3" cy="2327.7" rx="2.1" ry="1.15" transform="rotate(54 140.3 2327.7)"/><ellipse cx="89.2" cy="2348" rx="2.1" ry="1.15" transform="rotate(69 89.2 2348)"/><ellipse cx="111.7" cy="2369.7" rx="2.1" ry="1.15" transform="rotate(54 111.7 2369.7)"/><ellipse cx="154" cy="2395.9" rx="2.1" ry="1.15" transform="rotate(64 154 2395.9)"/><ellipse cx="165.6" cy="2373.2" rx="2.1" ry="1.15" transform="rotate(65 165.6 2373.2)"/><ellipse cx="94.2" cy="2315.3" rx="2.1" ry="1.15" transform="rotate(64 94.2 2315.3)"/><ellipse cx="102" cy="2391.2" rx="2.1" ry="1.15" transform="rotate(62 102 2391.2)"/><ellipse cx="85" cy="2322.1" rx="2.1" ry="1.15" transform="rotate(56 85 2322.1)"/><ellipse cx="142.2" cy="2369.3" rx="2.1" ry="1.15" transform="rotate(52 142.2 2369.3)"/><ellipse cx="120.7" cy="2349.9" rx="2.1" ry="1.15" transform="rotate(74 120.7 2349.9)"/><ellipse cx="171.6" cy="2394.1" rx="2.1" ry="1.15" transform="rotate(56 171.6 2394.1)"/><ellipse cx="175.9" cy="2349.5" rx="2.1" ry="1.15" transform="rotate(66 175.9 2349.5)"/><ellipse cx="167.5" cy="2336.4" rx="2.1" ry="1.15" transform="rotate(73 167.5 2336.4)"/><ellipse cx="95.7" cy="2378.7" rx="2.1" ry="1.15" transform="rotate(72 95.7 2378.7)"/><ellipse cx="78.8" cy="2325.8" rx="2.1" ry="1.15" transform="rotate(69 78.8 2325.8)"/><ellipse cx="131.9" cy="2321.8" rx="2.1" ry="1.15" transform="rotate(74 131.9 2321.8)"/><ellipse cx="162.8" cy="2391.2" rx="2.1" ry="1.15" transform="rotate(68 162.8 2391.2)"/><ellipse cx="63" cy="2330.2" rx="2.1" ry="1.15" transform="rotate(51 63 2330.2)"/><ellipse cx="123.8" cy="2315" rx="2.1" ry="1.15" transform="rotate(52 123.8 2315)"/><ellipse cx="184.2" cy="2326.9" rx="2.1" ry="1.15" transform="rotate(69 184.2 2326.9)"/><ellipse cx="132.4" cy="2348.9" rx="2.1" ry="1.15" transform="rotate(64 132.4 2348.9)"/><ellipse cx="150.6" cy="2347.4" rx="2.1" ry="1.15" transform="rotate(63 150.6 2347.4)"/><ellipse cx="149.6" cy="2373.8" rx="2.1" ry="1.15" transform="rotate(58 149.6 2373.8)"/><ellipse cx="100.6" cy="2335.7" rx="2.1" ry="1.15" transform="rotate(60 100.6 2335.7)"/><ellipse cx="55.9" cy="2337.3" rx="2.1" ry="1.15" transform="rotate(56 55.9 2337.3)"/><ellipse cx="78" cy="2320.9" rx="2.1" ry="1.15" transform="rotate(59 78 2320.9)"/><ellipse cx="127.8" cy="2336.2" rx="2.1" ry="1.15" transform="rotate(60 127.8 2336.2)"/><ellipse cx="166.6" cy="2403.9" rx="2.1" ry="1.15" transform="rotate(58 166.6 2403.9)"/><ellipse cx="61.1" cy="2329.7" rx="2.1" ry="1.15" transform="rotate(59 61.1 2329.7)"/><ellipse cx="80.3" cy="2335.6" rx="2.1" ry="1.15" transform="rotate(66 80.3 2335.6)"/><ellipse cx="170.7" cy="2390.8" rx="2.1" ry="1.15" transform="rotate(63 170.7 2390.8)"/><ellipse cx="124.9" cy="2380.7" rx="2.1" ry="1.15" transform="rotate(54 124.9 2380.7)"/><ellipse cx="87.2" cy="2384.7" rx="2.1" ry="1.15" transform="rotate(65 87.2 2384.7)"/><ellipse cx="103.6" cy="2329.1" rx="2.1" ry="1.15" transform="rotate(58 103.6 2329.1)"/><ellipse cx="143.5" cy="2338.7" rx="2.1" ry="1.15" transform="rotate(67 143.5 2338.7)"/><ellipse cx="187.4" cy="2313.9" rx="2.1" ry="1.15" transform="rotate(53 187.4 2313.9)"/><ellipse cx="153.6" cy="2391.8" rx="2.1" ry="1.15" transform="rotate(53 153.6 2391.8)"/><ellipse cx="97.9" cy="2400.4" rx="2.1" ry="1.15" transform="rotate(55 97.9 2400.4)"/><ellipse cx="108.2" cy="2409.6" rx="2.1" ry="1.15" transform="rotate(60 108.2 2409.6)"/><ellipse cx="177.5" cy="2364.9" rx="2.1" ry="1.15" transform="rotate(63 177.5 2364.9)"/><ellipse cx="124.4" cy="2364" rx="2.1" ry="1.15" transform="rotate(69 124.4 2364)"/><ellipse cx="72.1" cy="2341.2" rx="2.1" ry="1.15" transform="rotate(70 72.1 2341.2)"/><ellipse cx="124.9" cy="2408" rx="2.1" ry="1.15" transform="rotate(74 124.9 2408)"/><ellipse cx="84.8" cy="2392.1" rx="2.1" ry="1.15" transform="rotate(52 84.8 2392.1)"/><ellipse cx="143.9" cy="2342.8" rx="2.1" ry="1.15" transform="rotate(62 143.9 2342.8)"/><ellipse cx="98.8" cy="2330.3" rx="2.1" ry="1.15" transform="rotate(65 98.8 2330.3)"/><ellipse cx="170.4" cy="2363.4" rx="2.1" ry="1.15" transform="rotate(62 170.4 2363.4)"/><ellipse cx="104.9" cy="2411.8" rx="2.1" ry="1.15" transform="rotate(53 104.9 2411.8)"/><ellipse cx="175.1" cy="2344.6" rx="2.1" ry="1.15" transform="rotate(54 175.1 2344.6)"/><ellipse cx="113.5" cy="2372.4" rx="2.1" ry="1.15" transform="rotate(52 113.5 2372.4)"/><ellipse cx="79.8" cy="2365.9" rx="2.1" ry="1.15" transform="rotate(55 79.8 2365.9)"/><ellipse cx="172.4" cy="2324.2" rx="2.1" ry="1.15" transform="rotate(52 172.4 2324.2)"/><ellipse cx="188" cy="2387.5" rx="2.1" ry="1.15" transform="rotate(71 188 2387.5)"/><ellipse cx="124.7" cy="2354.1" rx="2.1" ry="1.15" transform="rotate(65 124.7 2354.1)"/><ellipse cx="129.8" cy="2341" rx="2.1" ry="1.15" transform="rotate(54 129.8 2341)"/><ellipse cx="179.3" cy="2335.4" rx="2.1" ry="1.15" transform="rotate(51 179.3 2335.4)"/><ellipse cx="112.5" cy="2343.6" rx="2.1" ry="1.15" transform="rotate(62 112.5 2343.6)"/><ellipse cx="72.4" cy="2361.4" rx="2.1" ry="1.15" transform="rotate(58 72.4 2361.4)"/><ellipse cx="86.4" cy="2403.1" rx="2.1" ry="1.15" transform="rotate(55 86.4 2403.1)"/><ellipse cx="166.1" cy="2408.4" rx="2.1" ry="1.15" transform="rotate(64 166.1 2408.4)"/><ellipse cx="150.9" cy="2400.5" rx="2.1" ry="1.15" transform="rotate(72 150.9 2400.5)"/><ellipse cx="157.6" cy="2346.5" rx="2.1" ry="1.15" transform="rotate(56 157.6 2346.5)"/><ellipse cx="114.3" cy="2388.5" rx="2.1" ry="1.15" transform="rotate(66 114.3 2388.5)"/><ellipse cx="104.1" cy="2356.2" rx="2.1" ry="1.15" transform="rotate(69 104.1 2356.2)"/><ellipse cx="164" cy="2367.2" rx="2.1" ry="1.15" transform="rotate(53 164 2367.2)"/><ellipse cx="96.1" cy="2341.6" rx="2.1" ry="1.15" transform="rotate(61 96.1 2341.6)"/><ellipse cx="126.3" cy="2357.9" rx="2.1" ry="1.15" transform="rotate(74 126.3 2357.9)"/><ellipse cx="173" cy="2326.8" rx="2.1" ry="1.15" transform="rotate(68 173 2326.8)"/><ellipse cx="125.8" cy="2321.7" rx="2.1" ry="1.15" transform="rotate(57 125.8 2321.7)"/><ellipse cx="127.6" cy="2353.6" rx="2.1" ry="1.15" transform="rotate(69 127.6 2353.6)"/><ellipse cx="160.9" cy="2336.3" rx="2.1" ry="1.15" transform="rotate(50 160.9 2336.3)"/><ellipse cx="93.5" cy="2377.2" rx="2.1" ry="1.15" transform="rotate(72 93.5 2377.2)"/><ellipse cx="180.1" cy="2346.7" rx="2.1" ry="1.15" transform="rotate(51 180.1 2346.7)"/><ellipse cx="76.3" cy="2366.9" rx="2.1" ry="1.15" transform="rotate(72 76.3 2366.9)"/><ellipse cx="57.7" cy="2322.5" rx="2.1" ry="1.15" transform="rotate(58 57.7 2322.5)"/><ellipse cx="174.1" cy="2351.2" rx="2.1" ry="1.15" transform="rotate(54 174.1 2351.2)"/><ellipse cx="73.2" cy="2402.4" rx="2.1" ry="1.15" transform="rotate(63 73.2 2402.4)"/><ellipse cx="161.7" cy="2360.7" rx="2.1" ry="1.15" transform="rotate(55 161.7 2360.7)"/><ellipse cx="70.7" cy="2321.9" rx="2.1" ry="1.15" transform="rotate(53 70.7 2321.9)"/><ellipse cx="111.9" cy="2323.2" rx="2.1" ry="1.15" transform="rotate(70 111.9 2323.2)"/><ellipse cx="180.3" cy="2379.5" rx="2.1" ry="1.15" transform="rotate(74 180.3 2379.5)"/><ellipse cx="141.8" cy="2402.1" rx="2.1" ry="1.15" transform="rotate(68 141.8 2402.1)"/><ellipse cx="112.3" cy="2401.1" rx="2.1" ry="1.15" transform="rotate(66 112.3 2401.1)"/><ellipse cx="134.9" cy="2360.3" rx="2.1" ry="1.15" transform="rotate(57 134.9 2360.3)"/><ellipse cx="79.6" cy="2336.5" rx="2.1" ry="1.15" transform="rotate(65 79.6 2336.5)"/><ellipse cx="148.7" cy="2338.6" rx="2.1" ry="1.15" transform="rotate(60 148.7 2338.6)"/><ellipse cx="137.9" cy="2380.2" rx="2.1" ry="1.15" transform="rotate(60 137.9 2380.2)"/><ellipse cx="101.6" cy="2402.6" rx="2.1" ry="1.15" transform="rotate(55 101.6 2402.6)"/><ellipse cx="147.2" cy="2360" rx="2.1" ry="1.15" transform="rotate(55 147.2 2360)"/><ellipse cx="124.9" cy="2414" rx="2.1" ry="1.15" transform="rotate(53 124.9 2414)"/><ellipse cx="130.5" cy="2364.2" rx="2.1" ry="1.15" transform="rotate(56 130.5 2364.2)"/><ellipse cx="67.1" cy="2375.7" rx="2.1" ry="1.15" transform="rotate(58 67.1 2375.7)"/><ellipse cx="139" cy="2358.6" rx="2.1" ry="1.15" transform="rotate(72 139 2358.6)"/><ellipse cx="102" cy="2377.2" rx="2.1" ry="1.15" transform="rotate(64 102 2377.2)"/><ellipse cx="110.9" cy="2357.8" rx="2.1" ry="1.15" transform="rotate(60 110.9 2357.8)"/><ellipse cx="145.7" cy="2368.3" rx="2.1" ry="1.15" transform="rotate(66 145.7 2368.3)"/><ellipse cx="185.8" cy="2360" rx="2.1" ry="1.15" transform="rotate(65 185.8 2360)"/><ellipse cx="110.5" cy="2358.4" rx="2.1" ry="1.15" transform="rotate(50 110.5 2358.4)"/><ellipse cx="109.3" cy="2370.7" rx="2.1" ry="1.15" transform="rotate(52 109.3 2370.7)"/><ellipse cx="146.5" cy="2365.3" rx="2.1" ry="1.15" transform="rotate(74 146.5 2365.3)"/><ellipse cx="120.4" cy="2375.7" rx="2.1" ry="1.15" transform="rotate(69 120.4 2375.7)"/><ellipse cx="187.5" cy="2335.9" rx="2.1" ry="1.15" transform="rotate(67 187.5 2335.9)"/><ellipse cx="186.8" cy="2367.9" rx="2.1" ry="1.15" transform="rotate(59 186.8 2367.9)"/><ellipse cx="118.8" cy="2337.9" rx="2.1" ry="1.15" transform="rotate(52 118.8 2337.9)"/><ellipse cx="101.8" cy="2316.9" rx="2.1" ry="1.15" transform="rotate(60 101.8 2316.9)"/><ellipse cx="114.7" cy="2313.7" rx="2.1" ry="1.15" transform="rotate(63 114.7 2313.7)"/><ellipse cx="140.7" cy="2341.6" rx="2.1" ry="1.15" transform="rotate(58 140.7 2341.6)"/><ellipse cx="106.8" cy="2407.9" rx="2.1" ry="1.15" transform="rotate(58 106.8 2407.9)"/><ellipse cx="99.7" cy="2321.7" rx="2.1" ry="1.15" transform="rotate(69 99.7 2321.7)"/><ellipse cx="130.7" cy="2353" rx="2.1" ry="1.15" transform="rotate(57 130.7 2353)"/><ellipse cx="124.4" cy="2322.8" rx="2.1" ry="1.15" transform="rotate(57 124.4 2322.8)"/><ellipse cx="84" cy="2388.9" rx="2.1" ry="1.15" transform="rotate(69 84 2388.9)"/><ellipse cx="137.2" cy="2327" rx="2.1" ry="1.15" transform="rotate(53 137.2 2327)"/><ellipse cx="67.4" cy="2366" rx="2.1" ry="1.15" transform="rotate(68 67.4 2366)"/><ellipse cx="105.5" cy="2348.6" rx="2.1" ry="1.15" transform="rotate(72 105.5 2348.6)"/><ellipse cx="96.7" cy="2342.9" rx="2.1" ry="1.15" transform="rotate(65 96.7 2342.9)"/><ellipse cx="61.4" cy="2407.2" rx="2.1" ry="1.15" transform="rotate(65 61.4 2407.2)"/><ellipse cx="186" cy="2366" rx="2.1" ry="1.15" transform="rotate(65 186 2366)"/><ellipse cx="115.8" cy="2375.4" rx="2.1" ry="1.15" transform="rotate(54 115.8 2375.4)"/><ellipse cx="154.6" cy="2313.5" rx="2.1" ry="1.15" transform="rotate(65 154.6 2313.5)"/><ellipse cx="74.9" cy="2381.9" rx="2.1" ry="1.15" transform="rotate(69 74.9 2381.9)"/><ellipse cx="63.5" cy="2319.4" rx="2.1" ry="1.15" transform="rotate(58 63.5 2319.4)"/><ellipse cx="101.1" cy="2373.1" rx="2.1" ry="1.15" transform="rotate(71 101.1 2373.1)"/><ellipse cx="75.5" cy="2325.5" rx="2.1" ry="1.15" transform="rotate(74 75.5 2325.5)"/><ellipse cx="145.8" cy="2413.9" rx="2.1" ry="1.15" transform="rotate(61 145.8 2413.9)"/><ellipse cx="114.1" cy="2318" rx="2.1" ry="1.15" transform="rotate(64 114.1 2318)"/><ellipse cx="187.2" cy="2354.3" rx="2.1" ry="1.15" transform="rotate(67 187.2 2354.3)"/><ellipse cx="87.1" cy="2410.2" rx="2.1" ry="1.15" transform="rotate(53 87.1 2410.2)"/><ellipse cx="95.2" cy="2374.7" rx="2.1" ry="1.15" transform="rotate(66 95.2 2374.7)"/><ellipse cx="116.7" cy="2343.8" rx="2.1" ry="1.15" transform="rotate(63 116.7 2343.8)"/><ellipse cx="145.6" cy="2400.6" rx="2.1" ry="1.15" transform="rotate(67 145.6 2400.6)"/><ellipse cx="112" cy="2413.1" rx="2.1" ry="1.15" transform="rotate(62 112 2413.1)"/><ellipse cx="145.7" cy="2341.9" rx="2.1" ry="1.15" transform="rotate(54 145.7 2341.9)"/><ellipse cx="88.7" cy="2400.9" rx="2.1" ry="1.15" transform="rotate(64 88.7 2400.9)"/><ellipse cx="92.3" cy="2342.5" rx="2.1" ry="1.15" transform="rotate(70 92.3 2342.5)"/><ellipse cx="99.4" cy="2334" rx="2.1" ry="1.15" transform="rotate(60 99.4 2334)"/><ellipse cx="177.9" cy="2408.3" rx="2.1" ry="1.15" transform="rotate(69 177.9 2408.3)"/><ellipse cx="173.6" cy="2352.1" rx="2.1" ry="1.15" transform="rotate(56 173.6 2352.1)"/><ellipse cx="125.9" cy="2313.3" rx="2.1" ry="1.15" transform="rotate(72 125.9 2313.3)"/><ellipse cx="86.7" cy="2325.4" rx="2.1" ry="1.15" transform="rotate(64 86.7 2325.4)"/><ellipse cx="71.9" cy="2397" rx="2.1" ry="1.15" transform="rotate(60 71.9 2397)"/><ellipse cx="125.2" cy="2403.1" rx="2.1" ry="1.15" transform="rotate(60 125.2 2403.1)"/><ellipse cx="183.5" cy="2365.6" rx="2.1" ry="1.15" transform="rotate(59 183.5 2365.6)"/><ellipse cx="72.3" cy="2358.5" rx="2.1" ry="1.15" transform="rotate(67 72.3 2358.5)"/><ellipse cx="66.1" cy="2412.6" rx="2.1" ry="1.15" transform="rotate(56 66.1 2412.6)"/><ellipse cx="144.4" cy="2400" rx="2.1" ry="1.15" transform="rotate(52 144.4 2400)"/><ellipse cx="87.5" cy="2402.6" rx="2.1" ry="1.15" transform="rotate(72 87.5 2402.6)"/><ellipse cx="62.6" cy="2373.7" rx="2.1" ry="1.15" transform="rotate(67 62.6 2373.7)"/><ellipse cx="101.7" cy="2395.4" rx="2.1" ry="1.15" transform="rotate(65 101.7 2395.4)"/><ellipse cx="113.4" cy="2330.3" rx="2.1" ry="1.15" transform="rotate(72 113.4 2330.3)"/><ellipse cx="189.4" cy="2345.2" rx="2.1" ry="1.15" transform="rotate(67 189.4 2345.2)"/><ellipse cx="135.5" cy="2385.7" rx="2.1" ry="1.15" transform="rotate(54 135.5 2385.7)"/><ellipse cx="86.9" cy="2392.8" rx="2.1" ry="1.15" transform="rotate(51 86.9 2392.8)"/><ellipse cx="67" cy="2406" rx="2.1" ry="1.15" transform="rotate(52 67 2406)"/><ellipse cx="102.8" cy="2381.5" rx="2.1" ry="1.15" transform="rotate(53 102.8 2381.5)"/><ellipse cx="177.6" cy="2384.1" rx="2.1" ry="1.15" transform="rotate(67 177.6 2384.1)"/><ellipse cx="92.6" cy="2360.5" rx="2.1" ry="1.15" transform="rotate(73 92.6 2360.5)"/><ellipse cx="69.5" cy="2354.2" rx="2.1" ry="1.15" transform="rotate(63 69.5 2354.2)"/><ellipse cx="148" cy="2378.1" rx="2.1" ry="1.15" transform="rotate(66 148 2378.1)"/><ellipse cx="77.4" cy="2371.4" rx="2.1" ry="1.15" transform="rotate(69 77.4 2371.4)"/><ellipse cx="158.4" cy="2318.1" rx="2.1" ry="1.15" transform="rotate(67 158.4 2318.1)"/><ellipse cx="119.2" cy="2335.9" rx="2.1" ry="1.15" transform="rotate(56 119.2 2335.9)"/><ellipse cx="102.1" cy="2321.6" rx="2.1" ry="1.15" transform="rotate(53 102.1 2321.6)"/><ellipse cx="104.8" cy="2327.9" rx="2.1" ry="1.15" transform="rotate(58 104.8 2327.9)"/></g><g fill="none" stroke="#8a8a8a" stroke-width="0.6"><circle cx="144.7" cy="2344" r="1.5"/><circle cx="72.8" cy="2357.1" r="1.5"/><circle cx="88.8" cy="2336.3" r="1.5"/><circle cx="182.8" cy="2336.8" r="1.5"/><circle cx="113.5" cy="2376.3" r="1.5"/><circle cx="139.8" cy="2334.8" r="1.5"/><circle cx="78.9" cy="2351.1" r="1.5"/><circle cx="84.5" cy="2366.9" r="1.5"/><circle cx="155.1" cy="2336.6" r="1.5"/><circle cx="136.5" cy="2342.9" r="1.5"/><circle cx="80.5" cy="2386.7" r="1.5"/><circle cx="159.9" cy="2325" r="1.5"/><circle cx="60.9" cy="2401.5" r="1.5"/><circle cx="135.1" cy="2371.7" r="1.5"/><circle cx="133.8" cy="2331.6" r="1.5"/><circle cx="56.8" cy="2350.6" r="1.5"/><circle cx="175.4" cy="2378.4" r="1.5"/><circle cx="185.9" cy="2321" r="1.5"/><circle cx="162.8" cy="2403.4" r="1.5"/><circle cx="189.1" cy="2405.3" r="1.5"/><circle cx="149.5" cy="2410.9" r="1.5"/><circle cx="95.2" cy="2368" r="1.5"/><circle cx="187.6" cy="2404.6" r="1.5"/><circle cx="121.6" cy="2343.9" r="1.5"/><circle cx="120.1" cy="2333.2" r="1.5"/><circle cx="118.8" cy="2399.3" r="1.5"/><circle cx="71.6" cy="2388.7" r="1.5"/><circle cx="117.9" cy="2377.2" r="1.5"/><circle cx="168.8" cy="2368.1" r="1.5"/><circle cx="164.8" cy="2337" r="1.5"/><circle cx="143" cy="2319.2" r="1.5"/><circle cx="162.4" cy="2362.9" r="1.5"/><circle cx="109.1" cy="2335.3" r="1.5"/><circle cx="57.3" cy="2338" r="1.5"/><circle cx="114.6" cy="2413" r="1.5"/><circle cx="176.3" cy="2384.4" r="1.5"/><circle cx="89.9" cy="2390.1" r="1.5"/><circle cx="191.6" cy="2376.1" r="1.5"/><circle cx="104.8" cy="2357.5" r="1.5"/><circle cx="150.2" cy="2361.7" r="1.5"/><circle cx="100.3" cy="2335" r="1.5"/><circle cx="117.7" cy="2364.4" r="1.5"/><circle cx="142" cy="2329.9" r="1.5"/><circle cx="118.8" cy="2344.2" r="1.5"/><circle cx="101" cy="2371.7" r="1.5"/><circle cx="85" cy="2313.2" r="1.5"/><circle cx="106.5" cy="2351.5" r="1.5"/><circle cx="149.4" cy="2374.4" r="1.5"/><circle cx="123.1" cy="2321.3" r="1.5"/><circle cx="180.8" cy="2344.4" r="1.5"/><circle cx="111.4" cy="2349" r="1.5"/><circle cx="141.9" cy="2409.7" r="1.5"/><circle cx="81.5" cy="2335" r="1.5"/><circle cx="77.6" cy="2406.1" r="1.5"/><circle cx="88.7" cy="2319.5" r="1.5"/><circle cx="69.6" cy="2348.2" r="1.5"/><circle cx="157.2" cy="2321.8" r="1.5"/><circle cx="145.8" cy="2403.7" r="1.5"/><circle cx="99.1" cy="2389.3" r="1.5"/><circle cx="126.5" cy="2378.8" r="1.5"/><circle cx="166.1" cy="2322.1" r="1.5"/><circle cx="63.3" cy="2409.6" r="1.5"/><circle cx="93.4" cy="2410.1" r="1.5"/><circle cx="108.7" cy="2328.5" r="1.5"/><circle cx="168.1" cy="2332.1" r="1.5"/><circle cx="70.4" cy="2363.4" r="1.5"/><circle cx="155.1" cy="2333.1" r="1.5"/><circle cx="146.7" cy="2410.5" r="1.5"/><circle cx="124.5" cy="2413.2" r="1.5"/><circle cx="151.6" cy="2407.7" r="1.5"/><circle cx="55.3" cy="2366.9" r="1.5"/><circle cx="129" cy="2364.5" r="1.5"/><circle cx="159.2" cy="2391.3" r="1.5"/><circle cx="189.2" cy="2325.7" r="1.5"/><circle cx="77.6" cy="2376.1" r="1.5"/><circle cx="59.4" cy="2314.7" r="1.5"/><circle cx="97.8" cy="2409.5" r="1.5"/><circle cx="184.6" cy="2316.4" r="1.5"/><circle cx="164.1" cy="2324" r="1.5"/><circle cx="179.7" cy="2322" r="1.5"/><circle cx="130.4" cy="2408.2" r="1.5"/><circle cx="60.8" cy="2411.1" r="1.5"/><circle cx="86.8" cy="2350.9" r="1.5"/><circle cx="91.5" cy="2321.2" r="1.5"/><circle cx="143.2" cy="2358" r="1.5"/><circle cx="116.8" cy="2400.5" r="1.5"/><circle cx="71.7" cy="2349.2" r="1.5"/><circle cx="135.4" cy="2356.9" r="1.5"/><circle cx="111.7" cy="2373.3" r="1.5"/><circle cx="131.2" cy="2324.6" r="1.5"/><circle cx="116.7" cy="2403.9" r="1.5"/><circle cx="134.1" cy="2387.4" r="1.5"/><circle cx="92.8" cy="2314.1" r="1.5"/><circle cx="165.3" cy="2335.5" r="1.5"/><circle cx="126.2" cy="2328.3" r="1.5"/><circle cx="157" cy="2399.6" r="1.5"/><circle cx="57" cy="2402.9" r="1.5"/><circle cx="137.3" cy="2387" r="1.5"/><circle cx="83.1" cy="2400.5" r="1.5"/><circle cx="81.7" cy="2390.6" r="1.5"/></g></g>
<rect x="179.3" y="2411.8" width="12" height="3" fill="#000" stroke="none" stroke-width="0"/>
<g clip-path="url(#gc29)"><rect x="254.2" y="2312.8" width="136.5" height="102.2" fill="#d8dbd7"/><g filter="url(#soft)"><ellipse cx="312.6" cy="2373.8" rx="2.7" ry="1.8" transform="rotate(98 312.6 2373.8)" fill="#6a50d0" fill-opacity="0.52"/><ellipse cx="313.6" cy="2355.2" rx="4.7" ry="3.8" transform="rotate(151 313.6 2355.2)" fill="#6a50d0" fill-opacity="0.70"/><ellipse cx="317.9" cy="2367.6" rx="3.2" ry="2.1" transform="rotate(11 317.9 2367.6)" fill="#6a50d0" fill-opacity="0.59"/><ellipse cx="309.2" cy="2379.6" rx="4.3" ry="3.9" transform="rotate(42 309.2 2379.6)" fill="#5a3cc8" fill-opacity="0.43"/><ellipse cx="306.7" cy="2380.7" rx="4.9" ry="3.2" transform="rotate(120 306.7 2380.7)" fill="#7a62d8" fill-opacity="0.49"/><ellipse cx="304.3" cy="2382.5" rx="4.6" ry="3.7" transform="rotate(93 304.3 2382.5)" fill="#5a3cc8" fill-opacity="0.55"/><ellipse cx="278.7" cy="2399.8" rx="2.4" ry="1.9" transform="rotate(11 278.7 2399.8)" fill="#6a50d0" fill-opacity="0.51"/><ellipse cx="284.7" cy="2403.2" rx="3.8" ry="2.2" transform="rotate(45 284.7 2403.2)" fill="#8a74e0" fill-opacity="0.72"/><ellipse cx="280.8" cy="2396.7" rx="3.9" ry="2.2" transform="rotate(149 280.8 2396.7)" fill="#6a50d0" fill-opacity="0.50"/><ellipse cx="292.8" cy="2390" rx="4.8" ry="4.5" transform="rotate(130 292.8 2390)" fill="#8a74e0" fill-opacity="0.52"/><ellipse cx="298" cy="2390.5" rx="4.5" ry="3.8" transform="rotate(38 298 2390.5)" fill="#7a62d8" fill-opacity="0.66"/><ellipse cx="302" cy="2391.3" rx="4.2" ry="2.4" transform="rotate(160 302 2391.3)" fill="#7a62d8" fill-opacity="0.41"/><ellipse cx="287.3" cy="2394.1" rx="2.4" ry="1.8" transform="rotate(25 287.3 2394.1)" fill="#5a3cc8" fill-opacity="0.42"/><ellipse cx="291" cy="2393.4" rx="2.6" ry="2.5" transform="rotate(87 291 2393.4)" fill="#6a50d0" fill-opacity="0.53"/><ellipse cx="288.4" cy="2392.1" rx="4" ry="2.4" transform="rotate(130 288.4 2392.1)" fill="#8a74e0" fill-opacity="0.71"/><ellipse cx="343" cy="2317.7" rx="4.7" ry="3.6" transform="rotate(107 343 2317.7)" fill="#7a62d8" fill-opacity="0.49"/><ellipse cx="336.2" cy="2323.5" rx="3.2" ry="2.5" transform="rotate(47 336.2 2323.5)" fill="#8a74e0" fill-opacity="0.48"/><ellipse cx="328.2" cy="2326.2" rx="2.8" ry="2.3" transform="rotate(72 328.2 2326.2)" fill="#7a62d8" fill-opacity="0.71"/><ellipse cx="280.8" cy="2330.5" rx="2.4" ry="2.3" transform="rotate(51 280.8 2330.5)" fill="#6a50d0" fill-opacity="0.53"/><ellipse cx="267.3" cy="2321" rx="3.8" ry="2.9" transform="rotate(178 267.3 2321)" fill="#5a3cc8" fill-opacity="0.73"/><ellipse cx="271.9" cy="2335.3" rx="4.5" ry="2.7" transform="rotate(106 271.9 2335.3)" fill="#6a50d0" fill-opacity="0.59"/><ellipse cx="287.8" cy="2391.2" rx="3.8" ry="2.5" transform="rotate(136 287.8 2391.2)" fill="#7a62d8" fill-opacity="0.42"/><ellipse cx="295.8" cy="2396.8" rx="4.3" ry="2.3" transform="rotate(39 295.8 2396.8)" fill="#7a62d8" fill-opacity="0.53"/><ellipse cx="293.6" cy="2398" rx="4.2" ry="3.8" transform="rotate(7 293.6 2398)" fill="#6a50d0" fill-opacity="0.65"/><ellipse cx="296" cy="2322.6" rx="4" ry="3.3" transform="rotate(33 296 2322.6)" fill="#6a50d0" fill-opacity="0.62"/><ellipse cx="286.4" cy="2315.5" rx="4.2" ry="2.2" transform="rotate(51 286.4 2315.5)" fill="#8a74e0" fill-opacity="0.52"/><ellipse cx="292.5" cy="2318.3" rx="4.6" ry="3.5" transform="rotate(99 292.5 2318.3)" fill="#6a50d0" fill-opacity="0.76"/></g><g fill="#505050" fill-opacity="0.88"><ellipse cx="302.4" cy="2326.2" rx="2.1" ry="1.15" transform="rotate(67 302.4 2326.2)"/><ellipse cx="287.5" cy="2322.6" rx="2.1" ry="1.15" transform="rotate(86 287.5 2322.6)"/><ellipse cx="330" cy="2394.3" rx="2.1" ry="1.15" transform="rotate(74 330 2394.3)"/><ellipse cx="325.4" cy="2335.8" rx="2.1" ry="1.15" transform="rotate(84 325.4 2335.8)"/><ellipse cx="311.6" cy="2354.3" rx="2.1" ry="1.15" transform="rotate(81 311.6 2354.3)"/><ellipse cx="372.8" cy="2414.7" rx="2.1" ry="1.15" transform="rotate(75 372.8 2414.7)"/><ellipse cx="312.1" cy="2397.2" rx="2.1" ry="1.15" transform="rotate(73 312.1 2397.2)"/><ellipse cx="281.8" cy="2361.6" rx="2.1" ry="1.15" transform="rotate(70 281.8 2361.6)"/><ellipse cx="289.4" cy="2391.8" rx="2.1" ry="1.15" transform="rotate(71 289.4 2391.8)"/><ellipse cx="339.6" cy="2343.8" rx="2.1" ry="1.15" transform="rotate(66 339.6 2343.8)"/><ellipse cx="360.8" cy="2392" rx="2.1" ry="1.15" transform="rotate(80 360.8 2392)"/><ellipse cx="337.4" cy="2330.6" rx="2.1" ry="1.15" transform="rotate(75 337.4 2330.6)"/><ellipse cx="367.9" cy="2393" rx="2.1" ry="1.15" transform="rotate(77 367.9 2393)"/><ellipse cx="340.3" cy="2330.2" rx="2.1" ry="1.15" transform="rotate(64 340.3 2330.2)"/><ellipse cx="369.7" cy="2314.7" rx="2.1" ry="1.15" transform="rotate(69 369.7 2314.7)"/><ellipse cx="308.8" cy="2384.4" rx="2.1" ry="1.15" transform="rotate(80 308.8 2384.4)"/><ellipse cx="372.5" cy="2407.8" rx="2.1" ry="1.15" transform="rotate(70 372.5 2407.8)"/><ellipse cx="288.2" cy="2325.3" rx="2.1" ry="1.15" transform="rotate(71 288.2 2325.3)"/><ellipse cx="268.2" cy="2411" rx="2.1" ry="1.15" transform="rotate(77 268.2 2411)"/><ellipse cx="321.2" cy="2318.7" rx="2.1" ry="1.15" transform="rotate(85 321.2 2318.7)"/><ellipse cx="287.6" cy="2391.5" rx="2.1" ry="1.15" transform="rotate(68 287.6 2391.5)"/><ellipse cx="291.1" cy="2326.8" rx="2.1" ry="1.15" transform="rotate(76 291.1 2326.8)"/><ellipse cx="293" cy="2371.2" rx="2.1" ry="1.15" transform="rotate(80 293 2371.2)"/><ellipse cx="285" cy="2326.3" rx="2.1" ry="1.15" transform="rotate(75 285 2326.3)"/><ellipse cx="308.8" cy="2358.5" rx="2.1" ry="1.15" transform="rotate(72 308.8 2358.5)"/><ellipse cx="276.7" cy="2325.3" rx="2.1" ry="1.15" transform="rotate(80 276.7 2325.3)"/><ellipse cx="340.8" cy="2383.1" rx="2.1" ry="1.15" transform="rotate(78 340.8 2383.1)"/><ellipse cx="324.3" cy="2332.9" rx="2.1" ry="1.15" transform="rotate(85 324.3 2332.9)"/><ellipse cx="326.9" cy="2359.6" rx="2.1" ry="1.15" transform="rotate(69 326.9 2359.6)"/><ellipse cx="305.7" cy="2413" rx="2.1" ry="1.15" transform="rotate(73 305.7 2413)"/><ellipse cx="363.9" cy="2325.5" rx="2.1" ry="1.15" transform="rotate(77 363.9 2325.5)"/><ellipse cx="291.3" cy="2336.7" rx="2.1" ry="1.15" transform="rotate(70 291.3 2336.7)"/><ellipse cx="308.3" cy="2378.6" rx="2.1" ry="1.15" transform="rotate(73 308.3 2378.6)"/><ellipse cx="371.7" cy="2328.6" rx="2.1" ry="1.15" transform="rotate(84 371.7 2328.6)"/><ellipse cx="313.8" cy="2393.8" rx="2.1" ry="1.15" transform="rotate(72 313.8 2393.8)"/><ellipse cx="289.3" cy="2404.2" rx="2.1" ry="1.15" transform="rotate(78 289.3 2404.2)"/><ellipse cx="352.8" cy="2366.2" rx="2.1" ry="1.15" transform="rotate(80 352.8 2366.2)"/><ellipse cx="384.8" cy="2388.5" rx="2.1" ry="1.15" transform="rotate(86 384.8 2388.5)"/><ellipse cx="301.9" cy="2343.2" rx="2.1" ry="1.15" transform="rotate(84 301.9 2343.2)"/><ellipse cx="368" cy="2403.6" rx="2.1" ry="1.15" transform="rotate(73 368 2403.6)"/><ellipse cx="310.7" cy="2409.6" rx="2.1" ry="1.15" transform="rotate(68 310.7 2409.6)"/><ellipse cx="276.9" cy="2330.4" rx="2.1" ry="1.15" transform="rotate(70 276.9 2330.4)"/><ellipse cx="311.2" cy="2351.9" rx="2.1" ry="1.15" transform="rotate(74 311.2 2351.9)"/><ellipse cx="259" cy="2347.7" rx="2.1" ry="1.15" transform="rotate(75 259 2347.7)"/><ellipse cx="261.6" cy="2362" rx="2.1" ry="1.15" transform="rotate(85 261.6 2362)"/><ellipse cx="343.4" cy="2409.5" rx="2.1" ry="1.15" transform="rotate(84 343.4 2409.5)"/><ellipse cx="321.6" cy="2315" rx="2.1" ry="1.15" transform="rotate(64 321.6 2315)"/><ellipse cx="332.9" cy="2398.9" rx="2.1" ry="1.15" transform="rotate(71 332.9 2398.9)"/><ellipse cx="272.2" cy="2390.4" rx="2.1" ry="1.15" transform="rotate(76 272.2 2390.4)"/><ellipse cx="318.1" cy="2325.9" rx="2.1" ry="1.15" transform="rotate(76 318.1 2325.9)"/><ellipse cx="332.5" cy="2385.4" rx="2.1" ry="1.15" transform="rotate(85 332.5 2385.4)"/><ellipse cx="264.5" cy="2397.7" rx="2.1" ry="1.15" transform="rotate(71 264.5 2397.7)"/><ellipse cx="310.9" cy="2348" rx="2.1" ry="1.15" transform="rotate(82 310.9 2348)"/><ellipse cx="314.4" cy="2320.1" rx="2.1" ry="1.15" transform="rotate(74 314.4 2320.1)"/><ellipse cx="274.4" cy="2314.4" rx="2.1" ry="1.15" transform="rotate(64 274.4 2314.4)"/><ellipse cx="306.2" cy="2358.9" rx="2.1" ry="1.15" transform="rotate(63 306.2 2358.9)"/><ellipse cx="272.9" cy="2405" rx="2.1" ry="1.15" transform="rotate(76 272.9 2405)"/><ellipse cx="388" cy="2368.2" rx="2.1" ry="1.15" transform="rotate(86 388 2368.2)"/><ellipse cx="348.6" cy="2352.4" rx="2.1" ry="1.15" transform="rotate(64 348.6 2352.4)"/><ellipse cx="274.4" cy="2393.8" rx="2.1" ry="1.15" transform="rotate(79 274.4 2393.8)"/><ellipse cx="294.8" cy="2329.5" rx="2.1" ry="1.15" transform="rotate(78 294.8 2329.5)"/><ellipse cx="381.1" cy="2338.2" rx="2.1" ry="1.15" transform="rotate(87 381.1 2338.2)"/><ellipse cx="327.1" cy="2334.1" rx="2.1" ry="1.15" transform="rotate(67 327.1 2334.1)"/><ellipse cx="351.3" cy="2407.6" rx="2.1" ry="1.15" transform="rotate(68 351.3 2407.6)"/><ellipse cx="286.7" cy="2327.4" rx="2.1" ry="1.15" transform="rotate(68 286.7 2327.4)"/><ellipse cx="285" cy="2355.5" rx="2.1" ry="1.15" transform="rotate(69 285 2355.5)"/><ellipse cx="344.7" cy="2337.3" rx="2.1" ry="1.15" transform="rotate(69 344.7 2337.3)"/><ellipse cx="311.4" cy="2330.1" rx="2.1" ry="1.15" transform="rotate(64 311.4 2330.1)"/><ellipse cx="266.5" cy="2313.3" rx="2.1" ry="1.15" transform="rotate(79 266.5 2313.3)"/><ellipse cx="260.9" cy="2361.8" rx="2.1" ry="1.15" transform="rotate(84 260.9 2361.8)"/><ellipse cx="338.1" cy="2344.1" rx="2.1" ry="1.15" transform="rotate(73 338.1 2344.1)"/><ellipse cx="312.5" cy="2345.6" rx="2.1" ry="1.15" transform="rotate(64 312.5 2345.6)"/><ellipse cx="275.5" cy="2327.4" rx="2.1" ry="1.15" transform="rotate(68 275.5 2327.4)"/><ellipse cx="299.4" cy="2323.3" rx="2.1" ry="1.15" transform="rotate(78 299.4 2323.3)"/><ellipse cx="281.5" cy="2365" rx="2.1" ry="1.15" transform="rotate(80 281.5 2365)"/><ellipse cx="322.1" cy="2388.5" rx="2.1" ry="1.15" transform="rotate(82 322.1 2388.5)"/><ellipse cx="315.3" cy="2334.5" rx="2.1" ry="1.15" transform="rotate(64 315.3 2334.5)"/><ellipse cx="348.8" cy="2350.4" rx="2.1" ry="1.15" transform="rotate(70 348.8 2350.4)"/><ellipse cx="265.6" cy="2331.2" rx="2.1" ry="1.15" transform="rotate(84 265.6 2331.2)"/><ellipse cx="318.6" cy="2399.4" rx="2.1" ry="1.15" transform="rotate(83 318.6 2399.4)"/><ellipse cx="288.1" cy="2335.9" rx="2.1" ry="1.15" transform="rotate(84 288.1 2335.9)"/><ellipse cx="286.5" cy="2374" rx="2.1" ry="1.15" transform="rotate(85 286.5 2374)"/><ellipse cx="317.8" cy="2356.2" rx="2.1" ry="1.15" transform="rotate(86 317.8 2356.2)"/><ellipse cx="372" cy="2407.5" rx="2.1" ry="1.15" transform="rotate(80 372 2407.5)"/><ellipse cx="284.8" cy="2317.7" rx="2.1" ry="1.15" transform="rotate(64 284.8 2317.7)"/><ellipse cx="380.2" cy="2368.3" rx="2.1" ry="1.15" transform="rotate(84 380.2 2368.3)"/><ellipse cx="384.9" cy="2337.1" rx="2.1" ry="1.15" transform="rotate(86 384.9 2337.1)"/><ellipse cx="291.6" cy="2331.1" rx="2.1" ry="1.15" transform="rotate(70 291.6 2331.1)"/><ellipse cx="390.1" cy="2408.8" rx="2.1" ry="1.15" transform="rotate(71 390.1 2408.8)"/><ellipse cx="320" cy="2397" rx="2.1" ry="1.15" transform="rotate(82 320 2397)"/><ellipse cx="376.7" cy="2349.8" rx="2.1" ry="1.15" transform="rotate(69 376.7 2349.8)"/><ellipse cx="324.2" cy="2408.3" rx="2.1" ry="1.15" transform="rotate(78 324.2 2408.3)"/><ellipse cx="373.2" cy="2332.9" rx="2.1" ry="1.15" transform="rotate(75 373.2 2332.9)"/><ellipse cx="379.4" cy="2371.1" rx="2.1" ry="1.15" transform="rotate(82 379.4 2371.1)"/><ellipse cx="364.4" cy="2358" rx="2.1" ry="1.15" transform="rotate(80 364.4 2358)"/><ellipse cx="348.6" cy="2357.7" rx="2.1" ry="1.15" transform="rotate(75 348.6 2357.7)"/><ellipse cx="364.8" cy="2402.9" rx="2.1" ry="1.15" transform="rotate(87 364.8 2402.9)"/><ellipse cx="304.4" cy="2381.9" rx="2.1" ry="1.15" transform="rotate(76 304.4 2381.9)"/><ellipse cx="370.5" cy="2337.4" rx="2.1" ry="1.15" transform="rotate(74 370.5 2337.4)"/><ellipse cx="289.2" cy="2394.9" rx="2.1" ry="1.15" transform="rotate(80 289.2 2394.9)"/><ellipse cx="255.1" cy="2323.9" rx="2.1" ry="1.15" transform="rotate(66 255.1 2323.9)"/><ellipse cx="334.9" cy="2392" rx="2.1" ry="1.15" transform="rotate(71 334.9 2392)"/><ellipse cx="265" cy="2372.6" rx="2.1" ry="1.15" transform="rotate(78 265 2372.6)"/><ellipse cx="312.9" cy="2340.5" rx="2.1" ry="1.15" transform="rotate(71 312.9 2340.5)"/><ellipse cx="285.9" cy="2395.9" rx="2.1" ry="1.15" transform="rotate(72 285.9 2395.9)"/><ellipse cx="351.6" cy="2368.9" rx="2.1" ry="1.15" transform="rotate(69 351.6 2368.9)"/><ellipse cx="292.4" cy="2381.3" rx="2.1" ry="1.15" transform="rotate(84 292.4 2381.3)"/><ellipse cx="379.4" cy="2328.5" rx="2.1" ry="1.15" transform="rotate(69 379.4 2328.5)"/><ellipse cx="267.7" cy="2332.1" rx="2.1" ry="1.15" transform="rotate(72 267.7 2332.1)"/><ellipse cx="352.2" cy="2406.4" rx="2.1" ry="1.15" transform="rotate(77 352.2 2406.4)"/><ellipse cx="274.1" cy="2351.3" rx="2.1" ry="1.15" transform="rotate(66 274.1 2351.3)"/><ellipse cx="292.4" cy="2371.5" rx="2.1" ry="1.15" transform="rotate(75 292.4 2371.5)"/><ellipse cx="277.7" cy="2341" rx="2.1" ry="1.15" transform="rotate(85 277.7 2341)"/><ellipse cx="340.3" cy="2374.3" rx="2.1" ry="1.15" transform="rotate(71 340.3 2374.3)"/><ellipse cx="295" cy="2390.6" rx="2.1" ry="1.15" transform="rotate(63 295 2390.6)"/><ellipse cx="343.4" cy="2410.5" rx="2.1" ry="1.15" transform="rotate(78 343.4 2410.5)"/><ellipse cx="260.8" cy="2316.3" rx="2.1" ry="1.15" transform="rotate(82 260.8 2316.3)"/><ellipse cx="279.5" cy="2355.9" rx="2.1" ry="1.15" transform="rotate(79 279.5 2355.9)"/><ellipse cx="346.3" cy="2342.2" rx="2.1" ry="1.15" transform="rotate(79 346.3 2342.2)"/><ellipse cx="378.9" cy="2360.7" rx="2.1" ry="1.15" transform="rotate(73 378.9 2360.7)"/><ellipse cx="347.8" cy="2402" rx="2.1" ry="1.15" transform="rotate(79 347.8 2402)"/><ellipse cx="380.8" cy="2392.7" rx="2.1" ry="1.15" transform="rotate(86 380.8 2392.7)"/><ellipse cx="288.4" cy="2381.6" rx="2.1" ry="1.15" transform="rotate(68 288.4 2381.6)"/><ellipse cx="270.2" cy="2347.7" rx="2.1" ry="1.15" transform="rotate(86 270.2 2347.7)"/><ellipse cx="294.4" cy="2344.4" rx="2.1" ry="1.15" transform="rotate(85 294.4 2344.4)"/><ellipse cx="388.2" cy="2390.2" rx="2.1" ry="1.15" transform="rotate(71 388.2 2390.2)"/><ellipse cx="366.6" cy="2319.5" rx="2.1" ry="1.15" transform="rotate(63 366.6 2319.5)"/><ellipse cx="262.8" cy="2347" rx="2.1" ry="1.15" transform="rotate(69 262.8 2347)"/><ellipse cx="371.5" cy="2358.5" rx="2.1" ry="1.15" transform="rotate(83 371.5 2358.5)"/><ellipse cx="320.8" cy="2350.8" rx="2.1" ry="1.15" transform="rotate(71 320.8 2350.8)"/><ellipse cx="260.7" cy="2359.3" rx="2.1" ry="1.15" transform="rotate(86 260.7 2359.3)"/><ellipse cx="386.8" cy="2408" rx="2.1" ry="1.15" transform="rotate(65 386.8 2408)"/><ellipse cx="314.6" cy="2398" rx="2.1" ry="1.15" transform="rotate(67 314.6 2398)"/><ellipse cx="263.1" cy="2333.8" rx="2.1" ry="1.15" transform="rotate(65 263.1 2333.8)"/><ellipse cx="355.2" cy="2385.6" rx="2.1" ry="1.15" transform="rotate(87 355.2 2385.6)"/><ellipse cx="261.1" cy="2384.6" rx="2.1" ry="1.15" transform="rotate(82 261.1 2384.6)"/><ellipse cx="278.6" cy="2320.9" rx="2.1" ry="1.15" transform="rotate(87 278.6 2320.9)"/><ellipse cx="362.1" cy="2319.9" rx="2.1" ry="1.15" transform="rotate(67 362.1 2319.9)"/><ellipse cx="344.1" cy="2330.3" rx="2.1" ry="1.15" transform="rotate(73 344.1 2330.3)"/><ellipse cx="274.7" cy="2322.2" rx="2.1" ry="1.15" transform="rotate(75 274.7 2322.2)"/><ellipse cx="328.3" cy="2399.4" rx="2.1" ry="1.15" transform="rotate(63 328.3 2399.4)"/><ellipse cx="302.6" cy="2320.2" rx="2.1" ry="1.15" transform="rotate(76 302.6 2320.2)"/><ellipse cx="276.8" cy="2346.6" rx="2.1" ry="1.15" transform="rotate(86 276.8 2346.6)"/><ellipse cx="342.8" cy="2381.1" rx="2.1" ry="1.15" transform="rotate(78 342.8 2381.1)"/><ellipse cx="281.7" cy="2382.8" rx="2.1" ry="1.15" transform="rotate(86 281.7 2382.8)"/><ellipse cx="266.4" cy="2398.5" rx="2.1" ry="1.15" transform="rotate(71 266.4 2398.5)"/><ellipse cx="281.7" cy="2379.8" rx="2.1" ry="1.15" transform="rotate(83 281.7 2379.8)"/><ellipse cx="277" cy="2332.9" rx="2.1" ry="1.15" transform="rotate(75 277 2332.9)"/><ellipse cx="282.1" cy="2364.6" rx="2.1" ry="1.15" transform="rotate(87 282.1 2364.6)"/><ellipse cx="257.7" cy="2356.5" rx="2.1" ry="1.15" transform="rotate(68 257.7 2356.5)"/><ellipse cx="276.9" cy="2373" rx="2.1" ry="1.15" transform="rotate(86 276.9 2373)"/><ellipse cx="318.3" cy="2369.9" rx="2.1" ry="1.15" transform="rotate(80 318.3 2369.9)"/><ellipse cx="371.5" cy="2411.6" rx="2.1" ry="1.15" transform="rotate(71 371.5 2411.6)"/><ellipse cx="278.4" cy="2406.5" rx="2.1" ry="1.15" transform="rotate(78 278.4 2406.5)"/><ellipse cx="374.7" cy="2327.8" rx="2.1" ry="1.15" transform="rotate(82 374.7 2327.8)"/><ellipse cx="270.3" cy="2326.3" rx="2.1" ry="1.15" transform="rotate(66 270.3 2326.3)"/><ellipse cx="303.6" cy="2355.2" rx="2.1" ry="1.15" transform="rotate(79 303.6 2355.2)"/><ellipse cx="382.2" cy="2356.7" rx="2.1" ry="1.15" transform="rotate(77 382.2 2356.7)"/><ellipse cx="310.3" cy="2351.9" rx="2.1" ry="1.15" transform="rotate(69 310.3 2351.9)"/><ellipse cx="254.9" cy="2338.9" rx="2.1" ry="1.15" transform="rotate(80 254.9 2338.9)"/><ellipse cx="363.3" cy="2382.9" rx="2.1" ry="1.15" transform="rotate(74 363.3 2382.9)"/><ellipse cx="310.3" cy="2332.1" rx="2.1" ry="1.15" transform="rotate(69 310.3 2332.1)"/><ellipse cx="390.4" cy="2372.9" rx="2.1" ry="1.15" transform="rotate(73 390.4 2372.9)"/><ellipse cx="327.2" cy="2363.1" rx="2.1" ry="1.15" transform="rotate(70 327.2 2363.1)"/><ellipse cx="311.2" cy="2356.8" rx="2.1" ry="1.15" transform="rotate(85 311.2 2356.8)"/><ellipse cx="375.8" cy="2342.3" rx="2.1" ry="1.15" transform="rotate(74 375.8 2342.3)"/><ellipse cx="284.5" cy="2410.2" rx="2.1" ry="1.15" transform="rotate(66 284.5 2410.2)"/><ellipse cx="319.9" cy="2314" rx="2.1" ry="1.15" transform="rotate(74 319.9 2314)"/><ellipse cx="317" cy="2314.3" rx="2.1" ry="1.15" transform="rotate(67 317 2314.3)"/><ellipse cx="322.4" cy="2361.2" rx="2.1" ry="1.15" transform="rotate(70 322.4 2361.2)"/><ellipse cx="261.6" cy="2345.9" rx="2.1" ry="1.15" transform="rotate(71 261.6 2345.9)"/><ellipse cx="268.4" cy="2374.1" rx="2.1" ry="1.15" transform="rotate(68 268.4 2374.1)"/><ellipse cx="326.8" cy="2385.3" rx="2.1" ry="1.15" transform="rotate(63 326.8 2385.3)"/><ellipse cx="322.1" cy="2377.9" rx="2.1" ry="1.15" transform="rotate(84 322.1 2377.9)"/><ellipse cx="348.4" cy="2398.4" rx="2.1" ry="1.15" transform="rotate(79 348.4 2398.4)"/><ellipse cx="284.8" cy="2395.9" rx="2.1" ry="1.15" transform="rotate(81 284.8 2395.9)"/><ellipse cx="320.7" cy="2407.4" rx="2.1" ry="1.15" transform="rotate(64 320.7 2407.4)"/><ellipse cx="378.1" cy="2349.3" rx="2.1" ry="1.15" transform="rotate(76 378.1 2349.3)"/><ellipse cx="363" cy="2329.9" rx="2.1" ry="1.15" transform="rotate(75 363 2329.9)"/><ellipse cx="256.3" cy="2316.5" rx="2.1" ry="1.15" transform="rotate(86 256.3 2316.5)"/><ellipse cx="284.2" cy="2356.4" rx="2.1" ry="1.15" transform="rotate(66 284.2 2356.4)"/><ellipse cx="381.4" cy="2364.6" rx="2.1" ry="1.15" transform="rotate(84 381.4 2364.6)"/><ellipse cx="291.3" cy="2360.1" rx="2.1" ry="1.15" transform="rotate(69 291.3 2360.1)"/><ellipse cx="334.7" cy="2385.1" rx="2.1" ry="1.15" transform="rotate(77 334.7 2385.1)"/><ellipse cx="334" cy="2344.5" rx="2.1" ry="1.15" transform="rotate(86 334 2344.5)"/><ellipse cx="256.9" cy="2329.8" rx="2.1" ry="1.15" transform="rotate(79 256.9 2329.8)"/><ellipse cx="387" cy="2399.4" rx="2.1" ry="1.15" transform="rotate(69 387 2399.4)"/><ellipse cx="383" cy="2359.5" rx="2.1" ry="1.15" transform="rotate(77 383 2359.5)"/><ellipse cx="342.6" cy="2375.9" rx="2.1" ry="1.15" transform="rotate(84 342.6 2375.9)"/><ellipse cx="376.9" cy="2345.1" rx="2.1" ry="1.15" transform="rotate(84 376.9 2345.1)"/><ellipse cx="297.3" cy="2382.7" rx="2.1" ry="1.15" transform="rotate(67 297.3 2382.7)"/><ellipse cx="341.2" cy="2343.5" rx="2.1" ry="1.15" transform="rotate(87 341.2 2343.5)"/><ellipse cx="345" cy="2352.4" rx="2.1" ry="1.15" transform="rotate(86 345 2352.4)"/><ellipse cx="270" cy="2389.1" rx="2.1" ry="1.15" transform="rotate(79 270 2389.1)"/><ellipse cx="256.5" cy="2359.8" rx="2.1" ry="1.15" transform="rotate(66 256.5 2359.8)"/><ellipse cx="390.7" cy="2323" rx="2.1" ry="1.15" transform="rotate(78 390.7 2323)"/><ellipse cx="328.3" cy="2325.6" rx="2.1" ry="1.15" transform="rotate(85 328.3 2325.6)"/><ellipse cx="332.5" cy="2376" rx="2.1" ry="1.15" transform="rotate(69 332.5 2376)"/><ellipse cx="275.2" cy="2346.1" rx="2.1" ry="1.15" transform="rotate(64 275.2 2346.1)"/><ellipse cx="281.7" cy="2363.5" rx="2.1" ry="1.15" transform="rotate(72 281.7 2363.5)"/><ellipse cx="358" cy="2327.3" rx="2.1" ry="1.15" transform="rotate(68 358 2327.3)"/><ellipse cx="325.6" cy="2383" rx="2.1" ry="1.15" transform="rotate(71 325.6 2383)"/><ellipse cx="282.4" cy="2325.6" rx="2.1" ry="1.15" transform="rotate(72 282.4 2325.6)"/><ellipse cx="306" cy="2394.2" rx="2.1" ry="1.15" transform="rotate(69 306 2394.2)"/><ellipse cx="300.7" cy="2389" rx="2.1" ry="1.15" transform="rotate(68 300.7 2389)"/><ellipse cx="259.5" cy="2412.2" rx="2.1" ry="1.15" transform="rotate(85 259.5 2412.2)"/><ellipse cx="297.3" cy="2341.8" rx="2.1" ry="1.15" transform="rotate(74 297.3 2341.8)"/><ellipse cx="282.9" cy="2393.2" rx="2.1" ry="1.15" transform="rotate(84 282.9 2393.2)"/><ellipse cx="351.4" cy="2353.6" rx="2.1" ry="1.15" transform="rotate(83 351.4 2353.6)"/><ellipse cx="382" cy="2331.6" rx="2.1" ry="1.15" transform="rotate(79 382 2331.6)"/><ellipse cx="277.8" cy="2413.6" rx="2.1" ry="1.15" transform="rotate(82 277.8 2413.6)"/><ellipse cx="310.1" cy="2388.5" rx="2.1" ry="1.15" transform="rotate(70 310.1 2388.5)"/><ellipse cx="262.9" cy="2365.3" rx="2.1" ry="1.15" transform="rotate(65 262.9 2365.3)"/><ellipse cx="316.6" cy="2400" rx="2.1" ry="1.15" transform="rotate(77 316.6 2400)"/><ellipse cx="290.5" cy="2334.5" rx="2.1" ry="1.15" transform="rotate(76 290.5 2334.5)"/><ellipse cx="323.7" cy="2405.1" rx="2.1" ry="1.15" transform="rotate(67 323.7 2405.1)"/><ellipse cx="317.8" cy="2358.6" rx="2.1" ry="1.15" transform="rotate(72 317.8 2358.6)"/><ellipse cx="279.6" cy="2352" rx="2.1" ry="1.15" transform="rotate(76 279.6 2352)"/><ellipse cx="280.7" cy="2345.6" rx="2.1" ry="1.15" transform="rotate(76 280.7 2345.6)"/><ellipse cx="382.5" cy="2362.1" rx="2.1" ry="1.15" transform="rotate(71 382.5 2362.1)"/><ellipse cx="258.9" cy="2365.7" rx="2.1" ry="1.15" transform="rotate(71 258.9 2365.7)"/><ellipse cx="270" cy="2361.3" rx="2.1" ry="1.15" transform="rotate(78 270 2361.3)"/><ellipse cx="302.2" cy="2387.9" rx="2.1" ry="1.15" transform="rotate(78 302.2 2387.9)"/><ellipse cx="262.8" cy="2317.8" rx="2.1" ry="1.15" transform="rotate(76 262.8 2317.8)"/><ellipse cx="336.8" cy="2369.7" rx="2.1" ry="1.15" transform="rotate(69 336.8 2369.7)"/><ellipse cx="301.2" cy="2386.2" rx="2.1" ry="1.15" transform="rotate(73 301.2 2386.2)"/><ellipse cx="326.4" cy="2336.1" rx="2.1" ry="1.15" transform="rotate(78 326.4 2336.1)"/><ellipse cx="319.6" cy="2313.1" rx="2.1" ry="1.15" transform="rotate(81 319.6 2313.1)"/><ellipse cx="363.8" cy="2413.7" rx="2.1" ry="1.15" transform="rotate(86 363.8 2413.7)"/><ellipse cx="350.1" cy="2360.5" rx="2.1" ry="1.15" transform="rotate(69 350.1 2360.5)"/><ellipse cx="350.2" cy="2355.6" rx="2.1" ry="1.15" transform="rotate(71 350.2 2355.6)"/><ellipse cx="270.2" cy="2374.7" rx="2.1" ry="1.15" transform="rotate(80 270.2 2374.7)"/><ellipse cx="359.2" cy="2328.4" rx="2.1" ry="1.15" transform="rotate(68 359.2 2328.4)"/><ellipse cx="341.2" cy="2326" rx="2.1" ry="1.15" transform="rotate(84 341.2 2326)"/><ellipse cx="380.8" cy="2377.3" rx="2.1" ry="1.15" transform="rotate(69 380.8 2377.3)"/><ellipse cx="331" cy="2391.1" rx="2.1" ry="1.15" transform="rotate(71 331 2391.1)"/><ellipse cx="342.9" cy="2374.3" rx="2.1" ry="1.15" transform="rotate(85 342.9 2374.3)"/><ellipse cx="360.1" cy="2381.2" rx="2.1" ry="1.15" transform="rotate(76 360.1 2381.2)"/><ellipse cx="375.7" cy="2374.4" rx="2.1" ry="1.15" transform="rotate(80 375.7 2374.4)"/><ellipse cx="296.6" cy="2323.8" rx="2.1" ry="1.15" transform="rotate(76 296.6 2323.8)"/><ellipse cx="284.6" cy="2411.9" rx="2.1" ry="1.15" transform="rotate(68 284.6 2411.9)"/><ellipse cx="376.4" cy="2346.9" rx="2.1" ry="1.15" transform="rotate(68 376.4 2346.9)"/><ellipse cx="333" cy="2345.7" rx="2.1" ry="1.15" transform="rotate(87 333 2345.7)"/><ellipse cx="338.5" cy="2323.1" rx="2.1" ry="1.15" transform="rotate(70 338.5 2323.1)"/><ellipse cx="269.5" cy="2363.2" rx="2.1" ry="1.15" transform="rotate(76 269.5 2363.2)"/><ellipse cx="297.3" cy="2381.6" rx="2.1" ry="1.15" transform="rotate(74 297.3 2381.6)"/><ellipse cx="366.1" cy="2382.2" rx="2.1" ry="1.15" transform="rotate(69 366.1 2382.2)"/><ellipse cx="367.5" cy="2315.8" rx="2.1" ry="1.15" transform="rotate(69 367.5 2315.8)"/><ellipse cx="258.1" cy="2410" rx="2.1" ry="1.15" transform="rotate(76 258.1 2410)"/><ellipse cx="369" cy="2414" rx="2.1" ry="1.15" transform="rotate(65 369 2414)"/><ellipse cx="377.1" cy="2314.9" rx="2.1" ry="1.15" transform="rotate(80 377.1 2314.9)"/><ellipse cx="362.5" cy="2352.1" rx="2.1" ry="1.15" transform="rotate(84 362.5 2352.1)"/><ellipse cx="358.9" cy="2363.7" rx="2.1" ry="1.15" transform="rotate(70 358.9 2363.7)"/><ellipse cx="275.9" cy="2320.6" rx="2.1" ry="1.15" transform="rotate(76 275.9 2320.6)"/><ellipse cx="325.8" cy="2332" rx="2.1" ry="1.15" transform="rotate(76 325.8 2332)"/><ellipse cx="265" cy="2343.7" rx="2.1" ry="1.15" transform="rotate(79 265 2343.7)"/><ellipse cx="274.9" cy="2366.2" rx="2.1" ry="1.15" transform="rotate(66 274.9 2366.2)"/><ellipse cx="374.6" cy="2334.4" rx="2.1" ry="1.15" transform="rotate(85 374.6 2334.4)"/><ellipse cx="379.5" cy="2411.4" rx="2.1" ry="1.15" transform="rotate(70 379.5 2411.4)"/><ellipse cx="347.2" cy="2319.9" rx="2.1" ry="1.15" transform="rotate(86 347.2 2319.9)"/><ellipse cx="348.7" cy="2316.6" rx="2.1" ry="1.15" transform="rotate(66 348.7 2316.6)"/><ellipse cx="268.6" cy="2348.3" rx="2.1" ry="1.15" transform="rotate(85 268.6 2348.3)"/><ellipse cx="361.9" cy="2346.1" rx="2.1" ry="1.15" transform="rotate(82 361.9 2346.1)"/><ellipse cx="255.6" cy="2368.5" rx="2.1" ry="1.15" transform="rotate(72 255.6 2368.5)"/><ellipse cx="264.5" cy="2406.8" rx="2.1" ry="1.15" transform="rotate(79 264.5 2406.8)"/><ellipse cx="390.1" cy="2378.2" rx="2.1" ry="1.15" transform="rotate(78 390.1 2378.2)"/><ellipse cx="271.6" cy="2361.5" rx="2.1" ry="1.15" transform="rotate(85 271.6 2361.5)"/><ellipse cx="330.5" cy="2378" rx="2.1" ry="1.15" transform="rotate(74 330.5 2378)"/><ellipse cx="303.1" cy="2314" rx="2.1" ry="1.15" transform="rotate(68 303.1 2314)"/><ellipse cx="279.6" cy="2322.1" rx="2.1" ry="1.15" transform="rotate(64 279.6 2322.1)"/><ellipse cx="357.3" cy="2414.5" rx="2.1" ry="1.15" transform="rotate(80 357.3 2414.5)"/><ellipse cx="367.6" cy="2334.2" rx="2.1" ry="1.15" transform="rotate(83 367.6 2334.2)"/><ellipse cx="306.2" cy="2400.1" rx="2.1" ry="1.15" transform="rotate(69 306.2 2400.1)"/><ellipse cx="295" cy="2366.6" rx="2.1" ry="1.15" transform="rotate(68 295 2366.6)"/><ellipse cx="289.5" cy="2387.1" rx="2.1" ry="1.15" transform="rotate(82 289.5 2387.1)"/><ellipse cx="388.4" cy="2379.7" rx="2.1" ry="1.15" transform="rotate(71 388.4 2379.7)"/><ellipse cx="318.2" cy="2372.7" rx="2.1" ry="1.15" transform="rotate(77 318.2 2372.7)"/><ellipse cx="379.4" cy="2370.8" rx="2.1" ry="1.15" transform="rotate(86 379.4 2370.8)"/><ellipse cx="319.4" cy="2358.4" rx="2.1" ry="1.15" transform="rotate(64 319.4 2358.4)"/><ellipse cx="298.4" cy="2362.1" rx="2.1" ry="1.15" transform="rotate(63 298.4 2362.1)"/><ellipse cx="314.2" cy="2324.7" rx="2.1" ry="1.15" transform="rotate(69 314.2 2324.7)"/><ellipse cx="374.9" cy="2406.4" rx="2.1" ry="1.15" transform="rotate(66 374.9 2406.4)"/><ellipse cx="334.4" cy="2362.5" rx="2.1" ry="1.15" transform="rotate(64 334.4 2362.5)"/><ellipse cx="294.8" cy="2367.4" rx="2.1" ry="1.15" transform="rotate(73 294.8 2367.4)"/><ellipse cx="332" cy="2319.5" rx="2.1" ry="1.15" transform="rotate(78 332 2319.5)"/><ellipse cx="337.7" cy="2332.2" rx="2.1" ry="1.15" transform="rotate(77 337.7 2332.2)"/><ellipse cx="381.7" cy="2403.9" rx="2.1" ry="1.15" transform="rotate(78 381.7 2403.9)"/><ellipse cx="325.3" cy="2389.4" rx="2.1" ry="1.15" transform="rotate(74 325.3 2389.4)"/><ellipse cx="350.7" cy="2350.9" rx="2.1" ry="1.15" transform="rotate(76 350.7 2350.9)"/><ellipse cx="354.4" cy="2372.6" rx="2.1" ry="1.15" transform="rotate(77 354.4 2372.6)"/><ellipse cx="306.7" cy="2348.6" rx="2.1" ry="1.15" transform="rotate(79 306.7 2348.6)"/><ellipse cx="315.1" cy="2357.9" rx="2.1" ry="1.15" transform="rotate(72 315.1 2357.9)"/><ellipse cx="293.9" cy="2376.8" rx="2.1" ry="1.15" transform="rotate(84 293.9 2376.8)"/><ellipse cx="280.8" cy="2379.2" rx="2.1" ry="1.15" transform="rotate(76 280.8 2379.2)"/><ellipse cx="341.2" cy="2380.6" rx="2.1" ry="1.15" transform="rotate(73 341.2 2380.6)"/><ellipse cx="255.6" cy="2349.9" rx="2.1" ry="1.15" transform="rotate(76 255.6 2349.9)"/><ellipse cx="340.1" cy="2407.5" rx="2.1" ry="1.15" transform="rotate(79 340.1 2407.5)"/><ellipse cx="343.4" cy="2348.6" rx="2.1" ry="1.15" transform="rotate(82 343.4 2348.6)"/><ellipse cx="271.9" cy="2403.3" rx="2.1" ry="1.15" transform="rotate(75 271.9 2403.3)"/><ellipse cx="316.1" cy="2383.5" rx="2.1" ry="1.15" transform="rotate(76 316.1 2383.5)"/><ellipse cx="390.1" cy="2325.1" rx="2.1" ry="1.15" transform="rotate(65 390.1 2325.1)"/><ellipse cx="335.4" cy="2335.9" rx="2.1" ry="1.15" transform="rotate(68 335.4 2335.9)"/><ellipse cx="390.5" cy="2366.9" rx="2.1" ry="1.15" transform="rotate(70 390.5 2366.9)"/><ellipse cx="304" cy="2335.8" rx="2.1" ry="1.15" transform="rotate(69 304 2335.8)"/><ellipse cx="272.6" cy="2412.6" rx="2.1" ry="1.15" transform="rotate(81 272.6 2412.6)"/><ellipse cx="303.3" cy="2323.9" rx="2.1" ry="1.15" transform="rotate(86 303.3 2323.9)"/><ellipse cx="375.7" cy="2322.5" rx="2.1" ry="1.15" transform="rotate(84 375.7 2322.5)"/><ellipse cx="329.5" cy="2413.5" rx="2.1" ry="1.15" transform="rotate(74 329.5 2413.5)"/><ellipse cx="313.6" cy="2313.7" rx="2.1" ry="1.15" transform="rotate(77 313.6 2313.7)"/><ellipse cx="286.8" cy="2402.8" rx="2.1" ry="1.15" transform="rotate(68 286.8 2402.8)"/><ellipse cx="374.7" cy="2346.9" rx="2.1" ry="1.15" transform="rotate(82 374.7 2346.9)"/><ellipse cx="351.7" cy="2408.2" rx="2.1" ry="1.15" transform="rotate(77 351.7 2408.2)"/><ellipse cx="303.4" cy="2339.7" rx="2.1" ry="1.15" transform="rotate(69 303.4 2339.7)"/><ellipse cx="268.3" cy="2343.4" rx="2.1" ry="1.15" transform="rotate(71 268.3 2343.4)"/><ellipse cx="366.5" cy="2313.5" rx="2.1" ry="1.15" transform="rotate(75 366.5 2313.5)"/><ellipse cx="323.5" cy="2329" rx="2.1" ry="1.15" transform="rotate(80 323.5 2329)"/><ellipse cx="282.5" cy="2388.7" rx="2.1" ry="1.15" transform="rotate(67 282.5 2388.7)"/><ellipse cx="374.1" cy="2344.7" rx="2.1" ry="1.15" transform="rotate(65 374.1 2344.7)"/><ellipse cx="274.7" cy="2333.7" rx="2.1" ry="1.15" transform="rotate(66 274.7 2333.7)"/><ellipse cx="297.1" cy="2412" rx="2.1" ry="1.15" transform="rotate(72 297.1 2412)"/><ellipse cx="308" cy="2389.8" rx="2.1" ry="1.15" transform="rotate(65 308 2389.8)"/><ellipse cx="266.2" cy="2401.7" rx="2.1" ry="1.15" transform="rotate(71 266.2 2401.7)"/><ellipse cx="278" cy="2331.6" rx="2.1" ry="1.15" transform="rotate(81 278 2331.6)"/><ellipse cx="387.6" cy="2353.6" rx="2.1" ry="1.15" transform="rotate(80 387.6 2353.6)"/><ellipse cx="317.2" cy="2333.6" rx="2.1" ry="1.15" transform="rotate(71 317.2 2333.6)"/><ellipse cx="300.5" cy="2338.4" rx="2.1" ry="1.15" transform="rotate(82 300.5 2338.4)"/><ellipse cx="266.6" cy="2352.3" rx="2.1" ry="1.15" transform="rotate(81 266.6 2352.3)"/><ellipse cx="258.7" cy="2411.3" rx="2.1" ry="1.15" transform="rotate(78 258.7 2411.3)"/><ellipse cx="343.2" cy="2332.5" rx="2.1" ry="1.15" transform="rotate(68 343.2 2332.5)"/><ellipse cx="369.3" cy="2412.5" rx="2.1" ry="1.15" transform="rotate(63 369.3 2412.5)"/><ellipse cx="365.7" cy="2333.2" rx="2.1" ry="1.15" transform="rotate(65 365.7 2333.2)"/><ellipse cx="335.7" cy="2322.5" rx="2.1" ry="1.15" transform="rotate(83 335.7 2322.5)"/><ellipse cx="369.4" cy="2342" rx="2.1" ry="1.15" transform="rotate(66 369.4 2342)"/><ellipse cx="324.2" cy="2389.4" rx="2.1" ry="1.15" transform="rotate(64 324.2 2389.4)"/><ellipse cx="350.4" cy="2325.4" rx="2.1" ry="1.15" transform="rotate(72 350.4 2325.4)"/><ellipse cx="276.7" cy="2321.1" rx="2.1" ry="1.15" transform="rotate(76 276.7 2321.1)"/><ellipse cx="295.1" cy="2405.9" rx="2.1" ry="1.15" transform="rotate(85 295.1 2405.9)"/><ellipse cx="353.3" cy="2365.1" rx="2.1" ry="1.15" transform="rotate(79 353.3 2365.1)"/><ellipse cx="299.6" cy="2360.7" rx="2.1" ry="1.15" transform="rotate(76 299.6 2360.7)"/><ellipse cx="311.7" cy="2358.2" rx="2.1" ry="1.15" transform="rotate(83 311.7 2358.2)"/></g><g fill="none" stroke="#8a8a8a" stroke-width="0.6"><circle cx="389.2" cy="2388" r="1.5"/><circle cx="371.4" cy="2344" r="1.5"/><circle cx="264.4" cy="2335.6" r="1.5"/><circle cx="322.4" cy="2391" r="1.5"/><circle cx="354.4" cy="2406.3" r="1.5"/><circle cx="360.5" cy="2343.3" r="1.5"/><circle cx="261.7" cy="2362.1" r="1.5"/><circle cx="299.2" cy="2401.7" r="1.5"/><circle cx="377.8" cy="2367.8" r="1.5"/><circle cx="359.8" cy="2387.1" r="1.5"/><circle cx="325.2" cy="2358" r="1.5"/><circle cx="384.3" cy="2394.3" r="1.5"/><circle cx="332.2" cy="2413.7" r="1.5"/><circle cx="274.5" cy="2391.4" r="1.5"/><circle cx="329.3" cy="2345.7" r="1.5"/><circle cx="271.5" cy="2372.2" r="1.5"/><circle cx="372.8" cy="2330.8" r="1.5"/><circle cx="376.8" cy="2413.7" r="1.5"/><circle cx="280.7" cy="2369.3" r="1.5"/><circle cx="320.4" cy="2347.1" r="1.5"/><circle cx="270.5" cy="2340.1" r="1.5"/><circle cx="382.7" cy="2398.7" r="1.5"/><circle cx="384.1" cy="2363.8" r="1.5"/><circle cx="322.3" cy="2319.1" r="1.5"/><circle cx="312.5" cy="2372.2" r="1.5"/><circle cx="389.8" cy="2319.4" r="1.5"/><circle cx="343.8" cy="2317.6" r="1.5"/><circle cx="386.9" cy="2333.4" r="1.5"/><circle cx="348.9" cy="2377.6" r="1.5"/><circle cx="282.3" cy="2360" r="1.5"/><circle cx="311.9" cy="2331.1" r="1.5"/><circle cx="308.3" cy="2319.3" r="1.5"/><circle cx="350.8" cy="2412.1" r="1.5"/><circle cx="328.2" cy="2353.6" r="1.5"/><circle cx="324.4" cy="2327.5" r="1.5"/><circle cx="355.1" cy="2383.4" r="1.5"/><circle cx="268.4" cy="2351.4" r="1.5"/><circle cx="270.9" cy="2384.4" r="1.5"/><circle cx="256.2" cy="2401.8" r="1.5"/><circle cx="263" cy="2398.2" r="1.5"/><circle cx="280.4" cy="2366.9" r="1.5"/><circle cx="351.3" cy="2408.8" r="1.5"/><circle cx="373.6" cy="2328.4" r="1.5"/><circle cx="351.9" cy="2356.8" r="1.5"/><circle cx="277.1" cy="2360" r="1.5"/><circle cx="382.2" cy="2314.8" r="1.5"/><circle cx="349.6" cy="2368.2" r="1.5"/><circle cx="374.6" cy="2361.4" r="1.5"/><circle cx="288.2" cy="2399.8" r="1.5"/><circle cx="269" cy="2383.2" r="1.5"/><circle cx="294.3" cy="2318.3" r="1.5"/><circle cx="277.1" cy="2399.7" r="1.5"/><circle cx="275.6" cy="2406.7" r="1.5"/><circle cx="274.3" cy="2407.7" r="1.5"/><circle cx="261.4" cy="2380.2" r="1.5"/><circle cx="327.1" cy="2373.8" r="1.5"/><circle cx="380.5" cy="2336" r="1.5"/><circle cx="389.8" cy="2371" r="1.5"/><circle cx="364.6" cy="2338.4" r="1.5"/><circle cx="390.3" cy="2386.4" r="1.5"/><circle cx="318.5" cy="2335" r="1.5"/><circle cx="374.1" cy="2370.1" r="1.5"/><circle cx="389.3" cy="2403.1" r="1.5"/><circle cx="356.4" cy="2386.6" r="1.5"/><circle cx="277.1" cy="2397.6" r="1.5"/><circle cx="351.8" cy="2322.8" r="1.5"/><circle cx="263.7" cy="2323.2" r="1.5"/><circle cx="284.1" cy="2390.9" r="1.5"/><circle cx="359" cy="2383.8" r="1.5"/><circle cx="304.5" cy="2408.7" r="1.5"/><circle cx="274.9" cy="2336.1" r="1.5"/><circle cx="314.4" cy="2339.4" r="1.5"/><circle cx="354.7" cy="2398.1" r="1.5"/><circle cx="355.7" cy="2345.9" r="1.5"/><circle cx="333.4" cy="2345" r="1.5"/><circle cx="329.1" cy="2367.1" r="1.5"/><circle cx="275" cy="2399.2" r="1.5"/><circle cx="365.1" cy="2392.3" r="1.5"/><circle cx="266.7" cy="2336.7" r="1.5"/><circle cx="356.5" cy="2395.3" r="1.5"/><circle cx="338.5" cy="2408.2" r="1.5"/><circle cx="312.4" cy="2336" r="1.5"/><circle cx="318.9" cy="2343.6" r="1.5"/><circle cx="306.2" cy="2392.7" r="1.5"/><circle cx="298.3" cy="2385.6" r="1.5"/><circle cx="335.2" cy="2315" r="1.5"/><circle cx="323.9" cy="2401.4" r="1.5"/><circle cx="342.6" cy="2399.8" r="1.5"/><circle cx="341.4" cy="2414.5" r="1.5"/><circle cx="259.5" cy="2356.3" r="1.5"/><circle cx="281.2" cy="2390.1" r="1.5"/><circle cx="294.3" cy="2380.7" r="1.5"/><circle cx="343.7" cy="2314.6" r="1.5"/><circle cx="338.1" cy="2346.4" r="1.5"/><circle cx="288.7" cy="2378.8" r="1.5"/><circle cx="340.5" cy="2334.6" r="1.5"/><circle cx="351.3" cy="2320.5" r="1.5"/><circle cx="261.7" cy="2403.5" r="1.5"/><circle cx="380.9" cy="2409.6" r="1.5"/><circle cx="390" cy="2388.5" r="1.5"/><circle cx="331.8" cy="2366.9" r="1.5"/><circle cx="327.2" cy="2409.2" r="1.5"/><circle cx="386.2" cy="2357.3" r="1.5"/><circle cx="281.7" cy="2367.8" r="1.5"/><circle cx="312" cy="2395.5" r="1.5"/><circle cx="380.1" cy="2376.2" r="1.5"/><circle cx="265.4" cy="2367.4" r="1.5"/><circle cx="271.8" cy="2367.7" r="1.5"/><circle cx="366" cy="2381.6" r="1.5"/><circle cx="318" cy="2328.9" r="1.5"/><circle cx="381.3" cy="2401.9" r="1.5"/><circle cx="320.9" cy="2318.1" r="1.5"/><circle cx="346.5" cy="2353.8" r="1.5"/></g></g>
<rect x="378.2" y="2411.8" width="12" height="3" fill="#000" stroke="none" stroke-width="0"/>
<g clip-path="url(#gc30)"><rect x="447.1" y="2312.8" width="136.3" height="102.2" fill="#e2e3e0"/><g filter="url(#soft)"><ellipse cx="500.7" cy="2354.2" rx="4.2" ry="3.1" transform="rotate(78 500.7 2354.2)" fill="#8a74e0" fill-opacity="0.46"/><ellipse cx="500.4" cy="2357.8" rx="4.3" ry="3.4" transform="rotate(134 500.4 2357.8)" fill="#8a74e0" fill-opacity="0.59"/><ellipse cx="491.3" cy="2359.6" rx="4.1" ry="3" transform="rotate(38 491.3 2359.6)" fill="#5a3cc8" fill-opacity="0.78"/><ellipse cx="554.6" cy="2394.9" rx="3.2" ry="2.8" transform="rotate(49 554.6 2394.9)" fill="#5a3cc8" fill-opacity="0.63"/><ellipse cx="568.1" cy="2398.8" rx="2.5" ry="1.5" transform="rotate(111 568.1 2398.8)" fill="#7a62d8" fill-opacity="0.55"/><ellipse cx="550.1" cy="2399.4" rx="3" ry="2.4" transform="rotate(88 550.1 2399.4)" fill="#7a62d8" fill-opacity="0.69"/><ellipse cx="460" cy="2390" rx="5.1" ry="3.2" transform="rotate(84 460 2390)" fill="#8a74e0" fill-opacity="0.62"/><ellipse cx="458.4" cy="2390.6" rx="4.8" ry="3.5" transform="rotate(18 458.4 2390.6)" fill="#5a3cc8" fill-opacity="0.48"/><ellipse cx="451.7" cy="2394.7" rx="4.5" ry="2.6" transform="rotate(52 451.7 2394.7)" fill="#6a50d0" fill-opacity="0.47"/><ellipse cx="538.1" cy="2341.4" rx="2.6" ry="1.5" transform="rotate(122 538.1 2341.4)" fill="#7a62d8" fill-opacity="0.69"/><ellipse cx="536.9" cy="2342.7" rx="4.2" ry="3.2" transform="rotate(105 536.9 2342.7)" fill="#7a62d8" fill-opacity="0.41"/><ellipse cx="531.3" cy="2339.4" rx="3.5" ry="2.3" transform="rotate(35 531.3 2339.4)" fill="#7a62d8" fill-opacity="0.42"/><ellipse cx="506.1" cy="2388.3" rx="4.4" ry="3.3" transform="rotate(179 506.1 2388.3)" fill="#6a50d0" fill-opacity="0.66"/><ellipse cx="504.1" cy="2385.3" rx="2.7" ry="2.1" transform="rotate(123 504.1 2385.3)" fill="#5a3cc8" fill-opacity="0.56"/><ellipse cx="500.7" cy="2383" rx="4.8" ry="3.1" transform="rotate(133 500.7 2383)" fill="#6a50d0" fill-opacity="0.41"/><ellipse cx="530.9" cy="2370" rx="3.7" ry="2.6" transform="rotate(177 530.9 2370)" fill="#7a62d8" fill-opacity="0.67"/><ellipse cx="529.7" cy="2364.4" rx="2.5" ry="1.6" transform="rotate(152 529.7 2364.4)" fill="#8a74e0" fill-opacity="0.44"/><ellipse cx="535.8" cy="2366.5" rx="3.8" ry="2.2" transform="rotate(90 535.8 2366.5)" fill="#6a50d0" fill-opacity="0.76"/><ellipse cx="527.1" cy="2337.3" rx="2.6" ry="1.3" transform="rotate(104 527.1 2337.3)" fill="#5a3cc8" fill-opacity="0.78"/><ellipse cx="539.4" cy="2336" rx="2.4" ry="1.9" transform="rotate(157 539.4 2336)" fill="#5a3cc8" fill-opacity="0.55"/><ellipse cx="529.5" cy="2336.9" rx="5" ry="3" transform="rotate(89 529.5 2336.9)" fill="#5a3cc8" fill-opacity="0.58"/><ellipse cx="562.4" cy="2323.7" rx="5.2" ry="4.1" transform="rotate(57 562.4 2323.7)" fill="#7a62d8" fill-opacity="0.76"/><ellipse cx="566.9" cy="2327" rx="3.6" ry="3.1" transform="rotate(81 566.9 2327)" fill="#6a50d0" fill-opacity="0.63"/><ellipse cx="565.8" cy="2335.4" rx="3.2" ry="1.9" transform="rotate(112 565.8 2335.4)" fill="#5a3cc8" fill-opacity="0.53"/><ellipse cx="575.6" cy="2326.1" rx="3.3" ry="2.2" transform="rotate(78 575.6 2326.1)" fill="#5a3cc8" fill-opacity="0.65"/><ellipse cx="577.2" cy="2318.3" rx="3.5" ry="3.1" transform="rotate(153 577.2 2318.3)" fill="#6a50d0" fill-opacity="0.72"/><ellipse cx="575.4" cy="2326.1" rx="4.9" ry="4.5" transform="rotate(94 575.4 2326.1)" fill="#5a3cc8" fill-opacity="0.59"/></g><g fill="#525252" fill-opacity="0.88"><ellipse cx="565.3" cy="2326" rx="2.1" ry="1.15" transform="rotate(73 565.3 2326)"/><ellipse cx="451.7" cy="2400.5" rx="2.1" ry="1.15" transform="rotate(84 451.7 2400.5)"/><ellipse cx="513.3" cy="2360.3" rx="2.1" ry="1.15" transform="rotate(86 513.3 2360.3)"/><ellipse cx="499.8" cy="2344.1" rx="2.1" ry="1.15" transform="rotate(66 499.8 2344.1)"/><ellipse cx="572.4" cy="2394.8" rx="2.1" ry="1.15" transform="rotate(76 572.4 2394.8)"/><ellipse cx="546.5" cy="2398.2" rx="2.1" ry="1.15" transform="rotate(79 546.5 2398.2)"/><ellipse cx="461.9" cy="2379.1" rx="2.1" ry="1.15" transform="rotate(84 461.9 2379.1)"/><ellipse cx="511.9" cy="2356.5" rx="2.1" ry="1.15" transform="rotate(78 511.9 2356.5)"/><ellipse cx="473.1" cy="2335.8" rx="2.1" ry="1.15" transform="rotate(79 473.1 2335.8)"/><ellipse cx="582.5" cy="2324.4" rx="2.1" ry="1.15" transform="rotate(79 582.5 2324.4)"/><ellipse cx="515.7" cy="2316.6" rx="2.1" ry="1.15" transform="rotate(67 515.7 2316.6)"/><ellipse cx="488.7" cy="2383.6" rx="2.1" ry="1.15" transform="rotate(66 488.7 2383.6)"/><ellipse cx="498" cy="2376.2" rx="2.1" ry="1.15" transform="rotate(81 498 2376.2)"/><ellipse cx="582.8" cy="2398.4" rx="2.1" ry="1.15" transform="rotate(68 582.8 2398.4)"/><ellipse cx="523.3" cy="2374.7" rx="2.1" ry="1.15" transform="rotate(76 523.3 2374.7)"/><ellipse cx="528.5" cy="2351.9" rx="2.1" ry="1.15" transform="rotate(69 528.5 2351.9)"/><ellipse cx="538" cy="2402.1" rx="2.1" ry="1.15" transform="rotate(79 538 2402.1)"/><ellipse cx="536.8" cy="2410.7" rx="2.1" ry="1.15" transform="rotate(69 536.8 2410.7)"/><ellipse cx="525.5" cy="2397.3" rx="2.1" ry="1.15" transform="rotate(79 525.5 2397.3)"/><ellipse cx="447.3" cy="2365" rx="2.1" ry="1.15" transform="rotate(83 447.3 2365)"/><ellipse cx="474.7" cy="2353" rx="2.1" ry="1.15" transform="rotate(87 474.7 2353)"/><ellipse cx="509" cy="2368.3" rx="2.1" ry="1.15" transform="rotate(77 509 2368.3)"/><ellipse cx="562.9" cy="2359.4" rx="2.1" ry="1.15" transform="rotate(85 562.9 2359.4)"/><ellipse cx="543.2" cy="2353.8" rx="2.1" ry="1.15" transform="rotate(78 543.2 2353.8)"/><ellipse cx="488" cy="2318.1" rx="2.1" ry="1.15" transform="rotate(75 488 2318.1)"/><ellipse cx="453.3" cy="2343.4" rx="2.1" ry="1.15" transform="rotate(83 453.3 2343.4)"/><ellipse cx="579.4" cy="2333" rx="2.1" ry="1.15" transform="rotate(67 579.4 2333)"/><ellipse cx="495.2" cy="2358.8" rx="2.1" ry="1.15" transform="rotate(66 495.2 2358.8)"/><ellipse cx="557.1" cy="2328.9" rx="2.1" ry="1.15" transform="rotate(76 557.1 2328.9)"/><ellipse cx="484.2" cy="2378.9" rx="2.1" ry="1.15" transform="rotate(66 484.2 2378.9)"/><ellipse cx="514.4" cy="2399.5" rx="2.1" ry="1.15" transform="rotate(63 514.4 2399.5)"/><ellipse cx="473.4" cy="2320.2" rx="2.1" ry="1.15" transform="rotate(83 473.4 2320.2)"/><ellipse cx="538.5" cy="2337.5" rx="2.1" ry="1.15" transform="rotate(85 538.5 2337.5)"/><ellipse cx="470.7" cy="2362.7" rx="2.1" ry="1.15" transform="rotate(81 470.7 2362.7)"/><ellipse cx="529" cy="2319.5" rx="2.1" ry="1.15" transform="rotate(64 529 2319.5)"/><ellipse cx="472.2" cy="2409.4" rx="2.1" ry="1.15" transform="rotate(85 472.2 2409.4)"/><ellipse cx="488.1" cy="2317.7" rx="2.1" ry="1.15" transform="rotate(78 488.1 2317.7)"/><ellipse cx="474.1" cy="2404" rx="2.1" ry="1.15" transform="rotate(85 474.1 2404)"/><ellipse cx="553.7" cy="2392.2" rx="2.1" ry="1.15" transform="rotate(82 553.7 2392.2)"/><ellipse cx="560.5" cy="2351.6" rx="2.1" ry="1.15" transform="rotate(80 560.5 2351.6)"/><ellipse cx="448.8" cy="2383.8" rx="2.1" ry="1.15" transform="rotate(74 448.8 2383.8)"/><ellipse cx="581.3" cy="2393.1" rx="2.1" ry="1.15" transform="rotate(74 581.3 2393.1)"/><ellipse cx="543.5" cy="2372.6" rx="2.1" ry="1.15" transform="rotate(78 543.5 2372.6)"/><ellipse cx="448.2" cy="2335.8" rx="2.1" ry="1.15" transform="rotate(69 448.2 2335.8)"/><ellipse cx="543" cy="2406.4" rx="2.1" ry="1.15" transform="rotate(78 543 2406.4)"/><ellipse cx="550.4" cy="2377.8" rx="2.1" ry="1.15" transform="rotate(67 550.4 2377.8)"/><ellipse cx="481.9" cy="2372.2" rx="2.1" ry="1.15" transform="rotate(81 481.9 2372.2)"/><ellipse cx="504.2" cy="2383.8" rx="2.1" ry="1.15" transform="rotate(71 504.2 2383.8)"/><ellipse cx="490" cy="2330.1" rx="2.1" ry="1.15" transform="rotate(73 490 2330.1)"/><ellipse cx="526.1" cy="2324" rx="2.1" ry="1.15" transform="rotate(85 526.1 2324)"/><ellipse cx="448.2" cy="2387.5" rx="2.1" ry="1.15" transform="rotate(71 448.2 2387.5)"/><ellipse cx="574.9" cy="2342.1" rx="2.1" ry="1.15" transform="rotate(64 574.9 2342.1)"/><ellipse cx="541.2" cy="2351.5" rx="2.1" ry="1.15" transform="rotate(83 541.2 2351.5)"/><ellipse cx="538" cy="2357.9" rx="2.1" ry="1.15" transform="rotate(79 538 2357.9)"/><ellipse cx="540" cy="2346.4" rx="2.1" ry="1.15" transform="rotate(68 540 2346.4)"/><ellipse cx="536.2" cy="2371" rx="2.1" ry="1.15" transform="rotate(64 536.2 2371)"/><ellipse cx="469.2" cy="2356.8" rx="2.1" ry="1.15" transform="rotate(65 469.2 2356.8)"/><ellipse cx="518.6" cy="2353.2" rx="2.1" ry="1.15" transform="rotate(70 518.6 2353.2)"/><ellipse cx="549.4" cy="2388.2" rx="2.1" ry="1.15" transform="rotate(65 549.4 2388.2)"/><ellipse cx="528.5" cy="2414.2" rx="2.1" ry="1.15" transform="rotate(78 528.5 2414.2)"/><ellipse cx="581.3" cy="2336.6" rx="2.1" ry="1.15" transform="rotate(68 581.3 2336.6)"/><ellipse cx="491.7" cy="2336.8" rx="2.1" ry="1.15" transform="rotate(67 491.7 2336.8)"/><ellipse cx="481.8" cy="2364" rx="2.1" ry="1.15" transform="rotate(82 481.8 2364)"/><ellipse cx="552.4" cy="2316.9" rx="2.1" ry="1.15" transform="rotate(81 552.4 2316.9)"/><ellipse cx="534.1" cy="2340" rx="2.1" ry="1.15" transform="rotate(63 534.1 2340)"/><ellipse cx="564.3" cy="2326.6" rx="2.1" ry="1.15" transform="rotate(69 564.3 2326.6)"/><ellipse cx="488.6" cy="2394.2" rx="2.1" ry="1.15" transform="rotate(86 488.6 2394.2)"/><ellipse cx="571.9" cy="2399.6" rx="2.1" ry="1.15" transform="rotate(83 571.9 2399.6)"/><ellipse cx="511.5" cy="2318.5" rx="2.1" ry="1.15" transform="rotate(69 511.5 2318.5)"/><ellipse cx="466.3" cy="2324.6" rx="2.1" ry="1.15" transform="rotate(66 466.3 2324.6)"/><ellipse cx="490.6" cy="2317.9" rx="2.1" ry="1.15" transform="rotate(70 490.6 2317.9)"/><ellipse cx="563.7" cy="2337.5" rx="2.1" ry="1.15" transform="rotate(75 563.7 2337.5)"/><ellipse cx="563.1" cy="2314.4" rx="2.1" ry="1.15" transform="rotate(80 563.1 2314.4)"/><ellipse cx="521.1" cy="2315.9" rx="2.1" ry="1.15" transform="rotate(84 521.1 2315.9)"/><ellipse cx="555.5" cy="2323.2" rx="2.1" ry="1.15" transform="rotate(86 555.5 2323.2)"/><ellipse cx="525.8" cy="2377.7" rx="2.1" ry="1.15" transform="rotate(68 525.8 2377.7)"/><ellipse cx="451.3" cy="2384.9" rx="2.1" ry="1.15" transform="rotate(80 451.3 2384.9)"/><ellipse cx="471.8" cy="2316.3" rx="2.1" ry="1.15" transform="rotate(77 471.8 2316.3)"/><ellipse cx="489.1" cy="2348" rx="2.1" ry="1.15" transform="rotate(84 489.1 2348)"/><ellipse cx="524.2" cy="2324.9" rx="2.1" ry="1.15" transform="rotate(80 524.2 2324.9)"/><ellipse cx="545.3" cy="2370.8" rx="2.1" ry="1.15" transform="rotate(86 545.3 2370.8)"/><ellipse cx="512" cy="2379.2" rx="2.1" ry="1.15" transform="rotate(64 512 2379.2)"/><ellipse cx="488.1" cy="2343.5" rx="2.1" ry="1.15" transform="rotate(73 488.1 2343.5)"/><ellipse cx="516.8" cy="2324.5" rx="2.1" ry="1.15" transform="rotate(80 516.8 2324.5)"/><ellipse cx="454.5" cy="2338.6" rx="2.1" ry="1.15" transform="rotate(77 454.5 2338.6)"/><ellipse cx="450.4" cy="2346.4" rx="2.1" ry="1.15" transform="rotate(82 450.4 2346.4)"/><ellipse cx="546.8" cy="2351.2" rx="2.1" ry="1.15" transform="rotate(67 546.8 2351.2)"/><ellipse cx="549.4" cy="2401.6" rx="2.1" ry="1.15" transform="rotate(65 549.4 2401.6)"/><ellipse cx="504.1" cy="2368.8" rx="2.1" ry="1.15" transform="rotate(80 504.1 2368.8)"/><ellipse cx="474.7" cy="2396.8" rx="2.1" ry="1.15" transform="rotate(78 474.7 2396.8)"/><ellipse cx="556" cy="2409.7" rx="2.1" ry="1.15" transform="rotate(79 556 2409.7)"/><ellipse cx="538.5" cy="2343.2" rx="2.1" ry="1.15" transform="rotate(70 538.5 2343.2)"/><ellipse cx="498" cy="2395.6" rx="2.1" ry="1.15" transform="rotate(77 498 2395.6)"/><ellipse cx="485" cy="2405" rx="2.1" ry="1.15" transform="rotate(75 485 2405)"/><ellipse cx="580.5" cy="2379.5" rx="2.1" ry="1.15" transform="rotate(81 580.5 2379.5)"/><ellipse cx="494.1" cy="2414.1" rx="2.1" ry="1.15" transform="rotate(75 494.1 2414.1)"/><ellipse cx="538.9" cy="2354" rx="2.1" ry="1.15" transform="rotate(76 538.9 2354)"/><ellipse cx="471.2" cy="2350.4" rx="2.1" ry="1.15" transform="rotate(73 471.2 2350.4)"/><ellipse cx="548.4" cy="2329" rx="2.1" ry="1.15" transform="rotate(68 548.4 2329)"/><ellipse cx="534.8" cy="2361.2" rx="2.1" ry="1.15" transform="rotate(84 534.8 2361.2)"/><ellipse cx="449.8" cy="2358" rx="2.1" ry="1.15" transform="rotate(83 449.8 2358)"/><ellipse cx="550" cy="2348.9" rx="2.1" ry="1.15" transform="rotate(75 550 2348.9)"/><ellipse cx="501.2" cy="2313.3" rx="2.1" ry="1.15" transform="rotate(65 501.2 2313.3)"/><ellipse cx="478.2" cy="2401.9" rx="2.1" ry="1.15" transform="rotate(68 478.2 2401.9)"/><ellipse cx="486" cy="2369.8" rx="2.1" ry="1.15" transform="rotate(80 486 2369.8)"/><ellipse cx="535.5" cy="2344.4" rx="2.1" ry="1.15" transform="rotate(71 535.5 2344.4)"/><ellipse cx="448.9" cy="2394" rx="2.1" ry="1.15" transform="rotate(72 448.9 2394)"/><ellipse cx="486.9" cy="2334" rx="2.1" ry="1.15" transform="rotate(75 486.9 2334)"/><ellipse cx="467.5" cy="2346.1" rx="2.1" ry="1.15" transform="rotate(66 467.5 2346.1)"/><ellipse cx="473.1" cy="2366.7" rx="2.1" ry="1.15" transform="rotate(71 473.1 2366.7)"/><ellipse cx="461.7" cy="2401.9" rx="2.1" ry="1.15" transform="rotate(64 461.7 2401.9)"/><ellipse cx="503.4" cy="2342.7" rx="2.1" ry="1.15" transform="rotate(64 503.4 2342.7)"/><ellipse cx="487.4" cy="2357.9" rx="2.1" ry="1.15" transform="rotate(80 487.4 2357.9)"/><ellipse cx="482.4" cy="2351.6" rx="2.1" ry="1.15" transform="rotate(85 482.4 2351.6)"/><ellipse cx="533.6" cy="2358.3" rx="2.1" ry="1.15" transform="rotate(68 533.6 2358.3)"/><ellipse cx="554.2" cy="2407.9" rx="2.1" ry="1.15" transform="rotate(69 554.2 2407.9)"/><ellipse cx="563.1" cy="2351" rx="2.1" ry="1.15" transform="rotate(74 563.1 2351)"/><ellipse cx="450.6" cy="2337.6" rx="2.1" ry="1.15" transform="rotate(69 450.6 2337.6)"/><ellipse cx="474.7" cy="2397.2" rx="2.1" ry="1.15" transform="rotate(86 474.7 2397.2)"/><ellipse cx="490.5" cy="2394.8" rx="2.1" ry="1.15" transform="rotate(70 490.5 2394.8)"/><ellipse cx="526.3" cy="2332.7" rx="2.1" ry="1.15" transform="rotate(85 526.3 2332.7)"/><ellipse cx="517.3" cy="2373.1" rx="2.1" ry="1.15" transform="rotate(82 517.3 2373.1)"/><ellipse cx="518.5" cy="2362.9" rx="2.1" ry="1.15" transform="rotate(80 518.5 2362.9)"/><ellipse cx="511.7" cy="2371.7" rx="2.1" ry="1.15" transform="rotate(70 511.7 2371.7)"/><ellipse cx="467.9" cy="2335.6" rx="2.1" ry="1.15" transform="rotate(86 467.9 2335.6)"/><ellipse cx="527.6" cy="2314.7" rx="2.1" ry="1.15" transform="rotate(67 527.6 2314.7)"/><ellipse cx="526.6" cy="2365" rx="2.1" ry="1.15" transform="rotate(87 526.6 2365)"/><ellipse cx="570.2" cy="2320.1" rx="2.1" ry="1.15" transform="rotate(82 570.2 2320.1)"/><ellipse cx="581.1" cy="2389" rx="2.1" ry="1.15" transform="rotate(86 581.1 2389)"/><ellipse cx="499" cy="2377.1" rx="2.1" ry="1.15" transform="rotate(79 499 2377.1)"/><ellipse cx="555.7" cy="2386" rx="2.1" ry="1.15" transform="rotate(83 555.7 2386)"/><ellipse cx="493.1" cy="2394.1" rx="2.1" ry="1.15" transform="rotate(77 493.1 2394.1)"/><ellipse cx="578.1" cy="2345.9" rx="2.1" ry="1.15" transform="rotate(78 578.1 2345.9)"/><ellipse cx="564.4" cy="2390.5" rx="2.1" ry="1.15" transform="rotate(80 564.4 2390.5)"/><ellipse cx="467" cy="2328.7" rx="2.1" ry="1.15" transform="rotate(71 467 2328.7)"/><ellipse cx="536" cy="2316.1" rx="2.1" ry="1.15" transform="rotate(79 536 2316.1)"/><ellipse cx="463.5" cy="2332.6" rx="2.1" ry="1.15" transform="rotate(70 463.5 2332.6)"/><ellipse cx="521.9" cy="2386.2" rx="2.1" ry="1.15" transform="rotate(86 521.9 2386.2)"/><ellipse cx="478.2" cy="2321.5" rx="2.1" ry="1.15" transform="rotate(84 478.2 2321.5)"/><ellipse cx="527.5" cy="2406.7" rx="2.1" ry="1.15" transform="rotate(80 527.5 2406.7)"/><ellipse cx="464.8" cy="2349.8" rx="2.1" ry="1.15" transform="rotate(68 464.8 2349.8)"/><ellipse cx="508.5" cy="2342" rx="2.1" ry="1.15" transform="rotate(84 508.5 2342)"/><ellipse cx="569.2" cy="2332.1" rx="2.1" ry="1.15" transform="rotate(87 569.2 2332.1)"/><ellipse cx="578.3" cy="2352.2" rx="2.1" ry="1.15" transform="rotate(84 578.3 2352.2)"/><ellipse cx="576" cy="2387.9" rx="2.1" ry="1.15" transform="rotate(72 576 2387.9)"/><ellipse cx="532.9" cy="2391.2" rx="2.1" ry="1.15" transform="rotate(71 532.9 2391.2)"/><ellipse cx="511.9" cy="2321.9" rx="2.1" ry="1.15" transform="rotate(67 511.9 2321.9)"/><ellipse cx="555.5" cy="2344.3" rx="2.1" ry="1.15" transform="rotate(80 555.5 2344.3)"/><ellipse cx="505.6" cy="2385.5" rx="2.1" ry="1.15" transform="rotate(70 505.6 2385.5)"/><ellipse cx="458.9" cy="2381" rx="2.1" ry="1.15" transform="rotate(69 458.9 2381)"/><ellipse cx="475" cy="2360.2" rx="2.1" ry="1.15" transform="rotate(75 475 2360.2)"/><ellipse cx="568.5" cy="2384" rx="2.1" ry="1.15" transform="rotate(73 568.5 2384)"/><ellipse cx="507.2" cy="2374.1" rx="2.1" ry="1.15" transform="rotate(66 507.2 2374.1)"/><ellipse cx="487.7" cy="2374.5" rx="2.1" ry="1.15" transform="rotate(86 487.7 2374.5)"/><ellipse cx="529" cy="2334.2" rx="2.1" ry="1.15" transform="rotate(86 529 2334.2)"/><ellipse cx="555.6" cy="2335.6" rx="2.1" ry="1.15" transform="rotate(72 555.6 2335.6)"/><ellipse cx="451.7" cy="2390.7" rx="2.1" ry="1.15" transform="rotate(68 451.7 2390.7)"/><ellipse cx="559.7" cy="2386.2" rx="2.1" ry="1.15" transform="rotate(82 559.7 2386.2)"/><ellipse cx="524" cy="2337.6" rx="2.1" ry="1.15" transform="rotate(64 524 2337.6)"/><ellipse cx="528.1" cy="2314.1" rx="2.1" ry="1.15" transform="rotate(75 528.1 2314.1)"/><ellipse cx="552.6" cy="2327.1" rx="2.1" ry="1.15" transform="rotate(73 552.6 2327.1)"/><ellipse cx="520.9" cy="2328.2" rx="2.1" ry="1.15" transform="rotate(68 520.9 2328.2)"/><ellipse cx="530.3" cy="2330.5" rx="2.1" ry="1.15" transform="rotate(67 530.3 2330.5)"/><ellipse cx="477.2" cy="2408.5" rx="2.1" ry="1.15" transform="rotate(85 477.2 2408.5)"/><ellipse cx="462.3" cy="2371.4" rx="2.1" ry="1.15" transform="rotate(73 462.3 2371.4)"/><ellipse cx="451.3" cy="2338.5" rx="2.1" ry="1.15" transform="rotate(79 451.3 2338.5)"/><ellipse cx="449.8" cy="2410.8" rx="2.1" ry="1.15" transform="rotate(70 449.8 2410.8)"/><ellipse cx="494.5" cy="2409.8" rx="2.1" ry="1.15" transform="rotate(66 494.5 2409.8)"/><ellipse cx="464.9" cy="2361.1" rx="2.1" ry="1.15" transform="rotate(71 464.9 2361.1)"/><ellipse cx="490.6" cy="2372.3" rx="2.1" ry="1.15" transform="rotate(86 490.6 2372.3)"/><ellipse cx="503.7" cy="2317.3" rx="2.1" ry="1.15" transform="rotate(72 503.7 2317.3)"/><ellipse cx="563.3" cy="2357" rx="2.1" ry="1.15" transform="rotate(64 563.3 2357)"/><ellipse cx="481.1" cy="2336" rx="2.1" ry="1.15" transform="rotate(71 481.1 2336)"/><ellipse cx="490.5" cy="2381.4" rx="2.1" ry="1.15" transform="rotate(80 490.5 2381.4)"/><ellipse cx="453.2" cy="2327.7" rx="2.1" ry="1.15" transform="rotate(83 453.2 2327.7)"/><ellipse cx="566.4" cy="2393.4" rx="2.1" ry="1.15" transform="rotate(67 566.4 2393.4)"/><ellipse cx="541.5" cy="2320.5" rx="2.1" ry="1.15" transform="rotate(79 541.5 2320.5)"/><ellipse cx="477.3" cy="2398.6" rx="2.1" ry="1.15" transform="rotate(83 477.3 2398.6)"/><ellipse cx="510.8" cy="2387" rx="2.1" ry="1.15" transform="rotate(86 510.8 2387)"/><ellipse cx="568.8" cy="2379" rx="2.1" ry="1.15" transform="rotate(78 568.8 2379)"/><ellipse cx="495.7" cy="2382.6" rx="2.1" ry="1.15" transform="rotate(66 495.7 2382.6)"/><ellipse cx="509.5" cy="2321.5" rx="2.1" ry="1.15" transform="rotate(65 509.5 2321.5)"/><ellipse cx="538.1" cy="2356.4" rx="2.1" ry="1.15" transform="rotate(68 538.1 2356.4)"/><ellipse cx="576.4" cy="2342.5" rx="2.1" ry="1.15" transform="rotate(76 576.4 2342.5)"/><ellipse cx="513.9" cy="2331.7" rx="2.1" ry="1.15" transform="rotate(87 513.9 2331.7)"/><ellipse cx="550.5" cy="2404" rx="2.1" ry="1.15" transform="rotate(70 550.5 2404)"/><ellipse cx="571.3" cy="2405.8" rx="2.1" ry="1.15" transform="rotate(86 571.3 2405.8)"/><ellipse cx="471.4" cy="2328.7" rx="2.1" ry="1.15" transform="rotate(65 471.4 2328.7)"/><ellipse cx="459.4" cy="2384.5" rx="2.1" ry="1.15" transform="rotate(64 459.4 2384.5)"/><ellipse cx="510.4" cy="2349.1" rx="2.1" ry="1.15" transform="rotate(80 510.4 2349.1)"/><ellipse cx="453.4" cy="2386.5" rx="2.1" ry="1.15" transform="rotate(86 453.4 2386.5)"/><ellipse cx="487.5" cy="2354" rx="2.1" ry="1.15" transform="rotate(81 487.5 2354)"/><ellipse cx="488.7" cy="2399.3" rx="2.1" ry="1.15" transform="rotate(87 488.7 2399.3)"/><ellipse cx="477.4" cy="2360.9" rx="2.1" ry="1.15" transform="rotate(67 477.4 2360.9)"/><ellipse cx="523.1" cy="2353" rx="2.1" ry="1.15" transform="rotate(86 523.1 2353)"/><ellipse cx="546.2" cy="2414.2" rx="2.1" ry="1.15" transform="rotate(82 546.2 2414.2)"/><ellipse cx="559.5" cy="2351.9" rx="2.1" ry="1.15" transform="rotate(79 559.5 2351.9)"/><ellipse cx="462.5" cy="2348.4" rx="2.1" ry="1.15" transform="rotate(85 462.5 2348.4)"/><ellipse cx="580.7" cy="2330.5" rx="2.1" ry="1.15" transform="rotate(75 580.7 2330.5)"/><ellipse cx="502.3" cy="2376.2" rx="2.1" ry="1.15" transform="rotate(77 502.3 2376.2)"/><ellipse cx="482.7" cy="2402.7" rx="2.1" ry="1.15" transform="rotate(74 482.7 2402.7)"/><ellipse cx="552.8" cy="2386.6" rx="2.1" ry="1.15" transform="rotate(87 552.8 2386.6)"/><ellipse cx="517.3" cy="2373" rx="2.1" ry="1.15" transform="rotate(82 517.3 2373)"/><ellipse cx="478.4" cy="2317.4" rx="2.1" ry="1.15" transform="rotate(83 478.4 2317.4)"/><ellipse cx="541.7" cy="2389.4" rx="2.1" ry="1.15" transform="rotate(82 541.7 2389.4)"/><ellipse cx="474.4" cy="2402.5" rx="2.1" ry="1.15" transform="rotate(78 474.4 2402.5)"/><ellipse cx="575.8" cy="2369.6" rx="2.1" ry="1.15" transform="rotate(84 575.8 2369.6)"/><ellipse cx="454.9" cy="2329.7" rx="2.1" ry="1.15" transform="rotate(76 454.9 2329.7)"/><ellipse cx="538.1" cy="2352.2" rx="2.1" ry="1.15" transform="rotate(65 538.1 2352.2)"/><ellipse cx="567.9" cy="2320.1" rx="2.1" ry="1.15" transform="rotate(84 567.9 2320.1)"/><ellipse cx="478.9" cy="2385" rx="2.1" ry="1.15" transform="rotate(77 478.9 2385)"/><ellipse cx="479.3" cy="2346.4" rx="2.1" ry="1.15" transform="rotate(69 479.3 2346.4)"/><ellipse cx="519.8" cy="2341.2" rx="2.1" ry="1.15" transform="rotate(76 519.8 2341.2)"/><ellipse cx="485.5" cy="2325.1" rx="2.1" ry="1.15" transform="rotate(80 485.5 2325.1)"/><ellipse cx="482.8" cy="2409.7" rx="2.1" ry="1.15" transform="rotate(73 482.8 2409.7)"/><ellipse cx="482.8" cy="2386.2" rx="2.1" ry="1.15" transform="rotate(85 482.8 2386.2)"/><ellipse cx="497.6" cy="2387.7" rx="2.1" ry="1.15" transform="rotate(71 497.6 2387.7)"/><ellipse cx="582.6" cy="2343.5" rx="2.1" ry="1.15" transform="rotate(64 582.6 2343.5)"/><ellipse cx="447.6" cy="2368.3" rx="2.1" ry="1.15" transform="rotate(78 447.6 2368.3)"/><ellipse cx="486.1" cy="2355.1" rx="2.1" ry="1.15" transform="rotate(73 486.1 2355.1)"/><ellipse cx="496.6" cy="2332.2" rx="2.1" ry="1.15" transform="rotate(76 496.6 2332.2)"/><ellipse cx="537.9" cy="2315.6" rx="2.1" ry="1.15" transform="rotate(84 537.9 2315.6)"/><ellipse cx="482.5" cy="2361.4" rx="2.1" ry="1.15" transform="rotate(68 482.5 2361.4)"/><ellipse cx="538.9" cy="2354.3" rx="2.1" ry="1.15" transform="rotate(77 538.9 2354.3)"/><ellipse cx="502.7" cy="2364.7" rx="2.1" ry="1.15" transform="rotate(65 502.7 2364.7)"/><ellipse cx="580.9" cy="2356.3" rx="2.1" ry="1.15" transform="rotate(71 580.9 2356.3)"/><ellipse cx="562.5" cy="2342.9" rx="2.1" ry="1.15" transform="rotate(82 562.5 2342.9)"/><ellipse cx="504.9" cy="2324.7" rx="2.1" ry="1.15" transform="rotate(77 504.9 2324.7)"/><ellipse cx="485.3" cy="2333.4" rx="2.1" ry="1.15" transform="rotate(87 485.3 2333.4)"/><ellipse cx="574.8" cy="2361" rx="2.1" ry="1.15" transform="rotate(82 574.8 2361)"/><ellipse cx="538.4" cy="2343.7" rx="2.1" ry="1.15" transform="rotate(66 538.4 2343.7)"/><ellipse cx="526.3" cy="2332.3" rx="2.1" ry="1.15" transform="rotate(81 526.3 2332.3)"/><ellipse cx="528.2" cy="2335.3" rx="2.1" ry="1.15" transform="rotate(82 528.2 2335.3)"/><ellipse cx="579" cy="2361.9" rx="2.1" ry="1.15" transform="rotate(86 579 2361.9)"/><ellipse cx="508.4" cy="2314.6" rx="2.1" ry="1.15" transform="rotate(74 508.4 2314.6)"/><ellipse cx="495.1" cy="2406.6" rx="2.1" ry="1.15" transform="rotate(76 495.1 2406.6)"/><ellipse cx="578" cy="2329.4" rx="2.1" ry="1.15" transform="rotate(72 578 2329.4)"/><ellipse cx="449" cy="2318.1" rx="2.1" ry="1.15" transform="rotate(80 449 2318.1)"/><ellipse cx="451.6" cy="2335.5" rx="2.1" ry="1.15" transform="rotate(73 451.6 2335.5)"/><ellipse cx="572.6" cy="2336.9" rx="2.1" ry="1.15" transform="rotate(63 572.6 2336.9)"/><ellipse cx="542.7" cy="2384" rx="2.1" ry="1.15" transform="rotate(66 542.7 2384)"/><ellipse cx="573.6" cy="2401.2" rx="2.1" ry="1.15" transform="rotate(85 573.6 2401.2)"/><ellipse cx="559.4" cy="2368.7" rx="2.1" ry="1.15" transform="rotate(80 559.4 2368.7)"/><ellipse cx="464" cy="2378.6" rx="2.1" ry="1.15" transform="rotate(72 464 2378.6)"/><ellipse cx="492.9" cy="2344.8" rx="2.1" ry="1.15" transform="rotate(65 492.9 2344.8)"/><ellipse cx="557.6" cy="2390.9" rx="2.1" ry="1.15" transform="rotate(63 557.6 2390.9)"/><ellipse cx="517" cy="2315.1" rx="2.1" ry="1.15" transform="rotate(76 517 2315.1)"/><ellipse cx="469.9" cy="2411" rx="2.1" ry="1.15" transform="rotate(71 469.9 2411)"/><ellipse cx="518.4" cy="2339.6" rx="2.1" ry="1.15" transform="rotate(85 518.4 2339.6)"/><ellipse cx="448.2" cy="2343.7" rx="2.1" ry="1.15" transform="rotate(68 448.2 2343.7)"/><ellipse cx="548.8" cy="2350.8" rx="2.1" ry="1.15" transform="rotate(84 548.8 2350.8)"/><ellipse cx="491.8" cy="2325.7" rx="2.1" ry="1.15" transform="rotate(74 491.8 2325.7)"/><ellipse cx="458.8" cy="2328.4" rx="2.1" ry="1.15" transform="rotate(76 458.8 2328.4)"/><ellipse cx="525.4" cy="2334.6" rx="2.1" ry="1.15" transform="rotate(67 525.4 2334.6)"/><ellipse cx="518.2" cy="2358.3" rx="2.1" ry="1.15" transform="rotate(75 518.2 2358.3)"/><ellipse cx="538.5" cy="2327.2" rx="2.1" ry="1.15" transform="rotate(63 538.5 2327.2)"/><ellipse cx="455.9" cy="2394" rx="2.1" ry="1.15" transform="rotate(80 455.9 2394)"/><ellipse cx="468" cy="2346.6" rx="2.1" ry="1.15" transform="rotate(70 468 2346.6)"/><ellipse cx="572.9" cy="2354.9" rx="2.1" ry="1.15" transform="rotate(80 572.9 2354.9)"/><ellipse cx="458.8" cy="2317" rx="2.1" ry="1.15" transform="rotate(68 458.8 2317)"/><ellipse cx="534.6" cy="2358.5" rx="2.1" ry="1.15" transform="rotate(84 534.6 2358.5)"/><ellipse cx="559.2" cy="2380.7" rx="2.1" ry="1.15" transform="rotate(87 559.2 2380.7)"/><ellipse cx="578" cy="2403" rx="2.1" ry="1.15" transform="rotate(65 578 2403)"/><ellipse cx="501.6" cy="2327.7" rx="2.1" ry="1.15" transform="rotate(78 501.6 2327.7)"/><ellipse cx="515.9" cy="2322.2" rx="2.1" ry="1.15" transform="rotate(65 515.9 2322.2)"/><ellipse cx="510.5" cy="2376.7" rx="2.1" ry="1.15" transform="rotate(73 510.5 2376.7)"/><ellipse cx="511.4" cy="2377.6" rx="2.1" ry="1.15" transform="rotate(80 511.4 2377.6)"/><ellipse cx="543.6" cy="2355.2" rx="2.1" ry="1.15" transform="rotate(67 543.6 2355.2)"/><ellipse cx="565.7" cy="2317" rx="2.1" ry="1.15" transform="rotate(68 565.7 2317)"/><ellipse cx="473.1" cy="2373.5" rx="2.1" ry="1.15" transform="rotate(78 473.1 2373.5)"/><ellipse cx="460.7" cy="2365.4" rx="2.1" ry="1.15" transform="rotate(77 460.7 2365.4)"/><ellipse cx="540.7" cy="2320.4" rx="2.1" ry="1.15" transform="rotate(80 540.7 2320.4)"/><ellipse cx="483.9" cy="2352.1" rx="2.1" ry="1.15" transform="rotate(66 483.9 2352.1)"/><ellipse cx="561.9" cy="2376" rx="2.1" ry="1.15" transform="rotate(83 561.9 2376)"/><ellipse cx="517.3" cy="2324.1" rx="2.1" ry="1.15" transform="rotate(73 517.3 2324.1)"/><ellipse cx="457.8" cy="2322.9" rx="2.1" ry="1.15" transform="rotate(82 457.8 2322.9)"/><ellipse cx="447.1" cy="2352.6" rx="2.1" ry="1.15" transform="rotate(64 447.1 2352.6)"/><ellipse cx="551.3" cy="2414.1" rx="2.1" ry="1.15" transform="rotate(64 551.3 2414.1)"/><ellipse cx="496.7" cy="2412.5" rx="2.1" ry="1.15" transform="rotate(69 496.7 2412.5)"/><ellipse cx="489.4" cy="2413.7" rx="2.1" ry="1.15" transform="rotate(85 489.4 2413.7)"/><ellipse cx="499.8" cy="2381.3" rx="2.1" ry="1.15" transform="rotate(82 499.8 2381.3)"/><ellipse cx="495.4" cy="2313" rx="2.1" ry="1.15" transform="rotate(72 495.4 2313)"/><ellipse cx="541.5" cy="2411.4" rx="2.1" ry="1.15" transform="rotate(74 541.5 2411.4)"/><ellipse cx="503.1" cy="2351.7" rx="2.1" ry="1.15" transform="rotate(78 503.1 2351.7)"/><ellipse cx="450.1" cy="2406.1" rx="2.1" ry="1.15" transform="rotate(86 450.1 2406.1)"/><ellipse cx="451.4" cy="2313.4" rx="2.1" ry="1.15" transform="rotate(71 451.4 2313.4)"/><ellipse cx="467" cy="2391.4" rx="2.1" ry="1.15" transform="rotate(84 467 2391.4)"/><ellipse cx="521.5" cy="2409.3" rx="2.1" ry="1.15" transform="rotate(68 521.5 2409.3)"/><ellipse cx="473.8" cy="2352" rx="2.1" ry="1.15" transform="rotate(74 473.8 2352)"/><ellipse cx="474.1" cy="2406.9" rx="2.1" ry="1.15" transform="rotate(81 474.1 2406.9)"/><ellipse cx="486.4" cy="2335.9" rx="2.1" ry="1.15" transform="rotate(70 486.4 2335.9)"/><ellipse cx="501" cy="2379.7" rx="2.1" ry="1.15" transform="rotate(82 501 2379.7)"/><ellipse cx="576.6" cy="2321.1" rx="2.1" ry="1.15" transform="rotate(68 576.6 2321.1)"/><ellipse cx="498.9" cy="2410.1" rx="2.1" ry="1.15" transform="rotate(74 498.9 2410.1)"/><ellipse cx="545.1" cy="2397.5" rx="2.1" ry="1.15" transform="rotate(74 545.1 2397.5)"/><ellipse cx="498.5" cy="2392.1" rx="2.1" ry="1.15" transform="rotate(78 498.5 2392.1)"/><ellipse cx="582.4" cy="2340.5" rx="2.1" ry="1.15" transform="rotate(86 582.4 2340.5)"/><ellipse cx="513.4" cy="2401.6" rx="2.1" ry="1.15" transform="rotate(78 513.4 2401.6)"/><ellipse cx="523.9" cy="2400.2" rx="2.1" ry="1.15" transform="rotate(65 523.9 2400.2)"/><ellipse cx="485.3" cy="2362.6" rx="2.1" ry="1.15" transform="rotate(83 485.3 2362.6)"/><ellipse cx="472.5" cy="2392.5" rx="2.1" ry="1.15" transform="rotate(65 472.5 2392.5)"/><ellipse cx="494.8" cy="2360.2" rx="2.1" ry="1.15" transform="rotate(80 494.8 2360.2)"/><ellipse cx="518.3" cy="2399.6" rx="2.1" ry="1.15" transform="rotate(80 518.3 2399.6)"/><ellipse cx="499.4" cy="2366" rx="2.1" ry="1.15" transform="rotate(72 499.4 2366)"/><ellipse cx="566" cy="2343.8" rx="2.1" ry="1.15" transform="rotate(67 566 2343.8)"/><ellipse cx="480.4" cy="2338.4" rx="2.1" ry="1.15" transform="rotate(82 480.4 2338.4)"/><ellipse cx="540.7" cy="2337.9" rx="2.1" ry="1.15" transform="rotate(73 540.7 2337.9)"/><ellipse cx="569.1" cy="2411" rx="2.1" ry="1.15" transform="rotate(68 569.1 2411)"/><ellipse cx="575.7" cy="2318.8" rx="2.1" ry="1.15" transform="rotate(87 575.7 2318.8)"/><ellipse cx="490.8" cy="2410.3" rx="2.1" ry="1.15" transform="rotate(64 490.8 2410.3)"/><ellipse cx="540.9" cy="2407.3" rx="2.1" ry="1.15" transform="rotate(83 540.9 2407.3)"/><ellipse cx="525.1" cy="2328.7" rx="2.1" ry="1.15" transform="rotate(69 525.1 2328.7)"/><ellipse cx="575.6" cy="2401.4" rx="2.1" ry="1.15" transform="rotate(68 575.6 2401.4)"/><ellipse cx="494" cy="2375.5" rx="2.1" ry="1.15" transform="rotate(70 494 2375.5)"/><ellipse cx="476.2" cy="2401.6" rx="2.1" ry="1.15" transform="rotate(66 476.2 2401.6)"/><ellipse cx="533.4" cy="2354.3" rx="2.1" ry="1.15" transform="rotate(74 533.4 2354.3)"/><ellipse cx="565.9" cy="2389" rx="2.1" ry="1.15" transform="rotate(82 565.9 2389)"/><ellipse cx="449.3" cy="2395.6" rx="2.1" ry="1.15" transform="rotate(82 449.3 2395.6)"/><ellipse cx="447.2" cy="2335.9" rx="2.1" ry="1.15" transform="rotate(81 447.2 2335.9)"/><ellipse cx="565.6" cy="2367.9" rx="2.1" ry="1.15" transform="rotate(84 565.6 2367.9)"/></g><g fill="none" stroke="#8a8a8a" stroke-width="0.6"><circle cx="459.1" cy="2339.4" r="1.5"/><circle cx="558.9" cy="2393.9" r="1.5"/><circle cx="477.5" cy="2371" r="1.5"/><circle cx="506.8" cy="2388.3" r="1.5"/><circle cx="501.4" cy="2345.4" r="1.5"/><circle cx="550.9" cy="2383.9" r="1.5"/><circle cx="496.4" cy="2385.8" r="1.5"/><circle cx="482.9" cy="2364" r="1.5"/><circle cx="472.7" cy="2347.9" r="1.5"/><circle cx="504.1" cy="2321.8" r="1.5"/><circle cx="489.6" cy="2348.7" r="1.5"/><circle cx="491.7" cy="2364.6" r="1.5"/><circle cx="569.7" cy="2399.6" r="1.5"/><circle cx="487.4" cy="2326.6" r="1.5"/><circle cx="459.1" cy="2403.3" r="1.5"/><circle cx="550.7" cy="2388.3" r="1.5"/><circle cx="570.8" cy="2353.8" r="1.5"/><circle cx="470.4" cy="2322.1" r="1.5"/><circle cx="501.5" cy="2391.3" r="1.5"/><circle cx="458.7" cy="2357.5" r="1.5"/><circle cx="458.2" cy="2334.7" r="1.5"/><circle cx="522.5" cy="2379.2" r="1.5"/><circle cx="575.6" cy="2345.5" r="1.5"/><circle cx="478.8" cy="2319.1" r="1.5"/><circle cx="472.7" cy="2316.4" r="1.5"/><circle cx="447.3" cy="2324.6" r="1.5"/><circle cx="520.2" cy="2359.5" r="1.5"/><circle cx="570.7" cy="2362.4" r="1.5"/><circle cx="458.9" cy="2327.7" r="1.5"/><circle cx="542.6" cy="2413" r="1.5"/><circle cx="549.2" cy="2336.8" r="1.5"/><circle cx="494.2" cy="2357.5" r="1.5"/><circle cx="506.2" cy="2341.7" r="1.5"/><circle cx="468.2" cy="2315.5" r="1.5"/><circle cx="567.1" cy="2412.5" r="1.5"/><circle cx="580.4" cy="2351.6" r="1.5"/><circle cx="540.8" cy="2333.9" r="1.5"/><circle cx="462.4" cy="2313.1" r="1.5"/><circle cx="492.5" cy="2394.3" r="1.5"/><circle cx="519" cy="2336.7" r="1.5"/><circle cx="512.7" cy="2368.1" r="1.5"/><circle cx="473.7" cy="2358.6" r="1.5"/><circle cx="573.7" cy="2358.6" r="1.5"/><circle cx="582.1" cy="2386.7" r="1.5"/><circle cx="464.6" cy="2406.7" r="1.5"/><circle cx="541.5" cy="2358.1" r="1.5"/><circle cx="472.8" cy="2380.1" r="1.5"/><circle cx="473" cy="2360" r="1.5"/><circle cx="467.7" cy="2355.1" r="1.5"/><circle cx="578.9" cy="2373.9" r="1.5"/><circle cx="517" cy="2376" r="1.5"/><circle cx="536.3" cy="2374.4" r="1.5"/><circle cx="486" cy="2334.5" r="1.5"/><circle cx="529.7" cy="2407.8" r="1.5"/><circle cx="565.9" cy="2362.7" r="1.5"/><circle cx="487.3" cy="2372.8" r="1.5"/><circle cx="453.5" cy="2363.6" r="1.5"/><circle cx="553.9" cy="2411.7" r="1.5"/><circle cx="459.5" cy="2333.3" r="1.5"/><circle cx="512.5" cy="2375" r="1.5"/><circle cx="578.5" cy="2323.8" r="1.5"/><circle cx="464.7" cy="2362.3" r="1.5"/><circle cx="555.2" cy="2315.7" r="1.5"/><circle cx="498.9" cy="2385.5" r="1.5"/><circle cx="504.4" cy="2331.1" r="1.5"/><circle cx="456.8" cy="2390.6" r="1.5"/><circle cx="516.6" cy="2367.8" r="1.5"/><circle cx="540.2" cy="2390.8" r="1.5"/><circle cx="501.9" cy="2350.1" r="1.5"/><circle cx="572.4" cy="2320.6" r="1.5"/><circle cx="553" cy="2359.9" r="1.5"/><circle cx="519.7" cy="2338.4" r="1.5"/><circle cx="575.6" cy="2343.9" r="1.5"/><circle cx="490.8" cy="2318.9" r="1.5"/><circle cx="568.6" cy="2397.6" r="1.5"/><circle cx="454" cy="2327.9" r="1.5"/><circle cx="486.4" cy="2315.7" r="1.5"/><circle cx="514.9" cy="2399.5" r="1.5"/><circle cx="545.2" cy="2364.2" r="1.5"/><circle cx="580.6" cy="2343.9" r="1.5"/><circle cx="490.4" cy="2340" r="1.5"/><circle cx="529.3" cy="2360.5" r="1.5"/><circle cx="464.1" cy="2363.1" r="1.5"/><circle cx="578.8" cy="2402.4" r="1.5"/><circle cx="532.1" cy="2400.9" r="1.5"/><circle cx="513.4" cy="2363.6" r="1.5"/><circle cx="542" cy="2333.4" r="1.5"/><circle cx="528" cy="2364.1" r="1.5"/><circle cx="487.7" cy="2363.6" r="1.5"/><circle cx="471.4" cy="2378.5" r="1.5"/><circle cx="462.7" cy="2358.5" r="1.5"/><circle cx="454.7" cy="2368" r="1.5"/><circle cx="460.3" cy="2397" r="1.5"/><circle cx="449.6" cy="2395.3" r="1.5"/><circle cx="487.8" cy="2410.3" r="1.5"/><circle cx="491.9" cy="2327.6" r="1.5"/><circle cx="538.4" cy="2337.7" r="1.5"/><circle cx="557.9" cy="2361.6" r="1.5"/><circle cx="483.5" cy="2373.2" r="1.5"/><circle cx="477.5" cy="2339.9" r="1.5"/><circle cx="458.3" cy="2337.1" r="1.5"/><circle cx="476.9" cy="2329.1" r="1.5"/><circle cx="503.8" cy="2358.7" r="1.5"/><circle cx="528.1" cy="2369.1" r="1.5"/><circle cx="540.1" cy="2375.5" r="1.5"/><circle cx="511.3" cy="2400.1" r="1.5"/></g></g>
<rect x="570.9" y="2411.8" width="12" height="3" fill="#000" stroke="none" stroke-width="0"/>
<text transform="translate(22.3,2207.8) rotate(-90)" font-size="19.5" text-anchor="middle" fill="#1a1a1a">AsPC-1</text>
<text transform="translate(22.3,2363.7) rotate(-90)" font-size="19.5" text-anchor="middle" fill="#1a1a1a">PANC-1</text></svg></body></html>
